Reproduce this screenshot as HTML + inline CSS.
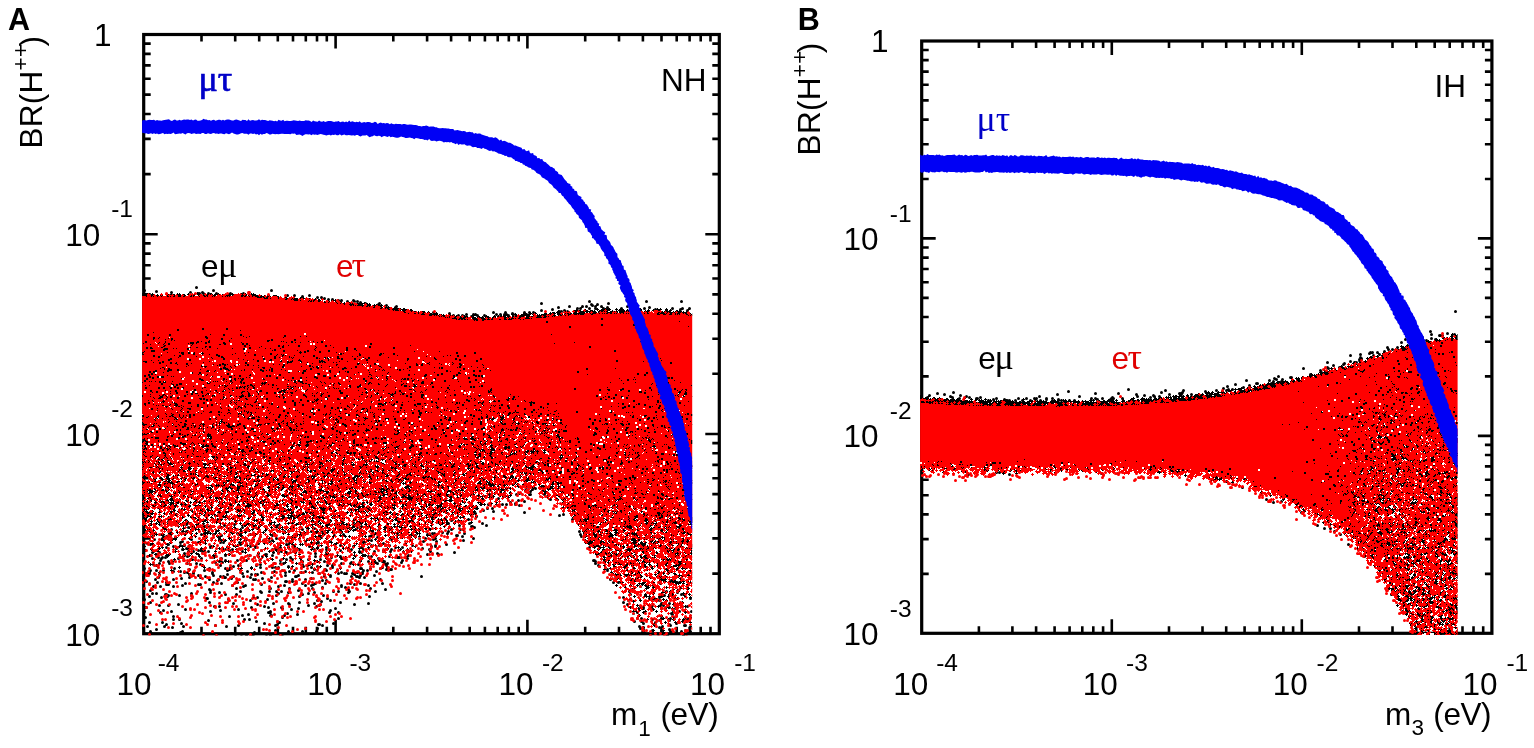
<!DOCTYPE html><html><head><meta charset="utf-8"><title>BR(H++) vs lightest neutrino mass</title><style>html,body{margin:0;padding:0;background:#fff}svg{display:block}text{font-family:"Liberation Sans",sans-serif;fill:#000}.g{font-family:"Liberation Serif","DejaVu Serif",serif}.d{fill:none;stroke-width:2.50;stroke-linecap:round;stroke-linejoin:round;shape-rendering:crispEdges}.D{fill:none;stroke-width:3;stroke-linecap:round}.s1{fill:none;stroke-width:1;stroke-linecap:square;shape-rendering:crispEdges}.s2{fill:none;stroke-width:2;stroke-linecap:square;shape-rendering:crispEdges}</style></head><body><svg width="1534" height="748" viewBox="0 0 1534 748"><rect width="1534" height="748" fill="#fff"/><rect x="143.7" y="34.5" width="575.6" height="599.2" fill="none" stroke="#000" stroke-width="3.2"/><path d="M201.5 34.5v7.0M201.5 633.7v-7.0M235.2 34.5v7.0M235.2 633.7v-7.0M259.2 34.5v7.0M259.2 633.7v-7.0M277.8 34.5v7.0M277.8 633.7v-7.0M293.0 34.5v7.0M293.0 633.7v-7.0M305.8 34.5v7.0M305.8 633.7v-7.0M317.0 34.5v7.0M317.0 633.7v-7.0M326.8 34.5v7.0M326.8 633.7v-7.0M335.6 34.5v14.0M335.6 633.7v-14.0M393.3 34.5v7.0M393.3 633.7v-7.0M427.1 34.5v7.0M427.1 633.7v-7.0M451.1 34.5v7.0M451.1 633.7v-7.0M469.7 34.5v7.0M469.7 633.7v-7.0M484.9 34.5v7.0M484.9 633.7v-7.0M497.7 34.5v7.0M497.7 633.7v-7.0M508.8 34.5v7.0M508.8 633.7v-7.0M518.7 34.5v7.0M518.7 633.7v-7.0M527.4 34.5v14.0M527.4 633.7v-14.0M585.2 34.5v7.0M585.2 633.7v-7.0M619.0 34.5v7.0M619.0 633.7v-7.0M642.9 34.5v7.0M642.9 633.7v-7.0M661.5 34.5v7.0M661.5 633.7v-7.0M676.7 34.5v7.0M676.7 633.7v-7.0M689.6 34.5v7.0M689.6 633.7v-7.0M700.7 34.5v7.0M700.7 633.7v-7.0M710.5 34.5v7.0M710.5 633.7v-7.0M143.7 573.6h7.0M719.3 573.6h-7.0M143.7 538.4h7.0M719.3 538.4h-7.0M143.7 513.4h7.0M719.3 513.4h-7.0M143.7 494.1h7.0M719.3 494.1h-7.0M143.7 478.3h7.0M719.3 478.3h-7.0M143.7 464.9h7.0M719.3 464.9h-7.0M143.7 453.3h7.0M719.3 453.3h-7.0M143.7 443.1h7.0M719.3 443.1h-7.0M143.7 434.0h14.0M719.3 434.0h-14.0M143.7 373.8h7.0M719.3 373.8h-7.0M143.7 338.7h7.0M719.3 338.7h-7.0M143.7 313.7h7.0M719.3 313.7h-7.0M143.7 294.4h7.0M719.3 294.4h-7.0M143.7 278.5h7.0M719.3 278.5h-7.0M143.7 265.2h7.0M719.3 265.2h-7.0M143.7 253.6h7.0M719.3 253.6h-7.0M143.7 243.4h7.0M719.3 243.4h-7.0M143.7 234.2h14.0M719.3 234.2h-14.0M143.7 174.1h7.0M719.3 174.1h-7.0M143.7 138.9h7.0M719.3 138.9h-7.0M143.7 114.0h7.0M719.3 114.0h-7.0M143.7 94.6h7.0M719.3 94.6h-7.0M143.7 78.8h7.0M719.3 78.8h-7.0M143.7 65.4h7.0M719.3 65.4h-7.0M143.7 53.9h7.0M719.3 53.9h-7.0M143.7 43.6h7.0M719.3 43.6h-7.0" stroke="#000" stroke-width="2.6" fill="none"/><rect x="921.7" y="41.0" width="570.2" height="592.3" fill="none" stroke="#000" stroke-width="3.2"/><path d="M978.9 41.0v7.0M978.9 633.3v-7.0M1012.4 41.0v7.0M1012.4 633.3v-7.0M1036.1 41.0v7.0M1036.1 633.3v-7.0M1054.6 41.0v7.0M1054.6 633.3v-7.0M1069.6 41.0v7.0M1069.6 633.3v-7.0M1082.3 41.0v7.0M1082.3 633.3v-7.0M1093.3 41.0v7.0M1093.3 633.3v-7.0M1103.1 41.0v7.0M1103.1 633.3v-7.0M1111.8 41.0v14.0M1111.8 633.3v-14.0M1169.0 41.0v7.0M1169.0 633.3v-7.0M1202.5 41.0v7.0M1202.5 633.3v-7.0M1226.2 41.0v7.0M1226.2 633.3v-7.0M1244.6 41.0v7.0M1244.6 633.3v-7.0M1259.7 41.0v7.0M1259.7 633.3v-7.0M1272.4 41.0v7.0M1272.4 633.3v-7.0M1283.4 41.0v7.0M1283.4 633.3v-7.0M1293.1 41.0v7.0M1293.1 633.3v-7.0M1301.8 41.0v14.0M1301.8 633.3v-14.0M1359.0 41.0v7.0M1359.0 633.3v-7.0M1392.5 41.0v7.0M1392.5 633.3v-7.0M1416.3 41.0v7.0M1416.3 633.3v-7.0M1434.7 41.0v7.0M1434.7 633.3v-7.0M1449.7 41.0v7.0M1449.7 633.3v-7.0M1462.5 41.0v7.0M1462.5 633.3v-7.0M1473.5 41.0v7.0M1473.5 633.3v-7.0M1483.2 41.0v7.0M1483.2 633.3v-7.0M921.7 573.9h7.0M1491.9 573.9h-7.0M921.7 539.1h7.0M1491.9 539.1h-7.0M921.7 514.4h7.0M1491.9 514.4h-7.0M921.7 495.3h7.0M1491.9 495.3h-7.0M921.7 479.7h7.0M1491.9 479.7h-7.0M921.7 466.4h7.0M1491.9 466.4h-7.0M921.7 455.0h7.0M1491.9 455.0h-7.0M921.7 444.9h7.0M1491.9 444.9h-7.0M921.7 435.9h14.0M1491.9 435.9h-14.0M921.7 376.4h7.0M1491.9 376.4h-7.0M921.7 341.7h7.0M1491.9 341.7h-7.0M921.7 317.0h7.0M1491.9 317.0h-7.0M921.7 297.9h7.0M1491.9 297.9h-7.0M921.7 282.2h7.0M1491.9 282.2h-7.0M921.7 269.0h7.0M1491.9 269.0h-7.0M921.7 257.6h7.0M1491.9 257.6h-7.0M921.7 247.5h7.0M1491.9 247.5h-7.0M921.7 238.4h14.0M1491.9 238.4h-14.0M921.7 179.0h7.0M1491.9 179.0h-7.0M921.7 144.2h7.0M1491.9 144.2h-7.0M921.7 119.6h7.0M1491.9 119.6h-7.0M921.7 100.4h7.0M1491.9 100.4h-7.0M921.7 84.8h7.0M1491.9 84.8h-7.0M921.7 71.6h7.0M1491.9 71.6h-7.0M921.7 60.1h7.0M1491.9 60.1h-7.0M921.7 50.0h7.0M1491.9 50.0h-7.0" stroke="#000" stroke-width="2.6" fill="none"/><clipPath id="ca"><rect x="142.1" y="36.0" width="550.1" height="599.4"/></clipPath><g clip-path="url(#ca)"><path d="M142 296.5h115M142 297.5h122M142 298.5h142M142 299.5h152M142 300.5h164M142 301.5h181M142 302.5h194M142 303.5h202M142 304.5h208M142 305.5h219M142 306.5h230M142 307.5h237M142 308.5h245M142 309.5h251M142 310.5h257M142 311.5h263M142 312.5h270M142 313.5h278M584 313.5h78M142 314.5h286M569 314.5h115M142 315.5h296M558 315.5h135M142 316.5h303M547 316.5h146M142 317.5h308M534 317.5h159M142 318.5h314M512 318.5h7M524 318.5h169M142 319.5h331M485 319.5h208M142 320.5h551M142 321.5h551M142 322.5h551M142 323.5h551M142 324.5h551M142 325.5h551M142 326.5h551M142 327.5h551M142 328.5h551M142 329.5h551M142 330.5h551M142 331.5h551M142 332.5h551M142 333.5h551M142 334.5h551M142 335.5h551M142 336.5h551M142 337.5h551M142 338.5h17M165 338.5h528M142 339.5h15M165 339.5h528M142 340.5h14M165 340.5h528M142 341.5h14M165 341.5h528M142 342.5h13M165 342.5h528M142 343.5h14M165 343.5h528M142 344.5h14M164 344.5h33M201 344.5h492M142 345.5h15M164 345.5h28M205 345.5h488M142 346.5h16M163 346.5h28M206 346.5h487M142 347.5h48M206 347.5h107M316 347.5h377M142 348.5h47M206 348.5h106M317 348.5h376M142 349.5h47M206 349.5h107M317 349.5h376M142 350.5h48M206 350.5h487M142 351.5h49M205 351.5h488M142 352.5h50M205 352.5h88M301 352.5h392M142 353.5h56M203 353.5h86M302 353.5h33M340 353.5h353M142 354.5h143M303 354.5h29M340 354.5h353M142 355.5h135M303 355.5h27M340 355.5h353M142 356.5h135M303 356.5h26M340 356.5h353M142 357.5h135M303 357.5h25M339 357.5h86M430 357.5h263M142 358.5h63M209 358.5h68M302 358.5h25M339 358.5h21M365 358.5h58M435 358.5h258M144 359.5h61M211 359.5h66M302 359.5h24M339 359.5h20M366 359.5h57M436 359.5h257M144 360.5h61M212 360.5h65M300 360.5h25M339 360.5h19M366 360.5h57M436 360.5h257M144 361.5h60M213 361.5h65M293 361.5h31M339 361.5h19M367 361.5h56M435 361.5h258M143 362.5h35M179 362.5h25M213 362.5h17M232 362.5h46M288 362.5h35M339 362.5h19M367 362.5h57M433 362.5h260M142 363.5h34M181 363.5h23M214 363.5h14M234 363.5h45M285 363.5h38M339 363.5h19M368 363.5h57M431 363.5h18M454 363.5h239M142 364.5h34M182 364.5h22M214 364.5h13M234 364.5h88M339 364.5h20M368 364.5h80M454 364.5h239M142 365.5h34M181 365.5h24M215 365.5h11M235 365.5h87M340 365.5h20M368 365.5h80M455 365.5h238M142 366.5h63M215 366.5h11M235 366.5h87M340 366.5h21M379 366.5h68M455 366.5h238M142 367.5h63M215 367.5h11M235 367.5h87M340 367.5h28M381 367.5h66M454 367.5h239M142 368.5h64M215 368.5h12M234 368.5h88M330 368.5h4M340 368.5h29M382 368.5h65M454 368.5h33M489 368.5h204M142 369.5h64M215 369.5h13M232 369.5h90M329 369.5h6M340 369.5h29M383 369.5h65M453 369.5h33M490 369.5h203M142 370.5h65M215 370.5h35M252 370.5h70M327 370.5h10M340 370.5h29M384 370.5h65M453 370.5h33M490 370.5h203M142 371.5h66M214 371.5h35M253 371.5h71M325 371.5h45M385 371.5h101M491 371.5h202M142 372.5h67M214 372.5h34M254 372.5h116M386 372.5h100M491 372.5h202M142 373.5h67M215 373.5h34M255 373.5h115M387 373.5h99M491 373.5h202M142 374.5h66M216 374.5h33M256 374.5h114M388 374.5h98M491 374.5h202M142 375.5h65M217 375.5h33M257 375.5h113M389 375.5h98M491 375.5h202M142 376.5h64M218 376.5h33M259 376.5h111M391 376.5h97M490 376.5h203M142 377.5h64M219 377.5h33M261 377.5h109M399 377.5h294M142 378.5h63M220 378.5h33M263 378.5h107M401 378.5h292M142 379.5h62M221 379.5h32M265 379.5h105M403 379.5h13M420 379.5h273M142 380.5h62M222 380.5h31M266 380.5h42M314 380.5h56M404 380.5h10M422 380.5h271M142 381.5h62M223 381.5h30M267 381.5h20M294 381.5h11M318 381.5h52M405 381.5h7M423 381.5h270M142 382.5h62M224 382.5h29M267 382.5h17M295 382.5h8M321 382.5h7M334 382.5h36M405 382.5h5M423 382.5h270M142 383.5h62M226 383.5h4M238 383.5h14M268 383.5h13M296 383.5h5M325 383.5h2M339 383.5h30M404 383.5h6M424 383.5h269M142 384.5h62M239 384.5h12M268 384.5h10M297 384.5h2M340 384.5h29M402 384.5h8M425 384.5h268M142 385.5h62M240 385.5h10M267 385.5h9M341 385.5h27M400 385.5h11M425 385.5h268M142 386.5h63M241 386.5h6M266 386.5h9M327 386.5h4M340 386.5h27M399 386.5h13M425 386.5h268M142 387.5h63M243 387.5h2M264 387.5h11M326 387.5h7M340 387.5h26M398 387.5h14M426 387.5h267M142 388.5h64M262 388.5h13M326 388.5h10M337 388.5h28M397 388.5h16M426 388.5h267M142 389.5h64M260 389.5h15M325 389.5h39M396 389.5h18M426 389.5h267M142 390.5h65M260 390.5h16M296 390.5h5M325 390.5h38M395 390.5h20M426 390.5h256M685 390.5h8M142 391.5h65M259 391.5h17M295 391.5h7M324 391.5h39M394 391.5h23M425 391.5h60M489 391.5h191M686 391.5h7M142 392.5h66M259 392.5h17M293 392.5h11M323 392.5h39M394 392.5h89M491 392.5h188M686 392.5h7M142 393.5h66M259 393.5h18M292 393.5h13M323 393.5h39M393 393.5h87M492 393.5h186M686 393.5h7M142 394.5h18M163 394.5h46M259 394.5h19M290 394.5h15M322 394.5h39M393 394.5h84M493 394.5h185M686 394.5h7M142 395.5h7M165 395.5h45M260 395.5h18M289 395.5h17M321 395.5h39M392 395.5h83M493 395.5h185M684 395.5h9M142 396.5h6M167 396.5h43M260 396.5h19M287 396.5h19M320 396.5h40M392 396.5h83M494 396.5h185M683 396.5h10M142 397.5h6M168 397.5h43M261 397.5h20M286 397.5h21M320 397.5h39M393 397.5h82M494 397.5h199M142 398.5h6M170 398.5h42M262 398.5h45M319 398.5h39M393 398.5h82M494 398.5h199M142 399.5h9M171 399.5h42M262 399.5h46M318 399.5h38M393 399.5h82M495 399.5h198M142 400.5h11M173 400.5h41M262 400.5h47M317 400.5h37M376 400.5h4M393 400.5h82M495 400.5h198M142 401.5h12M174 401.5h41M256 401.5h1M261 401.5h50M315 401.5h36M374 401.5h8M394 401.5h81M495 401.5h198M142 402.5h13M175 402.5h41M253 402.5h97M373 402.5h10M394 402.5h81M495 402.5h198M142 403.5h13M176 403.5h41M252 403.5h97M371 403.5h13M394 403.5h39M434 403.5h41M495 403.5h198M142 404.5h14M177 404.5h42M252 404.5h97M371 404.5h14M394 404.5h37M436 404.5h39M495 404.5h169M667 404.5h26M142 405.5h14M178 405.5h42M252 405.5h97M370 405.5h17M393 405.5h37M436 405.5h39M495 405.5h167M668 405.5h25M142 406.5h14M178 406.5h43M253 406.5h96M370 406.5h60M437 406.5h39M495 406.5h167M668 406.5h25M142 407.5h14M179 407.5h42M253 407.5h96M369 407.5h61M436 407.5h40M494 407.5h167M668 407.5h25M142 408.5h14M182 408.5h40M254 408.5h96M369 408.5h61M436 408.5h40M494 408.5h59M555 408.5h106M668 408.5h25M142 409.5h14M183 409.5h39M254 409.5h97M369 409.5h61M436 409.5h40M494 409.5h58M556 409.5h106M667 409.5h26M142 410.5h14M183 410.5h39M254 410.5h98M370 410.5h60M435 410.5h6M445 410.5h31M494 410.5h57M557 410.5h105M667 410.5h26M142 411.5h13M184 411.5h38M255 411.5h98M370 411.5h61M434 411.5h6M446 411.5h31M494 411.5h57M557 411.5h107M665 411.5h28M142 412.5h11M183 412.5h38M255 412.5h38M298 412.5h30M333 412.5h21M370 412.5h69M446 412.5h32M495 412.5h20M517 412.5h34M558 412.5h135M142 413.5h10M183 413.5h37M255 413.5h36M299 413.5h28M334 413.5h21M371 413.5h68M446 413.5h37M501 413.5h11M523 413.5h28M558 413.5h135M142 414.5h9M183 414.5h36M255 414.5h35M300 414.5h26M334 414.5h22M374 414.5h65M447 414.5h40M504 414.5h7M525 414.5h26M558 414.5h135M142 415.5h8M182 415.5h36M254 415.5h34M301 415.5h25M335 415.5h21M378 415.5h61M447 415.5h43M505 415.5h5M527 415.5h24M558 415.5h135M142 416.5h7M182 416.5h35M252 416.5h8M265 416.5h22M302 416.5h23M336 416.5h21M379 416.5h61M447 416.5h44M506 416.5h4M528 416.5h24M558 416.5h135M142 417.5h5M182 417.5h34M251 417.5h9M267 417.5h19M302 417.5h23M336 417.5h22M379 417.5h62M446 417.5h46M507 417.5h2M529 417.5h23M558 417.5h135M142 418.5h3M182 418.5h34M229 418.5h8M250 418.5h10M269 418.5h16M303 418.5h21M336 418.5h23M379 418.5h63M445 418.5h47M508 418.5h1M530 418.5h22M558 418.5h135M182 419.5h34M228 419.5h12M248 419.5h11M270 419.5h14M303 419.5h21M337 419.5h22M378 419.5h114M507 419.5h3M530 419.5h22M557 419.5h136M182 420.5h34M228 420.5h16M245 420.5h14M271 420.5h12M303 420.5h20M336 420.5h24M377 420.5h115M507 420.5h4M531 420.5h21M557 420.5h136M182 421.5h33M227 421.5h32M272 421.5h11M302 421.5h21M336 421.5h24M376 421.5h115M506 421.5h6M532 421.5h20M556 421.5h117M677 421.5h16M181 422.5h34M227 422.5h32M272 422.5h11M302 422.5h21M336 422.5h24M375 422.5h116M505 422.5h8M534 422.5h17M556 422.5h113M679 422.5h14M180 423.5h34M226 423.5h33M273 423.5h11M302 423.5h21M335 423.5h24M374 423.5h116M505 423.5h9M535 423.5h15M556 423.5h112M680 423.5h13M179 424.5h22M208 424.5h5M226 424.5h33M273 424.5h11M301 424.5h23M334 424.5h25M374 424.5h115M504 424.5h12M538 424.5h10M555 424.5h112M681 424.5h12M178 425.5h20M226 425.5h33M273 425.5h13M301 425.5h23M334 425.5h25M373 425.5h115M503 425.5h14M555 425.5h112M681 425.5h12M157 426.5h5M176 426.5h19M226 426.5h33M273 426.5h19M300 426.5h25M333 426.5h26M373 426.5h114M503 426.5h15M555 426.5h111M681 426.5h12M155 427.5h8M175 427.5h19M226 427.5h33M273 427.5h6M283 427.5h12M299 427.5h27M331 427.5h29M372 427.5h115M503 427.5h16M555 427.5h111M682 427.5h11M154 428.5h10M174 428.5h18M226 428.5h33M273 428.5h4M284 428.5h76M372 428.5h30M407 428.5h79M502 428.5h17M554 428.5h112M682 428.5h11M153 429.5h11M174 429.5h17M227 429.5h32M273 429.5h2M284 429.5h77M372 429.5h26M411 429.5h75M502 429.5h18M554 429.5h112M683 429.5h10M152 430.5h13M173 430.5h18M230 430.5h29M284 430.5h77M372 430.5h25M412 430.5h74M502 430.5h18M554 430.5h113M683 430.5h10M151 431.5h14M173 431.5h17M223 431.5h1M231 431.5h28M273 431.5h1M284 431.5h11M299 431.5h63M371 431.5h25M412 431.5h74M503 431.5h17M554 431.5h115M684 431.5h9M150 432.5h15M173 432.5h16M222 432.5h2M233 432.5h25M272 432.5h3M284 432.5h10M300 432.5h39M340 432.5h24M371 432.5h24M412 432.5h74M503 432.5h16M555 432.5h77M634 432.5h36M684 432.5h9M149 433.5h17M173 433.5h16M221 433.5h3M234 433.5h24M271 433.5h5M283 433.5h9M301 433.5h35M341 433.5h26M369 433.5h26M412 433.5h75M504 433.5h15M556 433.5h74M636 433.5h35M684 433.5h9M148 434.5h18M173 434.5h15M221 434.5h2M235 434.5h23M271 434.5h7M281 434.5h10M302 434.5h31M341 434.5h54M412 434.5h75M505 434.5h13M557 434.5h72M637 434.5h34M685 434.5h8M148 435.5h18M172 435.5h16M221 435.5h2M235 435.5h23M270 435.5h21M303 435.5h28M342 435.5h53M412 435.5h75M506 435.5h10M558 435.5h71M639 435.5h33M685 435.5h8M148 436.5h19M172 436.5h15M221 436.5h1M236 436.5h22M270 436.5h20M304 436.5h26M342 436.5h53M412 436.5h75M560 436.5h69M640 436.5h32M685 436.5h8M147 437.5h21M171 437.5h16M205 437.5h2M236 437.5h22M269 437.5h21M305 437.5h24M342 437.5h53M412 437.5h44M471 437.5h16M561 437.5h67M642 437.5h30M685 437.5h8M147 438.5h40M204 438.5h5M236 438.5h23M268 438.5h22M306 438.5h23M343 438.5h52M412 438.5h42M473 438.5h14M563 438.5h65M643 438.5h6M652 438.5h20M684 438.5h9M147 439.5h40M204 439.5h7M237 439.5h22M268 439.5h22M307 439.5h21M343 439.5h52M411 439.5h41M474 439.5h13M564 439.5h64M653 439.5h20M684 439.5h9M146 440.5h40M204 440.5h10M237 440.5h23M267 440.5h22M307 440.5h21M344 440.5h50M411 440.5h39M474 440.5h12M565 440.5h63M654 440.5h19M683 440.5h10M145 441.5h41M203 441.5h16M237 441.5h24M266 441.5h23M308 441.5h20M346 441.5h48M411 441.5h29M444 441.5h4M475 441.5h11M529 441.5h7M566 441.5h62M655 441.5h18M682 441.5h11M145 442.5h41M203 442.5h16M236 442.5h27M264 442.5h25M308 442.5h20M348 442.5h45M410 442.5h30M476 442.5h9M528 442.5h9M569 442.5h59M655 442.5h19M681 442.5h12M145 443.5h41M203 443.5h16M236 443.5h53M308 443.5h20M350 443.5h40M410 443.5h30M476 443.5h9M527 443.5h10M572 443.5h56M655 443.5h19M679 443.5h14M145 444.5h41M203 444.5h16M236 444.5h53M309 444.5h20M351 444.5h36M409 444.5h32M477 444.5h7M526 444.5h12M575 444.5h53M656 444.5h19M677 444.5h16M146 445.5h24M174 445.5h12M204 445.5h14M236 445.5h52M309 445.5h20M352 445.5h34M409 445.5h33M477 445.5h6M525 445.5h13M576 445.5h51M656 445.5h37M147 446.5h21M176 446.5h9M204 446.5h14M236 446.5h51M308 446.5h21M353 446.5h32M408 446.5h35M478 446.5h4M525 446.5h13M576 446.5h51M656 446.5h37M148 447.5h18M179 447.5h5M205 447.5h12M236 447.5h49M308 447.5h20M354 447.5h31M407 447.5h38M479 447.5h2M524 447.5h13M576 447.5h50M656 447.5h37M149 448.5h16M206 448.5h11M236 448.5h47M307 448.5h21M354 448.5h30M397 448.5h2M406 448.5h39M524 448.5h13M576 448.5h50M656 448.5h37M150 449.5h15M208 449.5h8M230 449.5h6M241 449.5h40M299 449.5h28M355 449.5h29M396 449.5h6M405 449.5h39M523 449.5h13M576 449.5h49M656 449.5h37M151 450.5h14M211 450.5h3M227 450.5h9M243 450.5h36M297 450.5h29M357 450.5h27M395 450.5h48M523 450.5h10M576 450.5h49M656 450.5h37M152 451.5h13M226 451.5h10M244 451.5h34M296 451.5h29M359 451.5h13M376 451.5h7M395 451.5h48M523 451.5h7M576 451.5h48M656 451.5h37M153 452.5h12M225 452.5h11M245 452.5h32M295 452.5h29M361 452.5h8M379 452.5h4M395 452.5h47M524 452.5h4M576 452.5h48M644 452.5h5M655 452.5h38M154 453.5h11M224 453.5h12M246 453.5h30M295 453.5h28M363 453.5h3M395 453.5h18M418 453.5h24M576 453.5h48M643 453.5h50M156 454.5h9M223 454.5h14M246 454.5h30M294 454.5h27M395 454.5h17M420 454.5h21M542 454.5h6M577 454.5h48M642 454.5h51M157 455.5h8M223 455.5h13M247 455.5h29M294 455.5h26M395 455.5h17M421 455.5h20M541 455.5h8M578 455.5h47M640 455.5h53M158 456.5h7M222 456.5h14M248 456.5h28M294 456.5h24M395 456.5h16M422 456.5h19M541 456.5h8M579 456.5h47M638 456.5h55M159 457.5h6M222 457.5h14M250 457.5h25M294 457.5h23M395 457.5h16M422 457.5h20M541 457.5h9M580 457.5h47M635 457.5h58M161 458.5h2M221 458.5h14M262 458.5h13M295 458.5h20M395 458.5h16M423 458.5h19M541 458.5h9M580 458.5h49M631 458.5h62M221 459.5h14M263 459.5h11M296 459.5h17M395 459.5h15M423 459.5h20M486 459.5h4M541 459.5h9M580 459.5h113M220 460.5h14M265 460.5h7M297 460.5h14M396 460.5h14M424 460.5h19M462 460.5h6M485 460.5h6M542 460.5h9M563 460.5h8M580 460.5h113M220 461.5h13M267 461.5h3M298 461.5h11M397 461.5h13M424 461.5h20M461 461.5h9M485 461.5h7M542 461.5h9M561 461.5h11M580 461.5h113M220 462.5h12M300 462.5h8M398 462.5h11M426 462.5h18M460 462.5h11M485 462.5h7M542 462.5h10M560 462.5h13M580 462.5h72M656 462.5h37M220 463.5h10M301 463.5h6M401 463.5h8M431 463.5h13M460 463.5h11M486 463.5h6M543 463.5h9M558 463.5h16M580 463.5h72M657 463.5h36M221 464.5h6M303 464.5h3M403 464.5h5M432 464.5h12M459 464.5h12M487 464.5h4M543 464.5h11M556 464.5h19M580 464.5h72M657 464.5h36M432 465.5h12M459 465.5h11M488 465.5h3M543 465.5h32M580 465.5h72M657 465.5h36M433 466.5h11M459 466.5h11M489 466.5h2M543 466.5h32M580 466.5h72M657 466.5h26M692 466.5h1M433 467.5h10M460 467.5h9M490 467.5h1M504 467.5h4M543 467.5h33M581 467.5h72M656 467.5h24M434 468.5h9M460 468.5h8M490 468.5h1M502 468.5h8M543 468.5h33M583 468.5h96M435 469.5h7M460 469.5h7M501 469.5h9M524 469.5h2M543 469.5h33M587 469.5h92M436 470.5h6M460 470.5h7M500 470.5h10M544 470.5h33M589 470.5h90M691 470.5h2M437 471.5h4M460 471.5h6M500 471.5h10M544 471.5h33M589 471.5h90M690 471.5h3M460 472.5h5M499 472.5h11M544 472.5h34M589 472.5h90M689 472.5h4M460 473.5h4M499 473.5h10M545 473.5h33M589 473.5h90M688 473.5h5M461 474.5h2M498 474.5h11M550 474.5h29M589 474.5h91M687 474.5h6M499 475.5h9M554 475.5h26M588 475.5h92M686 475.5h7M499 476.5h8M555 476.5h125M686 476.5h7M199 477.5h5M501 477.5h3M556 477.5h51M610 477.5h71M685 477.5h8M199 478.5h5M557 478.5h48M611 478.5h71M684 478.5h9M199 479.5h5M557 479.5h47M612 479.5h37M659 479.5h34M201 480.5h2M557 480.5h46M612 480.5h34M662 480.5h31M558 481.5h44M613 481.5h31M664 481.5h29M558 482.5h44M613 482.5h29M666 482.5h27M559 483.5h42M613 483.5h27M669 483.5h24M560 484.5h40M613 484.5h23M672 484.5h21M560 485.5h39M614 485.5h21M674 485.5h19M561 486.5h37M614 486.5h21M675 486.5h18M561 487.5h27M614 487.5h21M676 487.5h17M561 488.5h24M614 488.5h21M676 488.5h17M562 489.5h22M615 489.5h20M676 489.5h17M562 490.5h21M615 490.5h21M655 490.5h6M675 490.5h18M562 491.5h21M616 491.5h20M649 491.5h14M675 491.5h18M563 492.5h20M617 492.5h19M644 492.5h20M674 492.5h19M563 493.5h20M618 493.5h19M643 493.5h22M674 493.5h19M564 494.5h18M621 494.5h16M643 494.5h22M673 494.5h20M565 495.5h17M623 495.5h14M643 495.5h22M673 495.5h20M565 496.5h17M624 496.5h12M643 496.5h22M673 496.5h20M566 497.5h16M625 497.5h11M644 497.5h21M674 497.5h19M568 498.5h14M589 498.5h2M626 498.5h9M644 498.5h21M675 498.5h18M569 499.5h13M586 499.5h8M627 499.5h7M644 499.5h20M676 499.5h17M570 500.5h12M584 500.5h11M628 500.5h5M644 500.5h19M678 500.5h15M571 501.5h24M644 501.5h19M679 501.5h14M571 502.5h25M644 502.5h18M680 502.5h13M572 503.5h24M644 503.5h17M681 503.5h12M572 504.5h24M644 504.5h16M682 504.5h11M573 505.5h22M643 505.5h17M683 505.5h10M573 506.5h22M643 506.5h16M684 506.5h9M574 507.5h17M643 507.5h16M685 507.5h8M574 508.5h14M643 508.5h16M686 508.5h7M575 509.5h12M643 509.5h16M686 509.5h7M576 510.5h9M643 510.5h16M687 510.5h6M577 511.5h6M643 511.5h16M687 511.5h6M579 512.5h2M643 512.5h16M688 512.5h5M643 513.5h17M676 513.5h6M690 513.5h3M643 514.5h18M672 514.5h12M615 515.5h3M646 515.5h18M666 515.5h19M613 516.5h7M654 516.5h31M612 517.5h9M656 517.5h28M611 518.5h12M658 518.5h25M610 519.5h14M660 519.5h22M610 520.5h15M662 520.5h17M609 521.5h16M663 521.5h14M609 522.5h16M665 522.5h10M609 523.5h16M667 523.5h6M609 524.5h16M594 525.5h2M609 525.5h15M593 526.5h4M609 526.5h14M593 527.5h4M609 527.5h13M593 528.5h4M610 528.5h10M593 529.5h4M611 529.5h8M594 530.5h1M613 530.5h3" stroke="#f00" stroke-width="1.2" fill="none"/><path class="s1" stroke="#000" d="M170.5 296.5zm57 0zm122 8zm59 9zm253 0zm-2 1zm20 0zm-131 2zm-101 1zm89 0zm1 0zm-46 2zm188 2zm9 5zm-448 4zm-87 2zm57 2zm341 0zm-308 2zm6 0zm51 0zm6 0zm-60 1zm37 0zm-115 1zm63 0zm-78 1zm18 1zm3 0zm35 0zm20 0zm40 0zm-68 1zm28 0zm52 0zm2 0zm25 0zm5 0zm327 0zm-399 1zm45 0zm9 0zm5 0zm17 0zm257 0zm-431 1zm45 0zm366 0zm-404 1zm69 0zm1 0zm-55 1zm84 0zm34 0zm5 0zm42 0zm80 0zm-246 1zm97 0zm-101 1zm99 0zm74 0zm-181 1zm13 0zm8 0zm3 0zm41 0zm15 0zm33 0zm5 0zm10 0zm-73 1zm65 1zm25 0zm59 0zm-212 1zm185 0zm85 0zm25 0zm209 0zm-505 1zm24 0zm12 0zm4 0zm65 0zm-56 1zm43 0zm9 0zm99 0zm16 0zm24 0zm-240 1zm40 0zm26 0zm23 0zm-71 1zm13 0zm71 0zm152 0zm50 0zm3 0zm-254 1zm66 0zm90 0zm5 0zm69 0zm17 0zm-265 1zm33 0zm12 0zm140 0zm25 0zm-179 1zm3 0zm26 0zm81 0zm6 0zm29 0zm306 0zm-417 1zm10 0zm-102 1zm7 0zm89 0zm72 0zm58 0zm30 0zm254 0zm-314 1zm296 0zm-490 1zm17 0zm33 0zm104 0zm60 0zm-176 1zm36 0zm85 0zm93 0zm11 0zm6 0zm17 0zm-201 1zm35 0zm33 0zm135 0zm20 0zm21 0zm-316 1zm22 0zm29 0zm7 0zm21 0zm8 0zm5 0zm225 0zm-297 1zm115 0zm11 0zm44 0zm115 0zm-309 1zm1 0zm95 0zm4 0zm8 0zm43 0zm77 0zm44 0zm5 0zm18 0zm20 0zm6 0zm-323 1zm4 0zm182 0zm5 0zm56 0zm32 0zm176 0zm-451 1zm36 0zm44 0zm25 0zm12 0zm25 0zm91 0zm6 0zm-234 1zm37 0zm35 0zm3 0zm22 0zm3 0zm2 0zm14 0zm124 0zm51 0zm-170 1zm8 0zm41 0zm6 0zm-182 1zm167 0zm9 0zm19 0zm30 0zm46 0zm24 0zm1 0zm-142 1zm143 0zm-305 1zm43 0zm3 0zm153 0zm60 0zm60 0zm113 0zm-420 1zm67 0zm-63 1zm2 0zm48 0zm8 0zm118 0zm21 0zm-122 1zm3 0zm34 0zm23 0zm44 0zm104 0zm28 0zm152 0zm-453 1zm57 0zm2 0zm111 0zm60 0zm15 0zm26 0zm167 0zm-393 1zm5 0zm54 0zm172 0zm176 0zm2 0zm-443 1zm31 0zm12 0zm386 0zm53 0zm-525 1zm2 0zm4 0zm17 0zm54 0zm123 0zm17 0zm92 0zm203 0zm-519 1zm181 0zm155 0zm6 0zm126 0zm25 0zm45 0zm-509 1zm70 0zm10 0zm74 0zm40 0zm41 0zm217 0zm29 0zm-292 1zm70 0zm221 0zm-506 1zm4 0zm53 0zm1 0zm246 0zm207 0zm2 0zm33 0zm-522 1zm24 0zm51 0zm165 0zm51 0zm19 0zm-207 1zm78 0zm91 0zm166 0zm-405 1zm127 0zm17 0zm145 0zm-231 1zm149 0zm1 0zm1 0zm38 0zm158 0zm44 0zm-486 1zm29 0zm164 0zm88 0zm8 0zm10 0zm181 0zm6 0zm26 0zm-507 1zm246 0zm22 0zm7 0zm-293 1zm175 0zm74 0zm46 0zm216 0zm-493 1zm27 0zm5 0zm202 0zm203 0zm-420 1zm19 0zm194 0zm63 0zm47 0zm148 0zm-491 1zm5 0zm26 0zm7 0zm86 0zm159 0zm178 0zm47 0zm2 0zm7 0zm-500 1zm80 0zm12 0zm191 0zm3 0zm48 0zm87 0zm47 0zm40 0zm-247 1zm158 0zm58 0zm-462 1zm224 0zm15 0zm33 0zm140 0zm61 0zm-346 1zm13 0zm99 0zm68 0zm9 0zm90 0zm1 0zm42 0zm-500 1zm3 0zm32 0zm138 0zm57 0zm15 0zm21 0zm60 0zm50 0zm-260 1zm144 0zm117 0zm6 0zm157 0zm-389 1zm103 0zm44 0zm6 0zm7 0zm5 0zm65 0zm3 0zm128 0zm-391 1zm25 0zm23 0zm23 0zm84 0zm1 0zm34 0zm97 0zm62 0zm48 0zm-513 1zm302 0zm181 0zm20 0zm19 0zm-530 1zm36 0zm26 0zm49 0zm2 0zm167 0zm74 0zm185 0zm-501 1zm8 0zm16 0zm171 0zm2 0zm36 0zm6 0zm189 0zm7 0zm34 0zm-385 1zm57 0zm7 0zm10 0zm97 0zm19 0zm1 0zm85 0zm4 0zm-360 1zm1 0zm14 0zm54 0zm2 0zm31 0zm133 0zm25 0zm19 0zm77 0zm58 0zm-266 1zm11 0zm32 0zm2 0zm34 0zm30 0zm14 0zm80 0zm-270 1zm27 0zm2 0zm33 0zm70 0zm4 0zm7 0zm43 0zm61 0zm18 0zm15 0zm63 0zm-408 1zm190 0zm32 0zm80 0zm108 0zm-425 1zm10 0zm11 0zm10 0zm51 0zm102 0zm32 0zm15 0zm9 0zm4 0zm6 0zm65 0zm33 0zm90 0zm2 0zm4 0zm-431 1zm68 0zm71 0zm5 0zm1 0zm28 0zm10 0zm292 0zm11 0zm-497 1zm83 0zm50 0zm12 0zm12 0zm252 0zm86 0zm-499 1zm120 0zm114 0zm69 0zm19 0zm24 0zm98 0zm3 0zm13 0zm10 0zm24 0zm-424 1zm9 0zm73 0zm1 0zm54 0zm88 0zm-296 1zm156 0zm15 0zm300 0zm-372 1zm74 0zm47 0zm67 0zm63 0zm65 0zm5 0zm32 0zm-292 1zm9 0zm49 0zm1 0zm16 0zm26 0zm93 0zm79 0zm39 0zm25 0zm-437 1zm70 0zm23 0zm12 0zm37 0zm74 0zm83 0zm50 0zm-356 1zm64 0zm1 0zm80 0zm36 0zm37 0zm9 0zm7 0zm14 0zm136 0zm5 0zm45 0zm18 0zm-436 1zm19 0zm8 0zm37 0zm59 0zm-185 1zm1 0zm35 0zm75 0zm110 0zm99 0zm32 0zm5 0zm56 0zm11 0zm4 0zm24 0zm-458 1zm126 0zm8 0zm38 0zm89 0zm6 0zm52 0zm57 0zm30 0zm1 0zm9 0zm2 0zm7 0zm15 0zm66 0zm-501 1zm2 0zm62 0zm81 0zm151 0zm24 0zm55 0zm98 0zm24 0zm-454 1zm2 0zm8 0zm170 0zm3 0zm11 0zm11 0zm12 0zm114 0zm88 0zm-462 1zm131 0zm13 0zm74 0zm56 0zm100 0zm43 0zm20 0zm29 0zm-483 1zm65 0zm52 0zm10 0zm1 0zm95 0zm49 0zm60 0zm-326 1zm6 0zm139 0zm69 0zm80 0zm4 0zm3 0zm27 0zm5 0zm46 0zm2 0zm46 0zm7 0zm27 0zm13 0zm-474 1zm70 0zm5 0zm38 0zm4 0zm1 0zm21 0zm31 0zm2 0zm1 0zm42 0zm20 0zm62 0zm35 0zm-360 1zm101 0zm1 0zm56 0zm102 0zm33 0zm111 0zm43 0zm9 0zm27 0zm-294 1zm6 0zm2 0zm155 0zm144 0zm1 0zm-403 1zm65 0zm156 0zm9 0zm-294 1zm61 0zm39 0zm159 0zm72 0zm114 0zm-406 1zm33 0zm1 0zm89 0zm9 0zm14 0zm116 0zm164 0zm-32 1zm-468 1zm4 0zm1 0zm94 0zm75 0zm41 0zm6 0zm15 0zm57 0zm122 0zm15 0zm24 0zm14 0zm52 0zm-510 1zm50 0zm29 0zm140 0zm2 0zm13 0zm84 0zm3 0zm97 0zm29 0zm-394 1zm30 0zm7 0zm11 0zm96 0zm257 0zm78 0zm-531 1zm90 0zm34 0zm28 0zm3 0zm53 0zm118 0zm207 0zm-533 1zm53 0zm31 0zm36 0zm31 0zm45 0zm-75 1zm133 0zm23 0zm179 0zm43 0zm29 0zm-506 1zm68 0zm78 0zm50 0zm104 0zm54 0zm77 0zm-459 1zm12 0zm39 0zm3 0zm5 0zm62 0zm11 0zm82 0zm115 0zm143 0zm40 0zm2 0zm-518 1zm10 0zm8 0zm11 0zm6 0zm71 0zm4 0zm66 0zm30 0zm176 0zm88 0zm56 0zm6 0zm-527 1zm24 0zm69 0zm73 0zm43 0zm54 0zm24 0zm178 0zm5 0zm39 0zm6 0zm-488 1zm56 0zm81 0zm49 0zm67 0zm177 0zm58 0zm2 0zm-510 1zm88 0zm22 0zm53 0zm59 0zm1 0zm39 0zm4 0zm172 0zm18 0zm56 0zm11 0zm-452 1zm22 0zm4 0zm12 0zm53 0zm106 0zm172 0zm5 0zm-342 1zm49 0zm47 0zm8 0zm1 0zm42 0zm113 0zm-364 1zm138 0zm121 0zm107 0zm93 0zm-349 1zm126 0zm6 0zm39 0zm-211 1zm77 0zm5 0zm-75 1zm10 0zm2 0zm160 0zm21 0zm5 0zm235 0zm-54 1zm73 0zm-422 1zm330 0zm13 0zm7 0zm-394 1zm2 0zm80 0zm304 0zm17 0zm-318 1zm279 0zm48 0zm5 0zm-237 1zm40 0zm172 0zm45 0zm-389 1zm351 0zm5 0zm-325 1zm125 0zm4 0zm191 0zm10 0zm27 0zm-428 1zm172 0zm24 0zm119 0zm113 0zm12 0zm-231 1zm168 0zm29 0zm25 0zm26 0zm-382 1zm102 0zm59 0zm117 0zm85 0zm3 0zm6 0zm-242 1zm1 0zm3 0zm199 0zm27 0zm-206 1zm89 0zm2 0zm95 0zm13 0zm12 0zm-60 1zm-173 1zm173 0zm14 0zm19 0zm-203 1zm169 0zm54 0zm6 0zm2 0zm6 0zm-171 1zm46 0zm46 0zm37 0zm31 0zm-97 1zm3 0zm73 0zm-43 1zm17 0zm59 0zm-102 1zm115 0zm-193 1zm4 0zm48 0zm5 0zm17 0zm73 1zm9 0zm11 0zm-466 2zm357 0zm7 0zm12 0zm88 0zm17 0zm5 0zm-482 1zm380 0zm41 0zm34 0zm19 0zm-47 1zm4 0zm14 0zm-71 1zm54 0zm38 0zm23 0zm-93 2zm32 0zm-62 1zm5 0zm11 0zm44 0zm3 0zm39 0zm7 0zm2 0zm-87 1zm-31 1zm52 0zm69 0zm-3 1zm-55 1zm-7 1zm-41 1zm114 0zm-63 1zm48 1zm-42 2zm13 0zm-79 1zm77 0zm47 0zm-119 1zm109 0zm1 0zm1 0zm-119 1zm1 0zm91 0zm25 0zm-22 1zm0 1zm-69 1zm101 0zm-106 1zm105 0zm-35 1zm-83 1zm11 0zm103 0zm-109 1zm77 1zm28 0zm4 0zm-35 1zm1 1zm34 1zm-37 1zm4 1zm1 0zm34 3zm-42 2zm14 1zm18 0zm-24 1zm18 0zm-60 1zm59 0zm-53 1zm61 0zm-70 1zm11 0zm46 0zm5 0zm-53 1zm43 0zm5 0zm3 0zm-49 1zm0 1zm-8 1zm56 0zm-56 3zm3 0zm4 0zm-8 1zm1 0zm0 1zm0 2z"/><path class="s2" stroke="#000" d="M179 296zm1 0zm145 6zm34 3zm1 0zm7 1zm38 6zm223 1zm-36 1zm66 0zm-120 3zm-13 1zm-38 1zm22 0zm93 0zm-55 3zm55 3zm32 0zm-64 2zm-367 2zm24 0zm-49 1zm-30 5zm22 0zm54 0zm17 0zm44 1zm-79 1zm-52 1zm53 0zm-35 1zm50 0zm-57 1zm107 0zm23 0zm-130 1zm103 0zm-122 1zm52 0zm11 0zm83 0zm30 0zm-131 1zm2 0zm4 0zm9 0zm18 0zm-55 1zm56 0zm18 0zm4 0zm124 0zm-126 2zm34 0zm20 0zm27 0zm-116 1zm73 0zm87 0zm220 0zm-443 1zm4 0zm99 0zm97 0zm47 0zm-229 1zm2 0zm21 0zm56 0zm111 0zm-191 1zm111 0zm72 0zm-195 1zm2 0zm130 0zm24 0zm21 0zm286 0zm-310 1zm15 0zm-178 1zm40 0zm7 0zm268 0zm18 0zm-333 1zm41 0zm11 0zm77 0zm70 0zm40 0zm13 0zm-177 1zm38 0zm105 0zm20 0zm-226 1zm26 0zm39 0zm95 0zm144 0zm7 0zm-306 1zm63 0zm53 0zm0 1zm42 0zm8 0zm44 0zm-198 1zm53 0zm40 0zm78 0zm13 0zm53 0zm48 0zm25 0zm-312 1zm21 0zm81 0zm96 0zm93 0zm-202 1zm12 0zm52 0zm155 0zm140 0zm-471 1zm17 0zm138 0zm19 0zm-160 1zm11 0zm75 0zm425 0zm-484 1zm36 0zm135 0zm17 0zm85 0zm-240 1zm5 0zm23 0zm36 0zm133 0zm5 0zm39 0zm-259 1zm108 0zm-85 1zm58 0zm34 0zm39 0zm54 0zm50 0zm-236 1zm40 0zm54 0zm27 0zm97 0zm-273 1zm52 0zm5 0zm46 0zm39 0zm32 0zm121 0zm123 0zm-416 1zm7 0zm74 0zm9 0zm139 0zm-244 1zm12 0zm39 0zm56 0zm9 0zm32 0zm1 0zm25 0zm117 0zm27 0zm6 0zm-330 1zm4 0zm135 0zm59 0zm230 0zm-386 1zm8 0zm103 0zm156 0zm188 0zm-495 1zm76 0zm91 0zm42 0zm81 0zm24 0zm172 0zm-489 1zm131 0zm129 0zm17 0zm12 0zm19 0zm17 0zm171 0zm-500 1zm95 0zm27 0zm3 0zm54 0zm1 0zm10 0zm90 0zm29 0zm22 0zm3 0zm3 0zm-332 1zm8 0zm4 0zm1 0zm67 0zm1 0zm84 0zm-162 1zm124 0zm16 0zm8 0zm16 0zm13 0zm124 0zm15 0zm199 0zm1 0zm3 0zm-525 1zm53 0zm24 0zm11 0zm8 0zm121 0zm41 0zm3 0zm27 0zm-233 1zm40 0zm234 0zm152 0zm-483 1zm86 0zm64 0zm4 0zm67 0zm79 0zm-285 1zm4 0zm1 0zm76 0zm54 0zm6 0zm1 0zm168 0zm188 0zm-414 1zm188 0zm236 0zm-506 1zm18 0zm1 0zm-8 1zm4 0zm96 0zm55 1zm22 0zm10 0zm45 0zm1 0zm76 0zm187 0zm-494 1zm183 0zm75 0zm38 0zm3 0zm193 0zm-521 1zm13 0zm5 0zm7 0zm7 0zm5 0zm265 0zm202 0zm-75 1zm48 0zm52 0zm-480 1zm101 0zm195 0zm109 0zm9 0zm12 0zm65 0zm-535 1zm25 0zm85 0zm34 0zm45 0zm60 0zm229 0zm-484 1zm12 0zm30 0zm6 0zm9 0zm193 0zm245 0zm1 0zm18 0zm-482 1zm15 0zm4 0zm71 0zm8 0zm66 0zm1 0zm53 0zm250 0zm-453 1zm211 0zm8 0zm259 0zm16 0zm-382 1zm118 0zm1 0zm32 0zm161 0zm-474 1zm43 0zm18 0zm118 0zm8 0zm18 0zm60 0zm190 0zm87 0zm-513 1zm222 0zm18 0zm11 0zm92 0zm95 0zm13 0zm26 0zm-470 1zm148 0zm19 0zm164 0zm105 0zm13 0zm-426 1zm3 0zm63 0zm60 0zm11 0zm175 0zm88 0zm-394 1zm4 0zm90 0zm78 0zm88 0zm41 0zm-325 1zm110 0zm15 0zm161 0zm30 0zm135 0zm24 0zm-373 1zm28 0zm84 0zm35 0zm226 0zm8 0zm5 0zm-522 1zm40 0zm1 0zm14 0zm55 0zm36 0zm141 0zm21 0zm74 0zm3 0zm138 0zm8 0zm-535 1zm127 0zm107 0zm2 0zm37 0zm2 0zm128 0zm75 0zm16 0zm-441 1zm14 0zm83 0zm8 0zm80 0zm19 0zm13 0zm48 0zm39 0zm29 0zm114 0zm23 0zm-470 1zm127 0zm23 0zm160 0zm10 0zm111 0zm31 0zm14 0zm-495 1zm84 0zm15 0zm263 0zm84 0zm9 0zm16 0zm-448 1zm130 0zm6 0zm32 0zm31 0zm36 0zm63 0zm9 0zm114 0zm36 0zm-507 1zm38 0zm123 0zm32 0zm180 0zm-206 1zm65 0zm150 0zm-250 1zm27 0zm29 0zm79 0zm27 0zm5 0zm-263 1zm23 0zm8 0zm93 0zm86 0zm28 0zm30 0zm76 0zm45 0zm34 0zm45 0zm-368 1zm11 0zm114 0zm8 0zm89 0zm-207 1zm11 0zm106 0zm89 0zm32 0zm147 0zm-498 1zm4 0zm86 0zm69 0zm122 0zm77 0zm67 0zm77 0zm-549 1zm40 0zm103 0zm188 0zm34 0zm31 0zm106 0zm-455 1zm69 0zm20 0zm31 0zm109 0zm68 0zm21 0zm21 0zm104 0zm30 0zm19 0zm-430 1zm2 0zm87 0zm109 0zm32 0zm167 0zm5 0zm-444 1zm176 0zm2 0zm7 0zm84 0zm11 0zm58 0zm42 0zm58 0zm39 0zm-429 1zm18 0zm83 0zm20 0zm62 0zm8 0zm1 0zm37 0zm60 0zm14 0zm34 0zm11 0zm10 0zm24 0zm-454 1zm193 0zm88 0zm133 0zm52 0zm-471 1zm132 0zm5 0zm20 0zm58 0zm60 0zm25 0zm56 0zm-128 1zm29 0zm27 0zm73 0zm23 0zm32 0zm-408 1zm55 0zm39 0zm64 0zm12 0zm57 0zm30 0zm30 0zm9 0zm23 0zm11 0zm28 0zm3 0zm61 0zm15 0zm7 0zm-450 1zm50 0zm9 0zm80 0zm27 0zm32 0zm4 0zm18 0zm224 0zm30 0zm-468 1zm42 0zm6 0zm11 0zm14 0zm22 0zm53 0zm13 0zm88 0zm228 0zm-479 1zm46 0zm2 0zm141 0zm217 0zm76 0zm-491 1zm14 0zm57 0zm45 0zm42 0zm103 0zm13 0zm36 0zm33 0zm79 0zm31 0zm21 0zm-494 1zm6 0zm28 0zm44 0zm20 0zm1 0zm71 0zm9 0zm44 0zm55 0zm4 0zm46 0zm115 0zm17 0zm24 0zm-464 1zm3 0zm114 0zm3 0zm149 0zm13 0zm46 0zm1 0zm8 0zm5 0zm110 0zm-371 1zm82 0zm21 0zm65 0zm29 0zm11 0zm93 0zm8 0zm2 0zm42 0zm37 0zm-493 1zm5 0zm79 0zm70 0zm253 0zm72 0zm24 0zm-482 1zm74 0zm100 0zm97 0zm151 0zm12 0zm10 0zm10 0zm-447 1zm63 0zm112 0zm105 0zm12 0zm12 0zm112 0zm91 0zm-334 1zm76 0zm129 0zm36 0zm-409 1zm136 0zm125 0zm27 0zm193 0zm-483 1zm66 0zm56 0zm3 0zm15 0zm284 0zm-451 1zm2 0zm21 0zm91 0zm54 0zm52 0zm9 0zm261 0zm-273 1zm9 0zm50 0zm52 0zm94 0zm41 0zm-452 1zm199 0zm54 0zm2 0zm14 0zm-232 1zm43 0zm26 0zm5 0zm33 0zm10 0zm33 0zm58 0zm63 0zm55 0zm40 0zm47 0zm75 0zm-545 1zm95 0zm66 0zm9 0zm164 0zm98 0zm-434 1zm36 0zm94 0zm79 0zm14 0zm7 0zm9 0zm2 0zm213 0zm93 0zm-545 1zm17 0zm19 0zm2 0zm27 0zm27 0zm32 0zm265 0zm55 0zm-439 1zm114 0zm91 0zm1 0zm3 0zm51 0zm182 0zm10 0zm-398 1zm2 0zm5 0zm200 0zm8 0zm17 0zm-277 1zm54 0zm32 0zm164 0zm193 0zm-443 1zm91 0zm158 0zm170 0zm18 0zm71 0zm-248 1zm113 0zm43 0zm23 0zm80 0zm-517 1zm65 0zm15 0zm9 0zm339 0zm-341 1zm278 0zm-375 1zm107 0zm57 0zm210 0zm59 0zm88 0zm2 0zm-512 1zm92 0zm5 0zm46 0zm114 0zm6 0zm14 0zm135 0zm41 0zm39 0zm-421 1zm29 0zm172 0zm226 0zm1 0zm11 1zm3 0zm-413 2zm135 0zm198 0zm61 0zm-388 1zm36 0zm3 0zm240 0zm60 0zm26 0zm-404 1zm431 0zm-397 1zm339 0zm2 0zm76 0zm-413 1zm32 0zm133 0zm114 0zm18 0zm92 0zm17 0zm-369 1zm97 0zm169 0zm36 0zm3 0zm18 0zm38 0zm-45 1zm62 0zm-461 1zm245 0zm20 0zm60 0zm24 0zm17 0zm32 0zm47 0zm22 0zm-249 1zm104 0zm3 0zm61 0zm76 0zm-216 1zm223 0zm-105 1zm16 0zm34 0zm-75 1zm29 0zm9 0zm7 0zm-17 1zm13 0zm40 0zm4 0zm25 0zm-104 1zm96 0zm3 0zm-120 1zm7 0zm14 0zm-107 1zm92 0zm8 0zm106 0zm9 0zm-116 1zm14 0zm18 0zm50 0zm11 0zm8 0zm-89 1zm35 0zm-103 2zm108 0zm21 0zm-76 1zm13 0zm63 0zm-3 1zm5 0zm52 0zm-488 1zm413 0zm14 0zm-56 1zm22 0zm-9 1zm11 0zm25 0zm2 0zm45 0zm-78 1zm-27 1zm131 0zm-73 1zm69 0zm-114 1zm46 0zm-37 1zm-19 1zm62 0zm-46 1zm36 1zm-43 1zm50 0zm60 0zm2 0zm1 0zm-27 1zm-39 1zm27 0zm-75 1zm64 0zm26 1zm-94 1zm5 0zm81 0zm9 0zm-96 1zm122 1zm-116 1zm17 0zm44 0zm24 0zm19 0zm-15 1zm-4 4zm-73 1zm71 0zm33 0zm1 0zm-117 2zm2 0zm14 0zm4 0zm-4 1zm57 1zm42 0zm-42 1zm44 1zm-32 3zm19 0zm4 0zm-37 1zm15 1zm-3 1zm6 1zm4 0zm-6 1zm10 0zm9 0zm-12 4zm-52 8z"/><path class="d" stroke="#000" d="M197.5 293.5zm-55 1zm10 0zm14 0zm1 0zm4 0zm6 0zm2 0zm9 0zm4 0zm2 0zm16 0zm1 0zm4 0zm3 0zm10 0zm1 0zm3 0zm9 0zm4 0zm6 0zm2 0zm-107 1zm2 0zm1 0zm2 0zm2 0zm1 0zm3 0zm4 0zm6 0zm1 0zm1 0zm4 0zm1 0zm2 0zm3 0zm3 0zm1 0zm1 0zm6 0zm1 0zm2 0zm6 0zm1 0zm4 0zm1 0zm2 0zm2 0zm3 0zm2 0zm8 0zm1 0zm2 0zm2 0zm2 0zm6 0zm1 0zm2 0zm3 0zm1 0zm2 0zm1 0zm4 0zm1 0zm2 0zm3 0zm2 1zm1 0zm1 0zm1 0zm1 0zm3 0zm3 0zm2 0zm4 0zm1 0zm1 0zm1 0zm-12 1zm1 0zm1 0zm1 0zm2 0zm1 0zm2 0zm1 0zm5 0zm2 0zm5 0zm0 1zm1 0zm5 0zm2 0zm7 0zm1 0zm2 0zm-9 1zm1 0zm1 0zm1 0zm2 0zm1 0zm2 0zm6 0zm1 0zm3 0zm3 0zm-8 1zm1 0zm2 0zm1 0zm2 0zm5 0zm1 0zm13 0zm3 0zm-9 1zm1 0zm1 0zm9 0zm0 1zm2 0zm1 0zm4 1zm5 0zm2 0zm3 0zm7 0zm3 0zm-14 1zm1 0zm2 0zm2 0zm2 0zm1 0zm1 0zm7 0zm1 0zm2 0zm-7 1zm3 0zm2 0zm2 0zm5 0zm2 0zm5 0zm-9 1zm1 0zm1 0zm2 0zm1 0zm1 0zm1 0zm1 1zm1 0zm4 0zm3 0zm7 0zm-7 1zm1 0zm1 0zm1 0zm3 0zm1 0zm-2 1zm2 0zm1 0zm1 0zm1 0zm2 0zm3 0zm1 0zm193 0zm8 0zm2 0zm2 0zm7 0zm4 0zm1 0zm18 0zm1 0zm17 0zm3 0zm6 0zm-263 1zm1 0zm2 0zm2 0zm2 0zm1 0zm165 0zm9 0zm16 0zm1 0zm1 0zm16 0zm2 0zm2 0zm4 0zm2 0zm3 0zm7 0zm9 0zm5 0zm5 0zm12 0zm-265 1zm1 0zm3 0zm149 0zm7 0zm9 0zm5 0zm1 0zm3 0zm3 0zm1 0zm3 0zm1 0zm1 0zm2 0zm5 0zm1 0zm2 0zm10 0zm4 0zm6 0zm2 0zm4 0zm2 0zm5 0zm3 0zm3 0zm4 0zm13 0zm1 0zm6 0zm1 0zm1 0zm9 0zm1 0zm2 0zm1 0zm-268 1zm2 0zm1 0zm1 0zm2 0zm4 0zm1 0zm1 0zm4 0zm129 0zm7 0zm10 0zm9 0zm7 0zm2 0zm1 0zm1 0zm1 0zm4 0zm1 0zm2 0zm2 0zm2 0zm1 0zm3 0zm1 0zm3 0zm2 0zm4 0zm3 0zm3 0zm3 0zm2 0zm1 0zm1 0zm5 0zm1 0zm1 0zm1 0zm3 0zm3 0zm1 0zm1 0zm2 0zm9 0zm1 0zm1 0zm7 0zm4 0zm2 0zm2 0zm6 0zm3 0zm-266 1zm1 0zm1 0zm1 0zm1 0zm1 0zm11 0zm94 0zm5 0zm10 0zm5 0zm2 0zm1 0zm1 0zm4 0zm1 0zm6 0zm1 0zm3 0zm1 0zm4 0zm1 0zm1 0zm2 0zm2 0zm1 0zm1 0zm1 0zm80 0zm1 0zm1 0zm3 0zm1 0zm1 0zm1 0zm4 0zm2 0zm2 0zm5 0zm1 0zm1 0zm3 0zm-260 1zm1 0zm1 0zm3 0zm2 0zm76 0zm3 0zm8 0zm3 0zm3 0zm4 0zm11 0zm2 0zm3 0zm2 0zm1 0zm1 0zm5 0zm2 0zm1 0zm4 0zm3 0zm120 0zm2 0zm2 0zm-253 1zm2 0zm2 0zm3 0zm3 0zm58 0zm14 0zm3 0zm4 0zm6 0zm3 0zm2 0zm2 0zm1 0zm6 0zm1 0zm3 0zm2 0zm-109 1zm4 0zm2 0zm1 0zm4 0zm8 0zm2 0zm20 0zm8 0zm4 0zm3 0zm2 0zm1 0zm12 0zm2 0zm1 0zm2 0zm8 0zm4 0zm2 0zm1 0zm2 0zm1 0zm1 0zm1 0zm2 0zm1 0zm1 0zm-94 1zm1 0zm1 0zm1 0zm4 0zm2 0zm4 0zm9 0zm5 0zm1 0zm3 0zm6 0zm6 0zm4 0zm6 0zm3 0zm1 0zm1 0zm3 0zm1 0zm2 0zm3 0zm5 0zm3 0zm1 0zm1 0zm1 0zm2 0zm2 0zm-77 1zm2 0zm1 0zm2 0zm1 0zm2 0zm1 0zm1 0zm1 0zm1 0zm1 0zm4 0zm2 0zm2 0zm2 0zm3 0zm3 0zm1 0zm1 0zm1 0zm1 0zm1 0zm2 0zm2 0zm5 0zm1 0zm2 0zm2 0zm1 0zm1 0zm1 0zm1 0zm2 0zm1 0zm9 0zm2 0zm1 0zm-49 1zm2 0zm1 0zm3 0zm2 0zm1 0zm-324 19zm2 1zm-3 1zm3 0zm-3 2zm3 0zm3 0zm-6 1zm4 0zm-4 1zm1 0zm1 0zm1 1zm2 0zm29 0zm5 0zm2 0zm1 0zm2 0zm1 0zm-42 1zm1 0zm30 0zm1 0zm5 0zm1 0zm5 0zm1 0zm-14 1zm2 0zm3 0zm3 0zm2 0zm3 0zm110 0zm1 0zm-122 1zm1 0zm2 0zm1 0zm7 0zm110 0zm-123 1zm7 0zm4 0zm2 0zm111 0zm1 0zm-121 1zm1 0zm6 0zm-8 1zm-1 1zm1 0zm102 0zm4 0zm-98 1zm88 0zm1 0zm4 0zm2 0zm1 0zm2 0zm36 0zm-47 1zm1 0zm7 0zm2 0zm36 0zm1 0zm2 0zm-61 1zm1 0zm3 0zm2 0zm5 0zm3 0zm1 0zm1 0zm7 0zm30 0zm4 0zm1 0zm-53 1zm3 0zm5 0zm3 0zm3 0zm5 0zm1 0zm28 0zm5 0zm1 0zm1 0zm1 0zm-59 1zm4 0zm1 0zm1 0zm4 0zm3 0zm4 0zm1 0zm39 0zm90 0zm-220 1zm76 0zm3 0zm1 0zm9 0zm4 0zm28 0zm4 0zm5 0zm2 0zm87 0zm2 0zm1 0zm6 0zm-291 1zm66 0zm68 0zm15 0zm3 0zm3 0zm1 0zm1 0zm1 0zm25 0zm4 0zm35 0zm69 0zm1 0zm-225 1zm85 0zm1 0zm32 0zm3 0zm6 0zm22 0zm65 0zm10 0zm-292 1zm1 0zm62 0zm3 0zm1 0zm1 0zm71 0zm8 0zm1 0zm1 0zm35 0zm5 0zm6 0zm1 0zm87 0zm4 0zm1 0zm1 0zm1 0zm1 0zm-223 1zm69 0zm6 0zm2 0zm36 0zm1 0zm2 0zm3 0zm1 0zm2 0zm31 0zm64 0zm4 0zm1 0zm-256 1zm35 0zm17 0zm51 0zm1 0zm43 0zm2 0zm1 0zm1 0zm3 0zm2 0zm4 0zm2 0zm21 0zm1 0zm4 0zm2 0zm63 0zm23 0zm-275 1zm1 0zm1 0zm1 0zm30 0zm3 0zm15 0zm1 0zm1 0zm94 0zm1 0zm4 0zm1 0zm2 0zm1 0zm1 0zm2 0zm1 0zm116 0zm-277 1zm34 0zm19 0zm4 0zm89 0zm1 0zm1 0zm5 0zm3 0zm30 0zm92 0zm-249 1zm1 0zm4 0zm1 0zm18 0zm5 0zm89 0zm1 0zm1 0zm7 0zm2 0zm1 0zm1 0zm27 0zm7 0zm2 0zm6 0zm69 0zm1 0zm-242 1zm2 0zm3 0zm3 0zm12 0zm1 0zm2 0zm2 0zm91 0zm1 0zm1 0zm14 0zm40 0zm2 0zm69 0zm4 0zm-246 1zm1 0zm1 0zm1 0zm1 0zm117 0zm46 0zm1 0zm4 0zm72 0zm2 0zm-246 1zm5 0zm1 0zm15 0zm1 0zm95 0zm1 0zm2 0zm11 0zm40 0zm2 0zm1 0zm67 0zm3 0zm1 0zm34 0zm-278 1zm2 0zm1 0zm1 0zm2 0zm112 0zm43 0zm3 0zm10 0zm1 0zm67 0zm2 0zm35 0zm2 0zm-276 1zm36 0zm1 0zm122 0zm3 0zm5 0zm107 0zm1 0zm-277 1zm37 0zm1 0zm1 0zm120 0zm6 0zm5 0zm2 0zm104 0zm3 0zm-280 1zm4 0zm36 0zm122 0zm1 0zm1 0zm2 0zm3 0zm3 0zm1 0zm1 0zm2 0zm101 0zm2 0zm1 0zm-280 1zm2 0zm1 0zm37 0zm1 0zm119 0zm6 0zm4 0zm2 0zm4 0zm101 0zm2 0zm1 0zm-283 1zm2 0zm41 0zm3 0zm118 0zm8 0zm4 0zm2 0zm102 0zm1 0zm1 0zm-276 1zm45 0zm112 0zm1 0zm6 0zm4 0zm3 0zm1 0zm-178 1zm5 0zm1 0zm39 0zm3 0zm1 0zm1 0zm1 0zm113 0zm2 0zm1 0zm10 0zm1 0zm1 0zm1 0zm3 0zm-178 1zm159 0zm3 0zm11 0zm1 0zm2 0zm9 0zm1 0zm-193 1zm1 0zm1 0zm2 0zm2 0zm2 0zm50 0zm108 0zm1 0zm6 0zm2 0zm6 0zm10 0zm1 0zm1 0zm1 0zm1 0zm2 0zm-198 1zm8 0zm4 0zm38 0zm11 0zm46 0zm1 0zm58 0zm2 0zm6 0zm5 0zm3 0zm1 0zm1 0zm11 0zm2 0zm1 0zm12 0zm2 0zm3 0zm-210 1zm3 0zm3 0zm1 0zm1 0zm45 0zm2 0zm24 0zm2 0zm1 0zm15 0zm2 0zm65 0zm1 0zm1 0zm1 0zm2 0zm1 0zm1 0zm2 0zm2 0zm15 0zm13 0zm4 0zm1 0zm4 0zm1 0zm-210 1zm7 0zm1 0zm1 0zm42 0zm1 0zm23 0zm4 0zm1 0zm21 0zm1 0zm5 0zm1 0zm51 0zm9 0zm3 0zm2 0zm6 0zm6 0zm4 0zm21 0zm-217 1zm2 0zm3 0zm1 0zm1 0zm2 0zm2 0zm3 0zm13 0zm27 0zm4 0zm1 0zm2 0zm1 0zm26 0zm2 0zm8 0zm1 0zm2 0zm1 0zm16 0zm1 0zm4 0zm1 0zm9 0zm31 0zm3 0zm3 0zm3 0zm1 0zm8 0zm2 0zm2 0zm6 0zm5 0zm10 0zm4 0zm3 0zm3 0zm-218 1zm2 0zm3 0zm3 0zm2 0zm1 0zm11 0zm3 0zm4 0zm18 0zm5 0zm1 0zm1 0zm3 0zm6 0zm11 0zm5 0zm3 0zm8 0zm7 0zm4 0zm4 0zm10 0zm2 0zm1 0zm1 0zm4 0zm6 0zm1 0zm4 0zm1 0zm30 0zm1 0zm3 0zm3 0zm3 0zm2 0zm1 0zm4 0zm7 0zm8 0zm10 0zm3 0zm5 0zm5 0zm-216 1zm3 0zm11 0zm3 0zm3 0zm2 0zm2 0zm20 0zm2 0zm2 0zm24 0zm9 0zm3 0zm3 0zm5 0zm8 0zm6 0zm1 0zm3 0zm5 0zm3 0zm8 0zm38 0zm2 0zm6 0zm1 0zm3 0zm3 0zm4 0zm1 0zm1 0zm21 0zm5 0zm1 0zm1 0zm-208 1zm6 0zm5 0zm1 0zm4 0zm1 0zm3 0zm1 0zm3 0zm10 0zm1 0zm2 0zm2 0zm6 0zm5 0zm13 0zm3 0zm5 0zm1 0zm2 0zm2 0zm5 0zm1 0zm2 0zm1 0zm4 0zm1 0zm4 0zm2 0zm6 0zm5 0zm12 0zm2 0zm38 0zm2 0zm3 0zm7 0zm2 0zm5 0zm1 0zm1 0zm2 0zm19 0zm1 0zm4 0zm1 0zm-215 1zm3 0zm14 0zm8 0zm6 0zm4 0zm2 0zm3 0zm4 0zm4 0zm1 0zm4 0zm3 0zm1 0zm1 0zm15 0zm2 0zm1 0zm4 0zm6 0zm6 0zm6 0zm2 0zm3 0zm2 0zm4 0zm1 0zm3 0zm2 0zm5 0zm9 0zm2 0zm2 0zm28 0zm1 0zm2 0zm6 0zm5 0zm7 0zm3 0zm3 0zm22 0zm2 0zm1 0zm7 0zm-218 1zm6 0zm8 0zm3 0zm3 0zm7 0zm1 0zm3 0zm3 0zm2 0zm1 0zm3 0zm2 0zm6 0zm5 0zm19 0zm6 0zm3 0zm1 0zm5 0zm2 0zm8 0zm1 0zm1 0zm7 0zm4 0zm3 0zm3 0zm42 0zm1 0zm11 0zm1 0zm5 0zm6 0zm1 0zm1 0zm1 0zm23 0zm2 0zm4 0zm1 0zm-214 1zm7 0zm10 0zm2 0zm4 0zm1 0zm8 0zm2 0zm1 0zm6 0zm28 0zm8 0zm20 0zm5 0zm2 0zm7 0zm4 0zm1 0zm46 0zm4 0zm1 0zm17 0zm1 0zm21 0zm2 0zm2 0zm6 0zm1 0zm-218 1zm5 0zm3 0zm1 0zm6 0zm7 0zm3 0zm4 0zm2 0zm3 0zm1 0zm3 0zm4 0zm2 0zm4 0zm1 0zm3 0zm20 0zm2 0zm3 0zm1 0zm1 0zm6 0zm15 0zm8 0zm3 0zm5 0zm46 0zm7 0zm1 0zm3 0zm6 0zm3 0zm1 0zm4 0zm21 0zm3 0zm264 0zm-473 1zm8 0zm1 0zm5 0zm4 0zm3 0zm6 0zm2 0zm2 0zm2 0zm2 0zm3 0zm2 0zm5 0zm1 0zm1 0zm25 0zm2 0zm2 0zm2 0zm3 0zm16 0zm1 0zm5 0zm4 0zm5 0zm2 0zm49 0zm11 0zm9 0zm25 0zm2 0zm1 0zm2 0zm63 0zm3 0zm193 0zm1 0zm-474 1zm1 0zm3 0zm1 0zm10 0zm4 0zm3 0zm1 0zm11 0zm1 0zm4 0zm8 0zm24 0zm3 0zm3 0zm2 0zm3 0zm2 0zm14 0zm1 0zm3 0zm8 0zm45 0zm3 0zm2 0zm8 0zm1 0zm1 0zm2 0zm4 0zm1 0zm4 0zm2 0zm92 0zm3 0zm4 0zm189 0zm1 0zm2 0zm2 0zm1 0zm-477 1zm3 0zm12 0zm1 0zm18 0zm1 0zm2 0zm4 0zm2 0zm6 0zm30 0zm3 0zm15 0zm1 0zm1 0zm4 0zm2 0zm5 0zm1 0zm3 0zm44 0zm3 0zm2 0zm9 0zm1 0zm5 0zm1 0zm1 0zm2 0zm93 0zm4 0zm194 0zm1 0zm2 0zm1 0zm-525 1zm1 0zm1 0zm49 0zm1 0zm5 0zm2 0zm1 0zm2 0zm17 0zm17 0zm1 0zm22 0zm1 0zm2 0zm1 0zm4 0zm18 0zm11 0zm1 0zm3 0zm42 0zm8 0zm18 0zm4 0zm287 0zm3 0zm-532 1zm1 0zm9 0zm4 0zm49 0zm5 0zm5 0zm7 0zm4 0zm1 0zm2 0zm1 0zm4 0zm2 0zm3 0zm1 0zm3 0zm29 0zm3 0zm25 0zm3 0zm4 0zm3 0zm42 0zm5 0zm5 0zm2 0zm3 0zm2 0zm9 0zm1 0zm3 0zm86 0zm1 0zm1 0zm200 0zm-526 1zm3 0zm2 0zm4 0zm4 0zm45 0zm3 0zm14 0zm8 0zm1 0zm2 0zm4 0zm3 0zm4 0zm1 0zm6 0zm3 0zm20 0zm4 0zm23 0zm1 0zm9 0zm3 0zm41 0zm10 0zm2 0zm3 0zm2 0zm4 0zm1 0zm2 0zm1 0zm4 0zm86 0zm5 0zm2 0zm1 0zm6 0zm4 0zm187 0zm-531 1zm1 0zm3 0zm1 0zm2 0zm2 0zm2 0zm5 0zm1 0zm47 0zm3 0zm3 0zm4 0zm16 0zm1 0zm2 0zm4 0zm1 0zm2 0zm4 0zm1 0zm6 0zm23 0zm30 0zm1 0zm1 0zm1 0zm2 0zm45 0zm4 0zm3 0zm2 0zm4 0zm1 0zm2 0zm100 0zm8 0zm1 0zm4 0zm1 0zm-338 1zm7 0zm1 0zm49 0zm1 0zm8 0zm6 0zm2 0zm2 0zm14 0zm4 0zm3 0zm5 0zm1 0zm3 0zm47 0zm4 0zm1 0zm4 0zm45 0zm8 0zm3 0zm1 0zm13 0zm88 0zm15 0zm2 0zm-341 1zm5 0zm1 0zm1 0zm1 0zm1 0zm7 0zm48 0zm3 0zm1 0zm3 0zm4 0zm6 0zm2 0zm1 0zm6 0zm4 0zm4 0zm2 0zm3 0zm1 0zm6 0zm56 0zm39 0zm2 0zm4 0zm5 0zm1 0zm1 0zm2 0zm15 0zm2 0zm1 0zm1 0zm87 0zm12 0zm2 0zm-338 1zm1 0zm2 0zm3 0zm2 0zm4 0zm1 0zm2 0zm2 0zm54 0zm4 0zm9 0zm3 0zm1 0zm4 0zm2 0zm1 0zm5 0zm2 0zm59 0zm2 0zm38 0zm5 0zm4 0zm1 0zm6 0zm2 0zm9 0zm1 0zm1 0zm2 0zm90 0zm4 0zm1 0zm-325 1zm4 0zm2 0zm2 0zm4 0zm49 0zm2 0zm7 0zm2 0zm3 0zm1 0zm7 0zm2 0zm11 0zm3 0zm1 0zm4 0zm93 0zm2 0zm4 0zm12 0zm1 0zm18 0zm3 0zm1 0zm82 0zm5 0zm2 0zm1 0zm1 0zm1 0zm1 0zm8 0zm-324 1zm1 0zm45 0zm1 0zm1 0zm2 0zm2 0zm5 0zm1 0zm1 0zm1 0zm4 0zm2 0zm3 0zm2 0zm4 0zm2 0zm2 0zm3 0zm114 0zm2 0zm18 0zm4 0zm1 0zm1 0zm87 0zm2 0zm3 0zm4 0zm4 0zm-336 1zm1 0zm5 0zm2 0zm7 0zm3 0zm44 0zm6 0zm12 0zm9 0zm1 0zm1 0zm3 0zm1 0zm103 0zm2 0zm3 0zm1 0zm4 0zm2 0zm4 0zm15 0zm2 0zm1 0zm4 0zm1 0zm85 0zm4 0zm10 0zm1 0zm1 0zm-322 1zm3 0zm1 0zm45 0zm2 0zm11 0zm3 0zm5 0zm6 0zm103 0zm3 0zm8 0zm27 0zm3 0zm1 0zm41 0zm47 0zm2 0zm1 0zm6 0zm4 0zm171 0zm-508 1zm4 0zm1 0zm5 0zm3 0zm3 0zm49 0zm2 0zm11 0zm6 0zm5 0zm2 0zm3 0zm100 0zm11 0zm2 0zm3 0zm66 0zm42 0zm10 0zm3 0zm1 0zm1 0zm4 0zm172 0zm-507 1zm18 0zm47 0zm4 0zm11 0zm1 0zm4 0zm6 0zm107 0zm1 0zm1 0zm1 0zm5 0zm2 0zm2 0zm64 0zm1 0zm2 0zm42 0zm8 0zm1 0zm177 0zm-499 1zm1 0zm9 0zm46 0zm8 0zm8 0zm2 0zm2 0zm3 0zm4 0zm1 0zm3 0zm98 0zm12 0zm2 0zm69 0zm2 0zm44 0zm3 0zm7 0zm174 0zm-506 1zm10 0zm4 0zm7 0zm1 0zm2 0zm42 0zm3 0zm8 0zm3 0zm6 0zm6 0zm3 0zm1 0zm103 0zm3 0zm2 0zm4 0zm1 0zm67 0zm1 0zm48 0zm2 0zm70 0zm107 0zm4 0zm1 0zm-507 1zm7 0zm5 0zm9 0zm44 0zm1 0zm1 0zm3 0zm6 0zm1 0zm1 0zm2 0zm1 0zm1 0zm1 0zm6 0zm104 0zm3 0zm8 0zm1 0zm1 0zm111 0zm2 0zm1 0zm4 0zm9 0zm62 0zm108 0zm-505 1zm5 0zm7 0zm3 0zm1 0zm7 0zm42 0zm1 0zm5 0zm1 0zm4 0zm2 0zm6 0zm2 0zm3 0zm3 0zm104 0zm2 0zm3 0zm9 0zm2 0zm62 0zm1 0zm2 0zm10 0zm34 0zm3 0zm2 0zm2 0zm3 0zm2 0zm63 0zm1 0zm108 0zm1 0zm-504 1zm8 0zm3 0zm2 0zm8 0zm47 0zm3 0zm4 0zm5 0zm6 0zm3 0zm4 0zm103 0zm1 0zm2 0zm7 0zm66 0zm9 0zm5 0zm32 0zm3 0zm3 0zm1 0zm3 0zm6 0zm63 0zm-403 1zm2 0zm5 0zm10 0zm3 0zm4 0zm3 0zm2 0zm39 0zm3 0zm4 0zm4 0zm1 0zm1 0zm12 0zm3 0zm2 0zm3 0zm39 0zm35 0zm41 0zm70 0zm3 0zm38 0zm1 0zm5 0zm1 0zm2 0zm3 0zm23 0zm39 0zm2 0zm1 0zm-403 1zm8 0zm4 0zm1 0zm3 0zm1 0zm10 0zm39 0zm11 0zm3 0zm5 0zm2 0zm1 0zm6 0zm1 0zm1 0zm80 0zm2 0zm28 0zm1 0zm125 0zm9 0zm3 0zm15 0zm2 0zm2 0zm1 0zm33 0zm2 0zm1 0zm1 0zm1 0zm1 0zm-398 1zm3 0zm3 0zm6 0zm9 0zm1 0zm38 0zm2 0zm6 0zm2 0zm2 0zm1 0zm2 0zm1 0zm1 0zm1 0zm7 0zm1 0zm54 0zm27 0zm3 0zm3 0zm24 0zm3 0zm1 0zm2 0zm125 0zm7 0zm2 0zm2 0zm21 0zm5 0zm29 0zm-400 1zm1 0zm3 0zm11 0zm4 0zm1 0zm2 0zm50 0zm3 0zm4 0zm1 0zm2 0zm3 0zm6 0zm3 0zm2 0zm1 0zm1 0zm37 0zm8 0zm30 0zm2 0zm30 0zm4 0zm1 0zm10 0zm68 0zm50 0zm4 0zm7 0zm14 0zm1 0zm2 0zm34 0zm4 0zm-401 1zm2 0zm2 0zm5 0zm4 0zm6 0zm1 0zm2 0zm1 0zm39 0zm1 0zm1 0zm1 0zm3 0zm8 0zm1 0zm4 0zm2 0zm6 0zm3 0zm45 0zm1 0zm3 0zm29 0zm4 0zm3 0zm29 0zm4 0zm3 0zm4 0zm2 0zm67 0zm57 0zm3 0zm18 0zm2 0zm35 0zm-409 1zm2 0zm3 0zm6 0zm4 0zm1 0zm3 0zm7 0zm1 0zm6 0zm36 0zm1 0zm18 0zm6 0zm2 0zm16 0zm5 0zm1 0zm20 0zm1 0zm12 0zm29 0zm1 0zm29 0zm1 0zm4 0zm2 0zm3 0zm1 0zm2 0zm4 0zm2 0zm1 0zm65 0zm1 0zm1 0zm54 0zm3 0zm9 0zm4 0zm4 0zm4 0zm34 0zm-411 1zm10 0zm6 0zm3 0zm3 0zm4 0zm1 0zm7 0zm36 0zm6 0zm4 0zm2 0zm13 0zm6 0zm1 0zm15 0zm22 0zm1 0zm6 0zm5 0zm3 0zm1 0zm1 0zm24 0zm2 0zm32 0zm6 0zm3 0zm124 0zm9 0zm9 0zm2 0zm8 0zm32 0zm3 0zm-412 1zm12 0zm4 0zm1 0zm7 0zm1 0zm3 0zm4 0zm2 0zm39 0zm4 0zm1 0zm19 0zm21 0zm22 0zm4 0zm6 0zm2 0zm3 0zm1 0zm25 0zm3 0zm8 0zm23 0zm5 0zm2 0zm3 0zm123 0zm7 0zm1 0zm2 0zm1 0zm11 0zm6 0zm1 0zm1 0zm34 0zm-414 1zm1 0zm5 0zm1 0zm1 0zm1 0zm3 0zm1 0zm12 0zm6 0zm1 0zm4 0zm44 0zm3 0zm34 0zm4 0zm1 0zm1 0zm2 0zm2 0zm16 0zm4 0zm8 0zm2 0zm1 0zm23 0zm3 0zm2 0zm4 0zm1 0zm33 0zm3 0zm1 0zm3 0zm2 0zm124 0zm1 0zm4 0zm10 0zm7 0zm32 0zm-411 1zm5 0zm1 0zm2 0zm3 0zm2 0zm1 0zm1 0zm13 0zm1 0zm1 0zm3 0zm46 0zm5 0zm33 0zm3 0zm1 0zm1 0zm5 0zm14 0zm4 0zm5 0zm31 0zm1 0zm7 0zm30 0zm10 0zm4 0zm122 0zm27 0zm4 0zm1 0zm25 0zm119 0zm3 0zm-531 1zm2 0zm8 0zm6 0zm8 0zm4 0zm1 0zm3 0zm39 0zm7 0zm1 0zm1 0zm35 0zm1 0zm7 0zm18 0zm2 0zm1 0zm2 0zm8 0zm2 0zm22 0zm3 0zm2 0zm6 0zm29 0zm2 0zm5 0zm1 0zm1 0zm2 0zm128 0zm1 0zm10 0zm9 0zm2 0zm3 0zm26 0zm1 0zm117 0zm-523 1zm5 0zm3 0zm2 0zm4 0zm2 0zm7 0zm3 0zm1 0zm44 0zm3 0zm1 0zm37 0zm2 0zm2 0zm4 0zm16 0zm2 0zm2 0zm2 0zm5 0zm3 0zm1 0zm1 0zm24 0zm10 0zm27 0zm3 0zm6 0zm130 0zm4 0zm11 0zm3 0zm2 0zm11 0zm1 0zm140 0zm1 0zm3 0zm1 0zm1 0zm-532 1zm3 0zm4 0zm10 0zm11 0zm27 0zm2 0zm10 0zm3 0zm7 0zm1 0zm35 0zm2 0zm2 0zm6 0zm17 0zm5 0zm1 0zm2 0zm4 0zm2 0zm59 0zm1 0zm4 0zm3 0zm3 0zm1 0zm125 0zm2 0zm3 0zm18 0zm1 0zm7 0zm4 0zm136 0zm2 0zm3 0zm1 0zm5 0zm-536 1zm13 0zm4 0zm4 0zm3 0zm3 0zm7 0zm27 0zm1 0zm1 0zm1 0zm7 0zm1 0zm5 0zm42 0zm3 0zm1 0zm2 0zm5 0zm16 0zm4 0zm1 0zm2 0zm37 0zm29 0zm2 0zm1 0zm3 0zm1 0zm126 0zm2 0zm2 0zm2 0zm23 0zm5 0zm13 0zm5 0zm7 0zm-410 1zm1 0zm5 0zm1 0zm4 0zm11 0zm1 0zm6 0zm2 0zm21 0zm4 0zm2 0zm2 0zm3 0zm11 0zm1 0zm5 0zm37 0zm3 0zm3 0zm1 0zm4 0zm1 0zm24 0zm63 0zm4 0zm2 0zm2 0zm2 0zm1 0zm120 0zm3 0zm1 0zm1 0zm3 0zm3 0zm21 0zm3 0zm7 0zm8 0zm3 0zm127 0zm7 0zm-532 1zm1 0zm2 0zm4 0zm2 0zm12 0zm8 0zm20 0zm12 0zm2 0zm1 0zm3 0zm10 0zm2 0zm47 0zm1 0zm24 0zm34 0zm30 0zm4 0zm2 0zm1 0zm4 0zm123 0zm7 0zm18 0zm2 0zm11 0zm1 0zm1 0zm5 0zm1 0zm6 0zm5 0zm115 0zm1 0zm2 0zm2 0zm1 0zm2 0zm1 0zm-525 1zm1 0zm20 0zm1 0zm26 0zm4 0zm6 0zm4 0zm7 0zm46 0zm6 0zm1 0zm5 0zm3 0zm83 0zm2 0zm5 0zm32 0zm1 0zm2 0zm87 0zm6 0zm3 0zm28 0zm3 0zm1 0zm13 0zm3 0zm1 0zm1 0zm119 0zm1 0zm5 0zm1 0zm3 0zm-536 1zm2 0zm5 0zm14 0zm1 0zm5 0zm1 0zm1 0zm20 0zm7 0zm1 0zm1 0zm5 0zm8 0zm53 0zm2 0zm1 0zm8 0zm4 0zm84 0zm32 0zm4 0zm93 0zm2 0zm3 0zm20 0zm4 0zm1 0zm1 0zm3 0zm16 0zm2 0zm5 0zm116 0zm3 0zm2 0zm7 0zm-537 1zm48 0zm1 0zm9 0zm6 0zm1 0zm4 0zm1 0zm2 0zm2 0zm1 0zm7 0zm37 0zm4 0zm3 0zm4 0zm8 0zm82 0zm1 0zm2 0zm1 0zm30 0zm6 0zm2 0zm84 0zm5 0zm2 0zm1 0zm24 0zm2 0zm4 0zm1 0zm1 0zm1 0zm1 0zm7 0zm4 0zm3 0zm1 0zm4 0zm118 0zm1 0zm1 0zm1 0zm-529 1zm1 0zm5 0zm1 0zm17 0zm26 0zm3 0zm3 0zm4 0zm9 0zm3 0zm4 0zm10 0zm32 0zm2 0zm3 0zm3 0zm2 0zm10 0zm15 0zm1 0zm68 0zm2 0zm2 0zm33 0zm1 0zm6 0zm1 0zm81 0zm3 0zm1 0zm5 0zm25 0zm1 0zm3 0zm1 0zm4 0zm1 0zm7 0zm8 0zm2 0zm117 0zm1 0zm1 0zm1 0zm8 0zm3 0zm-540 1zm5 0zm1 0zm22 0zm1 0zm32 0zm4 0zm12 0zm4 0zm38 0zm6 0zm12 0zm3 0zm15 0zm41 0zm25 0zm1 0zm5 0zm25 0zm2 0zm1 0zm5 0zm3 0zm82 0zm1 0zm1 0zm7 0zm27 0zm5 0zm1 0zm12 0zm2 0zm2 0zm5 0zm81 0zm44 0zm5 0zm1 0zm-540 1zm2 0zm2 0zm22 0zm30 0zm3 0zm4 0zm1 0zm2 0zm4 0zm8 0zm11 0zm31 0zm30 0zm103 0zm4 0zm12 0zm79 0zm2 0zm32 0zm5 0zm4 0zm11 0zm1 0zm86 0zm42 0zm5 0zm2 0zm3 0zm-539 1zm28 0zm16 0zm2 0zm10 0zm6 0zm1 0zm3 0zm2 0zm3 0zm1 0zm4 0zm3 0zm2 0zm1 0zm3 0zm3 0zm1 0zm27 0zm4 0zm3 0zm11 0zm15 0zm2 0zm45 0zm55 0zm2 0zm6 0zm5 0zm3 0zm77 0zm1 0zm4 0zm1 0zm1 0zm1 0zm4 0zm20 0zm8 0zm13 0zm2 0zm133 0zm3 0zm4 0zm-514 1zm19 0zm1 0zm1 0zm1 0zm4 0zm2 0zm1 0zm1 0zm7 0zm2 0zm6 0zm6 0zm5 0zm4 0zm32 0zm4 0zm28 0zm2 0zm4 0zm2 0zm1 0zm30 0zm4 0zm2 0zm2 0zm61 0zm3 0zm1 0zm5 0zm90 0zm4 0zm25 0zm4 0zm11 0zm4 0zm7 0zm78 0zm1 0zm1 0zm37 0zm5 0zm2 0zm1 0zm-533 1zm20 0zm1 0zm3 0zm18 0zm10 0zm4 0zm2 0zm3 0zm2 0zm16 0zm5 0zm1 0zm29 0zm1 0zm2 0zm30 0zm7 0zm34 0zm2 0zm64 0zm1 0zm1 0zm4 0zm98 0zm1 0zm2 0zm1 0zm11 0zm2 0zm12 0zm1 0zm2 0zm3 0zm2 0zm5 0zm6 0zm5 0zm71 0zm1 0zm47 0zm3 0zm1 0zm2 0zm-541 1zm46 0zm6 0zm2 0zm1 0zm6 0zm1 0zm8 0zm1 0zm2 0zm8 0zm4 0zm5 0zm26 0zm4 0zm3 0zm3 0zm28 0zm7 0zm26 0zm7 0zm3 0zm1 0zm1 0zm56 0zm10 0zm49 0zm1 0zm1 0zm1 0zm9 0zm21 0zm7 0zm3 0zm8 0zm5 0zm7 0zm1 0zm3 0zm1 0zm19 0zm2 0zm2 0zm1 0zm1 0zm4 0zm1 0zm1 0zm74 0zm1 0zm10 0zm34 0zm2 0zm-531 1zm1 0zm45 0zm19 0zm3 0zm1 0zm1 0zm2 0zm4 0zm8 0zm1 0zm32 0zm1 0zm2 0zm31 0zm7 0zm28 0zm2 0zm2 0zm4 0zm3 0zm54 0zm1 0zm6 0zm4 0zm52 0zm5 0zm7 0zm1 0zm17 0zm1 0zm4 0zm28 0zm3 0zm6 0zm19 0zm1 0zm1 0zm2 0zm3 0zm2 0zm2 0zm72 0zm1 0zm1 0zm2 0zm2 0zm1 0zm2 0zm7 0zm25 0zm4 0zm1 0zm-535 1zm1 0zm47 0zm10 0zm11 0zm1 0zm15 0zm2 0zm5 0zm27 0zm1 0zm1 0zm1 0zm26 0zm2 0zm3 0zm4 0zm29 0zm4 0zm3 0zm1 0zm2 0zm58 0zm1 0zm10 0zm46 0zm4 0zm5 0zm2 0zm7 0zm21 0zm2 0zm4 0zm6 0zm7 0zm8 0zm10 0zm3 0zm14 0zm1 0zm5 0zm3 0zm1 0zm1 0zm1 0zm71 0zm2 0zm7 0zm1 0zm1 0zm9 0zm1 0zm23 0zm3 0zm5 0zm-495 1zm1 0zm6 0zm3 0zm2 0zm2 0zm12 0zm2 0zm3 0zm2 0zm6 0zm4 0zm1 0zm28 0zm4 0zm2 0zm23 0zm2 0zm9 0zm1 0zm31 0zm1 0zm2 0zm2 0zm2 0zm4 0zm51 0zm2 0zm1 0zm5 0zm6 0zm43 0zm8 0zm1 0zm8 0zm32 0zm4 0zm2 0zm17 0zm5 0zm1 0zm4 0zm1 0zm13 0zm1 0zm6 0zm8 0zm67 0zm3 0zm3 0zm13 0zm1 0zm2 0zm22 0zm-529 1zm44 0zm2 0zm7 0zm2 0zm31 0zm3 0zm1 0zm29 0zm1 0zm27 0zm10 0zm1 0zm4 0zm22 0zm3 0zm7 0zm1 0zm1 0zm3 0zm60 0zm38 0zm2 0zm7 0zm4 0zm8 0zm5 0zm1 0zm6 0zm13 0zm2 0zm1 0zm1 0zm2 0zm4 0zm4 0zm2 0zm5 0zm3 0zm6 0zm4 0zm4 0zm23 0zm2 0zm5 0zm4 0zm3 0zm2 0zm76 0zm9 0zm1 0zm1 0zm25 0zm3 0zm-537 1zm1 0zm1 0zm44 0zm5 0zm5 0zm2 0zm23 0zm2 0zm5 0zm1 0zm2 0zm61 0zm6 0zm30 0zm2 0zm1 0zm2 0zm4 0zm4 0zm4 0zm47 0zm1 0zm1 0zm2 0zm42 0zm1 0zm12 0zm1 0zm3 0zm4 0zm8 0zm4 0zm2 0zm16 0zm2 0zm6 0zm9 0zm3 0zm8 0zm19 0zm1 0zm14 0zm5 0zm1 0zm6 0zm2 0zm62 0zm1 0zm2 0zm2 0zm3 0zm7 0zm8 0zm-508 1zm47 0zm3 0zm1 0zm26 0zm6 0zm1 0zm1 0zm1 0zm60 0zm13 0zm1 0zm31 0zm1 0zm3 0zm4 0zm59 0zm1 0zm2 0zm35 0zm9 0zm1 0zm1 0zm10 0zm10 0zm14 0zm3 0zm3 0zm2 0zm11 0zm7 0zm3 0zm1 0zm30 0zm1 0zm3 0zm1 0zm11 0zm8 0zm1 0zm1 0zm64 0zm3 0zm2 0zm4 0zm5 0zm4 0zm21 0zm-487 1zm2 0zm5 0zm2 0zm6 0zm21 0zm5 0zm1 0zm4 0zm1 0zm59 0zm4 0zm7 0zm3 0zm23 0zm5 0zm5 0zm1 0zm46 0zm3 0zm1 0zm1 0zm2 0zm6 0zm44 0zm1 0zm10 0zm2 0zm7 0zm2 0zm4 0zm3 0zm2 0zm1 0zm11 0zm15 0zm2 0zm8 0zm5 0zm6 0zm40 0zm1 0zm1 0zm7 0zm1 0zm56 0zm5 0zm1 0zm3 0zm7 0zm4 0zm-506 1zm1 0zm29 0zm25 0zm32 0zm1 0zm2 0zm55 0zm1 0zm4 0zm3 0zm3 0zm2 0zm6 0zm23 0zm5 0zm5 0zm4 0zm2 0zm1 0zm42 0zm3 0zm6 0zm1 0zm3 0zm1 0zm1 0zm1 0zm37 0zm9 0zm7 0zm1 0zm4 0zm10 0zm2 0zm8 0zm8 0zm4 0zm1 0zm3 0zm2 0zm1 0zm2 0zm1 0zm1 0zm2 0zm11 0zm35 0zm8 0zm1 0zm10 0zm2 0zm52 0zm7 0zm2 0zm1 0zm2 0zm5 0zm1 0zm5 0zm2 0zm-484 1zm1 0zm5 0zm1 0zm13 0zm3 0zm11 0zm1 0zm17 0zm7 0zm1 0zm2 0zm57 0zm5 0zm5 0zm1 0zm4 0zm3 0zm25 0zm3 0zm10 0zm1 0zm2 0zm2 0zm4 0zm34 0zm3 0zm5 0zm1 0zm1 0zm9 0zm44 0zm7 0zm3 0zm1 0zm2 0zm1 0zm13 0zm1 0zm8 0zm6 0zm1 0zm9 0zm5 0zm6 0zm7 0zm1 0zm1 0zm27 0zm5 0zm6 0zm2 0zm2 0zm1 0zm3 0zm6 0zm59 0zm3 0zm6 0zm7 0zm3 0zm3 0zm-511 1zm1 0zm1 0zm24 0zm2 0zm1 0zm15 0zm11 0zm24 0zm6 0zm1 0zm2 0zm60 0zm13 0zm1 0zm23 0zm16 0zm1 0zm1 0zm2 0zm41 0zm3 0zm2 0zm1 0zm3 0zm1 0zm52 0zm7 0zm1 0zm2 0zm4 0zm9 0zm9 0zm15 0zm4 0zm5 0zm2 0zm1 0zm4 0zm1 0zm5 0zm2 0zm22 0zm8 0zm1 0zm3 0zm2 0zm3 0zm7 0zm2 0zm1 0zm60 0zm1 0zm2 0zm1 0zm6 0zm1 0zm3 0zm4 0zm-484 1zm28 0zm12 0zm86 0zm10 0zm3 0zm24 0zm11 0zm1 0zm1 0zm2 0zm5 0zm4 0zm34 0zm3 0zm2 0zm1 0zm10 0zm3 0zm40 0zm13 0zm3 0zm4 0zm4 0zm5 0zm2 0zm16 0zm7 0zm5 0zm1 0zm5 0zm5 0zm2 0zm1 0zm26 0zm1 0zm4 0zm2 0zm4 0zm2 0zm5 0zm1 0zm7 0zm1 0zm1 0zm54 0zm2 0zm1 0zm4 0zm3 0zm1 0zm3 0zm8 0zm6 0zm-510 1zm1 0zm1 0zm21 0zm3 0zm3 0zm6 0zm8 0zm14 0zm5 0zm1 0zm9 0zm13 0zm9 0zm1 0zm46 0zm5 0zm62 0zm33 0zm6 0zm4 0zm8 0zm41 0zm7 0zm2 0zm2 0zm9 0zm3 0zm6 0zm5 0zm2 0zm3 0zm1 0zm2 0zm1 0zm2 0zm2 0zm1 0zm6 0zm5 0zm5 0zm5 0zm3 0zm1 0zm22 0zm32 0zm2 0zm2 0zm53 0zm4 0zm5 0zm10 0zm-503 1zm4 0zm22 0zm3 0zm4 0zm4 0zm8 0zm2 0zm3 0zm9 0zm2 0zm4 0zm1 0zm5 0zm3 0zm3 0zm1 0zm1 0zm59 0zm6 0zm1 0zm6 0zm37 0zm5 0zm19 0zm28 0zm1 0zm62 0zm4 0zm11 0zm2 0zm2 0zm17 0zm3 0zm2 0zm1 0zm1 0zm4 0zm5 0zm12 0zm2 0zm3 0zm1 0zm3 0zm16 0zm4 0zm4 0zm4 0zm1 0zm1 0zm2 0zm3 0zm1 0zm7 0zm1 0zm1 0zm8 0zm54 0zm1 0zm1 0zm5 0zm2 0zm4 0zm5 0zm6 0zm-502 1zm25 0zm10 0zm1 0zm11 0zm6 0zm5 0zm8 0zm6 0zm18 0zm2 0zm2 0zm49 0zm2 0zm37 0zm1 0zm7 0zm9 0zm2 0zm2 0zm4 0zm17 0zm11 0zm1 0zm2 0zm2 0zm70 0zm2 0zm11 0zm4 0zm7 0zm5 0zm7 0zm14 0zm9 0zm1 0zm2 0zm10 0zm2 0zm4 0zm11 0zm3 0zm9 0zm11 0zm55 0zm2 0zm1 0zm3 0zm1 0zm13 0zm2 0zm3 0zm1 0zm2 0zm-511 1zm30 0zm2 0zm3 0zm4 0zm7 0zm4 0zm12 0zm6 0zm5 0zm6 0zm14 0zm2 0zm2 0zm3 0zm1 0zm33 0zm1 0zm5 0zm2 0zm5 0zm41 0zm5 0zm1 0zm9 0zm2 0zm1 0zm5 0zm6 0zm16 0zm2 0zm5 0zm1 0zm4 0zm4 0zm54 0zm4 0zm3 0zm3 0zm4 0zm2 0zm4 0zm1 0zm4 0zm1 0zm1 0zm3 0zm4 0zm6 0zm4 0zm1 0zm3 0zm2 0zm6 0zm2 0zm6 0zm7 0zm1 0zm14 0zm4 0zm4 0zm4 0zm7 0zm2 0zm2 0zm8 0zm1 0zm5 0zm56 0zm3 0zm6 0zm2 0zm2 0zm-494 1zm3 0zm18 0zm2 0zm18 0zm8 0zm6 0zm6 0zm1 0zm1 0zm5 0zm8 0zm2 0zm15 0zm4 0zm1 0zm41 0zm46 0zm2 0zm6 0zm2 0zm4 0zm3 0zm5 0zm2 0zm1 0zm3 0zm2 0zm8 0zm2 0zm7 0zm3 0zm1 0zm3 0zm3 0zm2 0zm5 0zm23 0zm33 0zm4 0zm5 0zm3 0zm8 0zm18 0zm1 0zm1 0zm2 0zm23 0zm2 0zm1 0zm7 0zm7 0zm2 0zm3 0zm2 0zm3 0zm13 0zm4 0zm6 0zm1 0zm1 0zm2 0zm2 0zm2 0zm63 0zm1 0zm-489 1zm3 0zm17 0zm6 0zm7 0zm1 0zm5 0zm17 0zm9 0zm4 0zm24 0zm3 0zm2 0zm36 0zm7 0zm1 0zm1 0zm31 0zm4 0zm6 0zm9 0zm4 0zm7 0zm2 0zm8 0zm6 0zm1 0zm8 0zm5 0zm1 0zm4 0zm1 0zm2 0zm24 0zm4 0zm2 0zm24 0zm11 0zm1 0zm2 0zm3 0zm2 0zm11 0zm4 0zm2 0zm6 0zm4 0zm1 0zm10 0zm1 0zm1 0zm2 0zm2 0zm6 0zm6 0zm6 0zm1 0zm8 0zm3 0zm3 0zm21 0zm2 0zm1 0zm62 0zm3 0zm2 0zm3 0zm2 0zm-493 1zm3 0zm2 0zm6 0zm12 0zm11 0zm3 0zm8 0zm4 0zm23 0zm2 0zm1 0zm5 0zm19 0zm1 0zm36 0zm4 0zm8 0zm1 0zm1 0zm33 0zm1 0zm1 0zm7 0zm3 0zm2 0zm1 0zm5 0zm9 0zm2 0zm4 0zm8 0zm6 0zm1 0zm10 0zm4 0zm25 0zm30 0zm2 0zm2 0zm1 0zm5 0zm1 0zm18 0zm2 0zm3 0zm1 0zm7 0zm6 0zm18 0zm8 0zm5 0zm12 0zm14 0zm6 0zm5 0zm6 0zm1 0zm6 0zm58 0zm1 0zm6 0zm-494 1zm6 0zm6 0zm13 0zm6 0zm11 0zm2 0zm1 0zm1 0zm7 0zm4 0zm11 0zm32 0zm40 0zm4 0zm2 0zm28 0zm7 0zm8 0zm1 0zm4 0zm2 0zm5 0zm2 0zm1 0zm7 0zm4 0zm1 0zm1 0zm8 0zm4 0zm12 0zm6 0zm24 0zm6 0zm22 0zm3 0zm1 0zm1 0zm9 0zm1 0zm5 0zm2 0zm1 0zm15 0zm2 0zm7 0zm2 0zm9 0zm3 0zm2 0zm2 0zm4 0zm5 0zm13 0zm5 0zm14 0zm2 0zm2 0zm3 0zm71 0zm4 0zm5 0zm1 0zm-494 1zm3 0zm2 0zm7 0zm12 0zm1 0zm1 0zm5 0zm4 0zm4 0zm5 0zm1 0zm14 0zm3 0zm8 0zm3 0zm1 0zm22 0zm1 0zm1 0zm8 0zm28 0zm2 0zm4 0zm9 0zm31 0zm3 0zm13 0zm2 0zm3 0zm2 0zm2 0zm4 0zm4 0zm1 0zm2 0zm3 0zm7 0zm7 0zm3 0zm33 0zm4 0zm3 0zm2 0zm21 0zm3 0zm4 0zm10 0zm3 0zm2 0zm4 0zm1 0zm1 0zm1 0zm2 0zm4 0zm6 0zm14 0zm7 0zm4 0zm4 0zm1 0zm6 0zm4 0zm1 0zm28 0zm3 0zm7 0zm9 0zm4 0zm1 0zm2 0zm49 0zm5 0zm-485 1zm12 0zm5 0zm1 0zm1 0zm4 0zm4 0zm1 0zm15 0zm25 0zm5 0zm15 0zm2 0zm4 0zm4 0zm32 0zm6 0zm6 0zm35 0zm4 0zm20 0zm10 0zm1 0zm5 0zm14 0zm11 0zm1 0zm25 0zm4 0zm24 0zm3 0zm4 0zm1 0zm1 0zm11 0zm1 0zm1 0zm1 0zm3 0zm1 0zm1 0zm13 0zm1 0zm6 0zm4 0zm3 0zm1 0zm2 0zm2 0zm17 0zm3 0zm16 0zm1 0zm18 0zm1 0zm1 0zm7 0zm3 0zm8 0zm-428 1zm4 0zm5 0zm2 0zm6 0zm8 0zm5 0zm4 0zm1 0zm1 0zm3 0zm10 0zm1 0zm2 0zm13 0zm1 0zm36 0zm1 0zm1 0zm21 0zm3 0zm1 0zm1 0zm12 0zm25 0zm8 0zm7 0zm14 0zm7 0zm16 0zm2 0zm11 0zm36 0zm1 0zm27 0zm4 0zm2 0zm1 0zm24 0zm13 0zm8 0zm13 0zm17 0zm2 0zm1 0zm29 0zm2 0zm16 0zm-436 1zm1 0zm6 0zm18 0zm20 0zm8 0zm1 0zm12 0zm4 0zm3 0zm4 0zm22 0zm2 0zm2 0zm29 0zm5 0zm4 0zm1 0zm27 0zm8 0zm2 0zm2 0zm3 0zm4 0zm6 0zm2 0zm5 0zm1 0zm2 0zm5 0zm11 0zm2 0zm1 0zm21 0zm1 0zm2 0zm3 0zm19 0zm1 0zm1 0zm2 0zm2 0zm27 0zm9 0zm17 0zm1 0zm40 0zm42 0zm6 0zm15 0zm-430 1zm4 0zm8 0zm1 0zm5 0zm1 0zm9 0zm3 0zm8 0zm11 0zm14 0zm1 0zm38 0zm7 0zm4 0zm14 0zm2 0zm2 0zm6 0zm3 0zm31 0zm1 0zm25 0zm1 0zm1 0zm1 0zm14 0zm10 0zm5 0zm2 0zm2 0zm8 0zm3 0zm5 0zm19 0zm3 0zm3 0zm2 0zm1 0zm25 0zm11 0zm15 0zm2 0zm2 0zm3 0zm12 0zm4 0zm4 0zm3 0zm8 0zm1 0zm1 0zm4 0zm1 0zm6 0zm5 0zm28 0zm-411 1zm1 0zm11 0zm13 0zm17 0zm11 0zm2 0zm8 0zm6 0zm22 0zm3 0zm1 0zm7 0zm1 0zm3 0zm21 0zm4 0zm11 0zm3 0zm2 0zm19 0zm8 0zm8 0zm15 0zm3 0zm1 0zm2 0zm2 0zm15 0zm23 0zm7 0zm1 0zm13 0zm3 0zm8 0zm50 0zm3 0zm1 0zm2 0zm1 0zm14 0zm1 0zm5 0zm1 0zm7 0zm9 0zm3 0zm1 0zm3 0zm6 0zm1 0zm2 0zm1 0zm4 0zm1 0zm21 0zm97 0zm-510 1zm1 0zm3 0zm4 0zm5 0zm4 0zm5 0zm1 0zm2 0zm2 0zm6 0zm9 0zm2 0zm9 0zm4 0zm7 0zm4 0zm26 0zm3 0zm1 0zm7 0zm4 0zm3 0zm12 0zm8 0zm11 0zm9 0zm2 0zm12 0zm6 0zm2 0zm2 0zm1 0zm9 0zm6 0zm9 0zm12 0zm4 0zm7 0zm1 0zm5 0zm6 0zm32 0zm2 0zm13 0zm17 0zm3 0zm1 0zm1 0zm6 0zm3 0zm16 0zm1 0zm6 0zm1 0zm11 0zm6 0zm4 0zm4 0zm5 0zm6 0zm5 0zm6 0zm3 0zm1 0zm4 0zm4 0zm12 0zm3 0zm20 0zm77 0zm1 0zm-512 1zm5 0zm4 0zm4 0zm5 0zm2 0zm1 0zm6 0zm7 0zm5 0zm3 0zm1 0zm1 0zm2 0zm2 0zm3 0zm10 0zm1 0zm2 0zm21 0zm2 0zm11 0zm4 0zm4 0zm5 0zm31 0zm1 0zm1 0zm20 0zm2 0zm12 0zm8 0zm2 0zm7 0zm2 0zm2 0zm9 0zm2 0zm9 0zm4 0zm13 0zm3 0zm1 0zm12 0zm4 0zm11 0zm1 0zm3 0zm3 0zm10 0zm18 0zm5 0zm3 0zm1 0zm17 0zm3 0zm7 0zm13 0zm3 0zm1 0zm12 0zm5 0zm24 0zm38 0zm1 0zm77 0zm-511 1zm25 0zm8 0zm4 0zm4 0zm6 0zm2 0zm1 0zm4 0zm36 0zm6 0zm5 0zm2 0zm6 0zm11 0zm8 0zm1 0zm5 0zm1 0zm2 0zm9 0zm35 0zm26 0zm1 0zm12 0zm3 0zm13 0zm2 0zm7 0zm4 0zm3 0zm7 0zm1 0zm1 0zm1 0zm5 0zm10 0zm31 0zm19 0zm2 0zm13 0zm8 0zm12 0zm10 0zm6 0zm4 0zm1 0zm4 0zm123 0zm1 0zm-507 1zm4 0zm4 0zm2 0zm1 0zm10 0zm4 0zm3 0zm1 0zm11 0zm2 0zm11 0zm12 0zm6 0zm2 0zm6 0zm4 0zm6 0zm6 0zm5 0zm12 0zm1 0zm13 0zm20 0zm6 0zm1 0zm3 0zm10 0zm4 0zm1 0zm4 0zm4 0zm6 0zm16 0zm2 0zm7 0zm4 0zm4 0zm8 0zm1 0zm2 0zm11 0zm4 0zm5 0zm7 0zm6 0zm2 0zm3 0zm6 0zm2 0zm9 0zm14 0zm4 0zm5 0zm19 0zm2 0zm1 0zm11 0zm3 0zm6 0zm7 0zm4 0zm11 0zm1 0zm11 0zm2 0zm46 0zm106 0zm1 0zm4 0zm-540 1zm10 0zm2 0zm2 0zm1 0zm3 0zm4 0zm1 0zm1 0zm1 0zm2 0zm4 0zm2 0zm6 0zm13 0zm2 0zm5 0zm3 0zm16 0zm3 0zm5 0zm2 0zm7 0zm7 0zm12 0zm17 0zm2 0zm3 0zm2 0zm9 0zm10 0zm3 0zm9 0zm9 0zm9 0zm23 0zm2 0zm9 0zm2 0zm4 0zm8 0zm1 0zm2 0zm10 0zm4 0zm13 0zm11 0zm6 0zm15 0zm5 0zm1 0zm1 0zm17 0zm8 0zm7 0zm11 0zm19 0zm3 0zm6 0zm3 0zm4 0zm2 0zm151 0zm-526 1zm18 0zm9 0zm3 0zm1 0zm4 0zm2 0zm5 0zm3 0zm2 0zm7 0zm4 0zm6 0zm7 0zm5 0zm12 0zm4 0zm6 0zm4 0zm19 0zm10 0zm20 0zm11 0zm13 0zm5 0zm3 0zm6 0zm5 0zm3 0zm6 0zm3 0zm6 0zm1 0zm2 0zm5 0zm2 0zm3 0zm6 0zm1 0zm1 0zm1 0zm2 0zm22 0zm2 0zm7 0zm18 0zm14 0zm10 0zm3 0zm9 0zm9 0zm12 0zm11 0zm6 0zm12 0zm46 0zm4 0zm2 0zm108 0zm1 0zm-543 1zm2 0zm3 0zm1 0zm8 0zm2 0zm2 0zm1 0zm6 0zm2 0zm3 0zm1 0zm4 0zm11 0zm9 0zm3 0zm9 0zm2 0zm10 0zm24 0zm3 0zm9 0zm25 0zm1 0zm2 0zm1 0zm10 0zm1 0zm22 0zm3 0zm4 0zm1 0zm2 0zm13 0zm2 0zm1 0zm1 0zm6 0zm9 0zm4 0zm10 0zm10 0zm14 0zm4 0zm2 0zm8 0zm2 0zm6 0zm1 0zm14 0zm8 0zm21 0zm7 0zm3 0zm8 0zm23 0zm4 0zm7 0zm3 0zm6 0zm5 0zm2 0zm141 0zm2 0zm2 0zm2 0zm-544 1zm1 0zm12 0zm4 0zm3 0zm1 0zm25 0zm7 0zm12 0zm9 0zm1 0zm3 0zm21 0zm1 0zm4 0zm6 0zm2 0zm9 0zm6 0zm2 0zm2 0zm11 0zm5 0zm9 0zm1 0zm4 0zm3 0zm1 0zm5 0zm3 0zm1 0zm1 0zm6 0zm8 0zm10 0zm13 0zm10 0zm4 0zm9 0zm6 0zm1 0zm5 0zm3 0zm1 0zm2 0zm14 0zm3 0zm1 0zm1 0zm3 0zm1 0zm5 0zm2 0zm17 0zm2 0zm3 0zm2 0zm1 0zm1 0zm2 0zm2 0zm4 0zm27 0zm10 0zm31 0zm1 0zm6 0zm3 0zm4 0zm2 0zm34 0zm3 0zm107 0zm1 0zm-544 1zm5 0zm11 0zm19 0zm2 0zm1 0zm2 0zm9 0zm8 0zm1 0zm1 0zm4 0zm8 0zm3 0zm13 0zm3 0zm6 0zm13 0zm5 0zm12 0zm17 0zm4 0zm1 0zm2 0zm3 0zm9 0zm4 0zm10 0zm19 0zm5 0zm12 0zm5 0zm3 0zm1 0zm4 0zm1 0zm5 0zm2 0zm26 0zm3 0zm1 0zm1 0zm1 0zm1 0zm3 0zm12 0zm11 0zm9 0zm11 0zm13 0zm1 0zm4 0zm2 0zm1 0zm1 0zm8 0zm4 0zm23 0zm5 0zm6 0zm4 0zm2 0zm13 0zm38 0zm3 0zm98 0zm1 0zm2 0zm1 0zm2 0zm-543 1zm8 0zm6 0zm20 0zm10 0zm1 0zm4 0zm1 0zm3 0zm9 0zm10 0zm2 0zm5 0zm3 0zm4 0zm4 0zm2 0zm4 0zm2 0zm5 0zm1 0zm6 0zm1 0zm5 0zm18 0zm16 0zm3 0zm5 0zm11 0zm9 0zm5 0zm4 0zm1 0zm6 0zm3 0zm7 0zm3 0zm9 0zm12 0zm4 0zm1 0zm4 0zm14 0zm3 0zm3 0zm2 0zm1 0zm7 0zm2 0zm13 0zm4 0zm3 0zm1 0zm3 0zm2 0zm15 0zm4 0zm9 0zm1 0zm13 0zm3 0zm7 0zm1 0zm2 0zm16 0zm8 0zm2 0zm6 0zm1 0zm6 0zm47 0zm5 0zm93 0zm-504 1zm29 0zm2 0zm1 0zm7 0zm15 0zm6 0zm1 0zm5 0zm6 0zm15 0zm20 0zm1 0zm4 0zm27 0zm4 0zm5 0zm4 0zm2 0zm8 0zm1 0zm14 0zm1 0zm6 0zm3 0zm3 0zm20 0zm14 0zm27 0zm5 0zm5 0zm1 0zm6 0zm12 0zm11 0zm7 0zm2 0zm6 0zm2 0zm29 0zm13 0zm5 0zm4 0zm4 0zm1 0zm3 0zm36 0zm2 0zm1 0zm102 0zm1 0zm-535 1zm17 0zm11 0zm8 0zm6 0zm2 0zm2 0zm4 0zm16 0zm1 0zm2 0zm12 0zm15 0zm2 0zm1 0zm1 0zm6 0zm11 0zm13 0zm4 0zm1 0zm7 0zm9 0zm4 0zm12 0zm8 0zm6 0zm7 0zm1 0zm6 0zm2 0zm17 0zm4 0zm2 0zm5 0zm8 0zm8 0zm9 0zm2 0zm8 0zm1 0zm4 0zm4 0zm10 0zm4 0zm9 0zm7 0zm2 0zm3 0zm10 0zm6 0zm12 0zm30 0zm7 0zm8 0zm8 0zm1 0zm13 0zm35 0zm1 0zm101 0zm1 0zm-544 1zm2 0zm3 0zm9 0zm9 0zm3 0zm8 0zm1 0zm3 0zm1 0zm1 0zm4 0zm6 0zm6 0zm4 0zm1 0zm1 0zm5 0zm2 0zm9 0zm8 0zm10 0zm9 0zm4 0zm3 0zm6 0zm8 0zm14 0zm13 0zm3 0zm4 0zm11 0zm12 0zm9 0zm4 0zm2 0zm6 0zm1 0zm2 0zm6 0zm1 0zm2 0zm7 0zm7 0zm4 0zm11 0zm3 0zm7 0zm5 0zm5 0zm3 0zm3 0zm4 0zm15 0zm3 0zm9 0zm2 0zm8 0zm10 0zm6 0zm5 0zm5 0zm8 0zm7 0zm16 0zm34 0zm36 0zm1 0zm3 0zm97 0zm-540 1zm7 0zm4 0zm14 0zm6 0zm8 0zm4 0zm9 0zm12 0zm1 0zm3 0zm14 0zm5 0zm4 0zm4 0zm3 0zm3 0zm2 0zm10 0zm2 0zm1 0zm3 0zm5 0zm18 0zm4 0zm10 0zm13 0zm3 0zm10 0zm4 0zm2 0zm7 0zm11 0zm9 0zm1 0zm6 0zm5 0zm1 0zm2 0zm2 0zm3 0zm4 0zm1 0zm4 0zm1 0zm8 0zm12 0zm7 0zm9 0zm2 0zm3 0zm8 0zm19 0zm2 0zm1 0zm11 0zm3 0zm2 0zm21 0zm17 0zm4 0zm4 0zm14 0zm1 0zm17 0zm1 0zm129 0zm-537 1zm15 0zm7 0zm6 0zm1 0zm1 0zm7 0zm2 0zm6 0zm2 0zm12 0zm5 0zm5 0zm1 0zm5 0zm14 0zm2 0zm4 0zm2 0zm1 0zm4 0zm24 0zm1 0zm1 0zm2 0zm16 0zm5 0zm7 0zm3 0zm3 0zm14 0zm11 0zm9 0zm11 0zm7 0zm11 0zm1 0zm8 0zm6 0zm9 0zm15 0zm10 0zm3 0zm4 0zm1 0zm3 0zm4 0zm8 0zm3 0zm14 0zm1 0zm2 0zm3 0zm27 0zm11 0zm3 0zm2 0zm15 0zm22 0zm2 0zm1 0zm2 0zm3 0zm129 0zm-541 1zm12 0zm5 0zm8 0zm4 0zm1 0zm4 0zm4 0zm4 0zm8 0zm20 0zm17 0zm10 0zm1 0zm3 0zm2 0zm3 0zm8 0zm7 0zm5 0zm13 0zm1 0zm5 0zm8 0zm10 0zm2 0zm5 0zm8 0zm16 0zm12 0zm4 0zm4 0zm14 0zm23 0zm3 0zm5 0zm3 0zm4 0zm14 0zm2 0zm2 0zm1 0zm1 0zm2 0zm4 0zm10 0zm3 0zm1 0zm2 0zm7 0zm9 0zm8 0zm2 0zm2 0zm2 0zm14 0zm1 0zm2 0zm9 0zm2 0zm4 0zm2 0zm13 0zm12 0zm3 0zm1 0zm1 0zm1 0zm2 0zm3 0zm132 0zm-530 1zm9 0zm4 0zm32 0zm21 0zm14 0zm2 0zm1 0zm7 0zm5 0zm8 0zm1 0zm1 0zm15 0zm4 0zm14 0zm8 0zm7 0zm11 0zm3 0zm3 0zm4 0zm5 0zm11 0zm1 0zm4 0zm3 0zm7 0zm2 0zm10 0zm7 0zm16 0zm3 0zm4 0zm7 0zm2 0zm1 0zm11 0zm6 0zm1 0zm2 0zm2 0zm19 0zm4 0zm1 0zm10 0zm2 0zm16 0zm5 0zm6 0zm17 0zm13 0zm4 0zm3 0zm10 0zm4 0zm5 0zm1 0zm52 0zm5 0zm2 0zm41 0zm5 0zm-513 1zm8 0zm2 0zm15 0zm15 0zm13 0zm11 0zm7 0zm1 0zm1 0zm4 0zm3 0zm4 0zm1 0zm4 0zm1 0zm3 0zm5 0zm11 0zm5 0zm1 0zm6 0zm13 0zm9 0zm1 0zm2 0zm5 0zm2 0zm5 0zm7 0zm3 0zm3 0zm3 0zm4 0zm8 0zm10 0zm2 0zm6 0zm6 0zm2 0zm7 0zm20 0zm1 0zm6 0zm1 0zm7 0zm4 0zm5 0zm7 0zm10 0zm6 0zm3 0zm1 0zm11 0zm14 0zm6 0zm11 0zm15 0zm8 0zm1 0zm6 0zm12 0zm6 0zm2 0zm1 0zm8 0zm3 0zm7 0zm1 0zm6 0zm3 0zm55 0zm37 0zm7 0zm-512 1zm2 0zm9 0zm12 0zm13 0zm4 0zm10 0zm34 0zm5 0zm2 0zm4 0zm3 0zm2 0zm11 0zm3 0zm7 0zm16 0zm1 0zm13 0zm1 0zm5 0zm5 0zm9 0zm1 0zm11 0zm6 0zm8 0zm9 0zm3 0zm7 0zm6 0zm6 0zm16 0zm5 0zm1 0zm5 0zm9 0zm1 0zm2 0zm21 0zm9 0zm1 0zm6 0zm6 0zm8 0zm4 0zm16 0zm3 0zm3 0zm10 0zm7 0zm2 0zm4 0zm1 0zm25 0zm16 0zm1 0zm3 0zm47 0zm2 0zm1 0zm2 0zm40 0zm2 0zm1 0zm1 0zm2 0zm2 0zm8 0zm-519 1zm4 0zm7 0zm4 0zm8 0zm1 0zm3 0zm2 0zm4 0zm46 0zm2 0zm14 0zm18 0zm5 0zm7 0zm10 0zm1 0zm1 0zm3 0zm6 0zm2 0zm2 0zm6 0zm1 0zm7 0zm1 0zm1 0zm25 0zm10 0zm1 0zm10 0zm11 0zm2 0zm1 0zm1 0zm29 0zm10 0zm28 0zm17 0zm1 0zm11 0zm5 0zm7 0zm7 0zm3 0zm11 0zm5 0zm5 0zm4 0zm17 0zm2 0zm18 0zm5 0zm46 0zm7 0zm3 0zm35 0zm7 0zm1 0zm3 0zm1 0zm3 0zm2 0zm-509 1zm9 0zm2 0zm3 0zm1 0zm2 0zm11 0zm9 0zm6 0zm2 0zm20 0zm19 0zm1 0zm6 0zm2 0zm2 0zm8 0zm11 0zm7 0zm1 0zm22 0zm1 0zm2 0zm4 0zm16 0zm6 0zm3 0zm1 0zm4 0zm4 0zm3 0zm1 0zm15 0zm15 0zm29 0zm2 0zm11 0zm14 0zm15 0zm1 0zm3 0zm2 0zm2 0zm5 0zm2 0zm4 0zm1 0zm8 0zm5 0zm1 0zm1 0zm10 0zm8 0zm3 0zm3 0zm2 0zm2 0zm6 0zm10 0zm10 0zm5 0zm1 0zm10 0zm3 0zm4 0zm1 0zm44 0zm5 0zm4 0zm29 0zm8 0zm3 0zm1 0zm1 0zm3 0zm3 0zm3 0zm6 0zm-525 1zm3 0zm3 0zm2 0zm1 0zm7 0zm4 0zm3 0zm3 0zm8 0zm4 0zm2 0zm8 0zm4 0zm3 0zm1 0zm24 0zm5 0zm3 0zm8 0zm4 0zm8 0zm5 0zm1 0zm8 0zm14 0zm12 0zm8 0zm20 0zm12 0zm6 0zm4 0zm1 0zm8 0zm4 0zm5 0zm16 0zm4 0zm12 0zm2 0zm3 0zm10 0zm5 0zm3 0zm3 0zm2 0zm1 0zm29 0zm5 0zm3 0zm3 0zm1 0zm9 0zm13 0zm2 0zm3 0zm1 0zm1 0zm2 0zm2 0zm3 0zm3 0zm7 0zm5 0zm1 0zm4 0zm6 0zm1 0zm15 0zm13 0zm57 0zm30 0zm3 0zm1 0zm8 0zm2 0zm2 0zm9 0zm1 0zm4 0zm-524 1zm12 0zm4 0zm3 0zm10 0zm11 0zm1 0zm2 0zm1 0zm8 0zm1 0zm2 0zm2 0zm9 0zm5 0zm2 0zm4 0zm4 0zm7 0zm5 0zm2 0zm6 0zm10 0zm19 0zm8 0zm8 0zm4 0zm2 0zm5 0zm1 0zm4 0zm6 0zm11 0zm12 0zm7 0zm1 0zm3 0zm32 0zm3 0zm10 0zm6 0zm1 0zm8 0zm15 0zm6 0zm2 0zm4 0zm4 0zm1 0zm3 0zm11 0zm3 0zm12 0zm16 0zm6 0zm3 0zm11 0zm20 0zm21 0zm58 0zm1 0zm5 0zm3 0zm25 0zm18 0zm1 0zm1 0zm9 0zm-505 1zm6 0zm6 0zm1 0zm5 0zm15 0zm2 0zm5 0zm11 0zm12 0zm6 0zm12 0zm13 0zm2 0zm13 0zm3 0zm13 0zm4 0zm2 0zm6 0zm12 0zm24 0zm11 0zm10 0zm6 0zm2 0zm12 0zm5 0zm4 0zm1 0zm5 0zm1 0zm1 0zm16 0zm8 0zm21 0zm5 0zm5 0zm1 0zm9 0zm6 0zm3 0zm2 0zm8 0zm1 0zm7 0zm6 0zm8 0zm20 0zm23 0zm1 0zm1 0zm9 0zm6 0zm46 0zm4 0zm4 0zm29 0zm11 0zm1 0zm2 0zm14 0zm-522 1zm8 0zm5 0zm6 0zm2 0zm5 0zm10 0zm23 0zm2 0zm20 0zm9 0zm2 0zm16 0zm13 0zm3 0zm1 0zm6 0zm4 0zm1 0zm11 0zm5 0zm11 0zm1 0zm8 0zm2 0zm7 0zm9 0zm15 0zm2 0zm3 0zm5 0zm3 0zm13 0zm2 0zm25 0zm1 0zm5 0zm4 0zm4 0zm1 0zm6 0zm1 0zm11 0zm4 0zm3 0zm9 0zm3 0zm5 0zm3 0zm5 0zm4 0zm4 0zm3 0zm1 0zm7 0zm1 0zm1 0zm17 0zm18 0zm7 0zm14 0zm2 0zm1 0zm48 0zm1 0zm2 0zm9 0zm1 0zm29 0zm1 0zm15 0zm4 0zm1 0zm1 0zm2 0zm5 0zm4 0zm1 0zm-532 1zm6 0zm6 0zm1 0zm46 0zm9 0zm15 0zm1 0zm1 0zm4 0zm6 0zm13 0zm1 0zm9 0zm11 0zm18 0zm2 0zm1 0zm7 0zm8 0zm6 0zm13 0zm7 0zm5 0zm1 0zm7 0zm1 0zm2 0zm22 0zm5 0zm5 0zm5 0zm22 0zm4 0zm14 0zm9 0zm12 0zm14 0zm2 0zm11 0zm8 0zm1 0zm5 0zm2 0zm16 0zm4 0zm33 0zm6 0zm1 0zm2 0zm6 0zm29 0zm5 0zm5 0zm1 0zm5 0zm2 0zm4 0zm1 0zm1 0zm24 0zm2 0zm7 0zm2 0zm1 0zm2 0zm4 0zm4 0zm3 0zm3 0zm1 0zm2 0zm1 0zm3 0zm2 0zm-527 1zm4 0zm19 0zm10 0zm1 0zm15 0zm1 0zm9 0zm1 0zm1 0zm17 0zm3 0zm9 0zm1 0zm1 0zm1 0zm12 0zm13 0zm9 0zm3 0zm5 0zm1 0zm10 0zm4 0zm6 0zm7 0zm1 0zm17 0zm6 0zm6 0zm12 0zm18 0zm1 0zm10 0zm4 0zm5 0zm4 0zm15 0zm1 0zm5 0zm31 0zm3 0zm22 0zm3 0zm5 0zm11 0zm6 0zm4 0zm3 0zm2 0zm45 0zm8 0zm1 0zm37 0zm8 0zm11 0zm25 0zm3 0zm1 0zm10 0zm6 0zm7 0zm2 0zm1 0zm-521 1zm4 0zm6 0zm5 0zm1 0zm2 0zm15 0zm7 0zm23 0zm1 0zm1 0zm10 0zm5 0zm25 0zm11 0zm6 0zm2 0zm21 0zm1 0zm18 0zm7 0zm1 0zm1 0zm1 0zm34 0zm11 0zm10 0zm8 0zm2 0zm6 0zm8 0zm1 0zm10 0zm4 0zm7 0zm2 0zm7 0zm1 0zm2 0zm2 0zm3 0zm9 0zm3 0zm7 0zm1 0zm3 0zm9 0zm1 0zm3 0zm4 0zm9 0zm1 0zm12 0zm42 0zm17 0zm26 0zm7 0zm1 0zm11 0zm1 0zm1 0zm29 0zm26 0zm4 0zm3 0zm-519 1zm2 0zm3 0zm11 0zm14 0zm8 0zm2 0zm3 0zm1 0zm11 0zm18 0zm10 0zm16 0zm1 0zm2 0zm12 0zm21 0zm1 0zm8 0zm2 0zm8 0zm1 0zm5 0zm1 0zm4 0zm7 0zm1 0zm3 0zm7 0zm6 0zm2 0zm9 0zm6 0zm10 0zm3 0zm4 0zm1 0zm7 0zm15 0zm5 0zm8 0zm1 0zm7 0zm11 0zm2 0zm17 0zm3 0zm6 0zm1 0zm8 0zm5 0zm2 0zm15 0zm4 0zm53 0zm1 0zm39 0zm5 0zm2 0zm3 0zm3 0zm2 0zm9 0zm3 0zm1 0zm58 0zm2 0zm-522 1zm24 0zm5 0zm2 0zm4 0zm1 0zm27 0zm16 0zm9 0zm16 0zm2 0zm12 0zm2 0zm5 0zm16 0zm12 0zm2 0zm6 0zm6 0zm11 0zm20 0zm7 0zm11 0zm4 0zm4 0zm4 0zm2 0zm3 0zm4 0zm12 0zm5 0zm3 0zm9 0zm5 0zm15 0zm5 0zm11 0zm21 0zm27 0zm4 0zm6 0zm52 0zm26 0zm12 0zm2 0zm2 0zm1 0zm7 0zm27 0zm1 0zm26 0zm-520 1zm22 0zm6 0zm19 0zm4 0zm7 0zm6 0zm2 0zm4 0zm5 0zm3 0zm7 0zm4 0zm2 0zm1 0zm1 0zm3 0zm3 0zm2 0zm11 0zm10 0zm2 0zm19 0zm1 0zm16 0zm3 0zm2 0zm4 0zm5 0zm6 0zm23 0zm8 0zm4 0zm15 0zm19 0zm10 0zm3 0zm17 0zm14 0zm5 0zm7 0zm5 0zm14 0zm9 0zm15 0zm16 0zm9 0zm25 0zm18 0zm22 0zm7 0zm3 0zm2 0zm3 0zm1 0zm2 0zm2 0zm1 0zm1 0zm10 0zm21 0zm1 0zm-496 1zm9 0zm12 0zm1 0zm36 0zm8 0zm10 0zm1 0zm4 0zm13 0zm2 0zm5 0zm5 0zm1 0zm3 0zm3 0zm2 0zm27 0zm8 0zm9 0zm23 0zm9 0zm3 0zm9 0zm2 0zm5 0zm3 0zm6 0zm2 0zm1 0zm3 0zm3 0zm4 0zm3 0zm3 0zm2 0zm1 0zm1 0zm3 0zm3 0zm1 0zm12 0zm1 0zm11 0zm2 0zm6 0zm7 0zm5 0zm2 0zm9 0zm6 0zm1 0zm4 0zm3 0zm5 0zm1 0zm1 0zm3 0zm3 0zm26 0zm56 0zm1 0zm2 0zm30 0zm1 0zm3 0zm1 0zm3 0zm2 0zm3 0zm4 0zm1 0zm5 0zm2 0zm27 0zm1 0zm1 0zm23 0zm6 0zm-525 1zm3 0zm1 0zm8 0zm2 0zm10 0zm6 0zm6 0zm7 0zm1 0zm1 0zm8 0zm2 0zm9 0zm8 0zm9 0zm9 0zm18 0zm13 0zm1 0zm14 0zm3 0zm1 0zm9 0zm8 0zm5 0zm1 0zm1 0zm6 0zm7 0zm6 0zm2 0zm16 0zm1 0zm4 0zm9 0zm1 0zm5 0zm3 0zm2 0zm22 0zm2 0zm7 0zm2 0zm3 0zm12 0zm2 0zm4 0zm14 0zm6 0zm1 0zm1 0zm4 0zm8 0zm10 0zm8 0zm22 0zm10 0zm48 0zm1 0zm2 0zm21 0zm1 0zm2 0zm4 0zm5 0zm11 0zm4 0zm1 0zm1 0zm5 0zm4 0zm1 0zm18 0zm1 0zm26 0zm1 0zm-523 1zm6 0zm1 0zm12 0zm1 0zm7 0zm3 0zm8 0zm2 0zm4 0zm2 0zm8 0zm5 0zm12 0zm7 0zm4 0zm15 0zm9 0zm4 0zm23 0zm7 0zm23 0zm5 0zm18 0zm2 0zm10 0zm6 0zm1 0zm8 0zm1 0zm4 0zm1 0zm2 0zm3 0zm7 0zm3 0zm11 0zm13 0zm8 0zm1 0zm1 0zm1 0zm4 0zm2 0zm1 0zm7 0zm7 0zm4 0zm1 0zm6 0zm7 0zm10 0zm17 0zm3 0zm11 0zm10 0zm2 0zm77 0zm3 0zm3 0zm3 0zm2 0zm1 0zm3 0zm2 0zm4 0zm8 0zm4 0zm1 0zm1 0zm2 0zm20 0zm1 0zm26 0zm4 0zm-520 1zm2 0zm9 0zm11 0zm19 0zm2 0zm4 0zm9 0zm4 0zm6 0zm2 0zm1 0zm8 0zm5 0zm5 0zm5 0zm1 0zm2 0zm8 0zm23 0zm11 0zm12 0zm9 0zm3 0zm11 0zm3 0zm1 0zm8 0zm2 0zm5 0zm3 0zm8 0zm1 0zm5 0zm2 0zm20 0zm3 0zm12 0zm7 0zm2 0zm1 0zm3 0zm2 0zm18 0zm3 0zm5 0zm5 0zm9 0zm1 0zm6 0zm15 0zm2 0zm15 0zm2 0zm17 0zm74 0zm2 0zm5 0zm1 0zm1 0zm4 0zm12 0zm7 0zm5 0zm1 0zm17 0zm6 0zm-495 1zm34 0zm1 0zm11 0zm2 0zm20 0zm5 0zm4 0zm7 0zm59 0zm13 0zm14 0zm4 0zm4 0zm3 0zm10 0zm6 0zm1 0zm12 0zm1 0zm15 0zm1 0zm2 0zm3 0zm3 0zm3 0zm5 0zm1 0zm12 0zm2 0zm7 0zm4 0zm2 0zm1 0zm15 0zm4 0zm1 0zm1 0zm16 0zm6 0zm15 0zm4 0zm74 0zm9 0zm18 0zm11 0zm6 0zm7 0zm3 0zm1 0zm2 0zm4 0zm1 0zm2 0zm1 0zm46 0zm3 0zm2 0zm-521 1zm3 0zm1 0zm1 0zm4 0zm6 0zm4 0zm1 0zm2 0zm6 0zm50 0zm12 0zm3 0zm3 0zm18 0zm26 0zm12 0zm11 0zm6 0zm19 0zm37 0zm4 0zm7 0zm8 0zm14 0zm2 0zm5 0zm7 0zm5 0zm3 0zm24 0zm11 0zm31 0zm60 0zm5 0zm1 0zm22 0zm12 0zm10 0zm3 0zm6 0zm2 0zm4 0zm2 0zm12 0zm31 0zm-524 1zm7 0zm17 0zm6 0zm6 0zm7 0zm1 0zm9 0zm20 0zm6 0zm11 0zm1 0zm2 0zm5 0zm3 0zm1 0zm2 0zm6 0zm9 0zm20 0zm8 0zm8 0zm9 0zm14 0zm1 0zm2 0zm8 0zm3 0zm2 0zm5 0zm3 0zm10 0zm24 0zm10 0zm21 0zm1 0zm2 0zm4 0zm4 0zm3 0zm9 0zm11 0zm2 0zm3 0zm1 0zm1 0zm6 0zm1 0zm14 0zm1 0zm8 0zm83 0zm33 0zm1 0zm8 0zm2 0zm11 0zm8 0zm10 0zm4 0zm24 0zm1 0zm3 0zm3 0zm-525 1zm3 0zm10 0zm2 0zm42 0zm12 0zm17 0zm1 0zm2 0zm3 0zm9 0zm13 0zm3 0zm4 0zm11 0zm13 0zm2 0zm1 0zm2 0zm4 0zm7 0zm1 0zm11 0zm5 0zm2 0zm10 0zm12 0zm5 0zm19 0zm3 0zm3 0zm6 0zm9 0zm1 0zm5 0zm5 0zm4 0zm16 0zm1 0zm9 0zm5 0zm5 0zm11 0zm6 0zm10 0zm132 0zm2 0zm1 0zm1 0zm15 0zm2 0zm1 0zm38 0zm8 0zm2 0zm1 0zm-520 1zm7 0zm2 0zm4 0zm3 0zm6 0zm1 0zm12 0zm4 0zm1 0zm4 0zm10 0zm3 0zm7 0zm2 0zm1 0zm2 0zm11 0zm12 0zm1 0zm10 0zm2 0zm6 0zm10 0zm13 0zm6 0zm8 0zm7 0zm2 0zm5 0zm6 0zm1 0zm6 0zm1 0zm6 0zm5 0zm6 0zm8 0zm7 0zm4 0zm3 0zm15 0zm10 0zm5 0zm2 0zm8 0zm3 0zm1 0zm11 0zm4 0zm16 0zm1 0zm9 0zm9 0zm5 0zm9 0zm2 0zm16 0zm67 0zm44 0zm5 0zm1 0zm2 0zm8 0zm1 0zm3 0zm1 0zm1 0zm5 0zm2 0zm1 0zm27 0zm4 0zm1 0zm6 0zm-533 1zm5 0zm19 0zm7 0zm11 0zm18 0zm41 0zm4 0zm5 0zm4 0zm6 0zm10 0zm11 0zm8 0zm4 0zm16 0zm1 0zm14 0zm2 0zm1 0zm15 0zm4 0zm4 0zm4 0zm22 0zm3 0zm10 0zm4 0zm2 0zm5 0zm5 0zm7 0zm5 0zm11 0zm7 0zm3 0zm1 0zm6 0zm3 0zm4 0zm27 0zm10 0zm113 0zm2 0zm3 0zm3 0zm2 0zm6 0zm9 0zm6 0zm5 0zm2 0zm25 0zm5 0zm7 0zm-528 1zm14 0zm5 0zm11 0zm4 0zm41 0zm4 0zm8 0zm12 0zm1 0zm1 0zm5 0zm12 0zm8 0zm7 0zm3 0zm5 0zm4 0zm1 0zm12 0zm20 0zm9 0zm1 0zm11 0zm1 0zm11 0zm8 0zm1 0zm8 0zm24 0zm2 0zm1 0zm1 0zm8 0zm10 0zm4 0zm2 0zm1 0zm18 0zm1 0zm9 0zm20 0zm1 0zm3 0zm12 0zm72 0zm47 0zm2 0zm11 0zm2 0zm3 0zm1 0zm7 0zm2 0zm28 0zm2 0zm-521 1zm2 0zm5 0zm2 0zm1 0zm3 0zm10 0zm1 0zm7 0zm6 0zm6 0zm3 0zm3 0zm10 0zm7 0zm4 0zm10 0zm6 0zm9 0zm1 0zm4 0zm6 0zm5 0zm2 0zm8 0zm3 0zm3 0zm7 0zm13 0zm16 0zm23 0zm1 0zm3 0zm9 0zm3 0zm33 0zm2 0zm3 0zm2 0zm35 0zm8 0zm3 0zm18 0zm11 0zm98 0zm3 0zm25 0zm8 0zm11 0zm5 0zm3 0zm3 0zm1 0zm7 0zm1 0zm3 0zm3 0zm23 0zm6 0zm5 0zm-528 1zm7 0zm8 0zm1 0zm1 0zm25 0zm1 0zm9 0zm1 0zm6 0zm15 0zm2 0zm8 0zm15 0zm4 0zm26 0zm12 0zm9 0zm4 0zm12 0zm11 0zm7 0zm9 0zm15 0zm3 0zm2 0zm3 0zm1 0zm18 0zm8 0zm13 0zm7 0zm12 0zm5 0zm13 0zm1 0zm5 0zm6 0zm3 0zm2 0zm4 0zm5 0zm1 0zm2 0zm3 0zm2 0zm3 0zm90 0zm3 0zm1 0zm25 0zm2 0zm20 0zm7 0zm2 0zm1 0zm2 0zm32 0zm9 0zm8 0zm1 0zm4 0zm-516 1zm1 0zm2 0zm3 0zm1 0zm23 0zm11 0zm3 0zm13 0zm22 0zm1 0zm1 0zm16 0zm1 0zm27 0zm4 0zm15 0zm2 0zm7 0zm1 0zm2 0zm35 0zm1 0zm16 0zm12 0zm1 0zm1 0zm1 0zm2 0zm11 0zm20 0zm6 0zm8 0zm8 0zm4 0zm6 0zm4 0zm15 0zm89 0zm4 0zm1 0zm2 0zm2 0zm19 0zm1 0zm2 0zm2 0zm1 0zm4 0zm1 0zm7 0zm3 0zm1 0zm4 0zm1 0zm16 0zm7 0zm21 0zm9 0zm4 0zm-531 1zm4 0zm11 0zm28 0zm9 0zm1 0zm1 0zm2 0zm20 0zm8 0zm2 0zm5 0zm32 0zm7 0zm5 0zm3 0zm1 0zm32 0zm9 0zm6 0zm36 0zm3 0zm15 0zm5 0zm5 0zm8 0zm1 0zm4 0zm5 0zm10 0zm20 0zm10 0zm7 0zm3 0zm1 0zm1 0zm5 0zm7 0zm1 0zm87 0zm27 0zm2 0zm2 0zm9 0zm16 0zm4 0zm4 0zm6 0zm6 0zm19 0zm2 0zm10 0zm3 0zm3 0zm-533 1zm2 0zm25 0zm2 0zm8 0zm1 0zm2 0zm23 0zm11 0zm7 0zm13 0zm1 0zm4 0zm13 0zm17 0zm15 0zm2 0zm10 0zm9 0zm13 0zm4 0zm1 0zm3 0zm4 0zm17 0zm1 0zm3 0zm3 0zm7 0zm2 0zm26 0zm12 0zm7 0zm7 0zm3 0zm2 0zm9 0zm7 0zm9 0zm10 0zm114 0zm1 0zm16 0zm1 0zm2 0zm4 0zm8 0zm14 0zm2 0zm1 0zm3 0zm2 0zm4 0zm31 0zm8 0zm8 0zm6 0zm-510 1zm17 0zm10 0zm1 0zm6 0zm3 0zm33 0zm9 0zm1 0zm2 0zm3 0zm7 0zm13 0zm6 0zm4 0zm23 0zm9 0zm2 0zm11 0zm1 0zm20 0zm12 0zm1 0zm2 0zm1 0zm45 0zm8 0zm9 0zm1 0zm12 0zm6 0zm8 0zm2 0zm111 0zm20 0zm4 0zm2 0zm2 0zm2 0zm5 0zm8 0zm6 0zm9 0zm50 0zm-535 1zm6 0zm8 0zm11 0zm7 0zm2 0zm12 0zm31 0zm2 0zm3 0zm9 0zm3 0zm10 0zm7 0zm9 0zm17 0zm3 0zm6 0zm5 0zm9 0zm7 0zm45 0zm2 0zm2 0zm5 0zm12 0zm6 0zm1 0zm14 0zm5 0zm3 0zm3 0zm4 0zm3 0zm12 0zm4 0zm4 0zm2 0zm1 0zm2 0zm13 0zm2 0zm10 0zm6 0zm98 0zm2 0zm14 0zm3 0zm6 0zm1 0zm4 0zm10 0zm4 0zm4 0zm4 0zm1 0zm8 0zm8 0zm20 0zm7 0zm8 0zm1 0zm-534 1zm3 0zm1 0zm12 0zm34 0zm12 0zm2 0zm5 0zm1 0zm5 0zm1 0zm4 0zm3 0zm18 0zm1 0zm1 0zm7 0zm27 0zm1 0zm11 0zm14 0zm6 0zm5 0zm6 0zm1 0zm1 0zm17 0zm5 0zm4 0zm6 0zm4 0zm3 0zm19 0zm2 0zm5 0zm19 0zm15 0zm4 0zm7 0zm5 0zm6 0zm6 0zm2 0zm4 0zm5 0zm110 0zm5 0zm3 0zm3 0zm2 0zm4 0zm14 0zm2 0zm1 0zm10 0zm3 0zm3 0zm36 0zm1 0zm1 0zm1 0zm1 0zm1 0zm4 0zm2 0zm11 0zm1 0zm3 0zm-538 1zm5 0zm12 0zm6 0zm4 0zm13 0zm12 0zm2 0zm21 0zm1 0zm25 0zm2 0zm2 0zm6 0zm20 0zm13 0zm11 0zm1 0zm7 0zm2 0zm4 0zm2 0zm22 0zm5 0zm1 0zm10 0zm23 0zm8 0zm7 0zm1 0zm23 0zm3 0zm14 0zm22 0zm4 0zm12 0zm100 0zm4 0zm5 0zm8 0zm10 0zm8 0zm4 0zm2 0zm3 0zm2 0zm3 0zm1 0zm6 0zm2 0zm4 0zm1 0zm34 0zm5 0zm12 0zm-544 1zm2 0zm5 0zm26 0zm19 0zm17 0zm2 0zm56 0zm14 0zm9 0zm4 0zm3 0zm2 0zm1 0zm8 0zm2 0zm18 0zm11 0zm16 0zm12 0zm10 0zm5 0zm7 0zm3 0zm2 0zm5 0zm5 0zm1 0zm9 0zm3 0zm8 0zm5 0zm6 0zm13 0zm9 0zm9 0zm104 0zm3 0zm21 0zm5 0zm4 0zm4 0zm1 0zm10 0zm2 0zm2 0zm6 0zm3 0zm1 0zm1 0zm3 0zm22 0zm5 0zm2 0zm2 0zm-523 1zm1 0zm24 0zm3 0zm12 0zm16 0zm4 0zm9 0zm3 0zm6 0zm11 0zm4 0zm13 0zm7 0zm2 0zm18 0zm7 0zm3 0zm2 0zm4 0zm1 0zm15 0zm2 0zm19 0zm5 0zm11 0zm16 0zm35 0zm3 0zm9 0zm7 0zm1 0zm5 0zm150 0zm2 0zm7 0zm3 0zm4 0zm1 0zm4 0zm5 0zm3 0zm1 0zm24 0zm2 0zm5 0zm2 0zm3 0zm1 0zm22 0zm-515 1zm9 0zm2 0zm23 0zm7 0zm6 0zm26 0zm3 0zm13 0zm11 0zm12 0zm21 0zm8 0zm2 0zm12 0zm4 0zm6 0zm4 0zm2 0zm1 0zm83 0zm7 0zm2 0zm5 0zm12 0zm26 0zm6 0zm115 0zm1 0zm6 0zm1 0zm1 0zm1 0zm3 0zm1 0zm16 0zm20 0zm1 0zm7 0zm1 0zm4 0zm5 0zm5 0zm1 0zm35 0zm1 0zm-542 1zm5 0zm17 0zm14 0zm9 0zm1 0zm6 0zm8 0zm5 0zm14 0zm7 0zm3 0zm18 0zm9 0zm1 0zm20 0zm5 0zm9 0zm20 0zm2 0zm13 0zm2 0zm25 0zm37 0zm6 0zm10 0zm14 0zm5 0zm1 0zm3 0zm11 0zm7 0zm7 0zm3 0zm110 0zm21 0zm5 0zm12 0zm13 0zm1 0zm3 0zm5 0zm1 0zm4 0zm3 0zm1 0zm3 0zm1 0zm43 0zm-545 1zm7 0zm21 0zm22 0zm1 0zm17 0zm16 0zm4 0zm16 0zm5 0zm23 0zm6 0zm8 0zm4 0zm18 0zm11 0zm17 0zm3 0zm17 0zm5 0zm6 0zm3 0zm3 0zm9 0zm3 0zm9 0zm9 0zm4 0zm3 0zm5 0zm15 0zm10 0zm10 0zm124 0zm2 0zm5 0zm1 0zm2 0zm1 0zm1 0zm3 0zm7 0zm3 0zm28 0zm3 0zm58 0zm-535 1zm1 0zm10 0zm2 0zm29 0zm18 0zm1 0zm3 0zm4 0zm37 0zm17 0zm24 0zm2 0zm14 0zm22 0zm13 0zm24 0zm4 0zm1 0zm2 0zm10 0zm8 0zm16 0zm2 0zm11 0zm6 0zm3 0zm3 0zm1 0zm6 0zm17 0zm110 0zm4 0zm3 0zm1 0zm5 0zm1 0zm2 0zm1 0zm7 0zm4 0zm1 0zm19 0zm1 0zm2 0zm1 0zm2 0zm8 0zm7 0zm2 0zm8 0zm25 0zm-537 1zm1 0zm39 0zm1 0zm11 0zm8 0zm8 0zm2 0zm39 0zm2 0zm6 0zm5 0zm3 0zm16 0zm7 0zm6 0zm13 0zm18 0zm6 0zm5 0zm12 0zm3 0zm19 0zm17 0zm5 0zm14 0zm1 0zm15 0zm1 0zm9 0zm5 0zm4 0zm12 0zm120 0zm1 0zm2 0zm1 0zm2 0zm1 0zm7 0zm2 0zm4 0zm2 0zm29 0zm7 0zm1 0zm6 0zm2 0zm1 0zm3 0zm1 0zm5 0zm5 0zm19 0zm1 0zm4 0zm5 0zm2 0zm-540 1zm7 0zm3 0zm2 0zm6 0zm8 0zm26 0zm14 0zm18 0zm70 0zm7 0zm6 0zm4 0zm1 0zm7 0zm12 0zm15 0zm5 0zm3 0zm14 0zm19 0zm4 0zm7 0zm19 0zm4 0zm7 0zm16 0zm6 0zm119 0zm1 0zm1 0zm4 0zm9 0zm30 0zm8 0zm1 0zm7 0zm1 0zm1 0zm38 0zm11 0zm-533 1zm11 0zm8 0zm5 0zm2 0zm3 0zm19 0zm9 0zm43 0zm11 0zm1 0zm3 0zm19 0zm30 0zm4 0zm16 0zm16 0zm10 0zm29 0zm2 0zm3 0zm10 0zm12 0zm5 0zm1 0zm9 0zm7 0zm24 0zm109 0zm1 0zm10 0zm2 0zm4 0zm5 0zm3 0zm2 0zm20 0zm8 0zm13 0zm1 0zm3 0zm8 0zm2 0zm13 0zm1 0zm1 0zm13 0zm-547 1zm13 0zm8 0zm23 0zm3 0zm1 0zm7 0zm5 0zm17 0zm9 0zm11 0zm4 0zm4 0zm37 0zm3 0zm4 0zm6 0zm2 0zm3 0zm17 0zm8 0zm9 0zm4 0zm7 0zm8 0zm1 0zm4 0zm26 0zm11 0zm3 0zm6 0zm11 0zm13 0zm11 0zm12 0zm123 0zm5 0zm4 0zm5 0zm1 0zm4 0zm11 0zm24 0zm7 0zm2 0zm3 0zm3 0zm3 0zm2 0zm2 0zm3 0zm4 0zm13 0zm12 0zm-535 1zm1 0zm8 0zm8 0zm13 0zm16 0zm50 0zm5 0zm18 0zm1 0zm9 0zm17 0zm16 0zm3 0zm13 0zm6 0zm9 0zm3 0zm19 0zm1 0zm13 0zm8 0zm7 0zm13 0zm10 0zm1 0zm9 0zm13 0zm6 0zm132 0zm2 0zm7 0zm3 0zm10 0zm2 0zm4 0zm19 0zm4 0zm6 0zm1 0zm11 0zm12 0zm6 0zm7 0zm7 0zm9 0zm3 0zm-547 1zm5 0zm34 0zm9 0zm1 0zm49 0zm2 0zm1 0zm8 0zm2 0zm5 0zm9 0zm5 0zm6 0zm38 0zm8 0zm13 0zm9 0zm1 0zm4 0zm1 0zm47 0zm30 0zm154 0zm8 0zm34 0zm2 0zm1 0zm9 0zm5 0zm6 0zm5 0zm4 0zm7 0zm14 0zm-535 1zm9 0zm1 0zm23 0zm27 0zm15 0zm33 0zm13 0zm26 0zm30 0zm20 0zm12 0zm12 0zm3 0zm9 0zm16 0zm3 0zm2 0zm11 0zm3 0zm31 0zm145 0zm2 0zm33 0zm4 0zm1 0zm1 0zm7 0zm5 0zm5 0zm2 0zm10 0zm5 0zm2 0zm1 0zm5 0zm4 0zm3 0zm2 0zm-518 1zm26 0zm5 0zm8 0zm1 0zm3 0zm13 0zm8 0zm7 0zm24 0zm8 0zm5 0zm5 0zm6 0zm10 0zm1 0zm13 0zm6 0zm15 0zm20 0zm1 0zm4 0zm9 0zm9 0zm1 0zm1 0zm12 0zm1 0zm6 0zm10 0zm3 0zm24 0zm161 0zm1 0zm2 0zm5 0zm1 0zm1 0zm27 0zm3 0zm1 0zm3 0zm13 0zm1 0zm7 0zm2 0zm1 0zm12 0zm3 0zm4 0zm3 0zm3 0zm-534 1zm17 0zm18 0zm48 0zm4 0zm31 0zm13 0zm7 0zm4 0zm6 0zm12 0zm13 0zm8 0zm6 0zm7 0zm1 0zm72 0zm4 0zm6 0zm1 0zm2 0zm7 0zm149 0zm3 0zm12 0zm28 0zm3 0zm21 0zm7 0zm5 0zm3 0zm5 0zm13 0zm5 0zm-541 1zm16 0zm2 0zm25 0zm1 0zm3 0zm3 0zm42 0zm12 0zm6 0zm24 0zm10 0zm30 0zm19 0zm9 0zm5 0zm5 0zm24 0zm5 0zm12 0zm10 0zm4 0zm4 0zm11 0zm155 0zm14 0zm9 0zm23 0zm6 0zm11 0zm2 0zm1 0zm16 0zm13 0zm1 0zm2 0zm3 0zm3 0zm-544 1zm8 0zm51 0zm1 0zm13 0zm10 0zm21 0zm16 0zm14 0zm9 0zm37 0zm3 0zm11 0zm14 0zm17 0zm2 0zm47 0zm164 0zm5 0zm3 0zm2 0zm12 0zm1 0zm10 0zm7 0zm1 0zm20 0zm4 0zm13 0zm1 0zm15 0zm2 0zm10 0zm-506 1zm4 0zm29 0zm10 0zm4 0zm1 0zm9 0zm37 0zm2 0zm32 0zm6 0zm24 0zm7 0zm13 0zm11 0zm13 0zm14 0zm184 0zm1 0zm1 0zm4 0zm5 0zm4 0zm10 0zm15 0zm9 0zm6 0zm6 0zm27 0zm1 0zm6 0zm8 0zm2 0zm2 0zm-520 1zm1 0zm6 0zm2 0zm8 0zm18 0zm40 0zm13 0zm5 0zm22 0zm15 0zm4 0zm11 0zm1 0zm11 0zm5 0zm8 0zm1 0zm24 0zm26 0zm1 0zm3 0zm13 0zm8 0zm171 0zm5 0zm1 0zm8 0zm8 0zm6 0zm23 0zm8 0zm5 0zm6 0zm5 0zm4 0zm8 0zm9 0zm1 0zm2 0zm1 0zm-518 1zm22 0zm5 0zm11 0zm3 0zm5 0zm4 0zm13 0zm9 0zm33 0zm9 0zm40 0zm40 0zm12 0zm19 0zm7 0zm16 0zm2 0zm165 0zm2 0zm11 0zm4 0zm6 0zm3 0zm7 0zm12 0zm1 0zm2 0zm2 0zm3 0zm7 0zm2 0zm2 0zm6 0zm7 0zm4 0zm16 0zm7 0zm-534 1zm2 0zm7 0zm6 0zm2 0zm13 0zm1 0zm18 0zm1 0zm46 0zm5 0zm15 0zm18 0zm9 0zm3 0zm23 0zm51 0zm28 0zm1 0zm8 0zm1 0zm17 0zm155 0zm5 0zm1 0zm2 0zm1 0zm1 0zm4 0zm9 0zm4 0zm4 0zm1 0zm16 0zm5 0zm7 0zm1 0zm20 0zm3 0zm4 0zm4 0zm14 0zm-520 1zm70 0zm1 0zm54 0zm5 0zm20 0zm20 0zm4 0zm15 0zm3 0zm9 0zm14 0zm12 0zm3 0zm2 0zm7 0zm4 0zm14 0zm3 0zm6 0zm156 0zm4 0zm4 0zm4 0zm4 0zm4 0zm15 0zm8 0zm11 0zm12 0zm10 0zm4 0zm-505 1zm24 0zm4 0zm10 0zm12 0zm75 0zm23 0zm3 0zm3 0zm12 0zm12 0zm4 0zm16 0zm6 0zm48 0zm166 0zm12 0zm12 0zm1 0zm1 0zm15 0zm26 0zm8 0zm6 0zm1 0zm9 0zm-511 1zm11 0zm30 0zm110 0zm4 0zm70 0zm3 0zm8 0zm1 0zm8 0zm5 0zm176 0zm3 0zm1 0zm3 0zm14 0zm14 0zm7 0zm1 0zm3 0zm3 0zm13 0zm3 0zm6 0zm2 0zm14 0zm-504 1zm15 0zm1 0zm22 0zm7 0zm10 0zm15 0zm25 0zm14 0zm8 0zm8 0zm21 0zm6 0zm65 0zm6 0zm191 0zm2 0zm1 0zm10 0zm21 0zm13 0zm2 0zm4 0zm3 0zm2 0zm4 0zm8 0zm1 0zm7 0zm2 0zm3 0zm1 0zm1 0zm13 0zm2 0zm-527 1zm11 0zm3 0zm65 0zm39 0zm30 0zm2 0zm2 0zm5 0zm24 0zm33 0zm7 0zm14 0zm14 0zm179 0zm1 0zm3 0zm1 0zm2 0zm13 0zm5 0zm7 0zm4 0zm2 0zm2 0zm2 0zm1 0zm6 0zm12 0zm9 0zm1 0zm5 0zm16 0zm1 0zm1 0zm-520 1zm42 0zm14 0zm2 0zm4 0zm6 0zm37 0zm4 0zm14 0zm31 0zm32 0zm19 0zm217 0zm6 0zm3 0zm2 0zm2 0zm18 0zm7 0zm11 0zm1 0zm3 0zm14 0zm12 0zm8 0zm15 0zm-487 1zm43 0zm22 0zm8 0zm91 0zm14 0zm207 0zm5 0zm11 0zm8 0zm25 0zm17 0zm4 0zm4 0zm12 0zm2 0zm4 0zm3 0zm1 0zm5 0zm1 0zm1 0zm-530 1zm12 0zm18 0zm4 0zm100 0zm19 0zm20 0zm254 0zm2 0zm4 0zm1 0zm8 0zm3 0zm9 0zm1 0zm20 0zm2 0zm6 0zm4 0zm11 0zm1 0zm13 0zm6 0zm2 0zm1 0zm2 0zm2 0zm-531 1zm47 0zm6 0zm59 0zm50 0zm2 0zm20 0zm20 0zm49 0zm184 0zm12 0zm4 0zm21 0zm5 0zm3 0zm8 0zm11 0zm1 0zm26 0zm1 0zm6 0zm1 0zm-538 1zm17 0zm62 0zm41 0zm22 0zm3 0zm5 0zm2 0zm32 0zm10 0zm44 0zm201 0zm14 0zm4 0zm4 0zm5 0zm2 0zm2 0zm1 0zm15 0zm2 0zm2 0zm3 0zm1 0zm7 0zm19 0zm10 0zm11 0zm-458 1zm4 0zm10 0zm33 0zm41 0zm33 0zm21 0zm218 0zm3 0zm9 0zm3 0zm2 0zm1 0zm16 0zm9 0zm1 0zm23 0zm9 0zm3 0zm6 0zm10 0zm1 0zm1 0zm-546 1zm35 0zm3 0zm31 0zm22 0zm58 0zm1 0zm16 0zm18 0zm43 0zm1 0zm43 0zm179 0zm4 0zm1 0zm9 0zm1 0zm5 0zm7 0zm2 0zm11 0zm6 0zm2 0zm1 0zm4 0zm18 0zm13 0zm3 0zm11 0zm-530 1zm60 0zm5 0zm1 0zm84 0zm5 0zm51 0zm30 0zm196 0zm6 0zm3 0zm14 0zm6 0zm7 0zm2 0zm23 0zm4 0zm1 0zm5 0zm27 0zm-533 1zm42 0zm18 0zm46 0zm32 0zm20 0zm26 0zm4 0zm1 0zm11 0zm28 0zm223 0zm30 0zm1 0zm2 0zm5 0zm1 0zm1 0zm2 0zm15 0zm3 0zm8 0zm4 0zm4 0zm4 0zm-539 1zm32 0zm40 0zm13 0zm9 0zm66 0zm89 0zm7 0zm191 0zm5 0zm13 0zm3 0zm9 0zm1 0zm2 0zm5 0zm3 0zm2 0zm2 0zm4 0zm4 0zm13 0zm10 0zm4 0zm12 0zm-545 1zm55 0zm22 0zm54 0zm19 0zm34 0zm54 0zm220 0zm4 0zm2 0zm7 0zm3 0zm7 0zm3 0zm1 0zm8 0zm5 0zm7 0zm16 0zm4 0zm3 0zm16 0zm2 0zm-516 1zm40 0zm54 0zm16 0zm35 0zm83 0zm8 0zm183 0zm26 0zm14 0zm8 0zm3 0zm8 0zm9 0zm3 0zm3 0zm9 0zm-432 1zm28 0zm17 0zm64 0zm5 0zm44 0zm192 0zm6 0zm2 0zm2 0zm7 0zm3 0zm10 0zm18 0zm4 0zm9 0zm17 0zm2 0zm2 0zm3 0zm5 0zm2 0zm2 0zm-546 1zm48 0zm5 0zm401 0zm1 0zm8 0zm1 0zm2 0zm6 0zm6 0zm3 0zm7 0zm15 0zm11 0zm11 0zm2 0zm4 0zm1 0zm16 0zm-536 1zm14 0zm29 0zm27 0zm4 0zm70 0zm29 0zm268 0zm20 0zm2 0zm6 0zm3 0zm8 0zm13 0zm4 0zm26 0zm10 0zm-539 1zm17 0zm1 0zm22 0zm24 0zm124 0zm17 0zm8 0zm1 0zm2 0zm242 0zm1 0zm3 0zm5 0zm3 0zm4 0zm3 0zm2 0zm12 0zm6 0zm8 0zm5 0zm10 0zm6 0zm-528 1zm20 0zm32 0zm67 0zm89 0zm42 0zm204 0zm2 0zm6 0zm7 0zm2 0zm4 0zm5 0zm4 0zm2 0zm11 0zm1 0zm2 0zm11 0zm3 0zm25 0zm2 0zm-474 1zm126 0zm5 0zm259 0zm37 0zm6 0zm7 0zm10 0zm1 0zm6 0zm7 0zm6 0zm-401 1zm17 0zm26 0zm27 0zm16 0zm232 0zm15 0zm2 0zm2 0zm14 0zm10 0zm3 0zm5 0zm20 0zm-498 1zm98 0zm332 0zm21 0zm11 0zm26 0zm1 0zm4 0zm2 0zm5 0zm12 0zm-543 1zm158 0zm13 0zm60 0zm230 0zm4 0zm5 0zm6 0zm9 0zm7 0zm3 0zm11 0zm5 0zm17 0zm3 0zm-449 1zm3 0zm89 0zm43 0zm12 0zm232 0zm1 0zm11 0zm4 0zm9 0zm6 0zm8 0zm4 0zm2 0zm4 0zm5 0zm9 0zm1 0zm9 0zm4 0zm3 0zm-399 1zm323 0zm8 0zm12 0zm2 0zm13 0zm3 0zm11 0zm10 0zm7 0zm5 0zm8 0zm-391 1zm75 0zm238 0zm9 0zm5 0zm9 0zm7 0zm19 0zm7 0zm15 0zm1 0zm5 0zm6 0zm-542 1zm162 0zm41 0zm33 0zm227 0zm1 0zm6 0zm6 0zm1 0zm6 0zm11 0zm5 0zm10 0zm1 0zm9 0zm10 0zm6 0zm5 0zm-534 1zm46 0zm69 0zm333 0zm21 0zm7 0zm25 0zm1 0zm8 0zm9 0zm1 0zm2 0zm5 0zm-391 1zm28 0zm294 0zm10 0zm1 0zm14 0zm2 0zm4 0zm6 0zm16 0zm6 0zm-494 1zm25 0zm47 0zm37 0zm317 0zm9 0zm2 0zm8 0zm15 0zm29 0zm1 0zm2 0zm7 0zm12 0zm-449 1zm10 0zm89 0zm270 0zm23 0zm1 0zm18 0zm12 0zm8 0zm1 0zm4 0zm5 0zm3 0zm-81 1zm43 0zm19 0zm1 0zm9 0zm-505 1zm456 0zm4 0zm36 0zm4 0zm19 0zm-354 1zm287 0zm15 0zm20 0zm13 0zm19 0zm-531 1zm452 0zm6 0zm14 0zm1 0zm5 0zm2 0zm20 0zm23 0zm5 0zm2 0zm-31 1zm2 0zm3 0zm5 0zm6 0zm13 0zm5 0zm-79 1zm2 0zm3 0zm6 0zm4 0zm7 0zm11 0zm5 0zm4 0zm4 0zm16 0zm8 0zm-67 1zm4 0zm6 0zm3 0zm2 0zm9 0zm6 0zm3 0zm1 0zm10 0zm19 0zm3 0zm6 0zm-50 1zm2 0zm1 0zm16 0zm2 0zm2 0zm4 0zm13 0zm-41 1zm13 0zm9 0zm17 0zm15 0zm-74 1zm2 0zm34 0zm27 0zm-48 1zm3 0zm9 0zm17 0zm4 0zm7 0zm-42 1zm3 0zm6 0zm5 0zm19 0zm-43 1zm14 0zm5 0zm20 0zm6 0zm6 0zm3 0zm1 0zm8 0zm-61 1zm10 0zm12 0zm9 0zm20 0zm6 0zm1 0zm7 0zm1 0zm2 0zm2 0zm-53 1zm3 0zm10 0zm1 0zm8 0zm15 0zm2 0zm5 0zm-58 1zm8 0zm9 0zm31 0zm14 0zm-71 1zm14 0zm7 0zm8 0zm2 0zm0 1zm-22 1zm23 0zm5 0zm13 0zm-33 1zm13 0zm34 0zm7 0zm1 0zm-56 1zm41 0zm4 1zm1 0zm-26 1zm18 0zm8 0zm-16 1zm3 0zm-12 1zm8 0zm22 0zm3 0zm-41 1zm24 0zm3 0zm17 0zm-27 1zm1 0zm21 0zm-50 1zm10 0zm2 0zm3 0zm10 0zm9 0zm3 0zm19 1zm-15 1zm2 0zm-21 1zm7 0zm-23 1zm15 0zm5 0zm6 0zm-33 1zm49 1zm-20 1zm3 0zm15 0zm-7 1zm-36 1zm12 0zm9 1zm24 0zm3 0zm-55 1zm21 0zm17 0zm8 0zm-38 1zm34 0zm5 0zm-24 1zm-14 1zm-6 1zm3 0zm9 0zm11 0zm-13 1zm42 0zm-46 3zm51 0zm-14 1zm-13 2zm-16 1zm13 0zm1 0zm7 0zm5 0zm10 0zm-1 2zm-17 1zm10 0zm15 0zm-36 3zm-11 2zm10 3zm10 0zm0 2z"/><path class="D" stroke="#000" d="M196.5 287.5zm-52 3zm69 0zm58 0zm-115 1zm15 1zm19 0zm12 0zm-4 1zm1 0zm4 0zm5 0zm8 0zm14 0zm13 0zm44 2zm7 0zm15 0zm-7 1zm15 1zm4 0zm3 1zm4 1zm4 0zm6 1zm3 0zm12 0zm-6 1zm7 0zm3 0zm232 0zm57 0zm35 0zm-321 1zm5 1zm14 0zm162 0zm67 0zm-230 1zm213 0zm6 0zm35 0zm-246 1zm206 0zm39 0zm-235 1zm173 0zm13 0zm4 0zm9 0zm6 0zm26 0zm5 0zm-237 1zm163 0zm49 0zm29 0zm13 0zm-72 1zm3 0zm9 0zm6 0zm8 0zm4 0zm14 0zm23 0zm28 0zm10 0zm7 0zm-137 1zm56 0zm47 0zm25 0zm-139 1zm23 0zm123 0zm-128 1zm2 0zm6 0zm-134 1zm60 0zm12 0zm19 0zm5 0zm4 0zm-84 1zm63 0zm-63 1zm17 0zm7 0zm2 0zm21 0zm4 0zm4 0zm2 0zm7 0zm13 0zm-73 1zm5 0zm4 0zm15 0zm7 0zm24 0zm-37 1zm57 171zm7 1zm-3 1zm-7 1zm5 1zm-11 2zm-30 1zm2 0zm25 0zm13 0zm1 0zm14 0zm-59 2zm5 0zm57 0zm-49 2zm-16 1zm68 0zm-32 1zm6 1zm-14 1zm5 1zm-27 1zm14 0zm4 0zm9 0zm4 1zm-43 3zm11 0zm5 0zm-9 2zm10 1zm-21 1zm52 0zm-53 1zm4 0zm88 1zm-4 1zm-413 1zm330 0zm-255 1zm64 2zm183 0zm104 0zm-121 1zm-283 1zm148 1zm37 0zm85 0zm-138 1zm148 0zm21 0zm13 0zm-296 1zm48 0zm-31 1zm21 0zm53 0zm78 0zm104 0zm27 0zm-294 1zm17 0zm45 0zm107 0zm110 0zm1 0zm-284 1zm54 0zm11 0zm104 0zm117 0zm-264 1zm18 0zm19 0zm67 0zm-143 1zm21 0zm54 0zm56 0zm149 0zm9 0zm3 0zm-271 1zm54 0zm61 0zm71 0zm-228 1zm32 0zm4 0zm22 0zm33 0zm43 0zm27 0zm11 0zm24 0zm102 0zm131 0zm-393 1zm256 0zm-298 1zm93 0zm136 0zm24 0zm35 0zm2 0zm13 0zm17 0zm-303 1zm40 0zm12 0zm26 0zm13 0zm91 0zm84 0zm153 0zm-359 1zm51 0zm62 0zm81 0zm41 0zm1 0zm-305 1zm11 0zm3 0zm94 0zm34 0zm75 0zm32 0zm32 0zm29 0zm119 0zm-362 1zm23 0zm52 0zm27 0zm56 0zm-215 1zm114 0zm16 0zm99 0zm28 0zm6 0zm10 0zm38 0zm-319 1zm37 0zm28 0zm34 0zm6 0zm48 0zm84 0zm42 0zm-209 1zm21 0zm18 0zm9 0zm99 0zm92 0zm-281 1zm38 0zm49 0zm36 0zm24 0zm33 0zm61 0zm13 0zm-292 1zm36 0zm18 0zm22 0zm3 0zm16 0zm3 0zm48 0zm28 0zm45 0zm1 0zm-217 1zm94 0zm9 0zm8 0zm125 0zm-233 1zm18 0zm72 0zm46 0zm2 0zm158 0zm-266 1zm4 0zm5 0zm129 0zm22 0zm31 0zm8 0zm6 0zm4 0zm23 0zm23 0zm-262 1zm37 0zm1 0zm39 0zm5 0zm54 0zm44 0zm78 0zm4 0zm-269 1zm44 0zm45 0zm25 0zm8 0zm38 0zm35 0zm34 0zm7 0zm187 0zm-413 1zm10 0zm2 0zm87 0zm20 0zm40 0zm87 0zm-240 1zm20 0zm23 0zm7 0zm40 0zm6 0zm21 0zm15 0zm12 0zm25 0zm12 0zm28 0zm38 0zm-272 1zm41 0zm6 0zm25 0zm32 0zm59 0zm20 0zm8 0zm-195 1zm35 0zm5 0zm9 0zm6 0zm29 0zm5 0zm39 0zm12 0zm66 0zm15 0zm9 0zm7 0zm40 0zm-278 1zm7 0zm114 0zm5 0zm8 0zm9 0zm31 0zm35 0zm93 0zm-270 1zm74 0zm57 0zm122 0zm-281 1zm109 0zm1 0zm60 0zm101 0zm11 0zm-288 1zm33 0zm1 0zm31 0zm10 0zm24 0zm23 0zm92 0zm44 0zm-221 1zm71 0zm4 0zm53 0zm25 0zm28 0zm3 0zm18 0zm-231 1zm4 0zm3 0zm17 0zm30 0zm42 0zm36 0zm10 0zm31 0zm66 0zm2 0zm7 0zm-254 1zm9 0zm17 0zm23 0zm20 0zm120 0zm2 0zm35 0zm29 0zm-216 1zm1 0zm68 0zm26 0zm6 0zm16 0zm12 0zm-160 1zm60 0zm5 0zm12 0zm9 0zm34 0zm80 0zm19 0zm3 0zm20 0zm191 0zm1 0zm-426 1zm4 0zm47 0zm83 0zm22 0zm4 0zm40 0zm14 0zm2 0zm211 0zm-451 1zm71 0zm7 0zm129 0zm24 0zm26 0zm-242 1zm10 0zm18 0zm9 0zm78 0zm6 0zm3 0zm58 0zm9 0zm27 0zm7 0zm3 0zm208 0zm-442 1zm37 0zm10 0zm60 0zm42 0zm7 0zm49 0zm28 0zm-230 1zm64 0zm18 0zm18 0zm51 0zm20 0zm5 0zm54 0zm212 0zm-365 1zm55 0zm15 0zm14 0zm15 0zm267 0zm-369 1zm30 0zm12 0zm3 0zm3 0zm33 0zm21 0zm50 0zm5 0zm-243 1zm30 0zm35 0zm16 0zm135 0zm1 0zm9 0zm10 0zm-191 1zm40 0zm85 0zm11 0zm61 0zm4 0zm1 0zm216 0zm-457 1zm6 0zm7 0zm41 0zm23 0zm13 0zm42 0zm12 0zm32 0zm11 0zm26 0zm4 0zm240 0zm-435 1zm1 0zm7 0zm67 0zm27 0zm15 0zm16 0zm71 0zm-227 1zm35 0zm3 0zm6 0zm19 0zm49 0zm11 0zm13 0zm16 0zm11 0zm29 0zm16 0zm5 0zm-169 1zm19 0zm30 0zm77 0zm19 0zm6 0zm2 0zm6 0zm10 0zm-216 1zm13 0zm30 0zm38 0zm24 0zm4 0zm2 0zm67 0zm30 0zm-156 1zm15 0zm72 0zm13 0zm32 0zm30 0zm14 0zm-169 1zm15 0zm3 0zm10 0zm10 0zm52 0zm1 0zm28 0zm6 0zm21 0zm5 0zm1 0zm64 0zm194 0zm-473 1zm16 0zm31 0zm11 0zm24 0zm1 0zm25 0zm21 0zm88 0zm5 0zm-183 1zm50 0zm31 0zm49 0zm-156 1zm18 0zm36 0zm9 0zm35 0zm2 0zm37 0zm13 0zm75 0zm230 0zm71 0zm-538 1zm74 0zm52 0zm53 0zm4 0zm-180 1zm139 0zm1 0zm6 0zm378 0zm-513 1zm9 0zm47 0zm24 0zm376 0zm5 0zm59 0zm-492 1zm36 0zm81 0zm13 0zm10 0zm25 0zm10 0zm22 0zm278 0zm-494 1zm2 0zm30 0zm2 0zm61 0zm52 0zm41 0zm-172 1zm50 0zm13 0zm39 0zm21 0zm6 0zm30 0zm27 0zm285 0zm-500 1zm7 0zm13 0zm70 0zm35 0zm63 0zm299 0zm-318 1zm23 0zm-109 1zm34 0zm19 0zm23 0zm58 0zm-161 1zm139 0zm37 0zm246 0zm-481 1zm60 0zm88 0zm-58 1zm20 0zm9 0zm7 0zm5 0zm52 0zm5 0zm11 0zm26 0zm254 0zm37 0zm-456 1zm9 0zm42 0zm27 0zm26 0zm34 0zm303 0zm26 0zm-525 1zm4 0zm35 0zm87 0zm23 0zm7 0zm-143 1zm1 0zm59 0zm11 0zm66 0zm328 0zm51 0zm-513 1zm11 0zm12 0zm85 0zm47 0zm341 0zm-515 1zm18 0zm132 0zm70 0zm292 0zm24 0zm-524 1zm92 0zm4 0zm366 0zm36 0zm-516 1zm63 0zm1 0zm120 0zm322 0zm5 0zm36 0zm-546 1zm84 0zm39 0zm363 0zm22 0zm-402 1zm67 0zm13 0zm298 0zm31 0zm-338 1zm-171 1zm59 0zm90 0zm41 0zm283 0zm57 0zm-447 1zm40 0zm15 0zm26 0zm54 0zm293 0zm8 0zm-491 1zm79 0zm32 0zm31 0zm34 0zm273 0zm-468 1zm9 0zm140 0zm11 0zm333 0zm8 0zm3 0zm-449 1zm5 0zm45 0zm52 0zm324 0zm37 0zm5 0zm5 0zm-542 1zm1 0zm105 0zm17 0zm13 0zm362 0zm26 0zm-387 1zm16 0zm37 0zm307 0zm1 0zm8 0zm10 0zm4 0zm10 0zm-490 1zm53 0zm53 0zm-128 1zm57 0zm110 0zm354 0zm-540 1zm27 0zm39 0zm60 0zm403 0zm6 0zm12 0zm-531 1zm108 0zm2 0zm59 0zm9 0zm299 0zm-350 1zm346 0zm38 0zm-423 1zm49 0zm375 0zm-430 1zm28 0zm1 0zm13 0zm-111 1zm56 0zm432 0zm-516 1zm137 0zm392 0zm11 0zm5 0zm-352 1zm299 0zm4 0zm29 0zm18 0zm-515 1zm6 0zm65 0zm5 0zm403 0zm-444 1zm451 0zm10 0zm17 0zm-430 1zm21 0zm357 0zm7 0zm45 0zm-537 1zm13 0zm117 0zm376 0zm-474 1zm83 0zm69 0zm310 0zm33 0zm-510 1zm111 0zm41 0zm1 0zm335 0zm15 0zm-454 1zm23 0zm37 0zm47 0zm348 0zm14 0zm1 0zm-538 1zm17 0zm19 0zm43 0zm413 0zm23 0zm28 0zm-518 1zm471 0zm16 0zm-516 1zm174 0zm323 0zm-484 1zm487 0zm26 0zm-394 1zm377 0zm9 0zm24 0zm-535 1zm32 0zm106 0zm14 0zm14 0zm354 0zm11 0zm9 0zm-510 1zm74 0zm388 0zm2 0zm-493 1zm26 0zm54 0zm413 0zm12 0zm7 0zm11 0zm-439 1zm31 0zm-20 1zm24 0zm397 0zm16 0zm-442 1zm11 0zm1 0zm29 0z"/><path class="d" stroke="#f00" d="M148.5 294.5zm13 0zm5 0zm24 0zm2 0zm13 0zm20 0zm13 0zm2 0zm4 0zm-96 1zm1 0zm5 0zm15 0zm3 0zm4 0zm6 0zm7 0zm11 0zm1 0zm8 0zm2 0zm7 0zm2 0zm3 0zm1 0zm10 0zm1 0zm1 0zm2 0zm12 0zm9 0zm6 1zm4 1zm3 0zm1 0zm1 0zm1 0zm1 0zm4 0zm11 0zm2 0zm-9 1zm5 0zm17 0zm-7 1zm2 0zm1 0zm4 0zm2 0zm2 0zm2 0zm10 0zm-15 1zm9 0zm10 1zm1 0zm5 0zm5 0zm2 1zm12 0zm-5 1zm1 0zm1 0zm6 0zm2 1zm9 0zm0 1zm7 1zm4 0zm1 0zm7 0zm-5 1zm11 1zm1 0zm8 1zm8 1zm1 0zm176 0zm21 0zm-199 1zm3 0zm164 0zm5 0zm76 0zm1 0zm1 0zm1 0zm3 0zm-248 1zm1 0zm3 0zm4 0zm1 0zm143 0zm2 0zm3 0zm22 0zm9 0zm3 0zm2 0zm8 0zm2 0zm10 0zm2 0zm2 0zm1 0zm4 0zm5 0zm1 0zm1 0zm1 0zm3 0zm4 0zm2 0zm14 0zm11 0zm12 0zm-268 1zm5 0zm3 0zm133 0zm107 0zm5 0zm8 0zm7 0zm-154 1zm18 0zm14 0zm118 0zm5 0zm-249 1zm6 0zm2 0zm70 0zm17 0zm12 0zm2 0zm2 0zm-105 1zm5 0zm2 0zm9 0zm73 0zm7 0zm-91 1zm6 0zm1 0zm12 0zm29 0zm3 0zm8 0zm4 0zm3 0zm7 0zm6 0zm3 0zm-67 1zm2 0zm1 0zm9 0zm8 0zm4 0zm4 0zm3 0zm4 0zm1 0zm5 0zm14 0zm1 0zm-43 1zm1 0zm-320 19zm3 0zm1 0zm-7 1zm2 0zm1 0zm1 0zm-2 1zm3 0zm2 0zm-8 1zm1 0zm1 0zm2 0zm1 0zm1 1zm1 0zm-3 1zm2 0zm-5 1zm4 0zm36 0zm1 0zm2 0zm-43 1zm2 0zm1 0zm1 0zm1 0zm32 0zm1 0zm3 0zm2 0zm2 0zm1 0zm1 0zm-44 1zm32 0zm3 0zm3 0zm2 0zm2 0zm-9 1zm1 0zm6 0zm1 0zm2 0zm111 0zm-123 1zm1 0zm3 0zm117 0zm1 0zm-122 1zm1 0zm1 0zm3 0zm1 0zm1 0zm1 0zm2 0zm3 0zm1 0zm111 0zm-126 1zm1 0zm2 0zm1 0zm1 0zm3 0zm1 0zm1 0zm2 0zm1 0zm2 0zm-12 1zm3 0zm4 0zm-4 1zm2 0zm6 0zm89 0zm2 0zm1 0zm-7 1zm1 0zm1 0zm2 0zm2 0zm3 0zm39 0zm-49 1zm5 0zm4 0zm1 0zm1 0zm2 0zm31 0zm1 0zm2 0zm1 0zm-58 1zm2 0zm7 0zm3 0zm2 0zm4 0zm1 0zm1 0zm1 0zm1 0zm2 0zm28 0zm3 0zm1 0zm2 0zm3 0zm-59 1zm4 0zm3 0zm5 0zm3 0zm2 0zm3 0zm1 0zm28 0zm2 0zm-54 1zm6 0zm1 0zm1 0zm2 0zm9 0zm2 0zm2 0zm2 0zm32 0zm1 0zm92 0zm1 0zm-223 1zm1 0zm72 0zm2 0zm3 0zm2 0zm2 0zm1 0zm2 0zm4 0zm1 0zm1 0zm2 0zm35 0zm27 0zm63 0zm1 0zm1 0zm1 0zm3 0zm-287 1zm1 0zm63 0zm3 0zm1 0zm67 0zm1 0zm1 0zm4 0zm3 0zm4 0zm1 0zm2 0zm3 0zm5 0zm25 0zm4 0zm1 0zm3 0zm2 0zm28 0zm60 0zm2 0zm3 0zm2 0zm1 0zm1 0zm-227 1zm1 0zm3 0zm1 0zm72 0zm2 0zm4 0zm6 0zm1 0zm29 0zm5 0zm3 0zm3 0zm2 0zm20 0zm2 0zm2 0zm1 0zm62 0zm4 0zm4 0zm1 0zm-230 1zm3 0zm77 0zm1 0zm42 0zm2 0zm1 0zm2 0zm3 0zm2 0zm22 0zm2 0zm1 0zm3 0zm60 0zm2 0zm1 0zm2 0zm-288 1zm64 0zm1 0zm3 0zm68 0zm1 0zm3 0zm3 0zm42 0zm2 0zm2 0zm7 0zm23 0zm1 0zm1 0zm2 0zm61 0zm6 0zm-254 1zm1 0zm1 0zm25 0zm7 0zm16 0zm1 0zm1 0zm3 0zm47 0zm43 0zm3 0zm1 0zm1 0zm1 0zm3 0zm2 0zm1 0zm3 0zm26 0zm2 0zm64 0zm21 0zm-272 1zm1 0zm25 0zm1 0zm2 0zm1 0zm1 0zm1 0zm20 0zm91 0zm1 0zm1 0zm4 0zm4 0zm1 0zm27 0zm90 0zm-274 1zm3 0zm28 0zm7 0zm14 0zm3 0zm1 0zm93 0zm3 0zm2 0zm3 0zm1 0zm5 0zm22 0zm5 0zm85 0zm2 0zm1 0zm-245 1zm2 0zm2 0zm13 0zm6 0zm1 0zm90 0zm2 0zm2 0zm4 0zm2 0zm4 0zm25 0zm1 0zm4 0zm5 0zm2 0zm1 0zm72 0zm1 0zm2 0zm3 0zm1 0zm-247 1zm2 0zm4 0zm1 0zm14 0zm1 0zm4 0zm90 0zm1 0zm3 0zm7 0zm1 0zm34 0zm5 0zm2 0zm1 0zm1 0zm-171 1zm3 0zm1 0zm3 0zm15 0zm3 0zm91 0zm4 0zm1 0zm1 0zm8 0zm2 0zm30 0zm3 0zm1 0zm1 0zm4 0zm2 0zm68 0zm1 0zm1 0zm1 0zm1 0zm1 0zm-247 1zm3 0zm1 0zm3 0zm1 0zm108 0zm3 0zm10 0zm1 0zm2 0zm1 0zm31 0zm1 0zm1 0zm5 0zm4 0zm67 0zm1 0zm1 0zm2 0zm37 0zm-278 1zm2 0zm38 0zm75 0zm11 0zm33 0zm4 0zm4 0zm2 0zm71 0zm1 0zm34 0zm1 0zm-276 1zm38 0zm1 0zm74 0zm46 0zm1 0zm1 0zm5 0zm6 0zm105 0zm1 0zm-279 1zm1 0zm2 0zm35 0zm2 0zm1 0zm121 0zm1 0zm3 0zm2 0zm1 0zm1 0zm1 0zm4 0zm101 0zm3 0zm1 0zm-281 1zm2 0zm1 0zm1 0zm36 0zm122 0zm3 0zm3 0zm5 0zm105 0zm3 0zm-281 1zm3 0zm2 0zm1 0zm37 0zm120 0zm2 0zm2 0zm2 0zm1 0zm1 0zm4 0zm2 0zm100 0zm1 0zm1 0zm1 0zm1 0zm-282 1zm1 0zm1 0zm3 0zm1 0zm2 0zm36 0zm1 0zm2 0zm119 0zm3 0zm3 0zm5 0zm102 0zm-280 1zm2 0zm42 0zm1 0zm1 0zm3 0zm2 0zm112 0zm2 0zm2 0zm5 0zm2 0zm2 0zm105 0zm-281 1zm1 0zm6 0zm1 0zm38 0zm2 0zm1 0zm3 0zm1 0zm114 0zm8 0zm2 0zm4 0zm1 0zm3 0zm4 0zm2 0zm-193 1zm4 0zm2 0zm1 0zm1 0zm3 0zm3 0zm35 0zm5 0zm1 0zm119 0zm1 0zm4 0zm7 0zm2 0zm1 0zm1 0zm4 0zm-194 1zm1 0zm6 0zm1 0zm1 0zm4 0zm1 0zm37 0zm1 0zm1 0zm115 0zm1 0zm1 0zm1 0zm9 0zm4 0zm6 0zm2 0zm22 0zm-211 1zm4 0zm2 0zm2 0zm2 0zm1 0zm34 0zm1 0zm3 0zm4 0zm1 0zm3 0zm46 0zm1 0zm1 0zm57 0zm1 0zm2 0zm3 0zm4 0zm1 0zm2 0zm5 0zm3 0zm7 0zm2 0zm2 0zm14 0zm4 0zm1 0zm-217 1zm5 0zm2 0zm9 0zm35 0zm3 0zm1 0zm1 0zm3 0zm26 0zm1 0zm15 0zm3 0zm1 0zm1 0zm4 0zm3 0zm56 0zm3 0zm2 0zm3 0zm4 0zm2 0zm2 0zm4 0zm11 0zm10 0zm1 0zm2 0zm2 0zm1 0zm-215 1zm7 0zm2 0zm4 0zm1 0zm2 0zm36 0zm2 0zm1 0zm24 0zm1 0zm1 0zm1 0zm3 0zm1 0zm1 0zm12 0zm3 0zm1 0zm5 0zm6 0zm10 0zm2 0zm2 0zm39 0zm1 0zm1 0zm2 0zm4 0zm3 0zm2 0zm2 0zm2 0zm2 0zm2 0zm3 0zm1 0zm1 0zm1 0zm3 0zm9 0zm5 0zm1 0zm2 0zm-215 1zm9 0zm2 0zm1 0zm5 0zm2 0zm2 0zm8 0zm1 0zm1 0zm17 0zm3 0zm3 0zm9 0zm14 0zm1 0zm10 0zm1 0zm17 0zm5 0zm1 0zm2 0zm5 0zm5 0zm8 0zm37 0zm1 0zm2 0zm4 0zm2 0zm3 0zm1 0zm3 0zm1 0zm10 0zm11 0zm1 0zm3 0zm3 0zm1 0zm-213 1zm4 0zm1 0zm1 0zm3 0zm1 0zm2 0zm3 0zm5 0zm2 0zm4 0zm3 0zm2 0zm1 0zm15 0zm3 0zm3 0zm1 0zm18 0zm6 0zm5 0zm2 0zm1 0zm2 0zm1 0zm5 0zm1 0zm3 0zm8 0zm1 0zm1 0zm1 0zm2 0zm2 0zm1 0zm1 0zm3 0zm3 0zm1 0zm3 0zm4 0zm1 0zm34 0zm2 0zm2 0zm8 0zm3 0zm7 0zm2 0zm1 0zm3 0zm12 0zm8 0zm1 0zm1 0zm4 0zm-220 1zm2 0zm1 0zm1 0zm1 0zm1 0zm2 0zm4 0zm14 0zm3 0zm24 0zm6 0zm2 0zm1 0zm14 0zm1 0zm2 0zm2 0zm1 0zm3 0zm2 0zm1 0zm4 0zm2 0zm3 0zm2 0zm1 0zm1 0zm1 0zm1 0zm7 0zm3 0zm18 0zm3 0zm33 0zm3 0zm1 0zm2 0zm3 0zm1 0zm2 0zm5 0zm3 0zm3 0zm1 0zm4 0zm13 0zm6 0zm3 0zm1 0zm-216 1zm1 0zm2 0zm1 0zm2 0zm3 0zm2 0zm4 0zm2 0zm5 0zm3 0zm1 0zm1 0zm2 0zm3 0zm11 0zm6 0zm2 0zm1 0zm4 0zm2 0zm13 0zm2 0zm3 0zm15 0zm3 0zm4 0zm7 0zm7 0zm1 0zm1 0zm1 0zm2 0zm1 0zm1 0zm1 0zm6 0zm2 0zm3 0zm31 0zm1 0zm1 0zm2 0zm2 0zm5 0zm2 0zm1 0zm5 0zm2 0zm1 0zm3 0zm4 0zm-189 1zm1 0zm1 0zm4 0zm6 0zm7 0zm2 0zm1 0zm16 0zm5 0zm5 0zm2 0zm1 0zm3 0zm1 0zm12 0zm4 0zm1 0zm4 0zm2 0zm3 0zm5 0zm9 0zm1 0zm2 0zm2 0zm2 0zm2 0zm3 0zm6 0zm3 0zm11 0zm4 0zm27 0zm2 0zm5 0zm2 0zm1 0zm1 0zm1 0zm2 0zm1 0zm3 0zm3 0zm3 0zm7 0zm20 0zm2 0zm2 0zm2 0zm2 0zm-219 1zm5 0zm1 0zm1 0zm2 0zm1 0zm1 0zm5 0zm1 0zm2 0zm9 0zm8 0zm7 0zm2 0zm9 0zm1 0zm14 0zm6 0zm2 0zm2 0zm10 0zm1 0zm7 0zm1 0zm4 0zm3 0zm1 0zm1 0zm2 0zm3 0zm3 0zm3 0zm44 0zm1 0zm2 0zm3 0zm3 0zm4 0zm3 0zm3 0zm1 0zm4 0zm1 0zm1 0zm21 0zm1 0zm4 0zm4 0zm-217 1zm6 0zm4 0zm2 0zm2 0zm1 0zm4 0zm5 0zm3 0zm4 0zm2 0zm3 0zm2 0zm10 0zm4 0zm16 0zm5 0zm18 0zm2 0zm5 0zm5 0zm1 0zm5 0zm4 0zm1 0zm47 0zm7 0zm2 0zm2 0zm3 0zm5 0zm2 0zm1 0zm2 0zm1 0zm2 0zm20 0zm2 0zm1 0zm4 0zm2 0zm-216 1zm1 0zm2 0zm1 0zm1 0zm5 0zm9 0zm1 0zm2 0zm6 0zm1 0zm3 0zm1 0zm4 0zm1 0zm2 0zm1 0zm2 0zm3 0zm3 0zm21 0zm10 0zm2 0zm1 0zm2 0zm1 0zm15 0zm1 0zm2 0zm1 0zm3 0zm1 0zm5 0zm1 0zm1 0zm40 0zm4 0zm13 0zm4 0zm4 0zm2 0zm3 0zm22 0zm4 0zm3 0zm260 0zm1 0zm-477 1zm11 0zm2 0zm7 0zm3 0zm5 0zm4 0zm1 0zm10 0zm2 0zm2 0zm22 0zm10 0zm2 0zm5 0zm14 0zm2 0zm7 0zm3 0zm3 0zm1 0zm41 0zm8 0zm1 0zm2 0zm1 0zm3 0zm5 0zm2 0zm3 0zm3 0zm1 0zm24 0zm2 0zm4 0zm62 0zm1 0zm196 0zm-473 1zm2 0zm2 0zm2 0zm6 0zm3 0zm1 0zm7 0zm5 0zm9 0zm4 0zm2 0zm2 0zm1 0zm27 0zm24 0zm1 0zm1 0zm1 0zm1 0zm1 0zm3 0zm8 0zm47 0zm1 0zm2 0zm7 0zm3 0zm5 0zm3 0zm1 0zm2 0zm90 0zm200 0zm-472 1zm1 0zm1 0zm3 0zm5 0zm1 0zm6 0zm3 0zm2 0zm1 0zm3 0zm6 0zm1 0zm2 0zm6 0zm4 0zm30 0zm3 0zm16 0zm4 0zm9 0zm1 0zm44 0zm1 0zm4 0zm2 0zm3 0zm7 0zm5 0zm95 0zm3 0zm4 0zm3 0zm191 0zm-521 1zm1 0zm50 0zm7 0zm2 0zm1 0zm5 0zm1 0zm2 0zm3 0zm1 0zm3 0zm3 0zm1 0zm4 0zm2 0zm5 0zm4 0zm24 0zm1 0zm5 0zm2 0zm2 0zm17 0zm2 0zm1 0zm1 0zm3 0zm2 0zm4 0zm46 0zm4 0zm1 0zm2 0zm8 0zm4 0zm2 0zm91 0zm4 0zm3 0zm1 0zm2 0zm2 0zm3 0zm189 0zm1 0zm-533 1zm2 0zm3 0zm2 0zm63 0zm2 0zm3 0zm9 0zm2 0zm2 0zm1 0zm8 0zm11 0zm2 0zm21 0zm4 0zm2 0zm21 0zm9 0zm1 0zm43 0zm3 0zm1 0zm2 0zm2 0zm5 0zm1 0zm2 0zm6 0zm1 0zm5 0zm1 0zm87 0zm7 0zm2 0zm194 0zm1 0zm-532 1zm4 0zm2 0zm1 0zm3 0zm6 0zm46 0zm6 0zm1 0zm2 0zm1 0zm1 0zm6 0zm1 0zm6 0zm20 0zm4 0zm23 0zm5 0zm23 0zm1 0zm1 0zm7 0zm1 0zm44 0zm1 0zm5 0zm5 0zm4 0zm1 0zm4 0zm1 0zm1 0zm3 0zm87 0zm2 0zm4 0zm2 0zm2 0zm4 0zm191 0zm-532 1zm7 0zm1 0zm9 0zm48 0zm4 0zm3 0zm1 0zm6 0zm1 0zm9 0zm1 0zm6 0zm3 0zm3 0zm1 0zm3 0zm1 0zm3 0zm1 0zm22 0zm28 0zm1 0zm2 0zm1 0zm2 0zm3 0zm1 0zm41 0zm1 0zm3 0zm4 0zm4 0zm3 0zm3 0zm10 0zm4 0zm86 0zm2 0zm1 0zm3 0zm3 0zm2 0zm2 0zm1 0zm-344 1zm1 0zm1 0zm1 0zm12 0zm5 0zm44 0zm2 0zm1 0zm2 0zm1 0zm1 0zm2 0zm7 0zm3 0zm1 0zm3 0zm1 0zm1 0zm5 0zm7 0zm2 0zm1 0zm3 0zm4 0zm48 0zm1 0zm1 0zm1 0zm5 0zm43 0zm1 0zm4 0zm4 0zm2 0zm3 0zm1 0zm3 0zm2 0zm4 0zm5 0zm1 0zm2 0zm86 0zm2 0zm1 0zm5 0zm1 0zm2 0zm1 0zm1 0zm1 0zm3 0zm-342 1zm2 0zm2 0zm1 0zm1 0zm4 0zm7 0zm1 0zm45 0zm4 0zm7 0zm2 0zm1 0zm1 0zm1 0zm5 0zm5 0zm1 0zm3 0zm5 0zm1 0zm1 0zm2 0zm5 0zm2 0zm1 0zm50 0zm45 0zm4 0zm1 0zm1 0zm1 0zm6 0zm1 0zm2 0zm3 0zm11 0zm1 0zm1 0zm89 0zm1 0zm8 0zm2 0zm3 0zm2 0zm-339 1zm1 0zm4 0zm1 0zm1 0zm4 0zm2 0zm3 0zm45 0zm1 0zm2 0zm3 0zm2 0zm3 0zm17 0zm2 0zm6 0zm1 0zm2 0zm56 0zm1 0zm2 0zm47 0zm3 0zm2 0zm1 0zm1 0zm1 0zm4 0zm3 0zm6 0zm4 0zm1 0zm2 0zm88 0zm1 0zm2 0zm1 0zm2 0zm2 0zm3 0zm-332 1zm1 0zm1 0zm9 0zm1 0zm2 0zm1 0zm1 0zm45 0zm1 0zm2 0zm2 0zm1 0zm3 0zm2 0zm5 0zm3 0zm2 0zm7 0zm3 0zm1 0zm1 0zm3 0zm6 0zm1 0zm93 0zm1 0zm1 0zm1 0zm5 0zm5 0zm1 0zm1 0zm2 0zm14 0zm4 0zm3 0zm3 0zm82 0zm1 0zm5 0zm6 0zm-331 1zm9 0zm1 0zm53 0zm2 0zm1 0zm2 0zm3 0zm1 0zm1 0zm9 0zm1 0zm1 0zm3 0zm3 0zm1 0zm4 0zm1 0zm100 0zm2 0zm1 0zm2 0zm1 0zm1 0zm4 0zm1 0zm3 0zm1 0zm23 0zm2 0zm83 0zm9 0zm1 0zm6 0zm-336 1zm1 0zm2 0zm3 0zm2 0zm1 0zm1 0zm1 0zm2 0zm2 0zm47 0zm6 0zm1 0zm7 0zm1 0zm4 0zm5 0zm1 0zm6 0zm2 0zm98 0zm3 0zm5 0zm1 0zm6 0zm2 0zm4 0zm17 0zm1 0zm2 0zm2 0zm41 0zm42 0zm9 0zm2 0zm2 0zm3 0zm3 0zm-337 1zm3 0zm1 0zm3 0zm1 0zm1 0zm1 0zm1 0zm4 0zm1 0zm46 0zm3 0zm3 0zm2 0zm4 0zm1 0zm2 0zm5 0zm1 0zm2 0zm1 0zm106 0zm7 0zm2 0zm2 0zm2 0zm1 0zm1 0zm2 0zm1 0zm3 0zm19 0zm44 0zm2 0zm42 0zm2 0zm1 0zm4 0zm2 0zm3 0zm1 0zm2 0zm2 0zm-334 1zm11 0zm1 0zm53 0zm12 0zm3 0zm1 0zm5 0zm103 0zm2 0zm9 0zm3 0zm3 0zm3 0zm19 0zm2 0zm40 0zm1 0zm2 0zm44 0zm1 0zm1 0zm7 0zm2 0zm1 0zm174 0zm3 0zm1 0zm-510 1zm2 0zm2 0zm10 0zm1 0zm49 0zm2 0zm11 0zm1 0zm13 0zm1 0zm1 0zm100 0zm1 0zm2 0zm5 0zm5 0zm1 0zm1 0zm3 0zm62 0zm5 0zm41 0zm3 0zm2 0zm3 0zm4 0zm1 0zm3 0zm171 0zm2 0zm2 0zm-511 1zm3 0zm2 0zm2 0zm5 0zm5 0zm2 0zm2 0zm45 0zm5 0zm2 0zm7 0zm7 0zm4 0zm2 0zm1 0zm102 0zm4 0zm5 0zm4 0zm3 0zm65 0zm49 0zm2 0zm1 0zm1 0zm2 0zm5 0zm170 0zm2 0zm-505 1zm4 0zm1 0zm3 0zm5 0zm3 0zm1 0zm1 0zm1 0zm1 0zm44 0zm1 0zm2 0zm2 0zm1 0zm3 0zm6 0zm5 0zm2 0zm1 0zm4 0zm1 0zm1 0zm97 0zm6 0zm2 0zm1 0zm1 0zm8 0zm62 0zm2 0zm3 0zm42 0zm1 0zm4 0zm2 0zm4 0zm3 0zm2 0zm61 0zm107 0zm-505 1zm2 0zm4 0zm5 0zm2 0zm1 0zm4 0zm1 0zm1 0zm46 0zm1 0zm2 0zm1 0zm4 0zm1 0zm7 0zm4 0zm1 0zm2 0zm3 0zm1 0zm4 0zm101 0zm1 0zm3 0zm7 0zm65 0zm3 0zm48 0zm3 0zm3 0zm6 0zm61 0zm1 0zm110 0zm-504 1zm6 0zm2 0zm1 0zm1 0zm2 0zm1 0zm1 0zm2 0zm1 0zm4 0zm40 0zm1 0zm1 0zm1 0zm1 0zm5 0zm2 0zm1 0zm2 0zm4 0zm2 0zm5 0zm2 0zm1 0zm2 0zm100 0zm2 0zm1 0zm4 0zm6 0zm4 0zm61 0zm1 0zm1 0zm2 0zm7 0zm42 0zm1 0zm1 0zm1 0zm1 0zm4 0zm1 0zm59 0zm1 0zm1 0zm110 0zm-505 1zm1 0zm4 0zm1 0zm2 0zm2 0zm2 0zm8 0zm44 0zm1 0zm3 0zm1 0zm3 0zm9 0zm13 0zm1 0zm1 0zm99 0zm1 0zm4 0zm1 0zm4 0zm69 0zm11 0zm2 0zm32 0zm9 0zm1 0zm-334 1zm2 0zm2 0zm2 0zm4 0zm1 0zm2 0zm1 0zm2 0zm3 0zm2 0zm1 0zm5 0zm45 0zm1 0zm6 0zm3 0zm1 0zm7 0zm2 0zm8 0zm40 0zm1 0zm2 0zm1 0zm31 0zm4 0zm25 0zm6 0zm5 0zm71 0zm4 0zm35 0zm1 0zm1 0zm2 0zm4 0zm3 0zm2 0zm1 0zm59 0zm1 0zm1 0zm3 0zm1 0zm-405 1zm3 0zm1 0zm2 0zm2 0zm1 0zm1 0zm5 0zm1 0zm6 0zm2 0zm2 0zm4 0zm38 0zm3 0zm9 0zm1 0zm2 0zm1 0zm6 0zm2 0zm1 0zm4 0zm4 0zm1 0zm37 0zm1 0zm2 0zm2 0zm2 0zm30 0zm4 0zm23 0zm4 0zm10 0zm74 0zm40 0zm1 0zm3 0zm6 0zm1 0zm1 0zm20 0zm5 0zm1 0zm34 0zm-403 1zm5 0zm2 0zm9 0zm1 0zm1 0zm11 0zm1 0zm41 0zm2 0zm3 0zm1 0zm2 0zm2 0zm3 0zm12 0zm47 0zm1 0zm2 0zm1 0zm33 0zm27 0zm2 0zm1 0zm1 0zm2 0zm4 0zm1 0zm70 0zm2 0zm2 0zm1 0zm1 0zm43 0zm1 0zm2 0zm3 0zm3 0zm15 0zm1 0zm1 0zm2 0zm1 0zm3 0zm30 0zm6 0zm-403 1zm1 0zm6 0zm2 0zm1 0zm1 0zm2 0zm7 0zm1 0zm2 0zm4 0zm40 0zm6 0zm3 0zm1 0zm1 0zm2 0zm2 0zm3 0zm1 0zm5 0zm1 0zm2 0zm40 0zm1 0zm4 0zm6 0zm28 0zm1 0zm2 0zm2 0zm28 0zm5 0zm4 0zm3 0zm4 0zm115 0zm2 0zm1 0zm1 0zm1 0zm1 0zm4 0zm10 0zm2 0zm10 0zm29 0zm3 0zm2 0zm-407 1zm2 0zm3 0zm5 0zm2 0zm2 0zm12 0zm5 0zm37 0zm5 0zm2 0zm2 0zm1 0zm1 0zm2 0zm5 0zm4 0zm6 0zm5 0zm9 0zm4 0zm33 0zm2 0zm1 0zm27 0zm1 0zm6 0zm1 0zm26 0zm1 0zm2 0zm2 0zm3 0zm7 0zm64 0zm56 0zm2 0zm13 0zm2 0zm7 0zm3 0zm30 0zm-404 1zm3 0zm1 0zm7 0zm1 0zm2 0zm2 0zm3 0zm3 0zm7 0zm40 0zm2 0zm1 0zm2 0zm10 0zm1 0zm1 0zm1 0zm3 0zm2 0zm1 0zm4 0zm17 0zm23 0zm4 0zm2 0zm1 0zm1 0zm3 0zm2 0zm1 0zm1 0zm24 0zm2 0zm8 0zm23 0zm2 0zm8 0zm3 0zm71 0zm1 0zm52 0zm10 0zm7 0zm4 0zm7 0zm2 0zm29 0zm3 0zm-412 1zm3 0zm1 0zm1 0zm1 0zm9 0zm5 0zm1 0zm3 0zm4 0zm6 0zm38 0zm6 0zm3 0zm1 0zm1 0zm13 0zm1 0zm3 0zm16 0zm1 0zm1 0zm1 0zm4 0zm20 0zm2 0zm1 0zm10 0zm23 0zm3 0zm5 0zm2 0zm25 0zm3 0zm9 0zm1 0zm1 0zm2 0zm2 0zm1 0zm121 0zm8 0zm2 0zm1 0zm6 0zm1 0zm1 0zm37 0zm-407 1zm2 0zm6 0zm4 0zm1 0zm2 0zm1 0zm1 0zm6 0zm48 0zm6 0zm16 0zm2 0zm1 0zm1 0zm1 0zm38 0zm2 0zm3 0zm6 0zm1 0zm2 0zm2 0zm1 0zm30 0zm29 0zm1 0zm2 0zm5 0zm1 0zm2 0zm6 0zm121 0zm8 0zm4 0zm7 0zm1 0zm2 0zm-377 1zm1 0zm1 0zm1 0zm4 0zm1 0zm1 0zm1 0zm4 0zm1 0zm2 0zm2 0zm2 0zm3 0zm3 0zm1 0zm4 0zm3 0zm2 0zm1 0zm37 0zm5 0zm2 0zm1 0zm1 0zm17 0zm16 0zm2 0zm3 0zm1 0zm1 0zm3 0zm16 0zm2 0zm4 0zm2 0zm4 0zm4 0zm22 0zm1 0zm3 0zm1 0zm1 0zm2 0zm2 0zm32 0zm2 0zm2 0zm2 0zm127 0zm4 0zm3 0zm5 0zm4 0zm3 0zm4 0zm1 0zm1 0zm2 0zm3 0zm25 0zm-411 1zm1 0zm1 0zm1 0zm3 0zm1 0zm1 0zm2 0zm3 0zm1 0zm10 0zm4 0zm2 0zm5 0zm37 0zm3 0zm7 0zm37 0zm2 0zm4 0zm1 0zm1 0zm1 0zm17 0zm9 0zm2 0zm2 0zm26 0zm2 0zm3 0zm29 0zm1 0zm5 0zm2 0zm4 0zm1 0zm117 0zm6 0zm7 0zm1 0zm7 0zm7 0zm35 0zm120 0zm1 0zm-531 1zm1 0zm2 0zm4 0zm2 0zm2 0zm4 0zm1 0zm1 0zm5 0zm7 0zm2 0zm2 0zm82 0zm1 0zm1 0zm2 0zm3 0zm18 0zm1 0zm9 0zm1 0zm6 0zm25 0zm6 0zm1 0zm29 0zm2 0zm1 0zm4 0zm1 0zm123 0zm4 0zm6 0zm17 0zm2 0zm6 0zm2 0zm21 0zm1 0zm2 0zm-407 1zm5 0zm7 0zm5 0zm3 0zm2 0zm1 0zm4 0zm5 0zm38 0zm5 0zm40 0zm1 0zm8 0zm18 0zm9 0zm26 0zm1 0zm3 0zm1 0zm4 0zm27 0zm8 0zm2 0zm1 0zm1 0zm118 0zm3 0zm2 0zm2 0zm17 0zm11 0zm26 0zm117 0zm1 0zm2 0zm4 0zm1 0zm-528 1zm1 0zm2 0zm4 0zm2 0zm2 0zm1 0zm2 0zm4 0zm3 0zm1 0zm6 0zm31 0zm7 0zm11 0zm45 0zm14 0zm1 0zm4 0zm2 0zm1 0zm5 0zm29 0zm4 0zm36 0zm1 0zm2 0zm2 0zm1 0zm121 0zm2 0zm2 0zm2 0zm1 0zm20 0zm1 0zm4 0zm1 0zm1 0zm4 0zm2 0zm2 0zm132 0zm1 0zm10 0zm-531 1zm1 0zm2 0zm11 0zm1 0zm1 0zm1 0zm2 0zm3 0zm5 0zm3 0zm24 0zm4 0zm9 0zm7 0zm1 0zm1 0zm39 0zm3 0zm2 0zm2 0zm2 0zm1 0zm17 0zm5 0zm5 0zm29 0zm4 0zm28 0zm2 0zm3 0zm1 0zm122 0zm2 0zm10 0zm17 0zm3 0zm3 0zm2 0zm1 0zm2 0zm1 0zm2 0zm1 0zm5 0zm4 0zm9 0zm119 0zm5 0zm3 0zm-535 1zm3 0zm2 0zm9 0zm8 0zm1 0zm4 0zm2 0zm27 0zm7 0zm1 0zm2 0zm9 0zm1 0zm2 0zm1 0zm4 0zm34 0zm2 0zm2 0zm1 0zm2 0zm1 0zm1 0zm1 0zm1 0zm2 0zm21 0zm67 0zm3 0zm3 0zm1 0zm2 0zm1 0zm117 0zm2 0zm7 0zm3 0zm2 0zm1 0zm16 0zm1 0zm5 0zm6 0zm5 0zm3 0zm5 0zm1 0zm1 0zm3 0zm1 0zm2 0zm1 0zm114 0zm1 0zm3 0zm1 0zm2 0zm1 0zm-529 1zm5 0zm4 0zm9 0zm3 0zm3 0zm4 0zm1 0zm22 0zm6 0zm8 0zm11 0zm1 0zm39 0zm1 0zm1 0zm3 0zm1 0zm1 0zm27 0zm3 0zm31 0zm1 0zm30 0zm1 0zm2 0zm1 0zm1 0zm2 0zm3 0zm122 0zm5 0zm23 0zm1 0zm5 0zm4 0zm1 0zm8 0zm3 0zm1 0zm1 0zm4 0zm3 0zm1 0zm2 0zm120 0zm1 0zm5 0zm-538 1zm3 0zm4 0zm3 0zm1 0zm14 0zm1 0zm3 0zm2 0zm20 0zm3 0zm9 0zm1 0zm8 0zm2 0zm2 0zm2 0zm2 0zm2 0zm1 0zm39 0zm1 0zm2 0zm1 0zm13 0zm2 0zm79 0zm1 0zm1 0zm5 0zm33 0zm3 0zm1 0zm82 0zm5 0zm2 0zm1 0zm1 0zm2 0zm1 0zm21 0zm1 0zm1 0zm1 0zm1 0zm1 0zm2 0zm6 0zm133 0zm3 0zm1 0zm1 0zm2 0zm1 0zm5 0zm-537 1zm7 0zm1 0zm16 0zm2 0zm1 0zm3 0zm20 0zm1 0zm1 0zm5 0zm6 0zm1 0zm1 0zm1 0zm1 0zm2 0zm13 0zm35 0zm1 0zm1 0zm6 0zm2 0zm5 0zm4 0zm82 0zm3 0zm6 0zm29 0zm1 0zm4 0zm2 0zm2 0zm2 0zm77 0zm2 0zm4 0zm3 0zm3 0zm23 0zm1 0zm8 0zm5 0zm5 0zm1 0zm4 0zm4 0zm3 0zm116 0zm2 0zm1 0zm4 0zm6 0zm-537 1zm4 0zm16 0zm3 0zm23 0zm2 0zm1 0zm3 0zm1 0zm1 0zm1 0zm2 0zm7 0zm4 0zm1 0zm2 0zm4 0zm45 0zm1 0zm1 0zm3 0zm1 0zm11 0zm79 0zm1 0zm1 0zm37 0zm1 0zm3 0zm1 0zm1 0zm88 0zm1 0zm4 0zm27 0zm1 0zm3 0zm2 0zm2 0zm6 0zm1 0zm10 0zm120 0zm-528 1zm4 0zm19 0zm1 0zm4 0zm1 0zm22 0zm1 0zm6 0zm4 0zm3 0zm1 0zm2 0zm4 0zm5 0zm1 0zm3 0zm3 0zm2 0zm33 0zm1 0zm2 0zm1 0zm11 0zm20 0zm65 0zm2 0zm6 0zm35 0zm86 0zm2 0zm4 0zm1 0zm1 0zm22 0zm2 0zm2 0zm1 0zm2 0zm1 0zm1 0zm3 0zm6 0zm7 0zm2 0zm122 0zm1 0zm1 0zm3 0zm5 0zm2 0zm1 0zm-540 1zm2 0zm1 0zm3 0zm17 0zm5 0zm23 0zm12 0zm3 0zm1 0zm2 0zm1 0zm3 0zm4 0zm7 0zm5 0zm29 0zm2 0zm2 0zm3 0zm1 0zm1 0zm6 0zm1 0zm2 0zm1 0zm1 0zm2 0zm11 0zm1 0zm1 0zm2 0zm67 0zm2 0zm1 0zm1 0zm1 0zm25 0zm1 0zm5 0zm1 0zm1 0zm5 0zm80 0zm3 0zm3 0zm4 0zm4 0zm20 0zm5 0zm1 0zm2 0zm13 0zm6 0zm1 0zm3 0zm117 0zm1 0zm1 0zm2 0zm3 0zm3 0zm-512 1zm3 0zm1 0zm17 0zm1 0zm2 0zm2 0zm3 0zm1 0zm3 0zm5 0zm6 0zm8 0zm6 0zm1 0zm1 0zm5 0zm25 0zm1 0zm18 0zm1 0zm2 0zm13 0zm1 0zm3 0zm1 0zm1 0zm38 0zm1 0zm62 0zm2 0zm1 0zm4 0zm3 0zm78 0zm4 0zm5 0zm5 0zm23 0zm7 0zm2 0zm2 0zm3 0zm16 0zm76 0zm2 0zm1 0zm39 0zm2 0zm1 0zm4 0zm1 0zm-513 1zm23 0zm8 0zm3 0zm2 0zm8 0zm1 0zm1 0zm1 0zm3 0zm1 0zm5 0zm1 0zm1 0zm1 0zm1 0zm2 0zm28 0zm5 0zm1 0zm14 0zm2 0zm13 0zm2 0zm6 0zm37 0zm61 0zm2 0zm6 0zm4 0zm79 0zm3 0zm2 0zm1 0zm28 0zm3 0zm1 0zm3 0zm12 0zm2 0zm2 0zm7 0zm77 0zm47 0zm1 0zm3 0zm2 0zm-537 1zm19 0zm3 0zm20 0zm8 0zm1 0zm5 0zm1 0zm1 0zm7 0zm1 0zm2 0zm1 0zm4 0zm3 0zm3 0zm1 0zm1 0zm1 0zm5 0zm24 0zm2 0zm2 0zm2 0zm1 0zm28 0zm1 0zm2 0zm37 0zm1 0zm1 0zm3 0zm3 0zm59 0zm3 0zm4 0zm4 0zm81 0zm1 0zm3 0zm4 0zm1 0zm19 0zm2 0zm10 0zm1 0zm4 0zm2 0zm2 0zm6 0zm1 0zm1 0zm85 0zm2 0zm2 0zm35 0zm4 0zm1 0zm2 0zm-537 1zm1 0zm1 0zm2 0zm41 0zm1 0zm1 0zm3 0zm3 0zm6 0zm1 0zm2 0zm9 0zm1 0zm2 0zm1 0zm1 0zm1 0zm2 0zm2 0zm4 0zm3 0zm2 0zm2 0zm26 0zm5 0zm1 0zm2 0zm25 0zm1 0zm4 0zm4 0zm35 0zm1 0zm1 0zm55 0zm1 0zm1 0zm1 0zm3 0zm1 0zm1 0zm5 0zm3 0zm76 0zm4 0zm14 0zm1 0zm4 0zm3 0zm7 0zm4 0zm3 0zm1 0zm1 0zm1 0zm1 0zm4 0zm1 0zm14 0zm1 0zm2 0zm2 0zm75 0zm4 0zm38 0zm1 0zm1 0zm1 0zm5 0zm3 0zm1 0zm-542 1zm1 0zm2 0zm24 0zm1 0zm17 0zm2 0zm4 0zm1 0zm6 0zm3 0zm1 0zm9 0zm3 0zm1 0zm2 0zm1 0zm3 0zm4 0zm1 0zm3 0zm4 0zm25 0zm7 0zm25 0zm1 0zm1 0zm8 0zm30 0zm1 0zm8 0zm54 0zm2 0zm1 0zm2 0zm1 0zm4 0zm5 0zm47 0zm1 0zm3 0zm7 0zm24 0zm3 0zm2 0zm7 0zm4 0zm1 0zm2 0zm2 0zm1 0zm1 0zm1 0zm2 0zm2 0zm7 0zm2 0zm4 0zm3 0zm2 0zm2 0zm2 0zm1 0zm1 0zm1 0zm84 0zm3 0zm1 0zm4 0zm3 0zm33 0zm1 0zm3 0zm1 0zm3 0zm-489 1zm4 0zm1 0zm4 0zm13 0zm3 0zm1 0zm2 0zm1 0zm4 0zm4 0zm1 0zm5 0zm26 0zm1 0zm1 0zm2 0zm1 0zm26 0zm4 0zm2 0zm1 0zm3 0zm27 0zm4 0zm1 0zm1 0zm3 0zm3 0zm54 0zm2 0zm1 0zm1 0zm2 0zm1 0zm5 0zm1 0zm3 0zm44 0zm2 0zm4 0zm7 0zm19 0zm6 0zm2 0zm6 0zm1 0zm2 0zm15 0zm1 0zm2 0zm5 0zm2 0zm7 0zm1 0zm3 0zm6 0zm4 0zm2 0zm2 0zm3 0zm73 0zm2 0zm1 0zm1 0zm6 0zm10 0zm24 0zm3 0zm3 0zm-534 1zm42 0zm1 0zm1 0zm1 0zm1 0zm6 0zm4 0zm10 0zm5 0zm1 0zm3 0zm6 0zm2 0zm4 0zm2 0zm24 0zm1 0zm3 0zm1 0zm1 0zm27 0zm2 0zm9 0zm1 0zm1 0zm25 0zm1 0zm1 0zm5 0zm2 0zm57 0zm7 0zm4 0zm47 0zm1 0zm5 0zm1 0zm8 0zm19 0zm1 0zm5 0zm6 0zm3 0zm6 0zm2 0zm16 0zm1 0zm3 0zm2 0zm3 0zm1 0zm6 0zm3 0zm7 0zm1 0zm1 0zm2 0zm4 0zm77 0zm1 0zm3 0zm2 0zm1 0zm29 0zm2 0zm3 0zm3 0zm-488 1zm1 0zm5 0zm1 0zm13 0zm1 0zm4 0zm5 0zm1 0zm3 0zm1 0zm3 0zm1 0zm33 0zm23 0zm2 0zm6 0zm4 0zm1 0zm3 0zm24 0zm2 0zm1 0zm1 0zm6 0zm55 0zm3 0zm1 0zm1 0zm2 0zm1 0zm5 0zm52 0zm4 0zm5 0zm22 0zm6 0zm7 0zm7 0zm2 0zm5 0zm1 0zm2 0zm3 0zm2 0zm1 0zm1 0zm3 0zm11 0zm3 0zm2 0zm1 0zm1 0zm1 0zm1 0zm11 0zm3 0zm64 0zm1 0zm2 0zm3 0zm1 0zm1 0zm2 0zm1 0zm4 0zm2 0zm1 0zm6 0zm25 0zm4 0zm-495 1zm2 0zm3 0zm2 0zm3 0zm1 0zm1 0zm1 0zm2 0zm19 0zm6 0zm3 0zm3 0zm4 0zm55 0zm2 0zm2 0zm1 0zm7 0zm28 0zm2 0zm9 0zm1 0zm56 0zm2 0zm1 0zm4 0zm2 0zm1 0zm31 0zm1 0zm2 0zm7 0zm2 0zm1 0zm2 0zm2 0zm3 0zm3 0zm1 0zm1 0zm1 0zm2 0zm1 0zm3 0zm1 0zm15 0zm5 0zm3 0zm8 0zm1 0zm1 0zm2 0zm2 0zm3 0zm3 0zm7 0zm13 0zm2 0zm4 0zm2 0zm1 0zm6 0zm4 0zm3 0zm73 0zm1 0zm3 0zm2 0zm2 0zm1 0zm2 0zm2 0zm8 0zm1 0zm20 0zm2 0zm4 0zm-535 1zm44 0zm2 0zm5 0zm4 0zm1 0zm2 0zm21 0zm3 0zm5 0zm2 0zm1 0zm62 0zm6 0zm2 0zm24 0zm1 0zm1 0zm5 0zm2 0zm2 0zm2 0zm1 0zm3 0zm1 0zm51 0zm1 0zm42 0zm2 0zm2 0zm3 0zm1 0zm1 0zm2 0zm2 0zm6 0zm3 0zm2 0zm3 0zm1 0zm1 0zm6 0zm18 0zm1 0zm2 0zm3 0zm3 0zm4 0zm1 0zm4 0zm2 0zm2 0zm2 0zm1 0zm3 0zm2 0zm14 0zm1 0zm6 0zm3 0zm6 0zm1 0zm8 0zm1 0zm3 0zm62 0zm1 0zm3 0zm2 0zm3 0zm3 0zm4 0zm1 0zm2 0zm1 0zm28 0zm4 0zm-537 1zm46 0zm6 0zm7 0zm17 0zm1 0zm5 0zm4 0zm1 0zm59 0zm7 0zm7 0zm1 0zm1 0zm23 0zm2 0zm7 0zm1 0zm1 0zm2 0zm3 0zm4 0zm42 0zm2 0zm2 0zm5 0zm1 0zm2 0zm5 0zm1 0zm33 0zm2 0zm1 0zm1 0zm6 0zm4 0zm1 0zm1 0zm1 0zm1 0zm6 0zm22 0zm2 0zm3 0zm4 0zm1 0zm3 0zm4 0zm4 0zm3 0zm2 0zm5 0zm2 0zm3 0zm16 0zm3 0zm2 0zm8 0zm3 0zm3 0zm1 0zm2 0zm5 0zm2 0zm3 0zm58 0zm1 0zm1 0zm1 0zm1 0zm3 0zm1 0zm2 0zm2 0zm6 0zm1 0zm1 0zm2 0zm23 0zm1 0zm-532 1zm44 0zm1 0zm4 0zm5 0zm23 0zm4 0zm5 0zm4 0zm1 0zm55 0zm1 0zm1 0zm10 0zm1 0zm33 0zm5 0zm2 0zm2 0zm1 0zm2 0zm40 0zm1 0zm5 0zm3 0zm1 0zm1 0zm5 0zm1 0zm1 0zm38 0zm2 0zm24 0zm1 0zm6 0zm11 0zm7 0zm8 0zm7 0zm1 0zm7 0zm1 0zm2 0zm2 0zm16 0zm3 0zm3 0zm1 0zm2 0zm1 0zm6 0zm8 0zm2 0zm1 0zm1 0zm1 0zm2 0zm1 0zm2 0zm1 0zm1 0zm55 0zm3 0zm1 0zm3 0zm8 0zm4 0zm2 0zm2 0zm3 0zm-469 1zm2 0zm4 0zm5 0zm24 0zm1 0zm6 0zm1 0zm1 0zm1 0zm3 0zm1 0zm53 0zm1 0zm5 0zm9 0zm32 0zm2 0zm6 0zm2 0zm1 0zm43 0zm1 0zm4 0zm1 0zm6 0zm3 0zm4 0zm34 0zm1 0zm1 0zm10 0zm3 0zm11 0zm3 0zm3 0zm1 0zm9 0zm10 0zm2 0zm2 0zm2 0zm2 0zm2 0zm3 0zm5 0zm1 0zm5 0zm3 0zm20 0zm3 0zm7 0zm2 0zm2 0zm7 0zm2 0zm9 0zm63 0zm5 0zm3 0zm5 0zm2 0zm-479 1zm13 0zm2 0zm9 0zm1 0zm23 0zm1 0zm2 0zm1 0zm4 0zm7 0zm62 0zm5 0zm1 0zm1 0zm29 0zm2 0zm3 0zm4 0zm6 0zm39 0zm2 0zm4 0zm7 0zm2 0zm3 0zm1 0zm40 0zm4 0zm3 0zm2 0zm7 0zm1 0zm3 0zm2 0zm1 0zm1 0zm6 0zm8 0zm9 0zm7 0zm11 0zm35 0zm5 0zm3 0zm4 0zm1 0zm2 0zm1 0zm1 0zm1 0zm5 0zm2 0zm3 0zm53 0zm1 0zm3 0zm5 0zm1 0zm7 0zm2 0zm1 0zm2 0zm-506 1zm4 0zm21 0zm4 0zm16 0zm3 0zm4 0zm2 0zm2 0zm20 0zm1 0zm1 0zm1 0zm2 0zm8 0zm2 0zm1 0zm50 0zm1 0zm1 0zm9 0zm2 0zm4 0zm2 0zm1 0zm24 0zm2 0zm3 0zm4 0zm2 0zm4 0zm2 0zm5 0zm1 0zm39 0zm8 0zm6 0zm1 0zm40 0zm6 0zm3 0zm1 0zm6 0zm3 0zm2 0zm1 0zm1 0zm1 0zm1 0zm6 0zm4 0zm2 0zm1 0zm1 0zm4 0zm5 0zm4 0zm2 0zm2 0zm9 0zm2 0zm1 0zm5 0zm4 0zm14 0zm4 0zm3 0zm9 0zm13 0zm1 0zm4 0zm1 0zm3 0zm52 0zm4 0zm1 0zm1 0zm4 0zm3 0zm1 0zm2 0zm3 0zm-475 1zm2 0zm2 0zm26 0zm4 0zm19 0zm2 0zm3 0zm3 0zm51 0zm15 0zm2 0zm2 0zm30 0zm1 0zm1 0zm7 0zm2 0zm2 0zm2 0zm1 0zm2 0zm37 0zm3 0zm10 0zm1 0zm2 0zm47 0zm2 0zm2 0zm1 0zm3 0zm3 0zm6 0zm3 0zm2 0zm1 0zm7 0zm6 0zm11 0zm1 0zm2 0zm15 0zm3 0zm5 0zm14 0zm2 0zm3 0zm3 0zm1 0zm4 0zm4 0zm2 0zm10 0zm1 0zm5 0zm1 0zm2 0zm60 0zm1 0zm3 0zm1 0zm6 0zm2 0zm1 0zm2 0zm2 0zm-505 1zm17 0zm10 0zm1 0zm1 0zm3 0zm1 0zm5 0zm3 0zm3 0zm4 0zm2 0zm18 0zm7 0zm1 0zm12 0zm46 0zm1 0zm2 0zm1 0zm1 0zm3 0zm5 0zm3 0zm29 0zm8 0zm5 0zm3 0zm4 0zm3 0zm1 0zm3 0zm32 0zm1 0zm3 0zm1 0zm1 0zm1 0zm1 0zm50 0zm1 0zm2 0zm4 0zm1 0zm1 0zm6 0zm1 0zm2 0zm7 0zm3 0zm1 0zm2 0zm10 0zm1 0zm11 0zm6 0zm4 0zm3 0zm3 0zm2 0zm5 0zm16 0zm2 0zm10 0zm2 0zm1 0zm2 0zm2 0zm7 0zm1 0zm5 0zm3 0zm2 0zm54 0zm2 0zm1 0zm4 0zm2 0zm1 0zm3 0zm1 0zm2 0zm11 0zm-512 1zm3 0zm3 0zm2 0zm15 0zm4 0zm3 0zm3 0zm4 0zm9 0zm1 0zm2 0zm4 0zm7 0zm1 0zm6 0zm5 0zm2 0zm3 0zm3 0zm2 0zm59 0zm10 0zm1 0zm1 0zm1 0zm31 0zm1 0zm1 0zm1 0zm2 0zm10 0zm1 0zm1 0zm7 0zm2 0zm1 0zm36 0zm3 0zm50 0zm8 0zm1 0zm10 0zm3 0zm6 0zm3 0zm4 0zm11 0zm9 0zm2 0zm2 0zm8 0zm7 0zm23 0zm7 0zm3 0zm4 0zm2 0zm10 0zm6 0zm1 0zm1 0zm1 0zm51 0zm2 0zm3 0zm5 0zm3 0zm2 0zm1 0zm5 0zm2 0zm1 0zm-504 1zm22 0zm1 0zm3 0zm5 0zm6 0zm3 0zm2 0zm3 0zm8 0zm1 0zm2 0zm2 0zm9 0zm2 0zm1 0zm3 0zm1 0zm1 0zm1 0zm1 0zm2 0zm13 0zm1 0zm40 0zm6 0zm1 0zm6 0zm3 0zm30 0zm4 0zm1 0zm7 0zm3 0zm1 0zm1 0zm1 0zm1 0zm1 0zm4 0zm3 0zm4 0zm18 0zm10 0zm1 0zm1 0zm3 0zm5 0zm49 0zm3 0zm1 0zm6 0zm2 0zm1 0zm2 0zm2 0zm2 0zm3 0zm2 0zm1 0zm3 0zm2 0zm4 0zm9 0zm1 0zm8 0zm1 0zm4 0zm9 0zm4 0zm8 0zm1 0zm19 0zm9 0zm2 0zm3 0zm1 0zm3 0zm3 0zm2 0zm4 0zm2 0zm1 0zm1 0zm54 0zm1 0zm3 0zm2 0zm2 0zm2 0zm3 0zm3 0zm3 0zm2 0zm1 0zm1 0zm4 0zm-504 1zm1 0zm16 0zm8 0zm9 0zm7 0zm1 0zm3 0zm1 0zm1 0zm8 0zm4 0zm1 0zm1 0zm6 0zm6 0zm1 0zm1 0zm16 0zm40 0zm9 0zm1 0zm2 0zm2 0zm30 0zm4 0zm10 0zm1 0zm1 0zm1 0zm3 0zm13 0zm3 0zm10 0zm3 0zm1 0zm2 0zm7 0zm2 0zm6 0zm54 0zm3 0zm7 0zm1 0zm2 0zm3 0zm1 0zm3 0zm2 0zm3 0zm8 0zm3 0zm2 0zm5 0zm10 0zm1 0zm5 0zm5 0zm9 0zm3 0zm14 0zm4 0zm10 0zm1 0zm10 0zm2 0zm5 0zm2 0zm2 0zm1 0zm60 0zm1 0zm7 0zm1 0zm8 0zm1 0zm1 0zm3 0zm-512 1zm2 0zm2 0zm1 0zm2 0zm3 0zm1 0zm14 0zm1 0zm3 0zm5 0zm2 0zm2 0zm3 0zm1 0zm3 0zm1 0zm1 0zm5 0zm3 0zm1 0zm3 0zm4 0zm2 0zm4 0zm1 0zm3 0zm6 0zm1 0zm1 0zm13 0zm1 0zm4 0zm2 0zm1 0zm32 0zm6 0zm2 0zm10 0zm30 0zm4 0zm1 0zm12 0zm4 0zm12 0zm5 0zm6 0zm4 0zm1 0zm1 0zm6 0zm2 0zm4 0zm4 0zm1 0zm22 0zm2 0zm2 0zm25 0zm5 0zm1 0zm2 0zm4 0zm3 0zm3 0zm3 0zm8 0zm1 0zm5 0zm16 0zm3 0zm2 0zm5 0zm1 0zm1 0zm1 0zm11 0zm1 0zm2 0zm1 0zm2 0zm5 0zm1 0zm11 0zm2 0zm9 0zm4 0zm1 0zm1 0zm1 0zm1 0zm8 0zm1 0zm1 0zm1 0zm4 0zm53 0zm1 0zm2 0zm1 0zm2 0zm6 0zm1 0zm-495 1zm1 0zm4 0zm1 0zm2 0zm1 0zm1 0zm12 0zm4 0zm4 0zm2 0zm2 0zm1 0zm5 0zm4 0zm1 0zm6 0zm1 0zm4 0zm6 0zm5 0zm1 0zm5 0zm26 0zm34 0zm2 0zm6 0zm3 0zm4 0zm28 0zm1 0zm5 0zm2 0zm1 0zm3 0zm1 0zm7 0zm2 0zm9 0zm4 0zm1 0zm16 0zm2 0zm1 0zm10 0zm2 0zm1 0zm4 0zm1 0zm49 0zm14 0zm1 0zm2 0zm1 0zm4 0zm1 0zm3 0zm2 0zm11 0zm3 0zm1 0zm2 0zm5 0zm1 0zm6 0zm8 0zm10 0zm14 0zm2 0zm2 0zm2 0zm2 0zm10 0zm2 0zm1 0zm1 0zm1 0zm1 0zm3 0zm4 0zm1 0zm2 0zm4 0zm2 0zm1 0zm54 0zm9 0zm5 0zm-493 1zm1 0zm7 0zm11 0zm5 0zm2 0zm1 0zm3 0zm1 0zm3 0zm2 0zm1 0zm7 0zm2 0zm1 0zm4 0zm2 0zm2 0zm1 0zm1 0zm10 0zm2 0zm2 0zm2 0zm19 0zm39 0zm1 0zm3 0zm2 0zm1 0zm2 0zm4 0zm32 0zm1 0zm3 0zm5 0zm4 0zm5 0zm4 0zm3 0zm3 0zm8 0zm3 0zm1 0zm7 0zm8 0zm1 0zm4 0zm3 0zm3 0zm22 0zm29 0zm2 0zm2 0zm4 0zm4 0zm2 0zm2 0zm2 0zm3 0zm7 0zm1 0zm3 0zm4 0zm5 0zm5 0zm5 0zm3 0zm3 0zm3 0zm2 0zm10 0zm2 0zm2 0zm1 0zm1 0zm2 0zm3 0zm7 0zm6 0zm1 0zm2 0zm9 0zm2 0zm4 0zm1 0zm1 0zm7 0zm1 0zm8 0zm2 0zm55 0zm1 0zm3 0zm1 0zm1 0zm-494 1zm1 0zm12 0zm12 0zm2 0zm3 0zm1 0zm3 0zm1 0zm1 0zm4 0zm3 0zm4 0zm5 0zm13 0zm1 0zm10 0zm1 0zm2 0zm16 0zm3 0zm1 0zm4 0zm42 0zm3 0zm1 0zm29 0zm7 0zm2 0zm9 0zm1 0zm3 0zm3 0zm2 0zm8 0zm4 0zm7 0zm3 0zm2 0zm2 0zm5 0zm1 0zm12 0zm22 0zm2 0zm2 0zm3 0zm25 0zm6 0zm14 0zm5 0zm2 0zm1 0zm9 0zm12 0zm3 0zm1 0zm1 0zm2 0zm3 0zm7 0zm1 0zm1 0zm9 0zm1 0zm1 0zm3 0zm3 0zm1 0zm2 0zm4 0zm3 0zm9 0zm3 0zm3 0zm2 0zm10 0zm3 0zm2 0zm1 0zm53 0zm3 0zm1 0zm1 0zm2 0zm-489 1zm3 0zm5 0zm1 0zm15 0zm5 0zm1 0zm4 0zm1 0zm6 0zm4 0zm5 0zm1 0zm6 0zm1 0zm4 0zm1 0zm13 0zm16 0zm3 0zm4 0zm5 0zm1 0zm29 0zm5 0zm2 0zm7 0zm1 0zm28 0zm3 0zm10 0zm12 0zm2 0zm1 0zm3 0zm5 0zm7 0zm1 0zm1 0zm5 0zm8 0zm1 0zm2 0zm2 0zm3 0zm1 0zm1 0zm5 0zm22 0zm5 0zm21 0zm1 0zm4 0zm2 0zm1 0zm1 0zm5 0zm2 0zm3 0zm5 0zm2 0zm3 0zm3 0zm7 0zm5 0zm2 0zm1 0zm8 0zm7 0zm5 0zm3 0zm3 0zm1 0zm3 0zm1 0zm2 0zm1 0zm7 0zm3 0zm2 0zm2 0zm1 0zm14 0zm1 0zm1 0zm11 0zm4 0zm2 0zm2 0zm1 0zm5 0zm51 0zm1 0zm3 0zm-491 1zm2 0zm2 0zm2 0zm11 0zm5 0zm4 0zm7 0zm3 0zm6 0zm3 0zm5 0zm1 0zm3 0zm1 0zm1 0zm2 0zm1 0zm4 0zm9 0zm4 0zm17 0zm1 0zm2 0zm14 0zm4 0zm2 0zm1 0zm16 0zm1 0zm4 0zm1 0zm3 0zm2 0zm6 0zm24 0zm1 0zm1 0zm1 0zm6 0zm2 0zm2 0zm3 0zm1 0zm5 0zm1 0zm1 0zm10 0zm2 0zm7 0zm5 0zm5 0zm4 0zm6 0zm4 0zm29 0zm3 0zm1 0zm3 0zm24 0zm6 0zm3 0zm1 0zm8 0zm1 0zm1 0zm2 0zm5 0zm11 0zm3 0zm3 0zm6 0zm4 0zm2 0zm2 0zm2 0zm3 0zm2 0zm1 0zm4 0zm3 0zm2 0zm1 0zm6 0zm2 0zm1 0zm8 0zm1 0zm14 0zm4 0zm2 0zm5 0zm6 0zm3 0zm5 0zm1 0zm51 0zm-480 1zm1 0zm4 0zm11 0zm1 0zm3 0zm1 0zm4 0zm2 0zm3 0zm3 0zm2 0zm3 0zm1 0zm1 0zm1 0zm1 0zm1 0zm2 0zm2 0zm5 0zm2 0zm3 0zm12 0zm2 0zm17 0zm1 0zm6 0zm6 0zm7 0zm1 0zm2 0zm16 0zm10 0zm1 0zm4 0zm1 0zm24 0zm1 0zm8 0zm6 0zm6 0zm2 0zm8 0zm1 0zm17 0zm3 0zm19 0zm6 0zm20 0zm2 0zm1 0zm27 0zm3 0zm2 0zm2 0zm3 0zm2 0zm11 0zm3 0zm4 0zm3 0zm2 0zm2 0zm10 0zm5 0zm1 0zm2 0zm4 0zm2 0zm5 0zm3 0zm3 0zm6 0zm7 0zm2 0zm2 0zm1 0zm1 0zm1 0zm15 0zm13 0zm5 0zm2 0zm1 0zm5 0zm3 0zm-436 1zm8 0zm3 0zm3 0zm3 0zm25 0zm3 0zm1 0zm1 0zm5 0zm9 0zm2 0zm4 0zm2 0zm26 0zm2 0zm3 0zm3 0zm5 0zm8 0zm1 0zm14 0zm2 0zm2 0zm5 0zm2 0zm2 0zm1 0zm27 0zm2 0zm1 0zm2 0zm3 0zm10 0zm1 0zm2 0zm1 0zm3 0zm5 0zm6 0zm2 0zm26 0zm8 0zm3 0zm4 0zm1 0zm17 0zm1 0zm1 0zm2 0zm6 0zm33 0zm3 0zm1 0zm16 0zm1 0zm16 0zm1 0zm3 0zm2 0zm7 0zm2 0zm3 0zm3 0zm2 0zm2 0zm5 0zm9 0zm9 0zm11 0zm1 0zm3 0zm4 0zm2 0zm-415 1zm1 0zm5 0zm1 0zm1 0zm11 0zm6 0zm1 0zm3 0zm4 0zm1 0zm1 0zm1 0zm6 0zm2 0zm1 0zm5 0zm1 0zm1 0zm2 0zm7 0zm1 0zm1 0zm1 0zm3 0zm1 0zm2 0zm1 0zm2 0zm15 0zm6 0zm1 0zm13 0zm3 0zm3 0zm5 0zm7 0zm3 0zm6 0zm2 0zm5 0zm5 0zm19 0zm4 0zm1 0zm5 0zm2 0zm12 0zm5 0zm4 0zm4 0zm10 0zm2 0zm1 0zm1 0zm4 0zm20 0zm1 0zm2 0zm23 0zm4 0zm2 0zm3 0zm22 0zm2 0zm1 0zm1 0zm4 0zm2 0zm1 0zm3 0zm14 0zm4 0zm1 0zm16 0zm1 0zm3 0zm6 0zm5 0zm6 0zm3 0zm2 0zm3 0zm2 0zm3 0zm3 0zm1 0zm3 0zm18 0zm4 0zm2 0zm15 0zm5 0zm-425 1zm9 0zm1 0zm2 0zm7 0zm2 0zm1 0zm12 0zm4 0zm10 0zm10 0zm6 0zm1 0zm22 0zm8 0zm5 0zm1 0zm2 0zm4 0zm11 0zm3 0zm4 0zm2 0zm1 0zm5 0zm4 0zm1 0zm18 0zm2 0zm12 0zm4 0zm4 0zm7 0zm1 0zm5 0zm2 0zm1 0zm8 0zm2 0zm1 0zm1 0zm5 0zm7 0zm2 0zm2 0zm4 0zm7 0zm2 0zm3 0zm1 0zm5 0zm13 0zm1 0zm7 0zm2 0zm3 0zm32 0zm1 0zm2 0zm1 0zm14 0zm5 0zm1 0zm15 0zm2 0zm5 0zm1 0zm1 0zm2 0zm2 0zm2 0zm5 0zm1 0zm6 0zm8 0zm2 0zm1 0zm1 0zm7 0zm13 0zm3 0zm19 0zm1 0zm76 0zm1 0zm-509 1zm3 0zm2 0zm1 0zm6 0zm1 0zm5 0zm4 0zm11 0zm5 0zm10 0zm1 0zm2 0zm4 0zm2 0zm6 0zm24 0zm10 0zm1 0zm10 0zm5 0zm4 0zm5 0zm1 0zm3 0zm1 0zm5 0zm2 0zm1 0zm1 0zm10 0zm4 0zm1 0zm4 0zm11 0zm4 0zm1 0zm3 0zm6 0zm3 0zm2 0zm1 0zm1 0zm4 0zm2 0zm3 0zm10 0zm9 0zm3 0zm7 0zm2 0zm3 0zm1 0zm2 0zm2 0zm10 0zm1 0zm2 0zm8 0zm14 0zm2 0zm1 0zm1 0zm1 0zm5 0zm3 0zm3 0zm17 0zm1 0zm4 0zm6 0zm13 0zm2 0zm12 0zm13 0zm9 0zm1 0zm1 0zm2 0zm2 0zm7 0zm6 0zm2 0zm6 0zm3 0zm38 0zm4 0zm75 0zm1 0zm1 0zm-511 1zm3 0zm4 0zm13 0zm1 0zm1 0zm11 0zm1 0zm2 0zm2 0zm3 0zm6 0zm4 0zm4 0zm1 0zm12 0zm1 0zm1 0zm4 0zm16 0zm2 0zm1 0zm1 0zm8 0zm2 0zm5 0zm10 0zm2 0zm5 0zm10 0zm8 0zm2 0zm5 0zm2 0zm1 0zm27 0zm1 0zm10 0zm3 0zm19 0zm11 0zm4 0zm5 0zm2 0zm5 0zm3 0zm3 0zm1 0zm9 0zm8 0zm1 0zm12 0zm8 0zm14 0zm3 0zm1 0zm9 0zm16 0zm6 0zm6 0zm5 0zm2 0zm7 0zm3 0zm2 0zm13 0zm3 0zm1 0zm1 0zm4 0zm2 0zm2 0zm9 0zm1 0zm1 0zm34 0zm79 0zm-513 1zm2 0zm1 0zm5 0zm1 0zm1 0zm7 0zm6 0zm9 0zm2 0zm1 0zm2 0zm5 0zm4 0zm2 0zm2 0zm2 0zm2 0zm3 0zm1 0zm1 0zm8 0zm11 0zm6 0zm2 0zm3 0zm7 0zm15 0zm1 0zm1 0zm3 0zm3 0zm11 0zm1 0zm6 0zm1 0zm3 0zm3 0zm2 0zm4 0zm4 0zm1 0zm3 0zm4 0zm8 0zm1 0zm4 0zm1 0zm3 0zm9 0zm5 0zm1 0zm1 0zm7 0zm4 0zm7 0zm2 0zm4 0zm12 0zm7 0zm1 0zm2 0zm3 0zm3 0zm3 0zm2 0zm3 0zm10 0zm9 0zm12 0zm3 0zm19 0zm5 0zm1 0zm23 0zm1 0zm4 0zm3 0zm16 0zm5 0zm6 0zm1 0zm12 0zm1 0zm2 0zm9 0zm2 0zm112 0zm-506 1zm1 0zm7 0zm4 0zm4 0zm2 0zm4 0zm1 0zm6 0zm1 0zm7 0zm2 0zm8 0zm2 0zm5 0zm1 0zm14 0zm2 0zm15 0zm3 0zm2 0zm1 0zm2 0zm2 0zm9 0zm8 0zm13 0zm1 0zm3 0zm1 0zm6 0zm1 0zm3 0zm2 0zm7 0zm3 0zm1 0zm8 0zm1 0zm6 0zm8 0zm1 0zm3 0zm5 0zm7 0zm6 0zm3 0zm1 0zm1 0zm6 0zm7 0zm3 0zm1 0zm2 0zm2 0zm1 0zm8 0zm5 0zm1 0zm7 0zm13 0zm3 0zm1 0zm7 0zm7 0zm1 0zm2 0zm4 0zm17 0zm22 0zm2 0zm1 0zm5 0zm1 0zm2 0zm4 0zm6 0zm2 0zm3 0zm9 0zm3 0zm4 0zm1 0zm4 0zm2 0zm1 0zm17 0zm1 0zm2 0zm1 0zm33 0zm80 0zm29 0zm1 0zm1 0zm1 0zm1 0zm3 0zm-547 1zm2 0zm15 0zm2 0zm3 0zm2 0zm1 0zm6 0zm10 0zm1 0zm9 0zm17 0zm1 0zm6 0zm9 0zm9 0zm2 0zm1 0zm1 0zm4 0zm8 0zm4 0zm4 0zm3 0zm2 0zm1 0zm4 0zm1 0zm6 0zm9 0zm10 0zm5 0zm4 0zm5 0zm2 0zm1 0zm3 0zm6 0zm1 0zm6 0zm3 0zm5 0zm1 0zm1 0zm6 0zm10 0zm2 0zm6 0zm6 0zm4 0zm6 0zm4 0zm1 0zm2 0zm1 0zm1 0zm8 0zm3 0zm3 0zm4 0zm4 0zm2 0zm5 0zm2 0zm10 0zm13 0zm1 0zm1 0zm3 0zm9 0zm13 0zm4 0zm6 0zm3 0zm16 0zm2 0zm13 0zm3 0zm2 0zm60 0zm74 0zm2 0zm27 0zm2 0zm4 0zm2 0zm1 0zm-548 1zm2 0zm7 0zm5 0zm7 0zm1 0zm3 0zm1 0zm2 0zm1 0zm1 0zm5 0zm5 0zm1 0zm1 0zm1 0zm9 0zm1 0zm6 0zm5 0zm2 0zm9 0zm3 0zm2 0zm10 0zm5 0zm1 0zm5 0zm1 0zm6 0zm1 0zm7 0zm6 0zm2 0zm4 0zm3 0zm3 0zm2 0zm1 0zm1 0zm6 0zm5 0zm5 0zm4 0zm9 0zm3 0zm3 0zm5 0zm7 0zm1 0zm7 0zm3 0zm2 0zm3 0zm4 0zm2 0zm2 0zm2 0zm2 0zm1 0zm1 0zm4 0zm1 0zm2 0zm3 0zm4 0zm2 0zm6 0zm4 0zm4 0zm10 0zm1 0zm6 0zm5 0zm3 0zm2 0zm3 0zm8 0zm21 0zm1 0zm2 0zm3 0zm1 0zm1 0zm28 0zm4 0zm2 0zm7 0zm1 0zm2 0zm17 0zm2 0zm2 0zm4 0zm1 0zm9 0zm4 0zm3 0zm1 0zm37 0zm1 0zm1 0zm98 0zm7 0zm2 0zm-540 1zm2 0zm4 0zm1 0zm10 0zm3 0zm3 0zm3 0zm2 0zm18 0zm7 0zm3 0zm2 0zm2 0zm1 0zm2 0zm2 0zm8 0zm8 0zm3 0zm2 0zm2 0zm3 0zm1 0zm1 0zm6 0zm12 0zm3 0zm12 0zm14 0zm3 0zm3 0zm11 0zm7 0zm4 0zm1 0zm4 0zm1 0zm7 0zm7 0zm10 0zm3 0zm4 0zm1 0zm9 0zm1 0zm3 0zm1 0zm6 0zm4 0zm1 0zm2 0zm4 0zm1 0zm4 0zm3 0zm7 0zm8 0zm1 0zm8 0zm3 0zm10 0zm15 0zm1 0zm3 0zm1 0zm25 0zm1 0zm1 0zm3 0zm3 0zm1 0zm3 0zm1 0zm5 0zm1 0zm3 0zm23 0zm16 0zm6 0zm37 0zm5 0zm1 0zm94 0zm1 0zm2 0zm3 0zm1 0zm1 0zm3 0zm-546 1zm7 0zm1 0zm2 0zm2 0zm1 0zm1 0zm3 0zm2 0zm1 0zm1 0zm5 0zm2 0zm2 0zm3 0zm4 0zm12 0zm6 0zm4 0zm4 0zm5 0zm4 0zm13 0zm5 0zm8 0zm2 0zm4 0zm2 0zm1 0zm3 0zm6 0zm4 0zm2 0zm1 0zm2 0zm8 0zm5 0zm7 0zm3 0zm7 0zm4 0zm14 0zm5 0zm2 0zm1 0zm2 0zm12 0zm1 0zm5 0zm1 0zm4 0zm5 0zm1 0zm1 0zm4 0zm8 0zm16 0zm8 0zm8 0zm2 0zm3 0zm1 0zm1 0zm2 0zm2 0zm2 0zm1 0zm5 0zm2 0zm2 0zm4 0zm3 0zm3 0zm9 0zm5 0zm1 0zm3 0zm4 0zm1 0zm2 0zm12 0zm1 0zm5 0zm39 0zm7 0zm4 0zm1 0zm6 0zm2 0zm42 0zm8 0zm1 0zm95 0zm-540 1zm3 0zm2 0zm3 0zm8 0zm5 0zm10 0zm15 0zm4 0zm10 0zm6 0zm5 0zm3 0zm4 0zm4 0zm2 0zm8 0zm9 0zm1 0zm3 0zm6 0zm6 0zm5 0zm11 0zm1 0zm3 0zm4 0zm3 0zm2 0zm18 0zm13 0zm1 0zm4 0zm2 0zm3 0zm5 0zm1 0zm10 0zm1 0zm6 0zm1 0zm1 0zm3 0zm7 0zm10 0zm10 0zm1 0zm1 0zm10 0zm5 0zm2 0zm2 0zm3 0zm4 0zm3 0zm7 0zm1 0zm8 0zm4 0zm6 0zm5 0zm10 0zm3 0zm13 0zm4 0zm8 0zm4 0zm3 0zm3 0zm20 0zm1 0zm4 0zm2 0zm4 0zm5 0zm3 0zm3 0zm42 0zm3 0zm4 0zm2 0zm92 0zm1 0zm3 0zm1 0zm4 0zm-545 1zm2 0zm4 0zm6 0zm9 0zm1 0zm2 0zm3 0zm2 0zm2 0zm1 0zm2 0zm2 0zm1 0zm2 0zm7 0zm3 0zm2 0zm4 0zm6 0zm1 0zm5 0zm1 0zm3 0zm2 0zm3 0zm2 0zm1 0zm1 0zm3 0zm6 0zm6 0zm4 0zm14 0zm4 0zm1 0zm14 0zm7 0zm3 0zm1 0zm1 0zm8 0zm2 0zm5 0zm5 0zm5 0zm4 0zm2 0zm8 0zm7 0zm2 0zm4 0zm2 0zm1 0zm7 0zm3 0zm3 0zm7 0zm2 0zm1 0zm11 0zm4 0zm9 0zm1 0zm4 0zm6 0zm2 0zm2 0zm2 0zm2 0zm4 0zm5 0zm2 0zm9 0zm2 0zm1 0zm2 0zm3 0zm7 0zm2 0zm4 0zm1 0zm1 0zm6 0zm10 0zm1 0zm1 0zm2 0zm6 0zm1 0zm1 0zm1 0zm3 0zm1 0zm2 0zm5 0zm37 0zm3 0zm1 0zm2 0zm1 0zm1 0zm4 0zm39 0zm7 0zm2 0zm92 0zm2 0zm2 0zm4 0zm-539 1zm20 0zm14 0zm1 0zm1 0zm3 0zm12 0zm6 0zm1 0zm4 0zm4 0zm10 0zm2 0zm2 0zm4 0zm1 0zm7 0zm6 0zm1 0zm2 0zm6 0zm13 0zm1 0zm4 0zm4 0zm5 0zm1 0zm4 0zm6 0zm1 0zm3 0zm4 0zm2 0zm10 0zm5 0zm1 0zm20 0zm14 0zm2 0zm12 0zm2 0zm7 0zm1 0zm2 0zm6 0zm3 0zm6 0zm1 0zm1 0zm5 0zm4 0zm10 0zm2 0zm2 0zm2 0zm6 0zm2 0zm1 0zm4 0zm1 0zm12 0zm1 0zm1 0zm2 0zm4 0zm1 0zm12 0zm2 0zm4 0zm1 0zm8 0zm4 0zm3 0zm1 0zm3 0zm2 0zm12 0zm3 0zm5 0zm1 0zm18 0zm43 0zm3 0zm2 0zm3 0zm95 0zm3 0zm-543 1zm3 0zm2 0zm4 0zm1 0zm3 0zm1 0zm5 0zm1 0zm3 0zm5 0zm6 0zm5 0zm3 0zm15 0zm1 0zm3 0zm13 0zm2 0zm6 0zm2 0zm2 0zm4 0zm1 0zm11 0zm1 0zm4 0zm8 0zm7 0zm7 0zm7 0zm4 0zm10 0zm1 0zm3 0zm2 0zm2 0zm2 0zm11 0zm9 0zm3 0zm5 0zm2 0zm3 0zm1 0zm3 0zm3 0zm5 0zm7 0zm4 0zm2 0zm2 0zm2 0zm3 0zm7 0zm2 0zm5 0zm2 0zm18 0zm11 0zm2 0zm2 0zm3 0zm2 0zm5 0zm2 0zm1 0zm4 0zm7 0zm6 0zm3 0zm2 0zm4 0zm2 0zm1 0zm1 0zm11 0zm3 0zm9 0zm4 0zm2 0zm6 0zm16 0zm8 0zm1 0zm3 0zm5 0zm8 0zm2 0zm1 0zm1 0zm2 0zm2 0zm2 0zm4 0zm30 0zm1 0zm6 0zm1 0zm94 0zm4 0zm-543 1zm4 0zm1 0zm1 0zm4 0zm2 0zm4 0zm7 0zm15 0zm1 0zm1 0zm7 0zm3 0zm2 0zm8 0zm2 0zm5 0zm6 0zm1 0zm5 0zm10 0zm2 0zm5 0zm2 0zm2 0zm2 0zm1 0zm15 0zm3 0zm1 0zm5 0zm4 0zm2 0zm7 0zm5 0zm5 0zm2 0zm7 0zm2 0zm2 0zm1 0zm2 0zm2 0zm6 0zm5 0zm1 0zm6 0zm11 0zm3 0zm5 0zm1 0zm1 0zm1 0zm14 0zm7 0zm5 0zm3 0zm4 0zm7 0zm1 0zm4 0zm5 0zm2 0zm2 0zm9 0zm7 0zm1 0zm3 0zm3 0zm5 0zm2 0zm1 0zm2 0zm9 0zm1 0zm4 0zm15 0zm1 0zm1 0zm1 0zm2 0zm3 0zm5 0zm1 0zm3 0zm6 0zm29 0zm13 0zm8 0zm1 0zm2 0zm1 0zm4 0zm4 0zm29 0zm5 0zm2 0zm93 0zm1 0zm4 0zm-537 1zm5 0zm2 0zm1 0zm3 0zm5 0zm12 0zm5 0zm4 0zm1 0zm3 0zm3 0zm3 0zm5 0zm3 0zm7 0zm4 0zm6 0zm1 0zm8 0zm3 0zm9 0zm2 0zm7 0zm5 0zm13 0zm7 0zm5 0zm1 0zm12 0zm1 0zm7 0zm1 0zm1 0zm2 0zm16 0zm9 0zm1 0zm7 0zm7 0zm5 0zm14 0zm2 0zm6 0zm3 0zm4 0zm4 0zm10 0zm1 0zm5 0zm4 0zm1 0zm4 0zm1 0zm3 0zm9 0zm11 0zm4 0zm6 0zm9 0zm4 0zm2 0zm29 0zm1 0zm1 0zm2 0zm1 0zm5 0zm20 0zm3 0zm6 0zm4 0zm5 0zm1 0zm3 0zm10 0zm5 0zm1 0zm127 0zm2 0zm1 0zm-530 1zm1 0zm17 0zm2 0zm22 0zm14 0zm8 0zm9 0zm18 0zm2 0zm1 0zm18 0zm2 0zm4 0zm8 0zm12 0zm7 0zm4 0zm15 0zm4 0zm11 0zm1 0zm8 0zm1 0zm8 0zm13 0zm3 0zm5 0zm1 0zm7 0zm2 0zm6 0zm7 0zm3 0zm9 0zm5 0zm1 0zm2 0zm2 0zm3 0zm13 0zm2 0zm1 0zm9 0zm2 0zm1 0zm13 0zm1 0zm2 0zm2 0zm1 0zm4 0zm4 0zm1 0zm2 0zm5 0zm8 0zm17 0zm15 0zm1 0zm8 0zm1 0zm2 0zm7 0zm1 0zm2 0zm2 0zm4 0zm3 0zm128 0zm-533 1zm22 0zm5 0zm7 0zm7 0zm7 0zm8 0zm1 0zm5 0zm1 0zm9 0zm3 0zm2 0zm2 0zm1 0zm1 0zm2 0zm1 0zm9 0zm22 0zm4 0zm3 0zm8 0zm1 0zm2 0zm3 0zm1 0zm1 0zm3 0zm5 0zm3 0zm3 0zm5 0zm3 0zm1 0zm7 0zm10 0zm9 0zm1 0zm3 0zm10 0zm8 0zm3 0zm13 0zm5 0zm3 0zm2 0zm2 0zm6 0zm1 0zm1 0zm7 0zm9 0zm1 0zm2 0zm4 0zm2 0zm7 0zm3 0zm10 0zm4 0zm3 0zm1 0zm1 0zm2 0zm4 0zm6 0zm2 0zm1 0zm7 0zm7 0zm8 0zm3 0zm1 0zm7 0zm1 0zm3 0zm7 0zm12 0zm6 0zm5 0zm8 0zm2 0zm4 0zm8 0zm1 0zm1 0zm-412 1zm9 0zm14 0zm13 0zm10 0zm19 0zm1 0zm1 0zm2 0zm2 0zm5 0zm14 0zm4 0zm6 0zm10 0zm3 0zm1 0zm2 0zm4 0zm4 0zm5 0zm9 0zm1 0zm8 0zm9 0zm3 0zm1 0zm12 0zm3 0zm1 0zm2 0zm3 0zm1 0zm2 0zm4 0zm5 0zm3 0zm4 0zm1 0zm3 0zm1 0zm4 0zm7 0zm1 0zm6 0zm8 0zm1 0zm1 0zm4 0zm10 0zm13 0zm16 0zm3 0zm1 0zm3 0zm4 0zm8 0zm3 0zm9 0zm1 0zm2 0zm5 0zm3 0zm1 0zm4 0zm2 0zm1 0zm6 0zm4 0zm3 0zm7 0zm1 0zm9 0zm3 0zm12 0zm1 0zm9 0zm7 0zm4 0zm7 0zm3 0zm12 0zm48 0zm1 0zm3 0zm3 0zm39 0zm1 0zm5 0zm1 0zm-514 1zm8 0zm2 0zm7 0zm13 0zm10 0zm5 0zm4 0zm7 0zm7 0zm9 0zm6 0zm2 0zm1 0zm9 0zm5 0zm4 0zm5 0zm5 0zm11 0zm2 0zm5 0zm1 0zm9 0zm7 0zm2 0zm13 0zm1 0zm2 0zm6 0zm7 0zm8 0zm2 0zm5 0zm2 0zm1 0zm6 0zm10 0zm8 0zm1 0zm3 0zm6 0zm7 0zm16 0zm3 0zm1 0zm12 0zm5 0zm1 0zm1 0zm2 0zm8 0zm3 0zm2 0zm2 0zm7 0zm2 0zm2 0zm7 0zm1 0zm6 0zm3 0zm15 0zm14 0zm5 0zm3 0zm3 0zm3 0zm2 0zm1 0zm5 0zm3 0zm6 0zm2 0zm12 0zm1 0zm1 0zm6 0zm8 0zm3 0zm2 0zm50 0zm1 0zm4 0zm35 0zm3 0zm11 0zm-515 1zm3 0zm10 0zm15 0zm2 0zm15 0zm2 0zm5 0zm1 0zm2 0zm8 0zm1 0zm5 0zm8 0zm3 0zm5 0zm1 0zm3 0zm2 0zm5 0zm2 0zm5 0zm2 0zm12 0zm2 0zm1 0zm1 0zm8 0zm1 0zm4 0zm3 0zm3 0zm5 0zm7 0zm2 0zm2 0zm2 0zm8 0zm1 0zm1 0zm13 0zm15 0zm3 0zm1 0zm1 0zm1 0zm1 0zm9 0zm2 0zm13 0zm1 0zm1 0zm9 0zm1 0zm12 0zm4 0zm6 0zm1 0zm6 0zm11 0zm5 0zm5 0zm9 0zm5 0zm4 0zm5 0zm2 0zm6 0zm1 0zm2 0zm1 0zm2 0zm4 0zm7 0zm2 0zm10 0zm3 0zm3 0zm1 0zm9 0zm4 0zm2 0zm23 0zm1 0zm6 0zm2 0zm3 0zm52 0zm1 0zm2 0zm2 0zm1 0zm1 0zm40 0zm4 0zm1 0zm1 0zm3 0zm3 0zm-506 1zm7 0zm3 0zm8 0zm8 0zm9 0zm2 0zm7 0zm16 0zm1 0zm2 0zm16 0zm10 0zm4 0zm2 0zm1 0zm5 0zm4 0zm11 0zm3 0zm1 0zm1 0zm7 0zm4 0zm2 0zm8 0zm4 0zm2 0zm7 0zm3 0zm4 0zm9 0zm8 0zm5 0zm2 0zm2 0zm6 0zm3 0zm8 0zm6 0zm10 0zm5 0zm6 0zm2 0zm6 0zm3 0zm14 0zm13 0zm3 0zm3 0zm2 0zm2 0zm8 0zm3 0zm1 0zm3 0zm1 0zm4 0zm2 0zm8 0zm4 0zm2 0zm2 0zm11 0zm6 0zm4 0zm3 0zm1 0zm6 0zm1 0zm4 0zm15 0zm13 0zm5 0zm1 0zm1 0zm57 0zm1 0zm1 0zm1 0zm3 0zm2 0zm32 0zm1 0zm2 0zm1 0zm6 0zm2 0zm2 0zm-510 1zm7 0zm1 0zm24 0zm1 0zm2 0zm2 0zm7 0zm4 0zm5 0zm2 0zm1 0zm15 0zm4 0zm8 0zm14 0zm1 0zm4 0zm2 0zm2 0zm4 0zm5 0zm5 0zm16 0zm8 0zm4 0zm5 0zm3 0zm1 0zm4 0zm2 0zm2 0zm13 0zm13 0zm2 0zm4 0zm6 0zm1 0zm4 0zm4 0zm2 0zm6 0zm10 0zm3 0zm1 0zm2 0zm3 0zm1 0zm2 0zm2 0zm4 0zm18 0zm3 0zm3 0zm3 0zm6 0zm4 0zm5 0zm9 0zm5 0zm5 0zm1 0zm2 0zm11 0zm4 0zm10 0zm11 0zm7 0zm1 0zm3 0zm2 0zm1 0zm3 0zm2 0zm11 0zm1 0zm1 0zm2 0zm1 0zm1 0zm4 0zm6 0zm10 0zm5 0zm47 0zm6 0zm4 0zm29 0zm1 0zm3 0zm4 0zm5 0zm4 0zm1 0zm2 0zm3 0zm3 0zm-523 1zm1 0zm2 0zm1 0zm1 0zm1 0zm2 0zm4 0zm6 0zm4 0zm2 0zm1 0zm8 0zm1 0zm6 0zm2 0zm1 0zm3 0zm1 0zm11 0zm10 0zm1 0zm7 0zm2 0zm4 0zm2 0zm10 0zm1 0zm4 0zm6 0zm1 0zm9 0zm1 0zm2 0zm2 0zm1 0zm2 0zm1 0zm2 0zm2 0zm2 0zm6 0zm4 0zm2 0zm5 0zm3 0zm6 0zm6 0zm1 0zm6 0zm7 0zm1 0zm12 0zm3 0zm2 0zm13 0zm6 0zm3 0zm3 0zm1 0zm3 0zm4 0zm2 0zm1 0zm1 0zm14 0zm3 0zm1 0zm3 0zm3 0zm7 0zm3 0zm2 0zm4 0zm1 0zm4 0zm8 0zm3 0zm11 0zm7 0zm5 0zm2 0zm4 0zm3 0zm6 0zm3 0zm10 0zm15 0zm5 0zm7 0zm9 0zm37 0zm47 0zm3 0zm4 0zm3 0zm26 0zm1 0zm3 0zm6 0zm4 0zm1 0zm2 0zm7 0zm6 0zm1 0zm-526 1zm1 0zm2 0zm2 0zm1 0zm7 0zm6 0zm3 0zm2 0zm1 0zm1 0zm4 0zm2 0zm8 0zm1 0zm2 0zm2 0zm2 0zm8 0zm2 0zm3 0zm3 0zm2 0zm37 0zm2 0zm25 0zm15 0zm9 0zm7 0zm19 0zm5 0zm5 0zm1 0zm9 0zm2 0zm1 0zm1 0zm1 0zm3 0zm5 0zm12 0zm4 0zm5 0zm1 0zm1 0zm5 0zm5 0zm2 0zm4 0zm1 0zm3 0zm1 0zm11 0zm1 0zm2 0zm4 0zm1 0zm5 0zm2 0zm4 0zm1 0zm3 0zm10 0zm2 0zm1 0zm3 0zm4 0zm13 0zm3 0zm5 0zm1 0zm2 0zm1 0zm1 0zm6 0zm2 0zm14 0zm23 0zm3 0zm3 0zm4 0zm11 0zm4 0zm53 0zm3 0zm4 0zm4 0zm23 0zm5 0zm1 0zm2 0zm2 0zm1 0zm5 0zm11 0zm1 0zm3 0zm4 0zm1 0zm-529 1zm1 0zm7 0zm3 0zm15 0zm7 0zm9 0zm2 0zm2 0zm4 0zm1 0zm2 0zm8 0zm10 0zm6 0zm5 0zm2 0zm4 0zm27 0zm1 0zm2 0zm1 0zm9 0zm5 0zm5 0zm4 0zm10 0zm9 0zm2 0zm2 0zm6 0zm10 0zm4 0zm1 0zm2 0zm1 0zm2 0zm5 0zm1 0zm1 0zm3 0zm6 0zm3 0zm1 0zm1 0zm4 0zm2 0zm3 0zm1 0zm3 0zm2 0zm2 0zm3 0zm1 0zm4 0zm13 0zm1 0zm2 0zm2 0zm19 0zm4 0zm5 0zm2 0zm6 0zm2 0zm4 0zm11 0zm2 0zm4 0zm4 0zm4 0zm2 0zm1 0zm1 0zm1 0zm3 0zm6 0zm3 0zm33 0zm7 0zm8 0zm3 0zm13 0zm2 0zm8 0zm42 0zm5 0zm1 0zm2 0zm4 0zm1 0zm2 0zm25 0zm3 0zm1 0zm1 0zm4 0zm1 0zm6 0zm2 0zm2 0zm1 0zm3 0zm1 0zm10 0zm-528 1zm1 0zm1 0zm8 0zm6 0zm9 0zm4 0zm2 0zm3 0zm1 0zm8 0zm1 0zm6 0zm6 0zm1 0zm2 0zm13 0zm6 0zm10 0zm1 0zm1 0zm6 0zm3 0zm3 0zm4 0zm5 0zm2 0zm14 0zm2 0zm13 0zm7 0zm1 0zm14 0zm2 0zm1 0zm7 0zm1 0zm5 0zm6 0zm5 0zm4 0zm1 0zm3 0zm4 0zm7 0zm2 0zm1 0zm7 0zm7 0zm1 0zm4 0zm3 0zm4 0zm5 0zm1 0zm5 0zm2 0zm16 0zm1 0zm1 0zm2 0zm1 0zm2 0zm6 0zm2 0zm1 0zm2 0zm5 0zm10 0zm6 0zm5 0zm3 0zm13 0zm5 0zm8 0zm3 0zm5 0zm1 0zm4 0zm3 0zm1 0zm3 0zm2 0zm12 0zm2 0zm6 0zm11 0zm6 0zm1 0zm2 0zm7 0zm5 0zm28 0zm1 0zm1 0zm5 0zm1 0zm1 0zm3 0zm1 0zm2 0zm2 0zm1 0zm3 0zm2 0zm2 0zm23 0zm3 0zm1 0zm5 0zm2 0zm3 0zm2 0zm1 0zm2 0zm5 0zm2 0zm3 0zm4 0zm3 0zm2 0zm-531 1zm3 0zm2 0zm3 0zm1 0zm5 0zm1 0zm8 0zm11 0zm5 0zm4 0zm9 0zm5 0zm5 0zm10 0zm8 0zm12 0zm7 0zm12 0zm2 0zm2 0zm3 0zm9 0zm10 0zm10 0zm6 0zm3 0zm5 0zm2 0zm2 0zm6 0zm16 0zm3 0zm1 0zm1 0zm2 0zm5 0zm1 0zm2 0zm2 0zm10 0zm2 0zm5 0zm6 0zm7 0zm8 0zm6 0zm3 0zm8 0zm10 0zm4 0zm2 0zm1 0zm11 0zm4 0zm5 0zm1 0zm4 0zm11 0zm8 0zm5 0zm3 0zm15 0zm2 0zm3 0zm1 0zm2 0zm2 0zm16 0zm9 0zm18 0zm1 0zm15 0zm5 0zm27 0zm1 0zm1 0zm5 0zm5 0zm2 0zm8 0zm1 0zm28 0zm3 0zm1 0zm2 0zm1 0zm1 0zm4 0zm1 0zm1 0zm1 0zm3 0zm1 0zm5 0zm4 0zm4 0zm1 0zm2 0zm1 0zm-532 1zm3 0zm15 0zm7 0zm10 0zm2 0zm3 0zm2 0zm2 0zm3 0zm2 0zm2 0zm10 0zm2 0zm10 0zm20 0zm5 0zm5 0zm2 0zm7 0zm20 0zm13 0zm6 0zm4 0zm11 0zm1 0zm2 0zm1 0zm13 0zm1 0zm1 0zm3 0zm4 0zm1 0zm1 0zm15 0zm13 0zm4 0zm9 0zm21 0zm5 0zm4 0zm4 0zm1 0zm2 0zm1 0zm5 0zm2 0zm3 0zm5 0zm3 0zm12 0zm1 0zm1 0zm5 0zm1 0zm18 0zm2 0zm1 0zm5 0zm34 0zm9 0zm6 0zm16 0zm12 0zm30 0zm4 0zm1 0zm5 0zm5 0zm4 0zm1 0zm3 0zm4 0zm23 0zm1 0zm2 0zm3 0zm1 0zm8 0zm4 0zm4 0zm1 0zm1 0zm2 0zm1 0zm3 0zm4 0zm1 0zm2 0zm-528 1zm13 0zm12 0zm10 0zm2 0zm1 0zm2 0zm9 0zm4 0zm1 0zm1 0zm3 0zm2 0zm2 0zm4 0zm12 0zm1 0zm7 0zm8 0zm3 0zm8 0zm3 0zm17 0zm7 0zm1 0zm11 0zm6 0zm5 0zm6 0zm1 0zm2 0zm5 0zm15 0zm9 0zm2 0zm1 0zm2 0zm9 0zm9 0zm4 0zm1 0zm2 0zm2 0zm2 0zm3 0zm3 0zm9 0zm7 0zm2 0zm3 0zm4 0zm2 0zm1 0zm11 0zm1 0zm1 0zm4 0zm9 0zm3 0zm4 0zm6 0zm6 0zm2 0zm12 0zm1 0zm2 0zm1 0zm2 0zm8 0zm3 0zm14 0zm2 0zm6 0zm2 0zm7 0zm12 0zm26 0zm1 0zm3 0zm2 0zm3 0zm22 0zm5 0zm1 0zm1 0zm1 0zm5 0zm1 0zm4 0zm4 0zm1 0zm2 0zm1 0zm1 0zm1 0zm26 0zm2 0zm4 0zm1 0zm3 0zm4 0zm2 0zm9 0zm2 0zm3 0zm4 0zm1 0zm2 0zm-532 1zm3 0zm11 0zm4 0zm4 0zm10 0zm2 0zm1 0zm10 0zm10 0zm1 0zm1 0zm2 0zm1 0zm6 0zm1 0zm9 0zm26 0zm3 0zm5 0zm5 0zm1 0zm1 0zm3 0zm1 0zm11 0zm11 0zm6 0zm6 0zm17 0zm4 0zm15 0zm4 0zm5 0zm1 0zm10 0zm15 0zm4 0zm17 0zm1 0zm4 0zm7 0zm2 0zm8 0zm10 0zm2 0zm2 0zm14 0zm6 0zm12 0zm2 0zm7 0zm12 0zm11 0zm2 0zm5 0zm45 0zm16 0zm1 0zm25 0zm3 0zm1 0zm2 0zm2 0zm2 0zm1 0zm4 0zm2 0zm4 0zm4 0zm2 0zm4 0zm1 0zm21 0zm2 0zm2 0zm2 0zm2 0zm4 0zm18 0zm3 0zm5 0zm-528 1zm13 0zm1 0zm2 0zm19 0zm2 0zm4 0zm1 0zm1 0zm1 0zm4 0zm11 0zm2 0zm9 0zm4 0zm4 0zm4 0zm3 0zm1 0zm3 0zm1 0zm4 0zm1 0zm4 0zm1 0zm2 0zm6 0zm12 0zm2 0zm2 0zm2 0zm3 0zm1 0zm10 0zm7 0zm1 0zm1 0zm13 0zm4 0zm2 0zm5 0zm2 0zm1 0zm8 0zm1 0zm10 0zm12 0zm4 0zm6 0zm3 0zm1 0zm2 0zm3 0zm12 0zm4 0zm13 0zm1 0zm1 0zm2 0zm2 0zm4 0zm2 0zm3 0zm2 0zm7 0zm12 0zm2 0zm2 0zm4 0zm14 0zm3 0zm5 0zm4 0zm1 0zm3 0zm65 0zm1 0zm6 0zm6 0zm1 0zm29 0zm3 0zm4 0zm2 0zm1 0zm1 0zm1 0zm4 0zm4 0zm1 0zm2 0zm2 0zm2 0zm5 0zm1 0zm23 0zm1 0zm3 0zm21 0zm7 0zm-528 1zm3 0zm8 0zm5 0zm3 0zm7 0zm13 0zm1 0zm1 0zm1 0zm1 0zm3 0zm5 0zm1 0zm2 0zm3 0zm2 0zm2 0zm1 0zm7 0zm2 0zm3 0zm7 0zm5 0zm4 0zm4 0zm16 0zm4 0zm1 0zm3 0zm2 0zm6 0zm2 0zm8 0zm6 0zm11 0zm1 0zm2 0zm9 0zm2 0zm1 0zm4 0zm3 0zm11 0zm1 0zm7 0zm15 0zm12 0zm1 0zm7 0zm2 0zm3 0zm3 0zm12 0zm7 0zm2 0zm3 0zm5 0zm11 0zm2 0zm4 0zm2 0zm1 0zm2 0zm5 0zm6 0zm9 0zm4 0zm8 0zm2 0zm5 0zm9 0zm2 0zm6 0zm5 0zm3 0zm2 0zm2 0zm6 0zm6 0zm28 0zm3 0zm5 0zm8 0zm7 0zm22 0zm1 0zm7 0zm1 0zm1 0zm3 0zm2 0zm2 0zm2 0zm3 0zm1 0zm3 0zm1 0zm6 0zm21 0zm1 0zm27 0zm1 0zm2 0zm1 0zm-524 1zm1 0zm3 0zm14 0zm4 0zm2 0zm3 0zm3 0zm1 0zm4 0zm1 0zm11 0zm13 0zm3 0zm1 0zm9 0zm4 0zm8 0zm1 0zm1 0zm3 0zm2 0zm2 0zm1 0zm4 0zm7 0zm2 0zm9 0zm11 0zm1 0zm3 0zm1 0zm6 0zm3 0zm2 0zm13 0zm2 0zm4 0zm10 0zm5 0zm1 0zm3 0zm3 0zm1 0zm8 0zm1 0zm2 0zm3 0zm6 0zm7 0zm1 0zm4 0zm14 0zm3 0zm8 0zm4 0zm7 0zm14 0zm1 0zm16 0zm2 0zm2 0zm8 0zm1 0zm7 0zm5 0zm3 0zm4 0zm4 0zm1 0zm33 0zm48 0zm5 0zm1 0zm3 0zm1 0zm1 0zm24 0zm1 0zm1 0zm9 0zm7 0zm3 0zm1 0zm3 0zm8 0zm2 0zm20 0zm1 0zm25 0zm2 0zm1 0zm-523 1zm6 0zm11 0zm2 0zm2 0zm1 0zm9 0zm1 0zm11 0zm4 0zm7 0zm5 0zm11 0zm1 0zm3 0zm4 0zm5 0zm15 0zm3 0zm4 0zm2 0zm1 0zm18 0zm22 0zm4 0zm9 0zm3 0zm5 0zm2 0zm2 0zm7 0zm10 0zm2 0zm10 0zm1 0zm4 0zm1 0zm1 0zm1 0zm1 0zm4 0zm9 0zm2 0zm1 0zm2 0zm14 0zm5 0zm2 0zm6 0zm5 0zm5 0zm1 0zm8 0zm7 0zm9 0zm5 0zm3 0zm5 0zm3 0zm13 0zm3 0zm4 0zm11 0zm4 0zm4 0zm8 0zm8 0zm18 0zm24 0zm5 0zm6 0zm1 0zm22 0zm1 0zm1 0zm3 0zm1 0zm4 0zm4 0zm1 0zm3 0zm1 0zm2 0zm5 0zm3 0zm3 0zm2 0zm3 0zm2 0zm15 0zm4 0zm27 0zm1 0zm2 0zm-526 1zm3 0zm3 0zm2 0zm5 0zm6 0zm4 0zm7 0zm5 0zm9 0zm1 0zm9 0zm6 0zm3 0zm5 0zm5 0zm4 0zm1 0zm12 0zm11 0zm2 0zm1 0zm7 0zm6 0zm3 0zm6 0zm3 0zm1 0zm2 0zm20 0zm7 0zm4 0zm4 0zm16 0zm38 0zm5 0zm6 0zm14 0zm24 0zm3 0zm1 0zm4 0zm10 0zm12 0zm17 0zm3 0zm2 0zm7 0zm2 0zm72 0zm4 0zm2 0zm28 0zm4 0zm2 0zm1 0zm1 0zm1 0zm2 0zm6 0zm1 0zm5 0zm1 0zm5 0zm1 0zm3 0zm1 0zm22 0zm3 0zm1 0zm28 0zm1 0zm-509 1zm4 0zm1 0zm6 0zm9 0zm2 0zm9 0zm2 0zm4 0zm8 0zm15 0zm4 0zm1 0zm2 0zm3 0zm13 0zm15 0zm5 0zm7 0zm5 0zm10 0zm1 0zm11 0zm5 0zm3 0zm1 0zm5 0zm7 0zm2 0zm15 0zm3 0zm4 0zm7 0zm1 0zm7 0zm1 0zm1 0zm1 0zm6 0zm3 0zm2 0zm2 0zm9 0zm4 0zm10 0zm16 0zm3 0zm11 0zm7 0zm1 0zm2 0zm3 0zm12 0zm11 0zm8 0zm7 0zm6 0zm1 0zm56 0zm9 0zm4 0zm5 0zm1 0zm2 0zm2 0zm30 0zm3 0zm4 0zm5 0zm2 0zm7 0zm2 0zm4 0zm15 0zm36 0zm-521 1zm1 0zm7 0zm22 0zm1 0zm4 0zm6 0zm2 0zm2 0zm1 0zm4 0zm28 0zm12 0zm1 0zm1 0zm1 0zm11 0zm10 0zm1 0zm21 0zm4 0zm3 0zm3 0zm3 0zm4 0zm21 0zm2 0zm1 0zm11 0zm1 0zm3 0zm8 0zm19 0zm1 0zm5 0zm5 0zm2 0zm1 0zm2 0zm1 0zm2 0zm5 0zm2 0zm7 0zm10 0zm8 0zm10 0zm6 0zm8 0zm8 0zm2 0zm3 0zm1 0zm13 0zm2 0zm15 0zm2 0zm10 0zm5 0zm41 0zm14 0zm5 0zm16 0zm2 0zm7 0zm8 0zm3 0zm4 0zm4 0zm5 0zm8 0zm12 0zm2 0zm4 0zm24 0zm1 0zm7 0zm-529 1zm4 0zm6 0zm7 0zm3 0zm9 0zm2 0zm1 0zm10 0zm14 0zm8 0zm4 0zm6 0zm7 0zm1 0zm6 0zm1 0zm2 0zm13 0zm10 0zm2 0zm7 0zm15 0zm16 0zm13 0zm3 0zm3 0zm2 0zm7 0zm5 0zm4 0zm2 0zm8 0zm9 0zm21 0zm9 0zm13 0zm1 0zm3 0zm3 0zm1 0zm7 0zm2 0zm4 0zm5 0zm1 0zm1 0zm1 0zm6 0zm5 0zm4 0zm2 0zm12 0zm1 0zm7 0zm10 0zm2 0zm14 0zm65 0zm13 0zm15 0zm1 0zm11 0zm1 0zm1 0zm2 0zm3 0zm3 0zm1 0zm7 0zm11 0zm1 0zm1 0zm14 0zm2 0zm1 0zm31 0zm-518 1zm20 0zm1 0zm2 0zm21 0zm6 0zm2 0zm3 0zm11 0zm9 0zm9 0zm2 0zm1 0zm3 0zm2 0zm6 0zm3 0zm16 0zm3 0zm4 0zm5 0zm1 0zm2 0zm1 0zm5 0zm3 0zm1 0zm1 0zm3 0zm3 0zm6 0zm2 0zm9 0zm6 0zm19 0zm3 0zm4 0zm9 0zm3 0zm4 0zm4 0zm2 0zm7 0zm6 0zm4 0zm2 0zm1 0zm17 0zm1 0zm4 0zm1 0zm5 0zm3 0zm9 0zm1 0zm1 0zm1 0zm2 0zm13 0zm2 0zm1 0zm3 0zm12 0zm1 0zm5 0zm2 0zm1 0zm3 0zm73 0zm7 0zm3 0zm28 0zm1 0zm6 0zm1 0zm7 0zm4 0zm7 0zm3 0zm1 0zm1 0zm12 0zm1 0zm2 0zm1 0zm25 0zm3 0zm1 0zm1 0zm-529 1zm6 0zm10 0zm6 0zm10 0zm22 0zm10 0zm5 0zm1 0zm3 0zm17 0zm4 0zm5 0zm9 0zm3 0zm2 0zm9 0zm2 0zm2 0zm8 0zm9 0zm3 0zm1 0zm17 0zm1 0zm5 0zm8 0zm2 0zm5 0zm2 0zm3 0zm1 0zm6 0zm2 0zm2 0zm1 0zm10 0zm1 0zm14 0zm3 0zm7 0zm2 0zm5 0zm2 0zm21 0zm2 0zm19 0zm8 0zm1 0zm16 0zm1 0zm1 0zm2 0zm4 0zm31 0zm4 0zm71 0zm26 0zm3 0zm6 0zm2 0zm4 0zm8 0zm2 0zm2 0zm5 0zm2 0zm1 0zm1 0zm2 0zm3 0zm3 0zm2 0zm22 0zm1 0zm1 0zm1 0zm4 0zm1 0zm2 0zm1 0zm1 0zm-527 1zm18 0zm13 0zm2 0zm6 0zm19 0zm1 0zm12 0zm1 0zm6 0zm2 0zm17 0zm3 0zm7 0zm6 0zm8 0zm5 0zm10 0zm4 0zm4 0zm5 0zm14 0zm16 0zm3 0zm5 0zm2 0zm6 0zm1 0zm1 0zm2 0zm1 0zm4 0zm16 0zm5 0zm6 0zm5 0zm4 0zm13 0zm2 0zm4 0zm1 0zm3 0zm3 0zm5 0zm6 0zm2 0zm5 0zm4 0zm2 0zm7 0zm10 0zm12 0zm3 0zm11 0zm8 0zm75 0zm2 0zm2 0zm29 0zm5 0zm1 0zm3 0zm3 0zm1 0zm2 0zm4 0zm1 0zm3 0zm1 0zm2 0zm4 0zm1 0zm2 0zm1 0zm1 0zm2 0zm4 0zm1 0zm23 0zm1 0zm1 0zm1 0zm2 0zm1 0zm4 0zm2 0zm1 0zm-531 1zm1 0zm11 0zm5 0zm4 0zm9 0zm8 0zm11 0zm1 0zm6 0zm3 0zm2 0zm3 0zm1 0zm2 0zm13 0zm2 0zm5 0zm2 0zm17 0zm7 0zm11 0zm1 0zm14 0zm9 0zm4 0zm2 0zm7 0zm1 0zm7 0zm10 0zm8 0zm20 0zm3 0zm4 0zm1 0zm16 0zm2 0zm6 0zm3 0zm4 0zm2 0zm3 0zm1 0zm3 0zm4 0zm10 0zm17 0zm4 0zm2 0zm2 0zm5 0zm3 0zm3 0zm7 0zm1 0zm11 0zm2 0zm86 0zm6 0zm33 0zm3 0zm1 0zm1 0zm2 0zm1 0zm3 0zm1 0zm1 0zm3 0zm1 0zm2 0zm3 0zm7 0zm4 0zm7 0zm5 0zm1 0zm20 0zm2 0zm1 0zm2 0zm1 0zm9 0zm1 0zm2 0zm-536 1zm4 0zm3 0zm3 0zm2 0zm2 0zm5 0zm25 0zm5 0zm27 0zm7 0zm15 0zm11 0zm5 0zm8 0zm6 0zm1 0zm7 0zm3 0zm1 0zm1 0zm8 0zm2 0zm1 0zm1 0zm1 0zm1 0zm8 0zm6 0zm5 0zm5 0zm14 0zm5 0zm10 0zm6 0zm6 0zm12 0zm4 0zm4 0zm12 0zm11 0zm5 0zm9 0zm3 0zm19 0zm15 0zm13 0zm90 0zm2 0zm2 0zm6 0zm26 0zm1 0zm9 0zm1 0zm1 0zm3 0zm6 0zm2 0zm2 0zm4 0zm1 0zm1 0zm2 0zm2 0zm2 0zm2 0zm3 0zm1 0zm3 0zm20 0zm2 0zm2 0zm3 0zm1 0zm2 0zm-525 1zm14 0zm10 0zm11 0zm4 0zm15 0zm5 0zm5 0zm7 0zm4 0zm3 0zm17 0zm1 0zm11 0zm2 0zm1 0zm10 0zm12 0zm4 0zm19 0zm3 0zm4 0zm4 0zm5 0zm1 0zm2 0zm8 0zm17 0zm10 0zm18 0zm10 0zm3 0zm1 0zm20 0zm1 0zm3 0zm11 0zm21 0zm1 0zm3 0zm1 0zm1 0zm1 0zm3 0zm15 0zm1 0zm94 0zm3 0zm1 0zm1 0zm30 0zm2 0zm7 0zm10 0zm2 0zm6 0zm7 0zm2 0zm3 0zm22 0zm1 0zm4 0zm2 0zm7 0zm1 0zm1 0zm4 0zm-532 1zm10 0zm9 0zm3 0zm6 0zm5 0zm2 0zm14 0zm3 0zm6 0zm14 0zm2 0zm3 0zm3 0zm3 0zm6 0zm2 0zm12 0zm11 0zm2 0zm5 0zm3 0zm18 0zm9 0zm2 0zm13 0zm7 0zm2 0zm1 0zm7 0zm8 0zm4 0zm1 0zm22 0zm1 0zm10 0zm4 0zm3 0zm6 0zm6 0zm10 0zm1 0zm16 0zm6 0zm13 0zm3 0zm5 0zm7 0zm2 0zm8 0zm7 0zm91 0zm31 0zm2 0zm3 0zm3 0zm1 0zm9 0zm5 0zm3 0zm1 0zm12 0zm4 0zm27 0zm2 0zm1 0zm1 0zm1 0zm1 0zm7 0zm1 0zm2 0zm-540 1zm2 0zm7 0zm3 0zm2 0zm5 0zm3 0zm6 0zm1 0zm1 0zm13 0zm10 0zm3 0zm1 0zm8 0zm1 0zm7 0zm8 0zm6 0zm6 0zm3 0zm14 0zm6 0zm6 0zm3 0zm1 0zm2 0zm5 0zm1 0zm2 0zm2 0zm12 0zm8 0zm4 0zm4 0zm17 0zm2 0zm5 0zm5 0zm3 0zm14 0zm18 0zm2 0zm11 0zm18 0zm3 0zm2 0zm3 0zm3 0zm2 0zm14 0zm4 0zm16 0zm2 0zm10 0zm3 0zm7 0zm92 0zm8 0zm19 0zm2 0zm10 0zm2 0zm1 0zm2 0zm4 0zm1 0zm4 0zm3 0zm2 0zm2 0zm2 0zm7 0zm4 0zm21 0zm5 0zm2 0zm2 0zm8 0zm2 0zm4 0zm1 0zm-541 1zm5 0zm7 0zm6 0zm7 0zm21 0zm6 0zm3 0zm1 0zm3 0zm2 0zm6 0zm6 0zm1 0zm20 0zm3 0zm3 0zm4 0zm1 0zm2 0zm19 0zm4 0zm3 0zm7 0zm11 0zm11 0zm1 0zm2 0zm10 0zm10 0zm14 0zm3 0zm5 0zm3 0zm12 0zm1 0zm5 0zm3 0zm1 0zm2 0zm7 0zm6 0zm2 0zm9 0zm7 0zm8 0zm1 0zm2 0zm4 0zm6 0zm4 0zm7 0zm9 0zm5 0zm2 0zm9 0zm1 0zm2 0zm94 0zm3 0zm5 0zm2 0zm2 0zm21 0zm3 0zm5 0zm19 0zm6 0zm3 0zm10 0zm2 0zm29 0zm4 0zm4 0zm3 0zm2 0zm-520 1zm5 0zm2 0zm8 0zm8 0zm4 0zm26 0zm1 0zm6 0zm1 0zm4 0zm3 0zm13 0zm1 0zm6 0zm3 0zm1 0zm10 0zm14 0zm3 0zm2 0zm8 0zm18 0zm15 0zm1 0zm7 0zm5 0zm9 0zm12 0zm1 0zm1 0zm1 0zm3 0zm13 0zm9 0zm4 0zm11 0zm1 0zm24 0zm2 0zm1 0zm5 0zm9 0zm11 0zm14 0zm2 0zm115 0zm1 0zm3 0zm4 0zm3 0zm2 0zm7 0zm8 0zm4 0zm3 0zm3 0zm1 0zm4 0zm1 0zm5 0zm5 0zm19 0zm3 0zm2 0zm3 0zm1 0zm1 0zm1 0zm9 0zm3 0zm-541 1zm18 0zm4 0zm15 0zm3 0zm6 0zm9 0zm6 0zm1 0zm11 0zm5 0zm9 0zm1 0zm12 0zm7 0zm7 0zm26 0zm10 0zm6 0zm2 0zm6 0zm1 0zm7 0zm1 0zm5 0zm10 0zm3 0zm16 0zm4 0zm7 0zm7 0zm8 0zm7 0zm2 0zm3 0zm22 0zm6 0zm9 0zm14 0zm4 0zm1 0zm9 0zm4 0zm7 0zm100 0zm5 0zm18 0zm2 0zm4 0zm3 0zm1 0zm3 0zm3 0zm4 0zm5 0zm3 0zm2 0zm11 0zm1 0zm4 0zm8 0zm19 0zm1 0zm1 0zm1 0zm3 0zm2 0zm10 0zm3 0zm5 0zm1 0zm-536 1zm1 0zm10 0zm7 0zm11 0zm1 0zm14 0zm5 0zm12 0zm3 0zm9 0zm13 0zm11 0zm2 0zm8 0zm2 0zm4 0zm24 0zm21 0zm1 0zm3 0zm2 0zm3 0zm4 0zm4 0zm7 0zm9 0zm30 0zm1 0zm2 0zm4 0zm1 0zm3 0zm17 0zm6 0zm2 0zm4 0zm6 0zm2 0zm7 0zm2 0zm6 0zm17 0zm7 0zm4 0zm2 0zm1 0zm6 0zm92 0zm7 0zm16 0zm3 0zm2 0zm3 0zm1 0zm3 0zm1 0zm24 0zm2 0zm8 0zm2 0zm1 0zm24 0zm6 0zm5 0zm10 0zm2 0zm1 0zm-540 1zm23 0zm6 0zm7 0zm5 0zm1 0zm2 0zm6 0zm7 0zm6 0zm15 0zm1 0zm17 0zm5 0zm2 0zm2 0zm10 0zm1 0zm6 0zm5 0zm9 0zm9 0zm7 0zm2 0zm3 0zm14 0zm2 0zm16 0zm6 0zm4 0zm13 0zm1 0zm5 0zm17 0zm15 0zm14 0zm12 0zm4 0zm3 0zm3 0zm3 0zm4 0zm3 0zm5 0zm10 0zm8 0zm110 0zm2 0zm3 0zm3 0zm2 0zm3 0zm1 0zm1 0zm1 0zm6 0zm1 0zm1 0zm2 0zm4 0zm2 0zm6 0zm7 0zm1 0zm4 0zm1 0zm9 0zm28 0zm4 0zm5 0zm1 0zm1 0zm1 0zm2 0zm3 0zm7 0zm1 0zm1 0zm-532 1zm11 0zm8 0zm6 0zm2 0zm2 0zm3 0zm10 0zm5 0zm7 0zm1 0zm2 0zm1 0zm8 0zm3 0zm15 0zm7 0zm13 0zm3 0zm4 0zm3 0zm6 0zm2 0zm5 0zm1 0zm3 0zm14 0zm14 0zm3 0zm1 0zm2 0zm6 0zm6 0zm4 0zm1 0zm4 0zm4 0zm6 0zm4 0zm7 0zm2 0zm5 0zm9 0zm3 0zm4 0zm3 0zm6 0zm10 0zm7 0zm4 0zm11 0zm2 0zm2 0zm18 0zm7 0zm6 0zm4 0zm2 0zm3 0zm2 0zm98 0zm5 0zm5 0zm2 0zm1 0zm10 0zm2 0zm1 0zm2 0zm2 0zm7 0zm3 0zm1 0zm8 0zm3 0zm4 0zm1 0zm4 0zm4 0zm2 0zm2 0zm27 0zm2 0zm1 0zm15 0zm-539 1zm1 0zm3 0zm6 0zm4 0zm7 0zm4 0zm3 0zm4 0zm4 0zm1 0zm11 0zm13 0zm16 0zm9 0zm17 0zm2 0zm4 0zm5 0zm14 0zm1 0zm1 0zm9 0zm9 0zm4 0zm10 0zm4 0zm5 0zm14 0zm4 0zm6 0zm5 0zm6 0zm7 0zm19 0zm21 0zm11 0zm6 0zm2 0zm2 0zm21 0zm8 0zm10 0zm3 0zm111 0zm4 0zm4 0zm4 0zm2 0zm4 0zm3 0zm2 0zm9 0zm7 0zm3 0zm3 0zm2 0zm2 0zm1 0zm1 0zm7 0zm3 0zm1 0zm1 0zm4 0zm1 0zm23 0zm1 0zm21 0zm1 0zm2 0zm2 0zm-517 1zm7 0zm3 0zm9 0zm4 0zm3 0zm20 0zm1 0zm14 0zm9 0zm20 0zm17 0zm26 0zm2 0zm12 0zm1 0zm2 0zm19 0zm1 0zm1 0zm8 0zm7 0zm11 0zm3 0zm2 0zm2 0zm3 0zm2 0zm3 0zm8 0zm11 0zm2 0zm14 0zm8 0zm3 0zm4 0zm1 0zm1 0zm2 0zm2 0zm11 0zm10 0zm14 0zm95 0zm8 0zm1 0zm3 0zm1 0zm5 0zm2 0zm3 0zm1 0zm2 0zm7 0zm1 0zm3 0zm10 0zm3 0zm5 0zm1 0zm2 0zm3 0zm7 0zm2 0zm1 0zm23 0zm23 0zm4 0zm-547 1zm9 0zm9 0zm8 0zm6 0zm7 0zm8 0zm5 0zm8 0zm2 0zm8 0zm4 0zm8 0zm2 0zm5 0zm2 0zm6 0zm2 0zm5 0zm17 0zm2 0zm4 0zm7 0zm16 0zm7 0zm1 0zm1 0zm3 0zm1 0zm7 0zm12 0zm1 0zm9 0zm19 0zm6 0zm1 0zm2 0zm3 0zm7 0zm1 0zm7 0zm1 0zm6 0zm5 0zm7 0zm3 0zm4 0zm25 0zm12 0zm4 0zm2 0zm19 0zm105 0zm1 0zm2 0zm1 0zm5 0zm1 0zm4 0zm1 0zm12 0zm3 0zm4 0zm10 0zm4 0zm2 0zm4 0zm1 0zm8 0zm2 0zm4 0zm5 0zm2 0zm33 0zm2 0zm-533 1zm15 0zm11 0zm41 0zm7 0zm4 0zm3 0zm2 0zm16 0zm1 0zm16 0zm2 0zm27 0zm3 0zm5 0zm7 0zm11 0zm8 0zm2 0zm2 0zm3 0zm3 0zm3 0zm10 0zm4 0zm6 0zm27 0zm13 0zm4 0zm4 0zm10 0zm5 0zm17 0zm10 0zm118 0zm3 0zm3 0zm4 0zm2 0zm4 0zm5 0zm3 0zm1 0zm2 0zm6 0zm15 0zm2 0zm1 0zm1 0zm4 0zm2 0zm1 0zm6 0zm3 0zm2 0zm3 0zm3 0zm5 0zm30 0zm5 0zm-539 1zm7 0zm9 0zm5 0zm2 0zm6 0zm12 0zm7 0zm20 0zm10 0zm10 0zm2 0zm38 0zm6 0zm1 0zm12 0zm1 0zm3 0zm4 0zm4 0zm5 0zm2 0zm10 0zm21 0zm6 0zm25 0zm1 0zm4 0zm14 0zm3 0zm5 0zm7 0zm6 0zm2 0zm1 0zm12 0zm19 0zm1 0zm10 0zm110 0zm2 0zm3 0zm2 0zm9 0zm1 0zm3 0zm1 0zm1 0zm4 0zm7 0zm1 0zm17 0zm2 0zm5 0zm8 0zm1 0zm1 0zm6 0zm1 0zm5 0zm31 0zm1 0zm2 0zm1 0zm3 0zm-543 1zm11 0zm5 0zm8 0zm7 0zm13 0zm1 0zm9 0zm4 0zm4 0zm1 0zm3 0zm10 0zm4 0zm5 0zm18 0zm6 0zm2 0zm7 0zm2 0zm8 0zm7 0zm6 0zm10 0zm17 0zm3 0zm8 0zm13 0zm2 0zm16 0zm1 0zm4 0zm10 0zm12 0zm2 0zm10 0zm1 0zm7 0zm7 0zm5 0zm25 0zm7 0zm3 0zm122 0zm1 0zm1 0zm14 0zm1 0zm4 0zm2 0zm2 0zm2 0zm23 0zm5 0zm8 0zm3 0zm2 0zm8 0zm7 0zm28 0zm3 0zm1 0zm-547 1zm11 0zm5 0zm4 0zm11 0zm3 0zm3 0zm20 0zm1 0zm9 0zm2 0zm3 0zm4 0zm18 0zm3 0zm2 0zm25 0zm2 0zm16 0zm9 0zm5 0zm4 0zm5 0zm9 0zm4 0zm7 0zm7 0zm8 0zm6 0zm7 0zm5 0zm1 0zm4 0zm17 0zm2 0zm6 0zm16 0zm16 0zm4 0zm2 0zm8 0zm2 0zm5 0zm22 0zm111 0zm1 0zm4 0zm7 0zm11 0zm3 0zm24 0zm4 0zm10 0zm8 0zm7 0zm4 0zm1 0zm20 0zm-534 1zm1 0zm15 0zm7 0zm1 0zm2 0zm13 0zm8 0zm2 0zm18 0zm4 0zm28 0zm1 0zm1 0zm10 0zm2 0zm10 0zm8 0zm15 0zm9 0zm2 0zm4 0zm1 0zm7 0zm7 0zm6 0zm7 0zm16 0zm9 0zm2 0zm5 0zm2 0zm1 0zm8 0zm5 0zm6 0zm12 0zm1 0zm2 0zm19 0zm2 0zm3 0zm1 0zm30 0zm5 0zm111 0zm12 0zm3 0zm1 0zm2 0zm1 0zm2 0zm3 0zm2 0zm6 0zm19 0zm6 0zm3 0zm4 0zm1 0zm2 0zm8 0zm2 0zm24 0zm2 0zm6 0zm1 0zm1 0zm5 0zm-550 1zm2 0zm21 0zm4 0zm1 0zm3 0zm2 0zm10 0zm11 0zm1 0zm2 0zm13 0zm2 0zm37 0zm11 0zm28 0zm12 0zm2 0zm8 0zm2 0zm2 0zm8 0zm12 0zm4 0zm28 0zm10 0zm8 0zm20 0zm5 0zm6 0zm1 0zm12 0zm6 0zm4 0zm4 0zm10 0zm4 0zm122 0zm2 0zm2 0zm3 0zm1 0zm1 0zm3 0zm2 0zm13 0zm20 0zm3 0zm1 0zm2 0zm7 0zm2 0zm7 0zm11 0zm1 0zm17 0zm5 0zm-538 1zm24 0zm5 0zm2 0zm7 0zm8 0zm31 0zm1 0zm2 0zm6 0zm5 0zm9 0zm8 0zm4 0zm5 0zm1 0zm22 0zm14 0zm4 0zm3 0zm19 0zm11 0zm2 0zm10 0zm9 0zm1 0zm12 0zm5 0zm15 0zm7 0zm3 0zm1 0zm5 0zm2 0zm5 0zm27 0zm21 0zm116 0zm2 0zm1 0zm1 0zm2 0zm13 0zm8 0zm2 0zm21 0zm8 0zm1 0zm2 0zm11 0zm9 0zm4 0zm2 0zm14 0zm3 0zm3 0zm2 0zm1 0zm-544 1zm6 0zm4 0zm1 0zm10 0zm1 0zm3 0zm5 0zm8 0zm3 0zm23 0zm36 0zm19 0zm41 0zm6 0zm7 0zm16 0zm3 0zm17 0zm5 0zm2 0zm9 0zm5 0zm28 0zm13 0zm1 0zm6 0zm3 0zm3 0zm5 0zm32 0zm121 0zm2 0zm2 0zm3 0zm10 0zm24 0zm2 0zm3 0zm1 0zm3 0zm3 0zm1 0zm4 0zm1 0zm4 0zm1 0zm3 0zm5 0zm2 0zm4 0zm6 0zm4 0zm11 0zm1 0zm-517 1zm7 0zm6 0zm12 0zm9 0zm8 0zm17 0zm22 0zm2 0zm8 0zm10 0zm4 0zm7 0zm12 0zm2 0zm14 0zm2 0zm7 0zm13 0zm1 0zm7 0zm4 0zm13 0zm2 0zm15 0zm8 0zm6 0zm14 0zm4 0zm8 0zm1 0zm2 0zm2 0zm1 0zm27 0zm141 0zm1 0zm1 0zm13 0zm1 0zm1 0zm1 0zm1 0zm20 0zm7 0zm1 0zm4 0zm1 0zm9 0zm12 0zm5 0zm3 0zm1 0zm3 0zm4 0zm8 0zm1 0zm1 0zm-539 1zm9 0zm9 0zm3 0zm23 0zm7 0zm1 0zm14 0zm1 0zm1 0zm17 0zm33 0zm1 0zm1 0zm8 0zm12 0zm5 0zm9 0zm6 0zm12 0zm1 0zm1 0zm16 0zm8 0zm3 0zm1 0zm8 0zm9 0zm6 0zm8 0zm9 0zm18 0zm13 0zm4 0zm2 0zm24 0zm14 0zm117 0zm1 0zm4 0zm1 0zm2 0zm1 0zm1 0zm10 0zm3 0zm39 0zm2 0zm1 0zm3 0zm7 0zm2 0zm6 0zm4 0zm6 0zm1 0zm9 0zm1 0zm4 0zm3 0zm-545 1zm1 0zm2 0zm4 0zm13 0zm19 0zm11 0zm11 0zm15 0zm4 0zm1 0zm20 0zm5 0zm3 0zm1 0zm23 0zm5 0zm3 0zm4 0zm8 0zm14 0zm12 0zm15 0zm19 0zm4 0zm5 0zm22 0zm6 0zm17 0zm9 0zm5 0zm1 0zm21 0zm133 0zm3 0zm3 0zm1 0zm3 0zm8 0zm2 0zm31 0zm14 0zm9 0zm18 0zm1 0zm6 0zm4 0zm2 0zm2 0zm-541 1zm2 0zm6 0zm1 0zm36 0zm9 0zm1 0zm18 0zm9 0zm16 0zm10 0zm11 0zm18 0zm9 0zm2 0zm26 0zm3 0zm3 0zm5 0zm4 0zm1 0zm3 0zm1 0zm8 0zm16 0zm6 0zm1 0zm7 0zm7 0zm16 0zm10 0zm7 0zm16 0zm4 0zm8 0zm5 0zm127 0zm2 0zm1 0zm2 0zm5 0zm9 0zm23 0zm2 0zm2 0zm12 0zm2 0zm2 0zm5 0zm9 0zm1 0zm3 0zm3 0zm4 0zm2 0zm2 0zm1 0zm1 0zm12 0zm2 0zm3 0zm-528 1zm6 0zm12 0zm13 0zm9 0zm13 0zm9 0zm5 0zm2 0zm3 0zm12 0zm13 0zm33 0zm1 0zm6 0zm17 0zm4 0zm2 0zm8 0zm31 0zm5 0zm9 0zm13 0zm4 0zm4 0zm1 0zm6 0zm2 0zm3 0zm8 0zm46 0zm122 0zm13 0zm5 0zm6 0zm1 0zm1 0zm18 0zm6 0zm1 0zm4 0zm4 0zm2 0zm8 0zm1 0zm4 0zm20 0zm2 0zm5 0zm2 0zm3 0zm2 0zm-544 1zm22 0zm6 0zm15 0zm21 0zm15 0zm9 0zm8 0zm2 0zm2 0zm21 0zm2 0zm21 0zm1 0zm14 0zm5 0zm8 0zm13 0zm1 0zm13 0zm10 0zm34 0zm11 0zm2 0zm3 0zm11 0zm10 0zm155 0zm4 0zm3 0zm5 0zm1 0zm8 0zm7 0zm8 0zm1 0zm10 0zm1 0zm2 0zm12 0zm2 0zm1 0zm16 0zm5 0zm1 0zm3 0zm2 0zm1 0zm4 0zm8 0zm3 0zm1 0zm-546 1zm5 0zm13 0zm24 0zm15 0zm9 0zm17 0zm3 0zm26 0zm19 0zm2 0zm1 0zm2 0zm7 0zm7 0zm3 0zm14 0zm32 0zm14 0zm4 0zm1 0zm5 0zm9 0zm6 0zm3 0zm11 0zm2 0zm7 0zm6 0zm1 0zm9 0zm4 0zm12 0zm149 0zm4 0zm2 0zm1 0zm6 0zm18 0zm1 0zm1 0zm1 0zm11 0zm6 0zm4 0zm3 0zm1 0zm2 0zm3 0zm19 0zm9 0zm2 0zm4 0zm-531 1zm24 0zm11 0zm44 0zm5 0zm3 0zm18 0zm24 0zm19 0zm4 0zm1 0zm28 0zm41 0zm1 0zm2 0zm9 0zm6 0zm9 0zm1 0zm7 0zm1 0zm172 0zm3 0zm20 0zm11 0zm8 0zm3 0zm7 0zm4 0zm4 0zm1 0zm1 0zm6 0zm4 0zm3 0zm8 0zm3 0zm3 0zm2 0zm1 0zm12 0zm1 0zm2 0zm-545 1zm5 0zm10 0zm10 0zm14 0zm4 0zm34 0zm33 0zm16 0zm41 0zm4 0zm1 0zm1 0zm5 0zm8 0zm26 0zm1 0zm5 0zm8 0zm19 0zm11 0zm3 0zm179 0zm3 0zm3 0zm6 0zm4 0zm3 0zm21 0zm1 0zm13 0zm2 0zm2 0zm5 0zm13 0zm1 0zm5 0zm5 0zm8 0zm-535 1zm5 0zm3 0zm28 0zm56 0zm17 0zm6 0zm5 0zm29 0zm11 0zm7 0zm51 0zm16 0zm1 0zm8 0zm12 0zm6 0zm2 0zm5 0zm171 0zm7 0zm17 0zm9 0zm4 0zm9 0zm8 0zm6 0zm6 0zm7 0zm1 0zm6 0zm1 0zm3 0zm1 0zm5 0zm1 0zm5 0zm6 0zm-543 1zm35 0zm16 0zm9 0zm14 0zm31 0zm5 0zm21 0zm38 0zm11 0zm5 0zm33 0zm17 0zm10 0zm8 0zm4 0zm4 0zm31 0zm150 0zm3 0zm3 0zm1 0zm6 0zm5 0zm3 0zm12 0zm2 0zm9 0zm11 0zm1 0zm7 0zm6 0zm5 0zm10 0zm6 0zm6 0zm1 0zm1 0zm3 0zm-538 1zm5 0zm17 0zm58 0zm26 0zm13 0zm8 0zm13 0zm5 0zm3 0zm4 0zm12 0zm10 0zm7 0zm6 0zm7 0zm51 0zm10 0zm5 0zm2 0zm21 0zm16 0zm136 0zm1 0zm4 0zm12 0zm6 0zm14 0zm1 0zm2 0zm7 0zm2 0zm1 0zm2 0zm5 0zm6 0zm3 0zm4 0zm3 0zm1 0zm3 0zm5 0zm1 0zm1 0zm1 0zm4 0zm3 0zm5 0zm3 0zm8 0zm1 0zm-542 1zm15 0zm1 0zm24 0zm1 0zm12 0zm10 0zm18 0zm7 0zm4 0zm1 0zm2 0zm8 0zm28 0zm2 0zm6 0zm22 0zm6 0zm35 0zm2 0zm2 0zm16 0zm7 0zm3 0zm9 0zm9 0zm1 0zm3 0zm3 0zm185 0zm5 0zm6 0zm1 0zm3 0zm14 0zm2 0zm3 0zm1 0zm8 0zm6 0zm6 0zm1 0zm8 0zm2 0zm13 0zm1 0zm5 0zm1 0zm8 0zm4 0zm-537 1zm11 0zm20 0zm82 0zm21 0zm6 0zm16 0zm1 0zm3 0zm6 0zm8 0zm5 0zm20 0zm10 0zm16 0zm3 0zm2 0zm10 0zm3 0zm23 0zm170 0zm5 0zm2 0zm5 0zm1 0zm1 0zm3 0zm2 0zm2 0zm1 0zm2 0zm2 0zm7 0zm8 0zm7 0zm3 0zm1 0zm2 0zm2 0zm2 0zm2 0zm4 0zm13 0zm6 0zm3 0zm4 0zm7 0zm2 0zm1 0zm2 0zm-523 1zm14 0zm20 0zm21 0zm14 0zm10 0zm32 0zm16 0zm13 0zm3 0zm3 0zm17 0zm6 0zm1 0zm4 0zm5 0zm11 0zm1 0zm5 0zm2 0zm23 0zm6 0zm1 0zm16 0zm28 0zm151 0zm1 0zm4 0zm12 0zm8 0zm1 0zm3 0zm7 0zm2 0zm21 0zm1 0zm2 0zm15 0zm1 0zm8 0zm4 0zm4 0zm7 0zm-542 1zm20 0zm37 0zm4 0zm4 0zm34 0zm2 0zm7 0zm1 0zm7 0zm14 0zm9 0zm15 0zm36 0zm9 0zm32 0zm14 0zm1 0zm1 0zm28 0zm163 0zm9 0zm2 0zm6 0zm6 0zm2 0zm11 0zm2 0zm23 0zm10 0zm1 0zm5 0zm1 0zm2 0zm4 0zm7 0zm6 0zm6 0zm-539 1zm49 0zm1 0zm17 0zm12 0zm12 0zm2 0zm15 0zm28 0zm3 0zm33 0zm1 0zm3 0zm12 0zm16 0zm10 0zm11 0zm9 0zm6 0zm3 0zm12 0zm2 0zm2 0zm184 0zm15 0zm4 0zm1 0zm1 0zm7 0zm2 0zm3 0zm9 0zm7 0zm17 0zm1 0zm3 0zm1 0zm2 0zm10 0zm13 0zm-549 1zm22 0zm7 0zm17 0zm4 0zm42 0zm18 0zm13 0zm26 0zm33 0zm14 0zm9 0zm13 0zm28 0zm11 0zm187 0zm9 0zm3 0zm8 0zm10 0zm1 0zm7 0zm6 0zm26 0zm4 0zm2 0zm12 0zm1 0zm2 0zm3 0zm4 0zm1 0zm4 0zm-524 1zm31 0zm3 0zm15 0zm28 0zm8 0zm17 0zm4 0zm6 0zm6 0zm38 0zm6 0zm14 0zm3 0zm1 0zm9 0zm15 0zm9 0zm2 0zm32 0zm181 0zm4 0zm1 0zm4 0zm9 0zm6 0zm2 0zm2 0zm2 0zm3 0zm2 0zm21 0zm1 0zm11 0zm2 0zm5 0zm4 0zm8 0zm4 0zm2 0zm3 0zm2 0zm1 0zm-492 1zm32 0zm38 0zm25 0zm13 0zm2 0zm2 0zm1 0zm14 0zm22 0zm10 0zm2 0zm3 0zm3 0zm14 0zm4 0zm3 0zm16 0zm7 0zm9 0zm172 0zm2 0zm1 0zm9 0zm1 0zm3 0zm2 0zm2 0zm1 0zm8 0zm11 0zm4 0zm16 0zm2 0zm13 0zm23 0zm-537 1zm1 0zm38 0zm43 0zm3 0zm15 0zm21 0zm4 0zm28 0zm12 0zm13 0zm3 0zm39 0zm8 0zm14 0zm11 0zm184 0zm10 0zm6 0zm1 0zm2 0zm22 0zm9 0zm15 0zm3 0zm10 0zm2 0zm9 0zm9 0zm1 0zm3 0zm-534 1zm17 0zm14 0zm38 0zm47 0zm14 0zm40 0zm14 0zm7 0zm10 0zm4 0zm26 0zm5 0zm198 0zm18 0zm1 0zm2 0zm2 0zm13 0zm4 0zm6 0zm2 0zm5 0zm4 0zm4 0zm9 0zm1 0zm1 0zm5 0zm9 0zm12 0zm1 0zm-539 1zm53 0zm7 0zm10 0zm7 0zm48 0zm7 0zm27 0zm25 0zm10 0zm7 0zm258 0zm3 0zm3 0zm4 0zm6 0zm3 0zm2 0zm10 0zm3 0zm1 0zm5 0zm5 0zm2 0zm4 0zm1 0zm1 0zm6 0zm2 0zm4 0zm3 0zm2 0zm2 0zm5 0zm2 0zm-539 1zm54 0zm62 0zm21 0zm7 0zm50 0zm253 0zm18 0zm1 0zm1 0zm2 0zm1 0zm29 0zm1 0zm9 0zm1 0zm2 0zm13 0zm6 0zm-525 1zm16 0zm16 0zm2 0zm12 0zm24 0zm2 0zm11 0zm24 0zm21 0zm12 0zm31 0zm7 0zm4 0zm9 0zm17 0zm4 0zm16 0zm2 0zm219 0zm1 0zm4 0zm8 0zm25 0zm5 0zm1 0zm2 0zm10 0zm4 0zm2 0zm14 0zm4 0zm4 0zm-526 1zm4 0zm56 0zm24 0zm34 0zm2 0zm122 0zm4 0zm2 0zm178 0zm15 0zm4 0zm16 0zm7 0zm1 0zm3 0zm2 0zm1 0zm2 0zm3 0zm3 0zm2 0zm3 0zm1 0zm10 0zm1 0zm11 0zm9 0zm1 0zm3 0zm-510 1zm44 0zm11 0zm3 0zm78 0zm35 0zm1 0zm16 0zm229 0zm8 0zm3 0zm9 0zm6 0zm12 0zm2 0zm2 0zm23 0zm1 0zm1 0zm3 0zm5 0zm6 0zm3 0zm6 0zm1 0zm2 0zm-522 1zm72 0zm20 0zm36 0zm33 0zm15 0zm43 0zm208 0zm3 0zm1 0zm6 0zm4 0zm6 0zm2 0zm5 0zm7 0zm3 0zm15 0zm2 0zm6 0zm1 0zm11 0zm9 0zm5 0zm3 0zm5 0zm2 0zm-526 1zm6 0zm46 0zm24 0zm39 0zm6 0zm84 0zm234 0zm21 0zm1 0zm4 0zm8 0zm9 0zm1 0zm5 0zm9 0zm5 0zm2 0zm4 0zm2 0zm14 0zm-508 1zm25 0zm24 0zm59 0zm34 0zm52 0zm17 0zm210 0zm2 0zm1 0zm1 0zm5 0zm10 0zm7 0zm2 0zm2 0zm11 0zm7 0zm5 0zm5 0zm4 0zm7 0zm3 0zm1 0zm6 0zm4 0zm-500 1zm64 0zm16 0zm21 0zm11 0zm29 0zm4 0zm2 0zm26 0zm20 0zm14 0zm210 0zm7 0zm6 0zm1 0zm4 0zm5 0zm3 0zm5 0zm5 0zm21 0zm2 0zm1 0zm10 0zm1 0zm3 0zm8 0zm2 0zm5 0zm-509 1zm12 0zm107 0zm86 0zm216 0zm12 0zm2 0zm3 0zm6 0zm1 0zm7 0zm5 0zm10 0zm2 0zm8 0zm4 0zm2 0zm5 0zm2 0zm1 0zm1 0zm5 0zm5 0zm5 0zm4 0zm-499 1zm20 0zm46 0zm68 0zm20 0zm14 0zm32 0zm215 0zm3 0zm4 0zm7 0zm27 0zm2 0zm9 0zm5 0zm9 0zm3 0zm2 0zm1 0zm8 0zm2 0zm2 0zm-430 1zm9 0zm25 0zm14 0zm53 0zm20 0zm219 0zm6 0zm1 0zm1 0zm5 0zm1 0zm1 0zm12 0zm6 0zm2 0zm7 0zm8 0zm2 0zm9 0zm3 0zm8 0zm4 0zm7 0zm1 0zm5 0zm-536 1zm155 0zm51 0zm241 0zm18 0zm37 0zm16 0zm2 0zm8 0zm9 0zm-496 1zm11 0zm11 0zm51 0zm105 0zm233 0zm9 0zm3 0zm7 0zm3 0zm3 0zm9 0zm5 0zm1 0zm1 0zm4 0zm1 0zm2 0zm4 0zm15 0zm4 0zm5 0zm-493 1zm64 0zm63 0zm11 0zm286 0zm1 0zm3 0zm2 0zm1 0zm1 0zm1 0zm3 0zm4 0zm4 0zm1 0zm1 0zm11 0zm2 0zm2 0zm6 0zm6 0zm3 0zm1 0zm3 0zm2 0zm2 0zm3 0zm8 0zm3 0zm-539 1zm112 0zm42 0zm17 0zm291 0zm10 0zm3 0zm3 0zm2 0zm4 0zm22 0zm2 0zm2 0zm1 0zm3 0zm1 0zm6 0zm13 0zm4 0zm2 0zm1 0zm1 0zm-501 1zm32 0zm19 0zm25 0zm68 0zm39 0zm1 0zm231 0zm10 0zm3 0zm5 0zm15 0zm4 0zm2 0zm18 0zm3 0zm5 0zm6 0zm2 0zm10 0zm-332 1zm7 0zm11 0zm232 0zm4 0zm15 0zm5 0zm3 0zm2 0zm1 0zm3 0zm21 0zm4 0zm7 0zm12 0zm7 0zm1 0zm-489 1zm2 0zm405 0zm1 0zm14 0zm13 0zm2 0zm4 0zm17 0zm1 0zm2 0zm6 0zm13 0zm2 0zm1 0zm2 0zm1 0zm2 0zm2 0zm-71 1zm12 0zm10 0zm8 0zm4 0zm9 0zm4 0zm2 0zm11 0zm3 0zm6 0zm2 0zm-496 1zm106 0zm315 0zm2 0zm3 0zm6 0zm12 0zm2 0zm2 0zm4 0zm11 0zm10 0zm4 0zm7 0zm6 0zm2 0zm2 0zm3 0zm-454 1zm76 0zm299 0zm1 0zm12 0zm13 0zm1 0zm20 0zm4 0zm4 0zm4 0zm18 0zm-436 1zm63 0zm294 0zm8 0zm13 0zm14 0zm3 0zm22 0zm3 0zm-433 1zm375 0zm1 0zm5 0zm2 0zm6 0zm2 0zm1 0zm1 0zm3 0zm2 0zm5 0zm13 0zm21 0zm14 0zm-514 1zm10 0zm148 0zm17 0zm261 0zm3 0zm4 0zm3 0zm4 0zm5 0zm2 0zm29 0zm5 0zm1 0zm2 0zm2 0zm5 0zm1 0zm3 0zm1 0zm4 0zm4 0zm-383 1zm26 0zm282 0zm13 0zm6 0zm5 0zm14 0zm6 0zm18 0zm3 0zm9 0zm-72 1zm4 0zm26 0zm12 0zm6 0zm20 0zm2 0zm-361 1zm283 0zm1 0zm18 0zm8 0zm7 0zm6 0zm8 0zm24 0zm3 0zm-75 1zm3 0zm19 0zm3 0zm1 0zm10 0zm2 0zm9 0zm2 0zm23 0zm1 0zm7 0zm-76 1zm2 0zm1 0zm1 0zm5 0zm4 0zm9 0zm2 0zm12 0zm13 0zm10 0zm1 0zm1 0zm1 0zm8 0zm5 0zm1 0zm-72 1zm9 0zm8 0zm15 0zm6 0zm5 0zm1 0zm1 0zm3 0zm2 0zm3 0zm2 0zm7 0zm7 0zm3 0zm-81 1zm5 0zm1 0zm5 0zm6 0zm2 0zm1 0zm23 0zm1 0zm5 0zm16 0zm14 0zm2 0zm-71 1zm6 0zm7 0zm5 0zm2 0zm14 0zm15 0zm4 0zm15 0zm2 0zm2 0zm-66 1zm2 0zm8 0zm1 0zm6 0zm1 0zm1 0zm2 0zm34 0zm5 0zm-70 1zm5 0zm11 0zm7 0zm8 0zm1 0zm4 0zm8 0zm-32 1zm2 0zm2 0zm17 0zm2 0zm13 0zm4 0zm19 0zm-66 1zm12 0zm1 0zm13 0zm5 0zm9 0zm10 0zm18 0zm2 0zm-69 1zm3 0zm22 0zm6 0zm1 0zm15 0zm1 0zm1 0zm2 0zm-23 1zm7 0zm18 0zm7 0zm1 0zm5 0zm3 0zm-61 1zm3 0zm7 0zm15 0zm3 0zm21 0zm2 0zm5 0zm-66 1zm15 0zm22 0zm7 0zm5 0zm3 0zm1 0zm2 0zm-49 1zm33 0zm24 0zm3 0zm-58 1zm3 0zm2 0zm19 0zm3 0zm7 0zm30 0zm-67 1zm19 0zm8 0zm-30 1zm3 0zm5 0zm4 0zm1 0zm5 0zm11 0zm3 0zm33 0zm4 0zm-68 1zm11 0zm3 0zm1 0zm28 0zm4 0zm1 0zm2 0zm14 0zm-51 1zm13 0zm1 0zm2 0zm-23 1zm31 0zm10 0zm15 0zm-56 1zm46 0zm17 0zm-39 1zm20 0zm-35 1zm5 0zm10 0zm20 0zm13 0zm-60 1zm13 0zm30 0zm9 0zm4 0zm-55 1zm30 0zm13 0zm-42 1zm7 0zm13 0zm3 0zm-5 1zm6 0zm4 0zm10 0zm-2 1zm10 0zm6 0zm-34 1zm6 0zm25 0zm5 0zm9 0zm-58 1zm14 0zm2 0zm17 0zm9 0zm-31 1zm24 0zm10 0zm3 0zm-53 1zm4 0zm23 0zm11 0zm10 0zm6 0zm10 0zm-31 1zm4 0zm13 0zm2 0zm12 0zm-59 1zm3 0zm5 0zm35 0zm-28 1zm37 0zm-20 1zm1 0zm7 0zm-35 1zm23 0zm26 0zm-11 1zm2 0zm-45 1zm35 0zm9 0zm5 1zm-44 1zm23 0zm15 0zm-28 1zm9 0zm15 0zm-35 1zm49 0zm3 0zm-33 2zm18 0zm5 0zm-22 1zm28 0zm-25 1zm18 0zm-26 2zm9 0zm7 0zm-13 1zm35 0zm-39 2zm12 2zm9 2z"/><path class="D" stroke="#f00" d="M248.5 292.5zm1 0zm-83 1zm29 0zm32 0zm21 0zm20 1zm17 1zm52 5zm97 11zm111 0zm-10 173zm-15 2zm5 1zm5 0zm12 1zm-17 3zm-7 1zm2 0zm7 0zm1 0zm-24 1zm-2 1zm2 0zm18 0zm-31 1zm26 0zm-13 1zm36 0zm5 0zm-18 1zm1 1zm-32 1zm26 0zm9 0zm-51 1zm28 0zm4 0zm9 0zm14 0zm-53 1zm34 1zm-27 1zm21 0zm30 0zm20 0zm-61 1zm11 0zm1 0zm5 0zm-26 1zm7 0zm24 0zm33 0zm-60 1zm5 0zm57 0zm-69 1zm18 0zm24 1zm24 0zm-71 1zm20 1zm1 0zm40 0zm-63 1zm24 2zm-286 1zm332 0zm-43 1zm-35 1zm-16 1zm29 0zm-10 1zm18 0zm-43 1zm21 0zm30 0zm-220 1zm-112 1zm9 0zm41 0zm238 0zm6 0zm16 0zm93 0zm-411 1zm166 0zm135 0zm-291 1zm18 0zm43 0zm-62 1zm21 0zm38 0zm234 0zm-302 1zm10 0zm6 0zm23 0zm92 0zm-93 1zm1 0zm6 0zm13 0zm123 0zm-132 1zm8 0zm12 0zm71 0zm37 0zm83 0zm-229 1zm153 0zm34 0zm53 0zm27 0zm4 0zm1 0zm8 0zm-263 1zm28 0zm36 0zm3 0zm17 0zm129 0zm48 0zm-319 1zm10 0zm9 0zm61 0zm28 0zm32 0zm70 0zm84 0zm-277 1zm31 0zm71 0zm1 0zm8 0zm9 0zm36 0zm14 0zm8 0zm80 0zm15 0zm23 0zm-312 1zm101 0zm81 0zm6 0zm119 0zm-279 1zm3 0zm113 0zm6 0zm5 0zm7 0zm57 0zm58 0zm9 0zm13 0zm-306 1zm14 0zm61 0zm9 0zm20 0zm3 0zm22 0zm20 0zm9 0zm74 0zm26 0zm33 0zm-268 1zm45 0zm63 0zm27 0zm131 0zm7 0zm-296 1zm1 0zm24 0zm5 0zm31 0zm28 0zm26 0zm67 0zm32 0zm14 0zm42 0zm29 0zm27 0zm-303 1zm45 0zm68 0zm9 0zm13 0zm9 0zm111 0zm10 0zm14 0zm-282 1zm3 0zm3 0zm13 0zm15 0zm5 0zm7 0zm34 0zm1 0zm13 0zm12 0zm8 0zm39 0zm36 0zm15 0zm40 0zm19 0zm28 0zm-297 1zm75 0zm18 0zm12 0zm35 0zm18 0zm62 0zm51 0zm24 0zm129 0zm-349 1zm15 0zm19 0zm24 0zm69 0zm92 0zm7 0zm-207 1zm10 0zm23 0zm14 0zm25 0zm21 0zm59 0zm15 0zm165 0zm-440 1zm3 0zm10 0zm29 0zm6 0zm2 0zm8 0zm54 0zm24 0zm33 0zm12 0zm119 0zm26 0zm-314 1zm2 0zm70 0zm17 0zm33 0zm26 0zm55 0zm59 0zm17 0zm18 0zm-306 1zm14 0zm22 0zm12 0zm13 0zm47 0zm52 0zm77 0zm19 0zm17 0zm6 0zm3 0zm-269 1zm29 0zm27 0zm28 0zm7 0zm22 0zm75 0zm13 0zm18 0zm5 0zm1 0zm30 0zm-241 1zm13 0zm3 0zm101 0zm43 0zm36 0zm5 0zm63 0zm-262 1zm80 0zm19 0zm155 0zm27 0zm-290 1zm23 0zm1 0zm1 0zm23 0zm23 0zm2 0zm1 0zm6 0zm45 0zm83 0zm34 0zm8 0zm19 0zm150 0zm-391 1zm25 0zm16 0zm3 0zm13 0zm20 0zm6 0zm2 0zm9 0zm32 0zm7 0zm19 0zm18 0zm17 0zm3 0zm35 0zm9 0zm159 0zm-443 1zm7 0zm2 0zm106 0zm10 0zm7 0zm18 0zm5 0zm14 0zm4 0zm59 0zm16 0zm4 0zm9 0zm-234 1zm18 0zm102 0zm1 0zm7 0zm20 0zm41 0zm21 0zm26 0zm-244 1zm23 0zm17 0zm14 0zm12 0zm59 0zm9 0zm3 0zm6 0zm29 0zm66 0zm4 0zm183 0zm-432 1zm29 0zm15 0zm38 0zm38 0zm10 0zm22 0zm63 0zm1 0zm44 0zm14 0zm-271 1zm27 0zm142 0zm2 0zm19 0zm49 0zm5 0zm24 0zm3 0zm9 0zm-299 1zm9 0zm7 0zm47 0zm4 0zm23 0zm2 0zm16 0zm7 0zm139 0zm14 0zm28 0zm-291 1zm9 0zm60 0zm29 0zm58 0zm6 0zm11 0zm6 0zm5 0zm4 0zm14 0zm71 0zm177 0zm-418 1zm2 0zm14 0zm15 0zm31 0zm1 0zm12 0zm22 0zm25 0zm42 0zm26 0zm26 0zm6 0zm3 0zm1 0zm-222 1zm37 0zm23 0zm5 0zm79 0zm43 0zm9 0zm35 0zm16 0zm-240 1zm5 0zm26 0zm19 0zm12 0zm15 0zm14 0zm48 0zm15 0zm2 0zm-175 1zm12 0zm1 0zm3 0zm2 0zm9 0zm3 0zm43 0zm11 0zm4 0zm31 0zm40 0zm6 0zm9 0zm27 0zm9 0zm25 0zm8 0zm3 0zm-272 1zm30 0zm4 0zm35 0zm16 0zm12 0zm22 0zm37 0zm34 0zm58 0zm21 0zm-261 1zm10 0zm8 0zm41 0zm23 0zm57 0zm18 0zm17 0zm26 0zm6 0zm54 0zm1 0zm184 0zm2 0zm3 0zm-459 1zm28 0zm14 0zm87 0zm2 0zm24 0zm9 0zm2 0zm4 0zm15 0zm14 0zm26 0zm26 0zm-205 1zm26 0zm1 0zm39 0zm1 0zm24 0zm53 0zm49 0zm13 0zm25 0zm8 0zm-275 1zm3 0zm1 0zm4 0zm68 0zm10 0zm31 0zm1 0zm29 0zm5 0zm33 0zm21 0zm39 0zm9 0zm-212 1zm73 0zm80 0zm21 0zm3 0zm9 0zm10 0zm11 0zm196 0zm-441 1zm13 0zm24 0zm23 0zm100 0zm22 0zm48 0zm217 0zm-456 1zm14 0zm64 0zm4 0zm35 0zm10 0zm2 0zm13 0zm5 0zm5 0zm6 0zm23 0zm50 0zm15 0zm14 0zm-221 1zm19 0zm2 0zm3 0zm112 0zm13 0zm33 0zm-176 1zm15 0zm5 0zm68 0zm2 0zm33 0zm30 0zm6 0zm35 0zm-240 1zm12 0zm24 0zm9 0zm87 0zm43 0zm34 0zm1 0zm246 0zm-462 1zm21 0zm9 0zm68 0zm23 0zm9 0zm4 0zm17 0zm7 0zm3 0zm19 0zm33 0zm248 0zm-457 1zm8 0zm110 0zm54 0zm1 0zm41 0zm7 0zm12 0zm-224 1zm35 0zm90 0zm44 0zm285 0zm-463 1zm2 0zm11 0zm21 0zm13 0zm7 0zm55 0zm19 0zm92 0zm245 0zm-420 1zm9 0zm32 0zm15 0zm34 0zm111 0zm-235 1zm9 0zm29 0zm12 0zm2 0zm13 0zm8 0zm91 0zm4 0zm282 0zm-444 1zm2 0zm11 0zm26 0zm34 0zm41 0zm33 0zm3 0zm24 0zm15 0zm260 0zm42 0zm-436 1zm10 0zm9 0zm2 0zm29 0zm31 0zm39 0zm345 0zm-538 1zm21 0zm92 0zm92 0zm5 0zm26 0zm11 0zm222 0zm-452 1zm74 0zm35 0zm18 0zm6 0zm1 0zm9 0zm4 0zm10 0zm8 0zm11 0zm20 0zm-216 1zm25 0zm2 0zm7 0zm29 0zm30 0zm1 0zm28 0zm11 0zm14 0zm7 0zm7 0zm9 0zm4 0zm3 0zm10 0zm22 0zm6 0zm19 0zm282 0zm-509 1zm40 0zm27 0zm1 0zm17 0zm8 0zm18 0zm36 0zm12 0zm39 0zm285 0zm-483 1zm63 0zm40 0zm42 0zm62 0zm8 0zm1 0zm25 0zm-235 1zm40 0zm37 0zm48 0zm94 0zm249 0zm-446 1zm92 0zm67 0zm55 0zm-236 1zm46 0zm39 0zm108 0zm4 0zm304 0zm20 0zm-532 1zm7 0zm118 0zm30 0zm9 0zm14 0zm16 0zm18 0zm-204 1zm11 0zm50 0zm39 0zm26 0zm11 0zm24 0zm33 0zm11 0zm302 0zm20 0zm-378 1zm8 0zm24 0zm33 0zm3 0zm294 0zm9 0zm-503 1zm28 0zm92 0zm343 0zm2 0zm7 0zm36 0zm-453 1zm66 0zm325 0zm32 0zm-473 1zm22 0zm18 0zm87 0zm20 0zm79 0zm-253 1zm29 0zm29 0zm72 0zm36 0zm23 0zm30 0zm271 0zm3 0zm19 0zm3 0zm-496 1zm5 0zm20 0zm30 0zm32 0zm15 0zm1 0zm18 0zm13 0zm16 0zm11 0zm17 0zm296 0zm30 0zm-506 1zm28 0zm22 0zm21 0zm4 0zm33 0zm44 0zm11 0zm-141 1zm6 0zm12 0zm15 0zm13 0zm54 0zm7 0zm64 0zm3 0zm259 0zm53 0zm-507 1zm26 0zm37 0zm14 0zm10 0zm3 0zm17 0zm12 0zm34 0zm28 0zm10 0zm274 0zm21 0zm-485 1zm80 0zm61 0zm12 0zm305 0zm51 0zm-523 1zm35 0zm18 0zm24 0zm6 0zm50 0zm33 0zm16 0zm297 0zm14 0zm10 0zm5 0zm10 0zm3 0zm-510 1zm23 0zm74 0zm5 0zm11 0zm368 0zm-501 1zm18 0zm64 0zm2 0zm16 0zm22 0zm42 0zm-159 1zm71 0zm36 0zm374 0zm15 0zm19 0zm2 0zm-509 1zm13 0zm28 0zm46 0zm77 0zm333 0zm24 0zm3 0zm-470 1zm50 0zm58 0zm322 0zm10 0zm24 0zm2 0zm13 0zm-507 1zm33 0zm17 0zm4 0zm46 0zm7 0zm335 0zm17 0zm8 0zm-503 1zm59 0zm10 0zm10 0zm90 0zm317 0zm-442 1zm55 0zm405 0zm11 0zm3 0zm12 0zm-486 1zm4 0zm40 0zm18 0zm3 0zm19 0zm8 0zm37 0zm4 0zm302 0zm10 0zm37 0zm10 0zm-524 1zm97 0zm396 0zm26 0zm6 0zm-386 1zm6 0zm327 0zm-463 1zm32 0zm475 0zm14 0zm-527 1zm41 0zm83 0zm54 0zm306 0zm4 0zm-499 1zm107 0zm17 0zm61 0zm341 0zm-485 1zm20 0zm448 0zm31 0zm-513 1zm43 0zm18 0zm33 0zm11 0zm8 0zm25 0zm15 0zm11 0zm334 0zm1 0zm9 0zm-495 1zm65 0zm32 0zm27 0zm352 0zm-487 1zm171 0zm281 0zm1 0zm5 0zm14 0zm3 0zm36 0zm-528 1zm3 0zm169 0zm297 0zm13 0zm-422 1zm93 0zm318 0zm7 0zm3 0zm3 0zm14 0zm8 0zm21 0zm-451 1zm5 0zm34 0zm38 0zm11 0zm320 0zm5 0zm5 0zm31 0zm-482 1zm17 0zm456 0zm1 0zm5 0zm-511 1zm66 0zm-83 1zm30 0zm21 0zm62 0zm-126 1zm72 0zm71 0zm382 0zm-20 1zm8 0zm-488 1zm22 0zm88 0zm364 0zm-337 1zm370 0zm17 0zm-429 1zm3 0zm31 0zm345 0zm30 0zm-403 1zm374 0zm3 0zm39 0zm2 0zm-475 1zm80 0zm358 0zm23 0zm12 0zm-410 1zm380 1zm5 0zm6 0zm15 0zm1 0zm-533 1zm101 0zm-47 1zm13 0zm34 0zm30 0zm370 0zm14 0zm-6 1zm28 0z"/><path class="s1" stroke="#fff" d="M169.5 337.5zm155 3zm-14 1zm107 8zm-162 1zm-67 1zm157 0zm78 0zm-262 2zm40 1zm226 0zm3 2zm-167 1zm-75 1zm136 0zm73 2zm-149 1zm52 1zm123 0zm-47 1zm-137 1zm224 0zm-44 1zm-101 1zm-152 1zm37 0zm16 0zm65 0zm184 1zm-234 1zm65 2zm-143 1zm61 0zm8 1zm243 0zm-194 1zm81 0zm111 0zm-189 1zm59 0zm94 0zm1 0zm-247 2zm172 1zm2 0zm96 0zm-103 1zm-55 1zm-132 1zm201 1zm115 0zm-294 2zm162 1zm79 0zm-66 1zm-13 1zm-4 1zm-152 2zm427 0zm-206 1zm-8 1zm35 0zm27 0zm6 0zm-306 3zm96 0zm182 0zm239 0zm-510 1zm5 0zm169 0zm147 1zm14 0zm155 0zm5 1zm-238 1zm-121 2zm211 0zm-368 1zm62 0zm57 0zm49 0zm12 0zm176 1zm120 0zm-412 1zm210 0zm-113 1zm-37 1zm-128 2zm494 0zm1 0zm-379 1zm51 0zm79 0zm17 0zm62 0zm-25 1zm9 0zm221 0zm-481 1zm152 0zm263 0zm-417 1zm230 0zm256 0zm-276 1zm-264 1zm160 1zm12 0zm231 0zm95 0zm-375 1zm115 0zm88 0zm199 0zm-480 1zm23 0zm4 0zm110 0zm-96 2zm262 0zm40 0zm3 0zm-111 1zm59 0zm-28 1zm-177 1zm40 0zm140 0zm153 0zm-172 1zm50 0zm198 0zm-491 1zm255 0zm97 0zm10 0zm-206 1zm35 0zm24 0zm272 0zm-431 1zm8 0zm179 1zm-91 1zm276 0zm-386 1zm354 0zm-207 1zm210 0zm-149 1zm60 0zm-355 2zm173 0zm339 0zm-241 1zm8 0zm-274 1zm124 0zm137 0zm-234 1zm166 0zm34 0zm4 0zm91 0zm-202 1zm46 0zm119 0zm-92 1zm130 1zm-225 1zm29 0zm35 0zm71 1zm217 0zm-388 1zm96 0zm169 0zm125 0zm77 0zm-303 1zm40 0zm191 0zm-362 1zm65 0zm95 0zm31 0zm-281 1zm86 0zm6 0zm19 0zm45 0zm12 0zm55 0zm301 0zm-415 1zm325 0zm-388 1zm-56 1zm108 0zm124 0zm-129 1zm117 0zm-56 1zm120 0zm93 0zm-296 2zm363 1zm90 0zm-450 1zm35 0zm49 0zm83 0zm30 0zm-171 1zm340 0zm73 0zm-249 1zm252 0zm-414 1zm49 0zm3 0zm297 0zm-345 1zm174 0zm188 0zm4 0zm-403 1zm2 0zm34 0zm362 0zm20 0zm-413 1zm335 1zm-98 1zm-167 1zm160 0zm24 0zm-23 1zm135 0zm24 1zm-68 1zm48 0zm17 1zm2 0zm29 0zm-185 1zm135 0zm31 0zm-37 1zm1 0zm43 0zm-77 1zm-101 1zm47 0zm-7 1zm120 0zm27 0zm16 0zm28 0zm-68 2zm-118 1zm52 0zm112 0zm16 0zm3 0zm-47 1zm-81 1zm76 0zm34 0zm-70 2zm-25 4zm106 0zm-84 2zm29 1zm3 0zm62 0zm-7 2zm-104 1zm108 2zm-112 1zm70 0zm1 0zm10 0zm26 2zm-53 2zm42 0zm-101 1zm112 4zm-27 5zm30 1zm2 3zm-13 6zm-7 1zm-58 1zm57 0zm1 1zm8 0zm-1 1zm-8 3zm-53 2z"/><path class="s2" stroke="#fff" d="M305 334zm-74 10zm80 0zm3 0zm-125 2zm177 0zm-120 3zm-1 2zm-53 2zm11 4zm216 1zm-231 1zm12 0zm15 2zm16 0zm34 0zm-28 1zm33 0zm3 0zm150 0zm-115 2zm70 0zm68 0zm-243 1zm34 0zm152 0zm-21 3zm28 0zm23 2zm-194 1zm64 0zm2 0zm36 0zm-147 1zm-24 1zm35 0zm275 0zm-234 1zm106 0zm23 0zm-158 1zm113 0zm12 0zm156 1zm-324 1zm59 0zm33 1zm88 0zm7 0zm76 0zm33 0zm-273 1zm47 0zm53 1zm18 0zm43 0zm90 0zm-241 1zm290 0zm-75 1zm-211 2zm-25 2zm31 0zm123 2zm-144 1zm458 1zm-178 1zm-317 1zm22 0zm24 0zm5 0zm274 0zm-307 1zm302 0zm4 1zm131 1zm-426 1zm252 0zm-164 1zm35 0zm-105 1zm150 0zm281 0zm47 0zm-344 1zm102 0zm253 0zm-227 1zm-189 1zm347 0zm-404 2zm52 2zm116 1zm20 0zm-112 1zm142 0zm175 0zm-316 1zm157 0zm-240 1zm92 0zm47 1zm-77 1zm48 0zm3 0zm150 0zm145 0zm-146 2zm-81 1zm20 0zm51 0zm142 0zm-249 1zm54 1zm5 0zm213 0zm3 0zm-408 1zm251 0zm43 0zm116 0zm19 0zm-102 1zm7 0zm-310 1zm142 0zm40 0zm189 0zm-255 1zm33 0zm99 0zm53 0zm106 0zm-391 1zm102 0zm203 0zm-356 1zm109 0zm1 0zm138 0zm35 0zm64 0zm-293 1zm59 0zm72 0zm24 0zm224 0zm-402 1zm142 0zm21 0zm-57 1zm122 0zm25 0zm153 0zm-392 1zm200 0zm198 0zm-373 1zm122 0zm26 0zm65 0zm151 0zm-474 1zm236 0zm16 0zm-258 1zm309 0zm9 0zm81 0zm-310 1zm9 0zm170 0zm32 0zm27 0zm70 0zm-401 1zm306 0zm-284 1zm73 0zm65 0zm308 0zm-318 1zm42 0zm107 0zm-139 1zm10 0zm44 1zm106 0zm154 0zm-375 2zm26 0zm6 0zm74 0zm245 0zm5 0zm-404 1zm49 0zm351 0zm-427 1zm9 0zm202 0zm97 0zm-336 1zm452 0zm-343 1zm160 0zm112 0zm-322 1zm30 0zm17 0zm95 0zm38 1zm28 0zm3 0zm178 0zm21 0zm-469 1zm6 0zm5 0zm9 0zm97 0zm174 0zm160 0zm2 0zm-237 1zm1 0zm19 0zm147 0zm-368 1zm18 0zm189 0zm58 0zm102 0zm-380 1zm4 0zm84 0zm181 0zm9 0zm-165 1zm93 0zm69 0zm-268 1zm118 0zm83 0zm46 0zm173 0zm-218 1zm163 0zm98 0zm36 0zm-384 1zm27 0zm19 0zm-16 1zm114 0zm249 0zm8 0zm8 0zm-522 1zm517 0zm7 0zm-452 1zm178 0zm-184 1zm32 0zm52 0zm88 0zm222 2zm-398 2zm8 0zm401 0zm52 1zm-276 1zm181 0zm17 0zm-172 1zm55 0zm176 0zm-229 1zm178 0zm51 1zm-114 1zm40 0zm-30 1zm101 0zm-155 1zm66 0zm15 0zm-121 1zm131 0zm21 0zm-55 1zm-5 1zm39 0zm57 0zm-110 1zm19 0zm52 0zm-107 1zm45 0zm45 0zm-138 1zm1 0zm84 0zm18 0zm-61 1zm57 1zm-359 3zm491 2zm-121 1zm5 0zm23 0zm-21 1zm-7 1zm107 0zm-60 2zm72 0zm-110 1zm112 0zm-129 1zm116 0zm-50 2zm-56 3zm-5 3zm10 1zm48 0zm61 0zm-117 1zm2 3zm74 1zm35 0zm-85 2zm-2 1zm89 0zm-30 1zm31 0zm-31 1zm39 2zm-47 2zm2 1zm26 4zm5 1zm-3 1zm-8 1zm-44 3zm-8 5zm5 0zm-6 3z"/><path d="M130.0 119.2L131.5 119.8L133.0 120.2L134.5 119.9L136.0 119.9L137.5 119.7L139.0 120.2L140.5 119.1L142.0 120.7L143.5 120.1L145.0 120.2L146.5 120.4L148.0 120.1L149.5 119.8L151.0 120.1L152.5 120.1L154.0 119.8L155.5 120.8L157.0 119.9L158.5 120.4L160.0 120.5L161.5 120.8L163.0 120.2L164.5 120.0L166.0 119.8L167.5 119.4L169.0 119.2L170.5 120.5L172.0 120.9L173.5 120.0L175.0 119.4L176.5 120.6L178.0 120.4L179.5 119.7L181.0 120.4L182.5 119.9L184.0 119.6L185.5 119.8L187.0 119.6L188.5 119.4L190.0 120.1L191.5 119.6L193.0 120.5L194.5 119.8L196.0 119.4L197.5 120.7L199.0 120.7L200.5 120.4L202.0 119.9L203.5 118.8L205.0 119.5L206.5 119.4L208.0 120.3L209.5 119.9L211.0 120.7L212.5 120.0L214.0 119.8L215.5 120.7L217.0 120.2L218.5 119.8L220.0 119.7L221.5 120.4L223.0 119.8L224.5 120.5L226.0 119.8L227.5 119.5L229.0 119.5L230.5 120.1L232.0 120.6L233.5 120.5L235.0 119.8L236.5 119.6L238.0 120.1L239.5 120.5L241.0 121.0L242.5 119.8L244.0 120.1L245.5 120.0L247.0 121.0L248.5 119.2L250.0 120.7L251.5 120.2L253.0 120.0L254.5 120.5L256.0 120.4L257.5 120.3L259.0 119.3L260.5 120.5L262.0 119.7L263.6 120.0L265.1 120.0L266.6 120.4L268.1 120.9L269.6 120.2L271.1 120.5L272.6 120.8L274.1 121.3L275.6 120.8L277.1 121.5L278.6 119.7L280.1 120.5L281.6 120.7L283.1 119.8L284.6 121.2L286.1 120.8L287.6 120.8L289.1 120.9L290.6 121.0L292.1 120.8L293.6 120.2L295.1 120.6L296.6 120.7L298.1 120.9L299.6 120.6L301.1 120.9L302.6 121.1L304.1 121.0L305.6 120.3L307.1 120.6L308.6 120.4L310.1 121.1L311.6 121.9L313.1 120.5L314.6 121.3L316.1 121.5L317.6 121.7L319.1 120.5L320.6 121.6L322.1 121.8L323.6 120.9L325.1 122.0L326.6 121.4L328.1 121.0L329.6 121.1L331.1 120.9L332.6 121.4L334.1 121.9L335.6 121.4L337.1 121.6L338.7 121.0L340.1 122.2L341.6 121.8L343.1 121.4L344.6 122.2L346.1 121.5L347.6 122.3L349.2 120.6L350.6 122.0L352.2 121.2L353.7 121.8L355.2 122.3L356.7 121.8L358.2 122.3L359.7 121.3L361.2 122.7L362.7 122.5L364.2 122.0L365.7 122.6L367.2 122.0L368.7 122.1L370.2 122.3L371.7 122.9L373.2 122.7L374.8 121.8L376.3 122.3L377.7 124.0L379.3 122.9L380.8 122.4L382.3 123.2L383.8 122.9L385.3 123.4L386.8 123.1L388.3 123.3L389.8 124.3L391.3 123.2L392.8 124.0L394.3 124.2L395.8 123.7L397.3 124.0L398.8 123.9L400.3 123.9L401.8 124.4L403.4 123.9L404.9 124.0L406.4 124.5L407.9 124.7L409.5 124.4L411.0 124.6L412.5 124.7L414.0 124.9L415.5 125.1L417.0 125.3L418.5 126.1L420.0 126.1L421.5 126.5L423.1 125.9L424.6 126.1L426.2 125.5L427.7 125.9L429.1 126.8L430.6 126.6L432.1 126.5L433.7 126.6L435.1 127.3L436.6 127.2L438.0 128.1L439.5 128.3L441.0 128.2L442.6 127.9L444.1 128.2L445.6 128.3L447.1 128.5L448.6 128.5L450.1 129.1L451.7 129.0L453.2 128.9L454.5 130.6L456.1 130.2L457.7 130.0L459.1 130.5L460.6 130.8L462.1 131.2L463.7 131.0L465.2 131.3L466.5 132.3L468.2 131.9L469.7 131.7L471.2 132.2L472.7 132.3L474.0 133.7L475.7 133.0L477.1 133.8L478.7 133.5L480.2 133.6L481.6 134.4L483.1 135.1L484.6 135.5L486.1 135.9L487.6 136.3L489.0 137.2L490.6 137.2L492.2 137.3L493.6 138.0L495.5 137.2L496.8 138.1L498.1 139.1L499.3 140.4L501.2 139.6L502.3 141.2L504.1 140.8L505.6 141.2L507.0 141.9L508.4 142.8L510.1 142.7L511.4 143.6L512.8 144.3L514.1 145.4L515.7 145.5L517.1 146.2L518.6 146.8L520.0 147.3L521.5 147.8L522.5 149.4L524.4 149.1L525.5 150.4L526.8 151.2L529.1 150.3L529.8 152.4L530.9 153.6L533.1 153.0L533.7 155.0L535.2 155.6L536.7 156.2L537.3 158.2L539.2 158.1L540.4 159.2L542.3 159.1L543.0 160.8L544.2 161.8L545.9 162.2L546.9 163.5L548.2 164.4L549.2 165.6L550.4 166.7L552.0 167.1L553.3 168.1L554.7 168.8L555.2 170.6L556.7 171.3L558.0 172.2L558.5 174.0L560.1 174.6L561.7 175.1L562.7 176.4L563.5 177.7L564.3 179.1L565.4 180.2L566.5 181.3L567.2 182.7L568.6 183.5L570.4 184.0L570.6 185.9L572.2 186.6L572.5 188.4L574.1 189.0L574.5 190.7L576.6 191.0L577.3 192.4L577.5 194.3L578.5 195.5L580.0 196.3L581.5 197.0L581.3 199.1L583.1 199.7L583.6 201.3L584.9 202.2L585.3 203.9L587.0 204.6L587.7 206.0L588.6 207.3L589.0 208.9L591.2 209.4L590.7 211.5L592.2 212.4L592.9 213.8L593.7 215.1L594.8 216.1L594.4 218.1L595.5 219.2L596.4 220.4L597.5 221.4L597.7 223.0L599.3 223.7L598.8 225.8L600.6 226.4L600.9 228.0L601.5 229.4L602.7 230.4L603.8 231.4L605.3 232.2L604.4 234.7L606.5 235.1L606.9 236.7L607.0 238.5L607.8 239.8L609.0 240.8L610.0 242.0L610.6 243.5L611.0 245.1L612.4 246.0L613.4 247.3L613.9 248.7L614.7 250.1L615.3 251.5L616.2 252.7L617.4 253.8L617.4 255.6L617.5 257.2L618.7 258.3L619.3 259.7L621.0 260.6L621.1 262.2L621.8 263.6L622.1 265.2L623.6 266.1L623.7 267.8L623.9 269.4L625.6 270.3L625.9 271.8L626.5 273.2L626.9 274.7L627.7 276.0L627.6 277.7L629.1 278.7L629.6 280.2L629.4 281.9L630.7 283.0L631.0 284.6L631.7 285.9L632.0 287.4L632.3 288.9L633.9 289.9L632.9 291.9L634.5 292.9L634.6 294.5L635.1 295.9L636.1 297.2L636.2 298.8L636.8 300.1L636.8 301.7L637.8 303.0L638.6 304.3L639.8 305.4L639.0 307.3L640.0 308.5L640.5 310.0L640.5 311.6L641.4 312.9L642.1 314.2L642.8 315.5L643.6 316.9L644.1 318.3L645.0 319.6L644.9 321.2L645.1 322.7L645.7 324.1L645.8 325.7L646.5 327.0L647.5 328.2L648.0 329.6L648.4 331.1L649.1 332.4L648.8 334.1L650.8 335.0L650.6 336.7L650.8 338.2L652.3 339.2L652.1 340.9L652.9 342.2L653.4 343.6L653.6 345.1L653.7 346.6L654.9 347.8L655.5 349.1L656.1 350.5L656.9 351.8L657.7 353.1L658.3 354.5L657.6 356.3L658.7 357.5L658.7 359.1L659.2 360.5L660.4 361.7L660.9 363.1L661.1 364.6L661.9 365.9L662.8 367.2L663.7 368.5L664.3 369.9L665.6 371.0L666.6 372.2L665.9 374.1L666.8 375.4L667.1 376.9L667.6 378.3L667.9 379.9L668.0 381.4L667.9 383.1L669.5 384.1L670.8 385.3L670.5 386.9L671.4 388.2L672.2 389.5L671.9 391.2L672.2 392.7L673.6 393.8L674.3 395.2L674.3 396.7L675.2 398.0L674.7 399.8L676.2 400.9L676.7 402.3L676.5 404.0L677.4 405.3L677.4 406.9L678.4 408.2L679.1 409.5L679.0 411.1L679.9 412.4L680.5 413.8L680.8 415.4L681.7 416.7L682.1 418.1L682.6 419.6L683.2 421.0L683.1 422.6L684.4 423.8L683.9 425.6L684.7 426.9L684.8 428.5L684.7 430.1L686.1 431.3L686.2 432.9L686.9 434.3L686.8 435.9L687.4 437.3L688.4 438.7L687.5 440.4L688.6 441.8L688.7 443.3L689.4 444.7L688.5 446.5L690.1 447.7L689.7 449.4L689.9 450.9L690.4 452.3L691.4 453.7L691.2 455.3L691.8 456.7L692.5 458.1L691.9 459.8L692.7 461.2L692.7 462.7L692.7 464.2L693.4 465.6L693.6 467.1L694.4 468.5L694.2 470.1L693.8 471.7L694.2 473.2L694.5 474.7L694.4 476.2L695.9 477.5L694.9 479.2L695.9 480.6L695.0 482.3L695.4 483.7L696.4 485.1L697.7 486.4L697.0 488.0L697.7 489.4L697.4 490.9L696.8 492.5L697.2 493.9L698.6 495.2L698.4 496.7L698.9 498.1L698.9 499.5L698.9 501.0L699.5 502.4L700.3 503.7L701.3 505.0L701.2 506.5L700.6 508.2L700.6 509.7L702.1 510.9L702.3 512.4L702.3 514.0L702.7 515.4L703.5 516.8L703.8 518.3L703.4 520.0L704.2 521.4L704.1 523.0L705.2 524.3L704.9 526.0L705.1 527.5L705.3 529.0L706.2 530.4L706.2 531.9L706.3 533.4L706.6 534.9L706.7 536.4L707.9 537.8L707.3 539.4L707.7 540.9L708.3 542.3L708.5 543.8L708.1 545.4L708.5 546.9L709.5 548.3L696.0 550.3L694.9 549.0L695.2 547.4L694.2 546.1L695.7 544.4L694.6 543.0L693.4 541.7L694.2 540.1L694.4 538.6L693.0 537.3L693.7 535.7L692.7 534.4L692.8 532.8L692.5 531.4L692.2 529.9L691.5 528.6L691.0 527.2L691.4 525.6L691.4 524.1L690.3 522.9L691.2 521.2L689.8 520.0L690.1 518.4L689.6 517.0L688.3 515.8L688.4 514.2L688.0 512.7L687.8 511.2L687.6 509.7L687.7 508.2L687.9 506.5L686.5 505.3L686.5 503.7L686.4 502.1L685.6 500.7L684.8 499.3L685.1 497.7L684.0 496.3L684.3 494.7L683.9 493.2L684.3 491.6L684.2 490.1L683.3 488.7L682.7 487.3L683.5 485.6L682.5 484.2L682.7 482.7L682.0 481.3L681.9 479.8L682.2 478.2L681.8 476.8L682.1 475.3L681.5 473.9L680.1 472.6L680.3 471.1L680.2 469.6L679.9 468.1L680.1 466.6L679.2 465.2L679.7 463.6L678.7 462.2L678.3 460.8L678.2 459.3L678.2 457.8L677.8 456.4L677.9 454.8L677.4 453.4L676.6 452.1L676.6 450.6L676.3 449.1L676.2 447.7L675.5 446.3L675.1 444.9L675.3 443.4L674.9 442.0L674.3 440.7L674.9 439.0L673.7 437.8L673.3 436.4L673.2 434.9L672.4 433.6L672.9 431.9L671.4 430.9L671.5 429.3L670.1 428.2L671.5 426.2L669.7 425.2L669.2 423.8L669.3 422.3L667.5 421.3L668.1 419.5L667.4 418.2L666.1 417.1L666.2 415.5L666.5 413.8L666.2 412.3L665.1 411.1L664.8 409.6L664.4 408.2L664.4 406.6L663.8 405.3L662.4 404.1L662.1 402.7L661.5 401.3L661.6 399.7L659.8 398.7L660.0 397.0L660.5 395.3L659.3 394.1L658.7 392.7L657.8 391.5L657.8 389.9L657.6 388.3L656.3 387.2L656.6 385.6L655.9 384.2L655.6 382.8L654.6 381.6L654.8 379.9L654.3 378.5L653.4 377.3L653.6 375.6L652.3 374.5L652.5 372.8L651.5 371.6L650.7 370.3L650.6 368.8L650.1 367.3L649.5 366.0L649.3 364.5L649.2 362.9L647.6 361.9L647.9 360.2L646.8 359.0L646.2 357.6L645.6 356.2L645.3 354.7L644.3 353.5L644.3 351.9L643.9 350.4L642.9 349.2L642.2 347.8L642.1 346.2L641.4 344.9L641.2 343.3L640.2 342.1L640.5 340.4L640.0 339.0L638.8 337.8L638.7 336.2L638.2 334.8L637.5 333.5L636.7 332.2L636.1 330.8L635.8 329.3L634.6 328.1L635.1 326.4L634.7 324.9L633.7 323.7L633.9 322.0L633.2 320.7L632.2 319.5L632.3 317.8L631.6 316.5L630.9 315.2L629.9 314.0L629.9 312.4L628.9 311.1L628.5 309.7L628.8 308.0L628.1 306.6L627.1 305.4L627.4 303.7L626.6 302.4L625.4 301.2L625.1 299.7L625.6 297.9L624.0 297.0L624.3 295.3L623.2 294.1L622.5 292.8L621.3 291.6L620.8 290.2L620.2 288.9L619.7 287.5L620.6 285.5L619.0 284.6L618.2 283.4L619.0 281.4L616.9 280.7L617.0 279.1L615.4 278.2L615.8 276.3L614.8 275.2L614.2 273.8L613.3 272.6L613.1 271.1L612.2 269.8L612.3 268.2L611.0 267.2L610.7 265.6L609.9 264.4L608.3 263.6L608.6 261.8L608.1 260.4L607.3 259.1L606.0 258.2L605.9 256.5L604.3 255.7L604.4 254.1L603.9 252.6L603.0 251.5L602.1 250.4L601.3 249.2L600.6 248.0L600.2 246.5L599.3 245.4L598.5 244.1L596.5 243.7L596.1 242.2L595.6 240.7L594.4 239.7L593.6 238.5L591.9 237.9L592.1 235.9L591.1 234.7L590.4 233.3L589.2 232.3L587.8 231.4L587.5 229.7L587.1 228.1L585.0 227.7L584.9 225.9L584.2 224.6L583.6 223.2L582.4 222.1L582.1 220.5L581.0 219.5L579.7 218.6L578.8 217.4L578.7 215.8L577.6 214.8L576.4 213.9L575.8 212.6L574.5 211.8L574.4 210.2L573.3 209.1L572.3 208.1L571.5 206.8L570.9 205.5L569.9 204.4L568.7 203.5L567.9 202.3L566.9 201.3L566.2 199.9L565.1 198.9L564.1 197.9L563.5 196.4L562.1 195.7L561.3 194.5L560.6 193.1L558.8 192.9L558.1 191.5L557.0 190.6L556.2 189.4L554.9 188.6L553.7 187.8L553.0 186.4L552.1 185.3L551.0 184.3L549.7 183.6L548.7 182.6L548.0 181.1L546.9 180.2L545.6 179.4L544.4 178.6L543.1 177.9L541.8 177.2L541.1 175.9L540.2 174.7L538.9 174.1L537.6 173.5L536.3 172.8L535.5 171.5L534.4 170.6L533.2 169.8L531.7 169.4L530.9 168.1L529.4 167.7L528.0 167.2L526.9 166.3L525.4 165.9L524.4 164.8L522.9 164.5L522.1 163.1L520.5 163.1L519.5 162.0L518.0 161.8L516.9 160.9L515.3 160.9L514.4 159.5L513.0 159.1L512.0 157.8L510.7 157.2L509.1 157.2L507.6 157.1L506.6 155.7L504.9 156.0L503.7 155.1L502.3 154.8L501.0 154.1L499.6 153.8L498.2 153.5L497.0 152.4L495.7 151.9L494.3 151.3L492.7 151.6L491.5 150.5L489.8 151.1L488.5 150.5L487.2 149.8L485.9 148.9L484.5 148.7L483.2 147.8L481.5 148.9L480.2 148.2L478.7 148.1L477.3 148.0L476.0 147.0L474.5 147.1L472.9 147.3L471.6 146.5L470.2 145.6L468.7 145.6L467.2 145.7L465.8 145.3L464.5 144.3L462.9 144.6L461.4 144.4L460.0 144.1L458.4 145.0L457.1 143.3L455.5 144.3L454.1 143.3L452.7 143.0L451.3 142.0L449.7 142.6L448.3 141.9L446.8 142.2L445.3 142.1L443.8 142.4L442.4 141.4L440.9 141.1L439.5 140.8L438.0 141.0L436.4 141.6L435.0 140.8L433.5 140.7L431.9 140.9L430.5 140.6L429.2 139.0L427.5 140.5L426.1 139.7L424.6 139.9L423.1 139.3L421.7 138.9L420.2 138.9L418.7 138.6L417.3 138.3L415.8 137.9L414.2 139.2L412.8 138.3L411.3 138.0L409.9 137.5L408.4 137.7L406.9 138.0L405.4 138.1L404.0 137.2L402.5 137.0L401.1 136.4L399.5 137.3L398.0 137.7L396.5 137.7L395.1 137.4L393.6 136.9L392.1 136.7L390.6 137.3L389.2 135.9L387.6 136.9L386.1 136.6L384.7 136.1L383.2 136.2L381.6 137.3L380.2 136.0L378.7 135.8L377.2 136.3L375.7 136.0L374.2 135.2L372.7 136.2L371.2 136.4L369.7 137.3L368.2 136.2L366.8 135.0L365.3 135.4L363.8 135.5L362.3 135.6L360.7 136.5L359.3 136.0L357.8 135.1L356.3 134.9L354.8 135.8L353.3 135.3L351.8 135.6L350.3 135.3L348.8 135.1L347.3 135.2L345.8 135.3L344.4 134.5L342.8 135.0L341.3 135.4L339.9 134.2L338.3 135.2L336.8 135.2L335.4 134.6L333.8 135.1L332.4 134.7L330.8 135.4L329.4 134.8L327.9 134.9L326.3 135.6L324.9 134.9L323.4 134.8L321.9 134.2L320.4 134.1L318.9 134.5L317.4 135.1L315.9 134.5L314.4 134.7L312.9 134.3L311.4 135.3L309.9 134.2L308.4 134.6L306.9 134.3L305.4 134.3L303.9 134.9L302.4 135.9L300.9 134.9L299.4 134.4L297.9 134.8L296.4 135.1L294.9 133.4L293.4 133.8L291.9 133.6L290.4 134.2L288.9 134.1L287.4 134.1L285.9 134.0L284.4 134.0L282.9 133.8L281.4 133.8L279.9 134.1L278.4 134.3L276.9 134.0L275.4 134.2L273.9 133.9L272.4 133.7L270.9 134.6L269.4 134.5L267.9 133.6L266.5 133.1L264.9 133.9L263.4 134.1L261.9 134.8L260.5 133.7L259.0 135.2L257.5 134.0L256.0 134.4L254.5 133.4L253.0 134.1L251.5 133.5L250.0 133.6L248.5 134.8L247.0 133.7L245.5 133.7L244.0 133.7L242.5 133.0L241.0 133.2L239.5 134.0L238.0 134.6L236.5 134.5L235.0 133.9L233.5 133.4L232.0 132.6L230.5 133.6L229.0 134.2L227.5 133.8L226.0 133.2L224.5 134.3L223.0 134.0L221.5 133.6L220.0 133.5L218.5 134.1L217.0 133.4L215.5 133.7L214.0 133.0L212.5 133.3L211.0 134.0L209.5 133.7L208.0 133.3L206.5 133.9L205.0 134.0L203.5 133.0L202.0 133.1L200.5 133.9L199.0 133.8L197.5 133.8L196.0 133.9L194.5 133.2L193.0 133.4L191.5 134.0L190.0 133.3L188.5 133.0L187.0 133.3L185.5 134.4L184.0 133.7L182.5 133.1L181.0 133.8L179.5 133.4L178.0 133.8L176.5 134.0L175.0 134.2L173.5 132.5L172.0 133.4L170.5 133.9L169.0 133.8L167.5 133.9L166.0 133.8L164.5 134.2L163.0 133.1L161.5 133.5L160.0 134.0L158.5 134.3L157.0 133.5L155.5 134.0L154.0 133.3L152.5 133.9L151.0 133.3L149.5 133.7L148.0 133.9L146.5 133.2L145.0 133.6L143.5 133.1L142.0 132.8L140.5 133.2L139.0 133.3L137.5 133.4L136.0 133.9L134.5 133.6L133.0 133.9L131.5 133.5L130.0 133.2Z" fill="#0000f5"/></g><clipPath id="cb"><rect x="920.1" y="42.6" width="537.5" height="592.3"/></clipPath><g clip-path="url(#cb)"><path d="M1447 339.5h11M1441 340.5h17M1436 341.5h22M1432 342.5h26M1428 343.5h30M1425 344.5h33M1421 345.5h37M1417 346.5h41M1412 347.5h46M1407 348.5h51M1403 349.5h55M1399 350.5h59M1396 351.5h62M1392 352.5h66M1389 353.5h69M1386 354.5h72M1383 355.5h75M1381 356.5h77M1378 357.5h80M1375 358.5h83M1372 359.5h86M1370 360.5h88M1367 361.5h91M1364 362.5h94M1362 363.5h96M1360 364.5h98M1357 365.5h101M1353 366.5h5M1361 366.5h97M1349 367.5h9M1362 367.5h96M1346 368.5h12M1363 368.5h95M1342 369.5h17M1363 369.5h95M1339 370.5h21M1363 370.5h95M1335 371.5h26M1363 371.5h95M1331 372.5h127M1328 373.5h130M1324 374.5h134M1320 375.5h138M1317 376.5h141M1314 377.5h144M1311 378.5h147M1307 379.5h86M1397 379.5h61M1303 380.5h89M1398 380.5h60M1298 381.5h94M1398 381.5h60M1293 382.5h100M1399 382.5h59M1289 383.5h104M1399 383.5h59M1285 384.5h109M1398 384.5h60M1281 385.5h113M1398 385.5h60M1276 386.5h119M1398 386.5h60M1271 387.5h124M1398 387.5h60M1265 388.5h130M1399 388.5h59M1259 389.5h136M1399 389.5h59M1253 390.5h142M1399 390.5h59M1248 391.5h147M1399 391.5h59M1242 392.5h154M1399 392.5h59M1237 393.5h160M1399 393.5h59M1228 394.5h230M1222 395.5h236M1215 396.5h163M1379 396.5h79M1208 397.5h170M1379 397.5h61M1441 397.5h17M1199 398.5h259M1191 399.5h267M1179 400.5h279M1171 401.5h287M920 402.5h9M1152 402.5h306M920 403.5h25M1139 403.5h319M920 404.5h47M1118 404.5h340M920 405.5h128M1061 405.5h397M920 406.5h538M920 407.5h459M1383 407.5h75M920 408.5h454M1388 408.5h1M1396 408.5h62M920 409.5h449M1396 409.5h62M920 410.5h447M1397 410.5h61M920 411.5h446M1396 411.5h62M920 412.5h445M1396 412.5h62M920 413.5h444M1396 413.5h62M920 414.5h442M1395 414.5h31M1428 414.5h30M920 415.5h441M1395 415.5h28M1430 415.5h28M920 416.5h441M1395 416.5h26M1430 416.5h28M920 417.5h440M1394 417.5h26M1431 417.5h27M920 418.5h440M1394 418.5h26M1431 418.5h27M920 419.5h440M1394 419.5h26M1430 419.5h28M920 420.5h440M1393 420.5h27M1430 420.5h28M920 421.5h441M1392 421.5h29M1429 421.5h29M920 422.5h442M1391 422.5h31M1427 422.5h31M920 423.5h443M1390 423.5h68M920 424.5h444M1388 424.5h70M920 425.5h445M1386 425.5h72M920 426.5h445M1384 426.5h74M920 427.5h445M1383 427.5h75M920 428.5h419M1341 428.5h24M1383 428.5h75M920 429.5h418M1343 429.5h22M1384 429.5h32M1423 429.5h35M920 430.5h418M1344 430.5h21M1384 430.5h30M1425 430.5h33M920 431.5h418M1345 431.5h19M1385 431.5h27M1427 431.5h31M920 432.5h418M1345 432.5h19M1386 432.5h26M1428 432.5h16M1447 432.5h11M920 433.5h418M1345 433.5h19M1387 433.5h24M1429 433.5h14M1450 433.5h8M920 434.5h419M1345 434.5h20M1387 434.5h23M1429 434.5h13M1453 434.5h5M920 435.5h420M1344 435.5h22M1387 435.5h22M1430 435.5h12M920 436.5h447M1387 436.5h21M1430 436.5h12M920 437.5h449M1387 437.5h20M1431 437.5h11M920 438.5h450M1387 438.5h18M1431 438.5h12M920 439.5h451M1386 439.5h17M1432 439.5h11M920 440.5h453M1385 440.5h16M1432 440.5h11M920 441.5h454M1384 441.5h16M1433 441.5h11M920 442.5h456M1383 442.5h17M1433 442.5h11M920 443.5h479M1434 443.5h10M1453 443.5h5M920 444.5h479M1435 444.5h9M1451 444.5h7M920 445.5h479M1436 445.5h8M1450 445.5h8M920 446.5h478M1437 446.5h6M1449 446.5h9M920 447.5h440M1361 447.5h37M1439 447.5h2M1448 447.5h10M920 448.5h439M1363 448.5h34M1448 448.5h10M920 449.5h440M1364 449.5h33M1448 449.5h10M920 450.5h440M1365 450.5h31M1448 450.5h10M920 451.5h441M1365 451.5h30M1448 451.5h10M920 452.5h443M1365 452.5h28M1448 452.5h10M920 453.5h463M1448 453.5h10M920 454.5h461M1448 454.5h10M920 455.5h459M1449 455.5h9M920 456.5h457M1449 456.5h9M920 457.5h444M1367 457.5h8M1449 457.5h9M920 458.5h443M1449 458.5h9M920 459.5h442M1422 459.5h15M1449 459.5h9M920 460.5h441M1421 460.5h17M1449 460.5h9M920 461.5h440M1421 461.5h18M1449 461.5h9M920 462.5h18M944 462.5h416M1422 462.5h17M1449 462.5h9M920 463.5h15M950 463.5h409M1422 463.5h17M1448 463.5h10M920 464.5h13M954 464.5h405M1422 464.5h16M1448 464.5h10M920 465.5h10M957 465.5h99M1059 465.5h9M1075 465.5h284M1423 465.5h15M1447 465.5h11M920 466.5h6M987 466.5h65M1085 466.5h17M1108 466.5h251M1423 466.5h14M1447 466.5h11M990 467.5h6M1002 467.5h20M1028 467.5h20M1088 467.5h12M1111 467.5h45M1158 467.5h202M1424 467.5h12M1447 467.5h11M1004 468.5h15M1030 468.5h14M1090 468.5h8M1115 468.5h3M1129 468.5h22M1163 468.5h197M1424 468.5h10M1447 468.5h11M1006 469.5h9M1033 469.5h5M1092 469.5h5M1133 469.5h7M1167 469.5h193M1427 469.5h1M1447 469.5h11M1172 470.5h189M1447 470.5h11M1179 471.5h182M1416 471.5h9M1447 471.5h11M1188 472.5h14M1211 472.5h150M1410 472.5h16M1447 472.5h11M1212 473.5h149M1409 473.5h18M1448 473.5h10M1214 474.5h146M1409 474.5h19M1448 474.5h10M1215 475.5h145M1409 475.5h19M1441 475.5h1M1449 475.5h9M1217 476.5h141M1409 476.5h19M1438 476.5h9M1452 476.5h6M1219 477.5h6M1234 477.5h122M1409 477.5h20M1437 477.5h10M1237 478.5h117M1409 478.5h20M1436 478.5h12M1248 479.5h105M1409 479.5h20M1436 479.5h12M1251 480.5h90M1344 480.5h8M1410 480.5h19M1435 480.5h13M1253 481.5h87M1346 481.5h4M1410 481.5h19M1435 481.5h12M1255 482.5h84M1410 482.5h19M1435 482.5h12M1256 483.5h82M1410 483.5h19M1435 483.5h12M1258 484.5h79M1410 484.5h19M1434 484.5h13M1259 485.5h77M1411 485.5h17M1434 485.5h12M1457 485.5h1M1260 486.5h75M1412 486.5h15M1434 486.5h12M1454 486.5h4M1261 487.5h75M1422 487.5h3M1434 487.5h11M1453 487.5h5M1262 488.5h75M1434 488.5h11M1452 488.5h6M1263 489.5h76M1434 489.5h10M1451 489.5h7M1265 490.5h77M1434 490.5h9M1451 490.5h7M1268 491.5h76M1434 491.5h9M1451 491.5h7M1274 492.5h71M1434 492.5h9M1277 493.5h68M1434 493.5h8M1279 494.5h67M1434 494.5h8M1281 495.5h65M1434 495.5h8M1282 496.5h64M1434 496.5h9M1284 497.5h63M1434 497.5h9M1287 498.5h60M1434 498.5h10M1290 499.5h57M1434 499.5h11M1293 500.5h55M1364 500.5h4M1434 500.5h12M1295 501.5h53M1362 501.5h7M1434 501.5h13M1297 502.5h52M1361 502.5h9M1433 502.5h14M1299 503.5h50M1361 503.5h9M1433 503.5h15M1300 504.5h49M1360 504.5h11M1432 504.5h16M1302 505.5h47M1360 505.5h11M1432 505.5h17M1303 506.5h46M1361 506.5h10M1431 506.5h18M1304 507.5h46M1361 507.5h10M1431 507.5h18M1306 508.5h6M1318 508.5h32M1430 508.5h19M1322 509.5h28M1429 509.5h20M1330 510.5h20M1429 510.5h19M1331 511.5h19M1428 511.5h20M1332 512.5h19M1428 512.5h19M1333 513.5h18M1427 513.5h19M1333 514.5h18M1427 514.5h18M1333 515.5h19M1427 515.5h17M1334 516.5h18M1428 516.5h15M1334 517.5h18M1428 517.5h13M1334 518.5h18M1430 518.5h5M1335 519.5h17M1335 520.5h17M1336 521.5h16M1337 522.5h15M1338 523.5h14M1340 524.5h12M1343 525.5h8M1415 530.5h3M1415 531.5h3M1415 532.5h3M1415 533.5h3M1416 534.5h1M1456 538.5h2M1455 539.5h3M1454 540.5h4M1376 541.5h2M1454 541.5h4M1374 542.5h6M1454 542.5h4M1373 543.5h8M1455 543.5h3M1372 544.5h10M1455 544.5h3M1370 545.5h12M1456 545.5h2M1369 546.5h14M1457 546.5h1M1368 547.5h17M1368 548.5h18M1369 549.5h19M1397 549.5h6M1369 550.5h34M1370 551.5h33M1370 552.5h32M1372 553.5h29M1373 554.5h28M1377 555.5h22M1379 556.5h19M1380 557.5h17M1381 558.5h15M1381 559.5h14M1381 560.5h13M1382 561.5h11M1382 562.5h11M1382 563.5h10M1457 563.5h1M1382 564.5h10M1456 564.5h2M1382 565.5h9M1455 565.5h3M1382 566.5h9M1454 566.5h4M1382 567.5h9M1453 567.5h5M1382 568.5h8M1453 568.5h5M1383 569.5h7M1453 569.5h5M1383 570.5h7M1453 570.5h5M1384 571.5h5M1453 571.5h5M1386 572.5h2M1454 572.5h4M1456 573.5h2M1389 579.5h10M1388 580.5h12M1388 581.5h12M1388 582.5h12M1388 583.5h12M1388 584.5h12M1388 585.5h12M1425 585.5h4M1389 586.5h11M1425 586.5h4M1389 587.5h10M1426 587.5h2M1390 588.5h8M1391 589.5h5M1424 634.5h10M1420 635.5h15M1419 636.5h17" stroke="#f00" stroke-width="1.2" fill="none"/><path class="s1" stroke="#000" d="M1444.5 340.5zm-18 7zm9 2zm-28 3zm28 0zm14 0zm-34 1zm1 3zm7 0zm-37 1zm19 0zm7 0zm-38 2zm56 1zm-48 1zm47 0zm26 1zm-82 2zm37 0zm46 1zm-14 2zm-35 1zm0 1zm-49 1zm47 0zm43 0zm-54 1zm56 0zm-118 1zm8 0zm63 0zm7 0zm-34 1zm24 0zm-12 1zm12 0zm25 1zm-65 1zm14 0zm23 0zm35 0zm7 0zm6 0zm-76 1zm35 0zm2 0zm26 0zm14 0zm-58 1zm19 0zm-58 1zm39 0zm35 0zm13 0zm-61 2zm-35 2zm36 1zm-10 1zm50 0zm-98 1zm68 0zm6 1zm55 0zm-182 1zm173 1zm-17 1zm33 0zm-156 1zm71 1zm22 0zm12 0zm24 0zm26 0zm-116 1zm70 0zm4 0zm24 0zm3 0zm18 0zm-70 1zm6 1zm17 0zm10 0zm-211 2zm182 0zm6 0zm7 1zm11 0zm-54 1zm23 0zm13 0zm17 0zm22 0zm-108 1zm37 0zm-193 1zm188 0zm51 0zm2 0zm-109 1zm-157 1zm238 1zm26 0zm17 0zm-440 1zm11 0zm19 0zm361 0zm25 0zm9 0zm23 0zm3 0zm-104 2zm90 0zm11 0zm2 0zm17 0zm-14 1zm-79 1zm84 0zm-39 1zm8 0zm36 0zm-91 1zm1 0zm45 0zm-6 1zm-88 1zm28 0zm11 0zm81 1zm6 0zm-95 1zm58 0zm2 0zm29 0zm1 0zm23 0zm-124 1zm16 0zm54 0zm9 0zm3 0zm36 0zm-94 2zm51 0zm27 0zm-117 1zm90 0zm8 0zm27 0zm-99 1zm57 0zm36 0zm-42 1zm59 0zm-154 1zm96 0zm18 0zm-12 1zm34 0zm15 0zm1 0zm-168 1zm7 0zm110 1zm-46 1zm2 0zm7 0zm67 0zm-3 1zm30 0zm-26 1zm-126 1zm122 1zm7 0zm20 0zm-105 1zm13 0zm45 0zm-59 1zm8 0zm84 0zm-31 1zm-2 1zm-16 1zm18 0zm27 3zm-69 1zm-29 1zm52 0zm10 0zm-54 2zm43 0zm51 0zm-85 1zm-16 1zm47 0zm1 0zm11 3zm58 0zm-135 1zm43 0zm12 0zm78 0zm-96 1zm25 0zm67 0zm-97 1zm26 0zm12 1zm65 0zm-119 1zm20 0zm-26 1zm19 0zm12 0zm88 0zm8 0zm-92 2zm1 0zm86 0zm5 0zm-83 1zm-37 2zm10 0zm109 0zm-432 1zm324 0zm-223 1zm296 0zm-493 1zm89 0zm98 0zm21 0zm220 0zm-370 1zm82 0zm246 1zm36 0zm-388 1zm16 1zm349 0zm97 0zm-385 1zm133 0zm168 0zm-334 1zm117 0zm328 0zm-447 1zm26 0zm114 0zm27 0zm184 0zm-341 1zm165 0zm159 0zm-151 1zm105 1zm37 0zm125 1zm-5 1zm-94 1zm66 0zm-191 1zm114 0zm72 0zm11 0zm-2 1zm-14 1zm2 1zm32 0zm-117 1zm89 0zm-94 1zm113 0zm-112 1zm-3 1zm117 0zm4 0zm-4 1zm-21 1zm23 0zm-25 1zm1 0zm3 0zm-159 1zm178 0zm4 2zm-113 1zm105 0zm-156 1zm178 0zm-121 2zm102 1zm-152 1zm26 0zm32 0zm0 1zm95 1zm1 2zm-143 1zm141 0zm6 0zm-116 1zm2 0zm112 0zm1 1zm-102 1zm26 0zm-35 1zm9 0zm25 0zm-38 1zm114 0zm-79 1zm78 0zm-124 1zm-6 1zm12 0zm114 0zm4 2zm-11 1zm12 1zm5 0zm-10 1zm-3 1zm-3 1zm7 1zm5 0zm-10 2zm1 0zm22 22zm-84 6zm9 0zm-3 2zm6 0zm2 2zm15 1zm-13 2zm10 0zm3 0zm-16 1zm1 2zm8 0zm2 0zm-11 1zm8 0zm3 0zm60 9zm1 1zm-2 4zm1 1zm-60 8zm2 0zm-6 6zm8 0zm-9 1zm5 0zm32 48z"/><path class="s2" stroke="#000" d="M1452 340zm-10 3zm-1 3zm-10 2zm-27 2zm48 2zm-13 2zm4 0zm-13 2zm24 1zm-71 1zm24 1zm-9 2zm27 2zm-26 1zm40 0zm-81 1zm53 0zm-41 1zm24 2zm-31 2zm1 0zm35 1zm46 0zm-36 1zm2 0zm27 1zm-82 1zm30 1zm32 0zm-73 1zm85 0zm-41 1zm10 0zm32 3zm7 0zm-101 3zm92 0zm6 0zm10 0zm-13 1zm12 0zm-116 1zm100 0zm12 0zm-22 1zm11 1zm-48 1zm31 0zm-1 1zm6 0zm34 0zm-61 1zm-11 1zm54 0zm19 0zm4 0zm-68 1zm31 0zm-182 1zm165 0zm4 0zm12 0zm13 0zm-75 1zm20 1zm7 0zm56 0zm-35 2zm-55 1zm63 1zm12 0zm-24 1zm-58 1zm33 0zm-452 1zm481 0zm-38 1zm-37 1zm35 0zm30 0zm-412 1zm58 0zm1 0zm81 0zm265 1zm52 0zm-78 1zm-4 1zm5 0zm83 0zm-43 1zm-80 3zm132 0zm-97 2zm-4 1zm-15 1zm100 0zm1 0zm5 0zm12 0zm-114 1zm4 0zm51 0zm13 0zm-58 2zm42 1zm24 1zm11 0zm13 0zm-83 1zm32 1zm21 0zm4 0zm41 0zm-51 1zm-43 1zm48 0zm32 0zm-59 1zm55 0zm-132 1zm51 0zm29 0zm10 0zm21 0zm20 1zm-114 1zm106 0zm15 0zm9 0zm-119 1zm58 0zm36 0zm21 0zm-18 1zm11 1zm-44 2zm42 0zm-95 1zm45 0zm16 0zm-60 1zm48 0zm36 1zm-44 1zm-28 1zm-46 1zm75 0zm-36 2zm37 0zm-59 2zm51 0zm-27 1zm9 0zm9 0zm82 0zm-82 2zm20 0zm-11 1zm-7 1zm75 0zm-61 1zm64 0zm-98 1zm1 0zm39 0zm57 0zm1 0zm3 0zm-119 1zm35 0zm78 3zm4 0zm-121 1zm15 0zm20 0zm-11 1zm100 1zm-99 1zm76 0zm-270 1zm151 0zm112 0zm6 0zm2 0zm15 0zm-25 1zm8 0zm6 0zm-477 1zm346 0zm-314 1zm2 0zm5 0zm62 0zm29 1zm20 0zm343 0zm-494 1zm11 0zm16 0zm4 0zm60 0zm383 0zm-280 1zm303 0zm-438 1zm132 0zm19 0zm3 0zm254 0zm-394 1zm173 1zm24 0zm-52 1zm5 0zm30 0zm-4 1zm129 0zm80 0zm-196 1zm189 0zm1 0zm-107 1zm49 0zm103 0zm-229 1zm98 0zm2 0zm92 0zm6 0zm-88 2zm7 0zm77 0zm5 0zm17 0zm-114 1zm1 0zm-94 1zm38 0zm37 2zm108 1zm8 0zm15 0zm-1 1zm-108 3zm79 0zm-153 1zm180 1zm1 1zm-111 1zm111 2zm0 1zm-1 3zm-153 1zm36 0zm-29 4zm33 0zm114 0zm-100 1zm22 0zm1 0zm4 1zm78 1zm-131 1zm48 0zm-49 1zm120 1zm10 0zm-6 2zm-10 5zm6 0zm3 2zm-9 2zm-80 1zm-3 2zm-3 2zm9 2zm106 16zm-79 2zm-4 1zm8 3zm-7 2zm-3 2zm3 1zm-5 1zm18 3zm9 1zm-8 2zm4 0zm-8 1zm2 2zm70 2zm-71 5zm68 0zm-70 2zm3 1zm3 12zm3 1zm33 1zm2 1zm-38 2zm6 0zm-4 1zm1 0zm31 45zm1 0zm4 0zm-1 1zm5 0z"/><path class="d" stroke="#000" d="M1452.5 334.5zm3 1zm2 0zm-6 1zm3 0zm3 0zm-2 1zm1 0zm1 0zm-14 1zm1 0zm3 0zm5 0zm4 0zm1 0zm-21 1zm8 0zm1 0zm-10 1zm1 0zm3 0zm-11 1zm6 0zm-8 1zm1 0zm3 0zm1 0zm-7 1zm2 0zm-6 1zm2 0zm-15 1zm5 0zm3 0zm2 0zm3 0zm-19 1zm5 0zm2 0zm-5 1zm8 0zm-9 1zm1 0zm2 0zm1 0zm-11 1zm2 0zm3 0zm2 0zm-6 1zm-13 3zm2 0zm3 0zm-6 2zm-5 1zm-7 1zm1 0zm-4 1zm2 1zm-4 2zm-11 1zm6 0zm-7 1zm8 0zm-6 1zm4 0zm-8 1zm-10 1zm7 0zm2 0zm1 0zm1 0zm8 0zm-18 1zm3 0zm-14 1zm13 0zm1 0zm-5 1zm20 0zm-36 1zm10 0zm1 0zm25 0zm-34 1zm3 0zm1 0zm1 0zm31 0zm-42 1zm5 0zm3 0zm-5 1zm2 0zm1 0zm1 0zm-16 1zm7 0zm3 0zm-11 1zm2 0zm2 0zm2 0zm1 0zm-8 1zm1 0zm5 0zm1 0zm-14 1zm5 0zm1 0zm1 0zm3 0zm-16 1zm2 0zm4 0zm3 0zm2 0zm1 0zm-2 1zm87 0zm2 0zm-102 1zm4 0zm1 0zm1 0zm2 0zm93 0zm2 0zm-114 1zm3 0zm6 0zm2 0zm99 0zm2 0zm1 0zm1 0zm1 0zm-120 1zm1 0zm1 0zm4 0zm1 0zm3 0zm106 0zm2 0zm-127 1zm5 0zm7 0zm6 0zm2 0zm105 0zm1 0zm1 0zm-127 1zm2 0zm4 0zm1 0zm5 0zm2 0zm1 0zm-23 1zm2 0zm2 0zm1 0zm1 0zm1 0zm1 0zm2 0zm1 0zm2 0zm1 0zm1 0zm120 0zm-141 1zm16 0zm1 0zm1 0zm2 0zm121 0zm2 0zm-147 1zm5 0zm2 0zm1 0zm1 0zm1 0zm3 0zm1 0zm1 0zm1 0zm1 0zm1 0zm1 0zm-28 1zm6 0zm1 0zm7 0zm1 0zm1 0zm1 0zm1 0zm1 0zm1 0zm3 0zm133 0zm-162 1zm3 0zm1 0zm9 0zm2 0zm3 0zm2 0zm2 0zm1 0zm137 0zm1 0zm1 0zm-169 1zm3 0zm9 0zm1 0zm3 0zm1 0zm1 0zm1 0zm2 0zm2 0zm-21 1zm9 0zm2 0zm1 0zm2 0zm2 0zm1 0zm150 0zm1 0zm-190 1zm4 0zm6 0zm3 0zm2 0zm11 0zm1 0zm3 0zm1 0zm-33 1zm1 0zm2 0zm8 0zm5 0zm4 0zm5 0zm3 0zm163 0zm-199 1zm4 0zm8 0zm1 0zm3 0zm1 0zm2 0zm6 0zm1 0zm-37 1zm8 0zm1 0zm4 0zm2 0zm1 0zm3 0zm1 0zm2 0zm8 0zm1 0zm1 0zm1 0zm1 0zm-48 1zm2 0zm1 0zm3 0zm2 0zm2 0zm8 0zm3 0zm1 0zm2 0zm2 0zm1 0zm1 0zm4 0zm4 0zm2 0zm3 0zm-294 1zm246 0zm2 0zm2 0zm4 0zm1 0zm7 0zm6 0zm2 0zm1 0zm1 0zm1 0zm3 0zm2 0zm1 0zm1 0zm1 0zm1 0zm2 0zm1 0zm2 0zm233 0zm-520 1zm2 0zm3 0zm1 0zm1 0zm6 0zm1 0zm5 0zm25 0zm169 0zm9 0zm13 0zm4 0zm1 0zm1 0zm2 0zm11 0zm4 0zm8 0zm2 0zm1 0zm1 0zm2 0zm1 0zm1 0zm3 0zm-275 1zm1 0zm1 0zm4 0zm2 0zm3 0zm4 0zm2 0zm7 0zm1 0zm6 0zm4 0zm1 0zm13 0zm14 0zm38 0zm108 0zm1 0zm9 0zm2 0zm1 0zm2 0zm2 0zm8 0zm2 0zm1 0zm2 0zm1 0zm2 0zm4 0zm3 0zm3 0zm1 0zm1 0zm1 0zm1 0zm1 0zm1 0zm1 0zm1 0zm1 0zm1 0zm1 0zm1 0zm2 0zm1 0zm1 0zm-270 1zm2 0zm1 0zm1 0zm1 0zm1 0zm3 0zm1 0zm3 0zm2 0zm1 0zm1 0zm2 0zm1 0zm2 0zm1 0zm1 0zm4 0zm2 0zm1 0zm2 0zm1 0zm2 0zm8 0zm11 0zm4 0zm2 0zm7 0zm2 0zm14 0zm2 0zm48 0zm4 0zm3 0zm2 0zm2 0zm4 0zm21 0zm1 0zm2 0zm15 0zm1 0zm3 0zm4 0zm7 0zm7 0zm2 0zm1 0zm4 0zm1 0zm4 0zm3 0zm1 0zm1 0zm3 0zm1 0zm2 0zm1 0zm7 0zm3 0zm1 0zm1 0zm2 0zm2 0zm1 0zm1 0zm1 0zm2 0zm1 0zm1 0zm-256 1zm1 0zm2 0zm2 0zm1 0zm1 0zm1 0zm3 0zm2 0zm3 0zm1 0zm2 0zm1 0zm1 0zm1 0zm2 0zm2 0zm1 0zm1 0zm2 0zm1 0zm3 0zm1 0zm3 0zm1 0zm1 0zm5 0zm1 0zm2 0zm2 0zm3 0zm6 0zm3 0zm4 0zm1 0zm2 0zm4 0zm2 0zm2 0zm2 0zm1 0zm5 0zm6 0zm11 0zm6 0zm3 0zm5 0zm4 0zm2 0zm8 0zm1 0zm2 0zm1 0zm2 0zm8 0zm3 0zm2 0zm3 0zm2 0zm3 0zm4 0zm3 0zm14 0zm4 0zm1 0zm3 0zm3 0zm2 0zm10 0zm1 0zm5 0zm2 0zm1 0zm3 0zm1 0zm10 0zm5 0zm1 0zm4 0zm1 0zm1 0zm1 0zm1 0zm1 0zm1 0zm1 0zm2 0zm1 0zm1 0zm1 0zm1 0zm1 0zm-240 1zm1 0zm2 0zm2 0zm1 0zm3 0zm1 0zm1 0zm1 0zm1 0zm2 0zm8 0zm1 0zm2 0zm2 0zm1 0zm1 0zm3 0zm1 0zm1 0zm1 0zm3 0zm3 0zm1 0zm3 0zm5 0zm3 0zm2 0zm1 0zm1 0zm2 0zm4 0zm12 0zm2 0zm1 0zm2 0zm1 0zm1 0zm4 0zm3 0zm1 0zm2 0zm2 0zm3 0zm11 0zm1 0zm4 0zm1 0zm1 0zm1 0zm6 0zm4 0zm2 0zm3 0zm3 0zm1 0zm1 0zm9 0zm2 0zm1 0zm1 0zm8 0zm1 0zm3 0zm2 0zm8 0zm1 0zm4 0zm5 0zm3 0zm12 0zm2 0zm1 0zm1 0zm3 0zm1 0zm1 0zm1 0zm2 0zm1 0zm2 0zm1 0zm1 0zm1 0zm1 0zm1 0zm1 0zm1 0zm-203 1zm1 0zm1 0zm1 0zm1 0zm1 0zm1 0zm3 0zm1 0zm1 0zm1 0zm1 0zm1 0zm2 0zm1 0zm1 0zm2 0zm1 0zm3 0zm1 0zm1 0zm1 0zm1 0zm1 0zm1 0zm1 0zm1 0zm1 0zm2 0zm3 0zm1 0zm1 0zm1 0zm4 0zm2 0zm1 0zm2 0zm4 0zm1 0zm3 0zm2 0zm2 0zm1 0zm1 0zm1 0zm1 0zm1 0zm2 0zm3 0zm1 0zm4 0zm1 0zm1 0zm1 0zm3 0zm3 0zm4 0zm4 0zm1 0zm2 0zm6 0zm2 0zm2 0zm4 0zm3 0zm2 0zm1 0zm1 0zm1 0zm4 0zm2 0zm1 0zm2 0zm1 0zm6 0zm3 0zm2 0zm3 0zm1 0zm5 0zm1 0zm1 0zm2 0zm3 0zm3 0zm1 0zm4 0zm2 0zm3 0zm2 0zm1 0zm1 0zm1 0zm1 0zm4 0zm1 0zm1 0zm1 0zm2 0zm2 0zm1 0zm2 0zm2 0zm1 0zm1 0zm-171 1zm1 0zm1 0zm1 0zm2 0zm1 0zm1 0zm2 0zm2 0zm1 0zm1 0zm1 0zm2 0zm4 0zm2 0zm1 0zm2 0zm1 0zm2 0zm1 0zm1 0zm1 0zm1 0zm1 0zm1 0zm4 0zm3 0zm2 0zm1 0zm1 0zm1 0zm2 0zm1 0zm1 0zm1 0zm1 0zm1 0zm1 0zm1 0zm6 0zm1 0zm1 0zm2 0zm1 0zm1 0zm2 0zm1 0zm1 0zm1 0zm1 0zm1 0zm2 0zm1 0zm4 0zm1 0zm1 0zm1 0zm2 0zm2 0zm1 0zm1 0zm2 0zm1 0zm1 0zm1 0zm3 0zm1 0zm1 0zm5 0zm1 0zm2 0zm2 0zm1 0zm1 0zm1 0zm1 0zm1 0zm3 0zm3 0zm1 0zm2 0zm1 0zm1 0zm1 0zm2 0zm1 0zm1 0zm1 0zm2 0zm2 0zm1 0zm1 0zm2 0zm1 0zm1 0zm1 0zm1 0zm1 0zm1 0zm1 0zm1 0zm1 0zm-68 1zm1 0zm1 0zm1 0zm1 0zm1 0zm1 0zm1 0zm1 0zm3 0zm322 2zm-7 1zm9 0zm3 0zm5 0zm1 0zm-23 1zm6 0zm1 0zm4 0zm5 0zm3 0zm1 0zm4 0zm-26 1zm5 0zm3 0zm2 0zm4 0zm7 0zm1 0zm2 0zm1 0zm-25 1zm1 0zm1 0zm3 0zm5 0zm3 0zm15 0zm-26 1zm1 0zm3 0zm2 0zm3 0zm4 0zm3 0zm1 0zm5 0zm-27 1zm1 0zm3 0zm3 0zm5 0zm7 0zm1 0zm1 0zm1 0zm3 0zm4 0zm2 0zm-22 1zm2 0zm1 0zm12 0zm4 0zm1 0zm34 0zm-62 1zm2 0zm2 0zm4 0zm2 0zm6 0zm1 0zm1 0zm1 0zm41 0zm2 0zm-63 1zm2 0zm1 0zm1 0zm2 0zm1 0zm4 0zm1 0zm3 0zm7 0zm1 0zm1 0zm6 0zm32 0zm-65 1zm3 0zm8 0zm1 0zm3 0zm2 0zm3 0zm1 0zm2 0zm4 0zm5 0zm27 0zm2 0zm1 0zm1 0zm4 0zm-65 1zm1 0zm1 0zm3 0zm2 0zm1 0zm4 0zm2 0zm2 0zm7 0zm3 0zm1 0zm2 0zm1 0zm27 0zm1 0zm2 0zm1 0zm1 0zm1 0zm4 0zm-70 1zm1 0zm6 0zm1 0zm13 0zm39 0zm4 0zm2 0zm-62 1zm2 0zm11 0zm5 0zm5 0zm2 0zm1 0zm1 0zm32 0zm3 0zm1 0zm1 0zm-67 1zm1 0zm3 0zm5 0zm2 0zm8 0zm4 0zm1 0zm1 0zm3 0zm1 0zm32 0zm6 0zm-65 1zm1 0zm3 0zm6 0zm4 0zm2 0zm3 0zm1 0zm3 0zm1 0zm1 0zm2 0zm32 0zm-58 1zm2 0zm1 0zm3 0zm4 0zm1 0zm1 0zm3 0zm7 0zm2 0zm-21 1zm1 0zm1 0zm3 0zm2 0zm6 0zm-11 1zm1 0zm3 0zm3 0zm2 0zm5 0zm-13 1zm5 0zm-3 1zm3 0zm1 0zm1 0zm1 0zm2 0zm1 0zm1 0zm-43 1zm31 0zm2 0zm3 0zm1 0zm2 0zm1 0zm-12 1zm5 0zm6 0zm3 0zm37 0zm3 0zm-78 1zm24 0zm1 0zm8 0zm4 0zm1 0zm1 0zm1 0zm31 0zm2 0zm7 0zm-82 1zm3 0zm25 0zm3 0zm2 0zm2 0zm1 0zm2 0zm38 0zm-79 1zm26 0zm8 0zm3 0zm39 0zm11 0zm1 0zm1 0zm-88 1zm28 0zm4 0zm1 0zm8 0zm4 0zm2 0zm25 0zm5 0zm3 0zm5 0zm1 0zm3 0zm18 0zm2 0zm-109 1zm2 0zm2 0zm23 0zm1 0zm9 0zm1 0zm9 0zm25 0zm1 0zm3 0zm1 0zm7 0zm3 0zm16 0zm1 0zm4 0zm3 0zm1 0zm-111 1zm1 0zm1 0zm1 0zm25 0zm1 0zm6 0zm3 0zm1 0zm2 0zm30 0zm2 0zm2 0zm3 0zm1 0zm1 0zm2 0zm5 0zm15 0zm9 0zm3 0zm2 0zm-89 1zm3 0zm4 0zm1 0zm33 0zm1 0zm3 0zm1 0zm1 0zm2 0zm1 0zm7 0zm5 0zm15 0zm7 0zm1 0zm-80 1zm1 0zm5 0zm1 0zm1 0zm5 0zm24 0zm7 0zm2 0zm1 0zm9 0zm14 0zm7 0zm6 0zm-84 1zm14 0zm1 0zm22 0zm9 0zm3 0zm5 0zm22 0zm4 0zm-80 1zm3 0zm1 0zm8 0zm25 0zm3 0zm1 0zm3 0zm6 0zm8 0zm16 0zm3 0zm5 0zm2 0zm2 0zm-83 1zm4 0zm5 0zm1 0zm21 0zm1 0zm3 0zm3 0zm5 0zm6 0zm21 0zm1 0zm4 0zm1 0zm4 0zm1 0zm-81 1zm1 0zm1 0zm2 0zm2 0zm21 0zm1 0zm3 0zm1 0zm1 0zm14 0zm2 0zm9 0zm15 0zm2 0zm2 0zm3 0zm2 0zm1 0zm-78 1zm1 0zm1 0zm1 0zm22 0zm6 0zm2 0zm1 0zm5 0zm5 0zm8 0zm13 0zm1 0zm4 0zm5 0zm2 0zm-56 1zm7 0zm14 0zm2 0zm5 0zm19 0zm4 0zm-48 1zm3 0zm3 0zm1 0zm2 0zm6 0zm8 0zm5 0zm13 0zm-45 1zm3 0zm4 0zm3 0zm2 0zm5 0zm2 0zm3 0zm14 0zm13 0zm-47 1zm6 0zm1 0zm14 0zm3 0zm4 0zm3 0zm11 0zm4 0zm-43 1zm2 0zm3 0zm2 0zm3 0zm3 0zm1 0zm9 0zm2 0zm1 0zm12 0zm4 0zm-86 1zm38 0zm6 0zm7 0zm4 0zm3 0zm1 0zm2 0zm2 0zm12 0zm1 0zm3 0zm1 0zm2 0zm1 0zm4 0zm-84 1zm38 0zm2 0zm7 0zm1 0zm4 0zm7 0zm5 0zm3 0zm5 0zm1 0zm2 0zm1 0zm5 0zm-83 1zm1 0zm38 0zm7 0zm2 0zm2 0zm8 0zm2 0zm4 0zm14 0zm5 0zm-43 1zm4 0zm10 0zm2 0zm5 0zm1 0zm10 0zm1 0zm5 0zm3 0zm1 0zm-48 1zm2 0zm1 0zm2 0zm5 0zm11 0zm10 0zm2 0zm9 0zm2 0zm1 0zm-57 1zm3 0zm1 0zm2 0zm3 0zm7 0zm1 0zm4 0zm1 0zm1 0zm1 0zm3 0zm9 0zm8 0zm5 0zm2 0zm1 0zm3 0zm9 0zm-65 1zm4 0zm2 0zm3 0zm2 0zm8 0zm9 0zm5 0zm1 0zm3 0zm4 0zm2 0zm3 0zm4 0zm10 0zm3 0zm-64 1zm9 0zm1 0zm4 0zm2 0zm7 0zm5 0zm4 0zm1 0zm1 0zm11 0zm5 0zm9 0zm3 0zm-58 1zm2 0zm1 0zm5 0zm2 0zm2 0zm4 0zm1 0zm3 0zm2 0zm7 0zm4 0zm1 0zm6 0zm3 0zm3 0zm1 0zm1 0zm6 0zm2 0zm3 0zm2 0zm-81 1zm10 0zm2 0zm1 0zm5 0zm11 0zm7 0zm10 0zm2 0zm10 0zm25 0zm-83 1zm4 0zm8 0zm2 0zm1 0zm3 0zm3 0zm2 0zm1 0zm4 0zm1 0zm4 0zm1 0zm1 0zm3 0zm3 0zm2 0zm1 0zm1 0zm1 0zm6 0zm11 0zm4 0zm-68 1zm2 0zm5 0zm1 0zm7 0zm9 0zm1 0zm4 0zm2 0zm1 0zm1 0zm10 0zm3 0zm4 0zm28 0zm2 0zm4 0zm-83 1zm4 0zm2 0zm6 0zm5 0zm2 0zm7 0zm7 0zm12 0zm6 0zm1 0zm21 0zm3 0zm-76 1zm6 0zm2 0zm14 0zm8 0zm12 0zm1 0zm5 0zm6 0zm20 0zm5 0zm2 0zm1 0zm1 0zm-510 1zm3 0zm421 0zm4 0zm1 0zm2 0zm12 0zm3 0zm4 0zm13 0zm8 0zm3 0zm2 0zm1 0zm4 0zm29 0zm-88 1zm10 0zm10 0zm6 0zm3 0zm1 0zm3 0zm1 0zm4 0zm1 0zm6 0zm6 0zm1 0zm2 0zm26 0zm7 0zm-509 1zm9 0zm3 0zm411 0zm10 0zm2 0zm2 0zm3 0zm4 0zm6 0zm1 0zm2 0zm2 0zm9 0zm4 0zm3 0zm6 0zm3 0zm-488 1zm2 0zm6 0zm118 0zm18 0zm288 0zm6 0zm2 0zm1 0zm3 0zm3 0zm3 0zm8 0zm2 0zm1 0zm1 0zm2 0zm2 0zm2 0zm3 0zm4 0zm6 0zm1 0zm4 0zm25 0zm3 0zm2 0zm-505 1zm11 0zm4 0zm11 0zm87 0zm2 0zm1 0zm5 0zm2 0zm6 0zm11 0zm24 0zm254 0zm1 0zm8 0zm6 0zm2 0zm3 0zm2 0zm5 0zm3 0zm4 0zm3 0zm2 0zm4 0zm5 0zm2 0zm9 0zm21 0zm-518 1zm3 0zm4 0zm6 0zm8 0zm20 0zm13 0zm9 0zm38 0zm2 0zm26 0zm5 0zm8 0zm43 0zm263 0zm3 0zm10 0zm1 0zm7 0zm13 0zm7 0zm10 0zm-488 1zm12 0zm2 0zm7 0zm18 0zm1 0zm2 0zm13 0zm14 0zm2 0zm57 0zm25 0zm2 0zm25 0zm1 0zm39 0zm3 0zm1 0zm4 0zm201 0zm3 0zm7 0zm2 0zm5 0zm4 0zm2 0zm1 0zm3 0zm4 0zm2 0zm1 0zm5 0zm1 0zm2 0zm2 0zm1 0zm3 0zm3 0zm1 0zm7 0zm3 0zm20 0zm-514 1zm26 0zm16 0zm14 0zm12 0zm1 0zm28 0zm2 0zm14 0zm2 0zm1 0zm5 0zm17 0zm12 0zm6 0zm17 0zm23 0zm20 0zm5 0zm3 0zm209 0zm4 0zm3 0zm1 0zm6 0zm3 0zm2 0zm4 0zm1 0zm4 0zm8 0zm6 0zm4 0zm5 0zm7 0zm4 0zm1 0zm7 0zm4 0zm3 0zm4 0zm1 0zm-512 1zm20 0zm26 0zm5 0zm4 0zm15 0zm8 0zm6 0zm3 0zm42 0zm21 0zm6 0zm6 0zm29 0zm31 0zm16 0zm192 0zm4 0zm8 0zm2 0zm3 0zm2 0zm1 0zm2 0zm12 0zm13 0zm1 0zm3 0zm3 0zm2 0zm18 0zm7 0zm-481 1zm3 0zm38 0zm40 0zm53 0zm12 0zm20 0zm7 0zm22 0zm6 0zm9 0zm3 0zm3 0zm183 0zm6 0zm4 0zm1 0zm8 0zm1 0zm13 0zm3 0zm6 0zm5 0zm1 0zm3 0zm15 0zm3 0zm2 0zm2 0zm2 0zm1 0zm1 0zm4 0zm2 0zm2 0zm-503 1zm31 0zm81 0zm84 0zm12 0zm1 0zm7 0zm17 0zm9 0zm181 0zm7 0zm3 0zm11 0zm3 0zm6 0zm1 0zm12 0zm17 0zm3 0zm1 0zm3 0zm5 0zm7 0zm-442 1zm13 0zm156 0zm28 0zm167 0zm3 0zm1 0zm2 0zm2 0zm2 0zm7 0zm6 0zm7 0zm8 0zm23 0zm2 0zm1 0zm2 0zm1 0zm5 0zm1 0zm2 0zm3 0zm2 0zm-255 1zm5 0zm13 0zm150 0zm3 0zm3 0zm2 0zm7 0zm3 0zm1 0zm8 0zm7 0zm9 0zm1 0zm2 0zm31 0zm10 0zm-262 1zm24 0zm152 0zm5 0zm1 0zm8 0zm3 0zm4 0zm2 0zm1 0zm20 0zm23 0zm1 0zm6 0zm1 0zm12 0zm-243 1zm8 0zm146 0zm2 0zm10 0zm3 0zm1 0zm4 0zm1 0zm13 0zm2 0zm7 0zm2 0zm4 0zm24 0zm1 0zm1 0zm2 0zm15 0zm-243 1zm8 0zm9 0zm6 0zm129 0zm4 0zm3 0zm5 0zm11 0zm18 0zm1 0zm6 0zm23 0zm4 0zm12 0zm2 0zm2 0zm4 0zm1 0zm-240 1zm5 0zm10 0zm1 0zm124 0zm4 0zm6 0zm9 0zm7 0zm9 0zm7 0zm2 0zm30 0zm1 0zm20 0zm1 0zm-239 1zm3 0zm3 0zm25 0zm1 0zm109 0zm7 0zm3 0zm3 0zm4 0zm7 0zm1 0zm2 0zm2 0zm4 0zm3 0zm15 0zm3 0zm21 0zm2 0zm4 0zm17 0zm2 0zm-243 1zm130 0zm13 0zm5 0zm7 0zm5 0zm2 0zm2 0zm1 0zm3 0zm4 0zm2 0zm7 0zm11 0zm1 0zm25 0zm3 0zm1 0zm21 0zm-227 1zm114 0zm11 0zm3 0zm12 0zm3 0zm12 0zm10 0zm5 0zm1 0zm3 0zm54 0zm-223 1zm16 0zm5 0zm86 0zm16 0zm1 0zm1 0zm1 0zm14 0zm6 0zm1 0zm2 0zm1 0zm4 0zm3 0zm12 0zm4 0zm1 0zm1 0zm2 0zm22 0zm16 0zm1 0zm1 0zm3 0zm1 0zm2 0zm1 0zm-116 1zm5 0zm3 0zm6 0zm1 0zm3 0zm3 0zm1 0zm2 0zm2 0zm5 0zm3 0zm2 0zm1 0zm1 0zm1 0zm1 0zm10 0zm2 0zm6 0zm5 0zm27 0zm18 0zm-196 1zm91 0zm3 0zm1 0zm9 0zm6 0zm3 0zm1 0zm19 0zm5 0zm1 0zm7 0zm2 0zm5 0zm3 0zm1 0zm20 0zm18 0zm7 0zm1 0zm-197 1zm80 0zm1 0zm2 0zm3 0zm3 0zm7 0zm1 0zm4 0zm4 0zm1 0zm10 0zm2 0zm3 0zm2 0zm6 0zm2 0zm1 0zm4 0zm2 0zm5 0zm5 0zm1 0zm21 0zm24 0zm3 0zm-200 1zm80 0zm10 0zm6 0zm2 0zm2 0zm10 0zm5 0zm2 0zm2 0zm2 0zm1 0zm6 0zm8 0zm4 0zm8 0zm2 0zm1 0zm3 0zm1 0zm39 0zm3 0zm-112 1zm1 0zm11 0zm10 0zm2 0zm4 0zm19 0zm1 0zm4 0zm2 0zm1 0zm1 0zm10 0zm6 0zm7 0zm6 0zm6 0zm14 0zm2 0zm4 0zm1 0zm-114 1zm7 0zm1 0zm2 0zm11 0zm2 0zm2 0zm4 0zm1 0zm4 0zm9 0zm12 0zm16 0zm1 0zm9 0zm5 0zm1 0zm21 0zm-101 1zm3 0zm13 0zm8 0zm4 0zm3 0zm5 0zm1 0zm2 0zm1 0zm3 0zm2 0zm4 0zm9 0zm9 0zm6 0zm5 0zm1 0zm5 0zm4 0zm17 0zm-192 1zm84 0zm4 0zm5 0zm6 0zm14 0zm6 0zm11 0zm3 0zm1 0zm7 0zm4 0zm1 0zm3 0zm8 0zm15 0zm3 0zm14 0zm-103 1zm2 0zm2 0zm1 0zm2 0zm1 0zm5 0zm1 0zm5 0zm9 0zm4 0zm2 0zm2 0zm18 0zm6 0zm4 0zm6 0zm1 0zm10 0zm4 0zm21 0zm-189 1zm85 0zm1 0zm4 0zm1 0zm1 0zm2 0zm3 0zm5 0zm2 0zm12 0zm5 0zm2 0zm13 0zm5 0zm4 0zm14 0zm2 0zm6 0zm2 0zm17 0zm-178 1zm76 0zm1 0zm1 0zm1 0zm1 0zm3 0zm1 0zm2 0zm6 0zm5 0zm8 0zm13 0zm3 0zm6 0zm10 0zm3 0zm4 0zm2 0zm9 0zm1 0zm3 0zm3 0zm11 0zm3 0zm4 0zm5 0zm2 0zm-104 1zm3 0zm1 0zm14 0zm9 0zm2 0zm6 0zm6 0zm1 0zm1 0zm23 0zm9 0zm2 0zm13 0zm3 0zm1 0zm3 0zm1 0zm6 0zm-186 1zm83 0zm1 0zm1 0zm2 0zm7 0zm1 0zm2 0zm1 0zm8 0zm1 0zm2 0zm2 0zm2 0zm1 0zm14 0zm17 0zm6 0zm8 0zm13 0zm4 0zm4 0zm3 0zm1 0zm-173 1zm66 0zm2 0zm2 0zm4 0zm2 0zm1 0zm1 0zm2 0zm1 0zm3 0zm1 0zm12 0zm2 0zm12 0zm3 0zm10 0zm9 0zm16 0zm13 0zm8 0zm2 0zm1 0zm2 0zm1 0zm-177 1zm73 0zm1 0zm7 0zm3 0zm2 0zm3 0zm4 0zm3 0zm2 0zm2 0zm12 0zm21 0zm2 0zm7 0zm4 0zm4 0zm1 0zm14 0zm3 0zm3 0zm1 0zm2 0zm-171 1zm65 0zm6 0zm1 0zm7 0zm8 0zm5 0zm3 0zm2 0zm3 0zm3 0zm1 0zm2 0zm3 0zm2 0zm3 0zm2 0zm1 0zm1 0zm5 0zm5 0zm1 0zm7 0zm1 0zm6 0zm3 0zm28 0zm-174 1zm64 0zm1 0zm5 0zm12 0zm1 0zm1 0zm2 0zm2 0zm5 0zm4 0zm19 0zm3 0zm8 0zm1 0zm2 0zm3 0zm2 0zm8 0zm6 0zm14 0zm1 0zm8 0zm-164 1zm1 0zm56 0zm7 0zm5 0zm1 0zm1 0zm6 0zm2 0zm5 0zm2 0zm1 0zm5 0zm2 0zm1 0zm4 0zm12 0zm3 0zm1 0zm21 0zm6 0zm21 0zm3 0zm-163 1zm58 0zm1 0zm3 0zm19 0zm10 0zm8 0zm4 0zm3 0zm18 0zm10 0zm3 0zm26 0zm-107 1zm1 0zm4 0zm4 0zm1 0zm16 0zm4 0zm3 0zm3 0zm6 0zm3 0zm1 0zm5 0zm2 0zm4 0zm5 0zm3 0zm3 0zm10 0zm19 0zm4 0zm1 0zm3 0zm2 0zm-160 1zm1 0zm52 0zm1 0zm5 0zm2 0zm13 0zm5 0zm3 0zm7 0zm2 0zm12 0zm12 0zm1 0zm8 0zm3 0zm25 0zm4 0zm3 0zm1 0zm-161 1zm53 0zm3 0zm1 0zm3 0zm17 0zm7 0zm2 0zm2 0zm5 0zm1 0zm3 0zm6 0zm11 0zm2 0zm10 0zm6 0zm1 0zm23 0zm1 0zm1 0zm1 0zm-155 1zm50 0zm2 0zm21 0zm11 0zm16 0zm7 0zm1 0zm1 0zm3 0zm4 0zm1 0zm8 0zm31 0zm-157 1zm2 0zm48 0zm4 0zm1 0zm2 0zm1 0zm1 0zm16 0zm11 0zm1 0zm8 0zm14 0zm5 0zm1 0zm1 0zm7 0zm2 0zm4 0zm26 0zm1 0zm-105 1zm6 0zm1 0zm1 0zm16 0zm4 0zm1 0zm9 0zm7 0zm17 0zm7 0zm7 0zm2 0zm1 0zm23 0zm1 0zm-141 1zm39 0zm3 0zm1 0zm1 0zm2 0zm10 0zm9 0zm12 0zm11 0zm4 0zm1 0zm1 0zm2 0zm6 0zm3 0zm7 0zm1 0zm3 0zm21 0zm1 0zm4 0zm3 0zm-154 1zm18 0zm32 0zm4 0zm4 0zm1 0zm5 0zm3 0zm1 0zm2 0zm4 0zm8 0zm7 0zm3 0zm5 0zm1 0zm17 0zm4 0zm6 0zm22 0zm1 0zm4 0zm1 0zm-148 1zm7 0zm3 0zm5 0zm27 0zm4 0zm4 0zm3 0zm11 0zm3 0zm3 0zm2 0zm2 0zm2 0zm3 0zm12 0zm4 0zm7 0zm9 0zm3 0zm1 0zm2 0zm23 0zm6 0zm1 0zm-151 1zm22 0zm4 0zm21 0zm2 0zm3 0zm5 0zm4 0zm3 0zm4 0zm1 0zm1 0zm3 0zm2 0zm4 0zm7 0zm2 0zm1 0zm10 0zm4 0zm1 0zm9 0zm4 0zm4 0zm31 0zm-137 1zm32 0zm2 0zm4 0zm8 0zm4 0zm9 0zm6 0zm3 0zm2 0zm3 0zm10 0zm5 0zm6 0zm1 0zm4 0zm5 0zm27 0zm2 0zm-137 1zm13 0zm4 0zm19 0zm6 0zm1 0zm1 0zm1 0zm1 0zm2 0zm5 0zm2 0zm2 0zm7 0zm8 0zm2 0zm16 0zm3 0zm1 0zm1 0zm4 0zm41 0zm2 0zm-140 1zm5 0zm30 0zm5 0zm5 0zm5 0zm20 0zm1 0zm11 0zm2 0zm10 0zm4 0zm8 0zm22 0zm-125 1zm9 0zm1 0zm23 0zm2 0zm2 0zm5 0zm1 0zm4 0zm18 0zm10 0zm10 0zm4 0zm2 0zm8 0zm3 0zm32 0zm2 0zm-140 1zm7 0zm5 0zm24 0zm8 0zm1 0zm4 0zm1 0zm1 0zm2 0zm3 0zm2 0zm24 0zm5 0zm14 0zm6 0zm20 0zm6 0zm7 0zm-136 1zm1 0zm3 0zm30 0zm5 0zm1 0zm1 0zm5 0zm3 0zm1 0zm2 0zm1 0zm1 0zm5 0zm1 0zm10 0zm1 0zm5 0zm2 0zm4 0zm2 0zm10 0zm1 0zm2 0zm2 0zm24 0zm3 0zm6 0zm-126 1zm27 0zm7 0zm12 0zm8 0zm6 0zm24 0zm5 0zm1 0zm2 0zm2 0zm4 0zm3 0zm1 0zm9 0zm2 0zm1 0zm1 0zm1 0zm3 0zm9 0zm1 0zm-102 1zm6 0zm2 0zm12 0zm6 0zm11 0zm6 0zm4 0zm6 0zm2 0zm6 0zm1 0zm3 0zm2 0zm6 0zm12 0zm1 0zm1 0zm3 0zm2 0zm6 0zm3 0zm1 0zm-100 1zm11 0zm8 0zm1 0zm5 0zm4 0zm1 0zm1 0zm2 0zm11 0zm1 0zm13 0zm11 0zm3 0zm1 0zm2 0zm6 0zm5 0zm6 0zm3 0zm2 0zm1 0zm1 0zm2 0zm-129 1zm1 0zm25 0zm3 0zm4 0zm10 0zm1 0zm16 0zm2 0zm10 0zm1 0zm7 0zm4 0zm2 0zm2 0zm6 0zm8 0zm1 0zm4 0zm7 0zm4 0zm4 0zm3 0zm2 0zm3 0zm-134 1zm34 0zm3 0zm4 0zm8 0zm3 0zm4 0zm6 0zm9 0zm12 0zm1 0zm3 0zm1 0zm3 0zm4 0zm6 0zm4 0zm5 0zm7 0zm13 0zm1 0zm-102 1zm3 0zm3 0zm2 0zm2 0zm7 0zm2 0zm1 0zm2 0zm5 0zm3 0zm2 0zm3 0zm10 0zm5 0zm3 0zm8 0zm3 0zm4 0zm17 0zm3 0zm2 0zm1 0zm2 0zm4 0zm7 0zm-126 1zm29 0zm2 0zm2 0zm2 0zm5 0zm4 0zm1 0zm1 0zm2 0zm4 0zm4 0zm4 0zm2 0zm8 0zm9 0zm4 0zm2 0zm1 0zm6 0zm1 0zm2 0zm1 0zm5 0zm4 0zm5 0zm1 0zm1 0zm2 0zm6 0zm7 0zm-122 1zm17 0zm3 0zm2 0zm3 0zm5 0zm8 0zm4 0zm1 0zm1 0zm2 0zm6 0zm10 0zm6 0zm4 0zm1 0zm1 0zm20 0zm3 0zm19 0zm2 0zm1 0zm1 0zm1 0zm-115 1zm8 0zm7 0zm5 0zm2 0zm19 0zm1 0zm6 0zm1 0zm4 0zm4 0zm5 0zm10 0zm1 0zm6 0zm1 0zm6 0zm2 0zm1 0zm6 0zm3 0zm1 0zm5 0zm2 0zm2 0zm1 0zm3 0zm1 0zm1 0zm2 0zm-118 1zm11 0zm3 0zm1 0zm4 0zm7 0zm5 0zm1 0zm2 0zm1 0zm5 0zm2 0zm6 0zm1 0zm8 0zm3 0zm4 0zm7 0zm4 0zm6 0zm3 0zm8 0zm3 0zm3 0zm4 0zm5 0zm5 0zm1 0zm-107 1zm5 0zm5 0zm2 0zm2 0zm4 0zm3 0zm1 0zm1 0zm4 0zm1 0zm1 0zm6 0zm4 0zm4 0zm14 0zm6 0zm15 0zm11 0zm1 0zm7 0zm-98 1zm2 0zm2 0zm4 0zm1 0zm11 0zm2 0zm4 0zm1 0zm3 0zm3 0zm9 0zm1 0zm11 0zm3 0zm4 0zm7 0zm1 0zm2 0zm6 0zm14 0zm3 0zm4 0zm1 0zm1 0zm5 0zm-101 1zm6 0zm5 0zm1 0zm3 0zm2 0zm2 0zm1 0zm2 0zm5 0zm1 0zm5 0zm1 0zm3 0zm4 0zm2 0zm2 0zm14 0zm7 0zm5 0zm4 0zm6 0zm2 0zm2 0zm1 0zm15 0zm1 0zm1 0zm5 0zm-104 1zm2 0zm1 0zm2 0zm3 0zm10 0zm1 0zm1 0zm1 0zm13 0zm1 0zm5 0zm5 0zm6 0zm1 0zm22 0zm7 0zm2 0zm7 0zm1 0zm2 0zm4 0zm1 0zm-102 1zm2 0zm6 0zm1 0zm7 0zm1 0zm4 0zm2 0zm3 0zm1 0zm1 0zm3 0zm1 0zm2 0zm1 0zm6 0zm2 0zm10 0zm4 0zm4 0zm9 0zm12 0zm1 0zm4 0zm1 0zm2 0zm2 0zm1 0zm8 0zm5 0zm-110 1zm15 0zm5 0zm7 0zm4 0zm1 0zm5 0zm3 0zm1 0zm2 0zm9 0zm4 0zm1 0zm4 0zm19 0zm1 0zm13 0zm7 0zm2 0zm2 0zm3 0zm3 0zm-96 1zm10 0zm1 0zm7 0zm1 0zm3 0zm3 0zm8 0zm6 0zm8 0zm17 0zm1 0zm1 0zm4 0zm3 0zm12 0zm9 0zm1 0zm1 0zm1 0zm-106 1zm1 0zm2 0zm3 0zm7 0zm3 0zm2 0zm4 0zm1 0zm5 0zm1 0zm16 0zm3 0zm2 0zm1 0zm4 0zm5 0zm11 0zm17 0zm4 0zm1 0zm7 0zm-94 1zm4 0zm1 0zm1 0zm1 0zm7 0zm2 0zm1 0zm26 0zm8 0zm10 0zm6 0zm1 0zm2 0zm4 0zm5 0zm5 0zm1 0zm8 0zm4 0zm1 0zm2 0zm1 0zm-104 1zm2 0zm8 0zm4 0zm11 0zm3 0zm4 0zm16 0zm5 0zm7 0zm3 0zm3 0zm1 0zm6 0zm8 0zm2 0zm2 0zm2 0zm-80 1zm8 0zm3 0zm4 0zm1 0zm1 0zm3 0zm1 0zm5 0zm2 0zm3 0zm9 0zm1 0zm1 0zm11 0zm1 0zm8 0zm9 0zm6 0zm8 0zm7 0zm2 0zm-94 1zm5 0zm1 0zm2 0zm3 0zm3 0zm4 0zm3 0zm1 0zm5 0zm4 0zm2 0zm4 0zm1 0zm3 0zm8 0zm4 0zm17 0zm4 0zm2 0zm5 0zm2 0zm3 0zm4 0zm3 0zm-95 1zm4 0zm9 0zm1 0zm1 0zm3 0zm8 0zm4 0zm2 0zm1 0zm3 0zm3 0zm1 0zm2 0zm4 0zm16 0zm1 0zm3 0zm21 0zm7 0zm-100 1zm8 0zm3 0zm17 0zm1 0zm6 0zm2 0zm1 0zm3 0zm2 0zm5 0zm3 0zm4 0zm2 0zm4 0zm3 0zm2 0zm1 0zm1 0zm2 0zm1 0zm8 0zm3 0zm13 0zm3 0zm1 0zm-90 1zm1 0zm2 0zm1 0zm7 0zm1 0zm15 0zm1 0zm3 0zm9 0zm2 0zm6 0zm1 0zm3 0zm6 0zm4 0zm9 0zm4 0zm1 0zm2 0zm2 0zm1 0zm1 0zm1 0zm5 0zm2 0zm2 0zm-95 1zm3 0zm1 0zm9 0zm1 0zm9 0zm4 0zm1 0zm2 0zm6 0zm1 0zm11 0zm6 0zm2 0zm2 0zm8 0zm1 0zm4 0zm9 0zm1 0zm4 0zm2 0zm2 0zm2 0zm2 0zm1 0zm-84 1zm15 0zm1 0zm1 0zm1 0zm2 0zm1 0zm9 0zm5 0zm4 0zm7 0zm15 0zm12 0zm8 0zm2 0zm1 0zm-87 1zm2 0zm18 0zm6 0zm1 0zm4 0zm2 0zm5 0zm1 0zm8 0zm11 0zm2 0zm3 0zm7 0zm6 0zm1 0zm10 0zm1 0zm-87 1zm1 0zm1 0zm15 0zm6 0zm4 0zm2 0zm14 0zm1 0zm4 0zm1 0zm24 0zm6 0zm9 0zm-69 1zm4 0zm5 0zm1 0zm7 0zm4 0zm3 0zm1 0zm1 0zm1 0zm3 0zm1 0zm3 0zm8 0zm1 0zm3 0zm1 0zm1 0zm3 0zm4 0zm10 0zm2 0zm3 0zm-98 1zm5 0zm27 0zm5 0zm3 0zm3 0zm5 0zm2 0zm1 0zm9 0zm1 0zm6 0zm7 0zm2 0zm5 0zm1 0zm2 0zm16 0zm-69 1zm1 0zm3 0zm16 0zm4 0zm10 0zm1 0zm8 0zm16 0zm-80 1zm1 0zm40 0zm2 0zm2 0zm4 0zm15 0zm6 0zm11 0zm2 0zm2 0zm-88 1zm1 0zm1 0zm42 0zm1 0zm3 0zm5 0zm4 0zm4 0zm5 0zm1 0zm6 0zm14 0zm3 0zm-45 1zm11 0zm3 0zm3 0zm1 0zm2 0zm3 0zm4 0zm4 0zm2 0zm1 0zm1 0zm4 0zm3 0zm2 0zm1 0zm1 0zm-88 1zm38 0zm2 0zm12 0zm5 0zm1 0zm4 0zm3 0zm2 0zm2 0zm1 0zm4 0zm16 0zm-85 1zm36 0zm8 0zm3 0zm2 0zm12 0zm1 0zm3 0zm3 0zm1 0zm1 0zm1 0zm1 0zm1 0zm9 0zm-89 1zm6 0zm28 0zm10 0zm5 0zm27 0zm5 0zm-78 1zm4 0zm4 0zm32 0zm6 0zm1 0zm1 0zm4 0zm15 0zm2 0zm-67 1zm7 0zm1 0zm26 0zm2 0zm4 0zm4 0zm13 0zm9 0zm18 0zm1 0zm1 0zm-85 1zm2 0zm2 0zm22 0zm2 0zm5 0zm4 0zm7 0zm2 0zm2 0zm2 0zm5 0zm1 0zm8 0zm1 0zm6 0zm15 0zm-60 1zm3 0zm9 0zm1 0zm5 0zm16 0zm15 0zm3 0zm8 0zm-86 1zm9 0zm14 0zm8 0zm6 0zm8 0zm1 0zm1 0zm12 0zm2 0zm7 0zm2 0zm3 0zm5 0zm-56 1zm2 0zm1 0zm5 0zm8 0zm4 0zm3 0zm4 0zm4 0zm4 0zm12 0zm7 0zm1 0zm8 0zm-46 1zm5 0zm6 0zm1 0zm-44 1zm3 0zm16 0zm2 0zm5 0zm7 0zm2 0zm11 0zm3 0zm2 0zm2 0zm5 0zm15 0zm5 0zm-78 1zm1 0zm13 0zm1 0zm1 0zm2 0zm2 0zm1 0zm8 0zm4 0zm5 0zm3 0zm6 0zm3 0zm2 0zm4 0zm2 0zm1 0zm3 0zm8 0zm2 0zm-76 1zm3 0zm15 0zm7 0zm1 0zm1 0zm2 0zm4 0zm4 0zm11 0zm4 0zm10 0zm4 0zm3 0zm1 0zm2 0zm1 0zm-52 1zm2 0zm4 0zm3 0zm5 0zm4 0zm5 0zm3 0zm12 0zm4 0zm2 0zm1 0zm5 0zm8 0zm-74 1zm2 0zm16 0zm3 0zm39 0zm6 0zm2 0zm-51 1zm2 0zm3 0zm3 0zm1 0zm3 0zm13 0zm3 0zm5 0zm1 0zm4 0zm4 0zm2 0zm5 0zm3 0zm3 0zm-49 1zm3 0zm1 0zm2 0zm10 0zm2 0zm10 0zm6 0zm1 0zm1 0zm3 0zm6 0zm-68 1zm13 0zm6 0zm4 0zm1 0zm8 0zm15 0zm9 0zm1 0zm1 0zm7 0zm5 0zm3 0zm-60 1zm23 0zm1 0zm3 0zm3 0zm4 0zm5 0zm4 0zm2 0zm9 0zm-64 1zm3 0zm3 0zm2 0zm21 0zm4 0zm5 0zm14 0zm2 0zm4 0zm7 0zm5 0zm-68 1zm2 0zm2 0zm8 0zm11 0zm3 0zm9 0zm4 0zm2 0zm2 0zm7 0zm4 0zm2 0zm2 0zm8 0zm2 0zm1 0zm-74 1zm21 0zm3 0zm2 0zm2 0zm7 0zm18 0zm3 0zm10 0zm3 0zm3 0zm2 0zm2 0zm1 0zm-72 1zm9 0zm2 0zm2 0zm9 0zm1 0zm7 0zm7 0zm9 0zm1 0zm3 0zm6 0zm4 0zm4 0zm2 0zm3 0zm4 0zm-73 1zm4 0zm5 0zm3 0zm2 0zm6 0zm1 0zm3 0zm19 0zm2 0zm8 0zm3 0zm9 0zm5 0zm-65 1zm3 0zm1 0zm6 0zm1 0zm2 0zm10 0zm3 0zm2 0zm14 0zm6 0zm7 0zm5 0zm1 0zm7 0zm-73 1zm1 0zm6 0zm17 0zm22 0zm11 0zm8 0zm5 0zm-70 1zm16 0zm6 0zm1 0zm2 0zm2 0zm11 0zm6 0zm4 0zm3 0zm6 0zm4 0zm2 0zm-45 1zm16 0zm10 0zm15 0zm2 0zm1 0zm6 0zm4 0zm-71 1zm18 0zm4 0zm8 0zm7 0zm7 0zm6 0zm1 0zm16 0zm-28 1zm6 0zm4 0zm1 0zm10 0zm1 0zm-45 1zm1 0zm1 0zm1 0zm1 0zm9 0zm21 0zm1 0zm5 0zm13 0zm-35 1zm7 0zm17 0zm9 0zm4 0zm-54 1zm3 0zm3 0zm5 0zm8 0zm12 0zm1 0zm1 0zm1 0zm8 0zm1 0zm6 0zm-51 1zm2 0zm2 0zm2 0zm5 0zm7 0zm12 0zm6 0zm2 0zm3 0zm2 0zm6 0zm2 0zm-48 1zm1 0zm2 0zm10 0zm8 0zm6 0zm5 0zm7 0zm6 0zm5 0zm-65 1zm1 0zm12 0zm1 0zm3 0zm2 0zm2 0zm10 0zm3 0zm2 0zm4 0zm6 0zm12 0zm-44 1zm1 0zm5 0zm10 0zm2 0zm9 0zm9 0zm12 0zm-58 1zm5 0zm7 0zm11 0zm3 0zm5 0zm1 0zm14 0zm19 0zm-65 1zm2 0zm6 0zm3 0zm2 0zm4 0zm4 0zm2 0zm5 0zm9 0zm14 0zm9 0zm4 0zm-56 1zm12 0zm1 0zm15 0zm12 0zm4 0zm7 0zm-56 1zm2 0zm8 0zm3 0zm2 0zm2 0zm1 0zm9 0zm1 0zm7 0zm8 0zm2 0zm1 0zm1 0zm-39 1zm8 0zm6 0zm2 0zm1 0zm3 0zm2 0zm13 0zm5 0zm1 0zm-47 1zm9 0zm28 0zm13 0zm7 0zm-56 1zm7 0zm2 0zm3 0zm7 0zm12 0zm15 0zm1 0zm9 0zm-50 1zm2 0zm9 0zm11 0zm6 0zm2 0zm3 0zm1 0zm4 0zm10 0zm2 0zm1 0zm1 0zm-58 1zm5 0zm4 0zm1 0zm2 0zm1 0zm6 0zm5 0zm3 0zm2 0zm3 0zm18 0zm3 0zm-53 1zm1 0zm15 0zm4 0zm1 0zm5 0zm6 0zm7 0zm9 0zm7 0zm3 0zm-56 1zm4 0zm1 0zm1 0zm1 0zm4 0zm5 0zm4 0zm3 0zm5 0zm12 0zm1 0zm14 0zm1 0zm-51 1zm11 0zm14 0zm3 0zm-30 1zm10 0zm5 0zm2 0zm9 0zm2 0zm3 0zm8 0zm1 0zm13 0zm-57 1zm3 0zm1 0zm1 0zm6 0zm4 0zm6 0zm5 0zm2 0zm2 0zm3 0zm5 0zm10 0zm-41 1zm2 0zm1 0zm25 0zm7 0zm6 0zm3 0zm-53 1zm6 0zm4 0zm5 0zm4 0zm4 0zm6 0zm3 0zm11 0zm12 0zm3 0zm1 0zm-49 1zm16 0zm1 0zm5 0zm1 0zm3 0zm3 0zm13 0zm3 0zm-19 1zm5 0zm11 0zm5 0zm2 0zm-51 1zm1 0zm12 0zm14 0zm1 0zm7 0zm11 0zm-45 1zm14 0zm5 0zm18 0zm6 0zm8 0zm-51 1zm1 0zm1 0zm8 0zm7 0zm4 0zm1 0zm18 0zm3 0zm1 0zm1 0zm1 0zm1 0zm-46 1zm1 0zm9 0zm13 0zm13 0zm4 0zm1 0zm2 0zm-40 1zm16 0zm1 0zm3 0zm3 0zm4 0zm11 0zm2 0zm3 0zm1 0zm3 0zm-51 1zm6 0zm6 0zm3 0zm7 0zm6 0zm8 0zm10 0zm3 0zm1 0zm-50 1zm7 0zm2 0zm2 0zm7 0zm2 0zm26 0zm-35 1zm1 0zm1 0zm5 0zm1 0zm2 0zm6 0zm5 0zm3 0zm9 0zm1 0zm-42 1zm13 0zm7 0zm11 0zm10 0zm-36 1zm2 0zm5 0zm4 0zm6 0zm1 0zm16 0zm-20 1zm13 0zm4 0zm4 0zm3 0zm-39 1zm1 0zm8 0zm6 0zm1 0zm1 0zm16 0zm1 0zm2 0zm1 0zm2 0zm-29 1zm4 0zm4 0zm11 0zm2 0zm11 0zm-39 1zm5 0zm9 0zm7 0zm2 0zm4 0zm6 0zm7 0zm-31 1zm4 0zm1 0zm10 0zm-30 1zm4 0zm4 0zm6 0zm6 0zm3 0zm5 0zm8 0zm1 0zm5 0zm-38 1zm4 0zm4 0zm6 0zm2 0zm1 0zm3 0zm5 0zm3 0zm12 0zm-43 1zm3 0zm6 0zm5 0zm25 0zm-26 1zm2 0zm4 0zm4 0zm1 0zm-13 1zm4 0zm29 0zm-40 1zm22 0zm9 0zm-25 1zm1 0zm16 0zm2 0zm4 0zm1 0zm-24 1zm1 0zm6 0zm18 0zm11 0zm-17 1zm3 0zm2 0zm3 0zm4 0zm-10 1zm7 0zm-31 1zm1 0zm2 0zm3 0zm6 0zm6 0zm11 0zm7 0zm-33 1zm14 0zm5 0zm10 0zm2 0zm-34 1zm29 0zm-6 1zm6 0zm1 0zm5 0z"/><path class="D" stroke="#000" d="M1455.5 311.5zm-25 20zm17 2zm-16 1zm23 0zm-15 1zm1 0zm2 0zm-20 2zm-2 1zm2 0zm9 0zm-26 1zm30 0zm-20 1zm6 0zm5 0zm-9 1zm-16 1zm8 3zm-22 2zm10 0zm-9 2zm4 0zm-8 2zm-14 1zm2 0zm5 0zm-8 1zm-9 1zm19 0zm-29 1zm23 0zm-13 2zm1 1zm-2 1zm2 0zm-2 1zm-9 1zm-23 1zm27 0zm1 0zm1 0zm-12 1zm-1 1zm-10 1zm-6 2zm12 0zm-36 1zm25 0zm-8 2zm1 2zm-11 2zm-32 2zm12 1zm1 0zm-17 1zm2 1zm6 0zm-36 1zm23 0zm4 1zm8 0zm-25 2zm1 0zm14 0zm2 0zm-38 1zm14 1zm-22 1zm16 1zm-20 1zm-95 1zm100 0zm4 0zm-67 1zm18 0zm33 0zm10 0zm-158 1zm137 0zm-252 1zm208 0zm21 0zm-245 1zm158 0zm23 0zm61 0zm1 0zm27 0zm-263 1zm113 0zm79 0zm33 0zm11 0zm1 0zm10 0zm-262 1zm31 0zm184 0zm9 0zm-233 1zm30 0zm16 0zm73 0zm40 0zm58 0zm17 0zm5 0zm-232 1zm25 0zm17 0zm11 0zm132 0zm38 0zm-191 1zm17 0zm1 0zm19 0zm22 0zm8 0zm8 0zm2 0zm10 0zm6 0zm39 0zm4 0zm7 0zm9 0zm2 0zm9 0zm-129 1zm11 0zm31 0zm11 0zm12 0zm39 0zm13 0zm1 0zm-123 1zm18 0zm1 0zm2 0zm6 0zm7 0zm8 0zm10 0zm18 0zm3 0zm8 0zm5 0zm23 0zm-101 72zm3 0zm4 0zm47 0zm51 1zm16 0zm-150 1zm1 0zm41 0zm217 7zm16 6zm24 12zm15 2zm-8 1zm28 10zm14 4zm2 9zm7 3zm6 0zm4 3zm6 3zm8 10zm16 12zm15 19zm12 19zm11 17zm12 20z"/><path class="d" stroke="#f00" d="M1454.5 336.5zm-8 2zm3 0zm-5 1zm-10 2zm-10 1zm7 0zm-12 1zm7 0zm1 0zm-6 1zm-5 1zm-7 1zm1 0zm4 0zm1 0zm-9 1zm3 0zm-14 2zm5 0zm-3 1zm-7 1zm4 0zm-6 1zm-3 1zm1 0zm-3 1zm1 0zm1 0zm-11 2zm-1 2zm-4 1zm1 0zm-2 1zm-5 2zm-8 1zm6 0zm-13 1zm6 0zm4 0zm1 0zm-8 1zm3 0zm5 1zm-14 1zm14 0zm2 0zm-27 1zm5 0zm1 0zm20 0zm-20 1zm20 0zm1 0zm1 0zm-30 1zm2 0zm4 0zm-8 1zm4 0zm-5 1zm-6 2zm-6 1zm2 0zm-16 2zm5 0zm4 0zm-7 1zm1 0zm2 0zm1 0zm-17 1zm10 0zm4 0zm87 0zm2 0zm1 0zm-94 1zm90 0zm4 0zm-100 1zm98 0zm3 0zm-106 1zm102 0zm4 0zm1 0zm-113 1zm110 0zm2 0zm1 0zm-134 1zm12 0zm3 0zm5 0zm113 0zm-120 1zm2 0zm116 0zm1 0zm-135 1zm7 0zm1 0zm127 0zm1 0zm-139 1zm3 0zm9 0zm125 0zm2 0zm-148 1zm-3 1zm6 0zm143 0zm-149 1zm-8 1zm159 0zm1 0zm-167 1zm6 0zm161 0zm-171 1zm6 0zm164 0zm-198 1zm22 0zm2 0zm3 0zm-23 2zm1 0zm174 0zm-192 1zm6 0zm13 0zm173 0zm-215 1zm23 0zm10 0zm-274 1zm11 0zm6 0zm2 0zm1 0zm218 0zm7 0zm-247 1zm4 0zm1 0zm3 0zm3 0zm233 0zm3 0zm1 0zm9 0zm-230 1zm27 0zm28 0zm32 0zm63 0zm34 0zm5 0zm18 0zm3 0zm1 0zm1 0zm6 0zm4 0zm1 0zm-236 1zm2 0zm4 0zm3 0zm11 0zm5 0zm15 0zm30 0zm77 0zm18 0zm28 0zm4 0zm4 0zm4 0zm4 0zm7 0zm-205 1zm2 0zm4 0zm7 0zm19 0zm17 0zm9 0zm29 0zm17 0zm14 0zm4 0zm1 0zm3 0zm39 0zm10 0zm3 0zm1 0zm5 0zm1 0zm7 0zm-170 1zm1 0zm2 0zm1 0zm1 0zm2 0zm1 0zm4 0zm2 0zm12 0zm2 0zm6 0zm13 0zm7 0zm10 0zm11 0zm7 0zm6 0zm1 0zm18 0zm1 0zm4 0zm1 0zm14 0zm1 0zm2 0zm7 0zm8 0zm3 0zm-67 1zm1 0zm1 0zm1 0zm1 0zm1 0zm1 0zm1 0zm326 2zm-4 1zm4 0zm5 0zm1 0zm6 0zm2 0zm-24 1zm4 0zm3 0zm3 0zm3 0zm1 0zm1 0zm1 0zm1 0zm1 0zm1 0zm4 0zm-27 1zm1 0zm2 0zm1 0zm2 0zm1 0zm1 0zm1 0zm1 0zm2 0zm1 0zm1 0zm6 0zm1 0zm1 0zm2 0zm2 0zm-25 1zm6 0zm4 0zm3 0zm3 0zm4 0zm2 0zm1 0zm1 0zm1 0zm2 0zm-29 1zm3 0zm14 0zm4 0zm1 0zm1 0zm4 0zm-26 1zm4 0zm1 0zm8 0zm6 0zm1 0zm3 0zm1 0zm2 0zm-26 1zm1 0zm3 0zm3 0zm3 0zm2 0zm1 0zm7 0zm2 0zm3 0zm1 0zm-32 1zm3 0zm1 0zm1 0zm1 0zm2 0zm1 0zm1 0zm5 0zm6 0zm41 0zm3 0zm2 0zm-67 1zm1 0zm1 0zm4 0zm1 0zm3 0zm6 0zm9 0zm40 0zm1 0zm1 0zm1 0zm-68 1zm1 0zm1 0zm2 0zm3 0zm2 0zm5 0zm2 0zm4 0zm2 0zm7 0zm3 0zm28 0zm6 0zm-67 1zm1 0zm3 0zm3 0zm3 0zm2 0zm2 0zm1 0zm7 0zm5 0zm2 0zm1 0zm3 0zm28 0zm1 0zm3 0zm-62 1zm1 0zm1 0zm5 0zm1 0zm4 0zm2 0zm6 0zm1 0zm1 0zm4 0zm4 0zm30 0zm1 0zm1 0zm1 0zm3 0zm-68 1zm1 0zm1 0zm1 0zm2 0zm1 0zm3 0zm2 0zm2 0zm1 0zm7 0zm1 0zm3 0zm2 0zm33 0zm1 0zm2 0zm3 0zm-65 1zm5 0zm2 0zm2 0zm1 0zm2 0zm4 0zm3 0zm2 0zm3 0zm3 0zm34 0zm1 0zm-52 1zm4 0zm1 0zm4 0zm4 0zm41 0zm-63 1zm2 0zm3 0zm1 0zm1 0zm2 0zm3 0zm13 0zm-24 1zm1 0zm2 0zm3 0zm9 0zm1 0zm2 0zm4 0zm-21 1zm2 0zm2 0zm7 0zm2 0zm-13 1zm2 0zm7 0zm5 0zm3 0zm-12 1zm1 0zm3 0zm5 0zm-13 1zm7 0zm7 0zm2 0zm-16 1zm5 0zm3 0zm1 0zm2 0zm1 0zm38 0zm1 0zm5 0zm-83 1zm28 0zm5 0zm1 0zm1 0zm9 0zm33 0zm3 0zm2 0zm2 0zm-83 1zm3 0zm1 0zm20 0zm3 0zm3 0zm9 0zm2 0zm2 0zm29 0zm4 0zm9 0zm-87 1zm1 0zm3 0zm1 0zm21 0zm3 0zm1 0zm2 0zm1 0zm1 0zm3 0zm6 0zm3 0zm1 0zm29 0zm2 0zm3 0zm1 0zm1 0zm2 0zm1 0zm-80 1zm20 0zm2 0zm1 0zm1 0zm5 0zm1 0zm2 0zm36 0zm4 0zm1 0zm5 0zm1 0zm1 0zm4 0zm16 0zm5 0zm-109 1zm4 0zm24 0zm2 0zm6 0zm1 0zm3 0zm1 0zm2 0zm31 0zm1 0zm4 0zm1 0zm2 0zm2 0zm1 0zm17 0zm4 0zm4 0zm-109 1zm30 0zm1 0zm1 0zm1 0zm8 0zm1 0zm3 0zm23 0zm2 0zm3 0zm5 0zm8 0zm18 0zm8 0zm1 0zm-87 1zm3 0zm5 0zm37 0zm2 0zm2 0zm2 0zm5 0zm20 0zm1 0zm3 0zm4 0zm1 0zm3 0zm-81 1zm33 0zm3 0zm2 0zm1 0zm1 0zm3 0zm8 0zm2 0zm2 0zm1 0zm16 0zm1 0zm4 0zm4 0zm-82 1zm2 0zm30 0zm2 0zm1 0zm3 0zm2 0zm2 0zm1 0zm2 0zm6 0zm4 0zm1 0zm14 0zm1 0zm4 0zm3 0zm-79 1zm3 0zm1 0zm3 0zm3 0zm1 0zm2 0zm18 0zm3 0zm1 0zm4 0zm2 0zm1 0zm1 0zm1 0zm2 0zm3 0zm3 0zm1 0zm19 0zm8 0zm3 0zm2 0zm-80 1zm2 0zm1 0zm1 0zm3 0zm21 0zm2 0zm5 0zm1 0zm1 0zm9 0zm6 0zm21 0zm4 0zm1 0zm2 0zm-81 1zm4 0zm1 0zm21 0zm2 0zm1 0zm11 0zm3 0zm5 0zm1 0zm5 0zm15 0zm2 0zm4 0zm5 0zm1 0zm-57 1zm3 0zm3 0zm2 0zm1 0zm4 0zm2 0zm2 0zm2 0zm2 0zm2 0zm1 0zm3 0zm3 0zm2 0zm15 0zm1 0zm4 0zm3 0zm-53 1zm2 0zm1 0zm1 0zm3 0zm3 0zm5 0zm1 0zm12 0zm1 0zm1 0zm12 0zm7 0zm1 0zm-52 1zm1 0zm4 0zm2 0zm1 0zm2 0zm1 0zm9 0zm4 0zm3 0zm6 0zm12 0zm1 0zm1 0zm1 0zm-48 1zm9 0zm3 0zm1 0zm1 0zm5 0zm4 0zm1 0zm8 0zm1 0zm13 0zm2 0zm-50 1zm2 0zm2 0zm8 0zm4 0zm1 0zm5 0zm2 0zm7 0zm3 0zm2 0zm1 0zm10 0zm2 0zm-47 1zm2 0zm7 0zm2 0zm9 0zm1 0zm1 0zm2 0zm2 0zm2 0zm3 0zm2 0zm1 0zm11 0zm1 0zm-44 1zm3 0zm3 0zm2 0zm5 0zm1 0zm2 0zm1 0zm3 0zm9 0zm4 0zm1 0zm3 0zm2 0zm1 0zm2 0zm1 0zm1 0zm-86 1zm38 0zm7 0zm1 0zm1 0zm2 0zm1 0zm10 0zm5 0zm2 0zm4 0zm-70 1zm1 0zm41 0zm4 0zm1 0zm7 0zm1 0zm2 0zm4 0zm7 0zm7 0zm-41 1zm1 0zm1 0zm2 0zm6 0zm1 0zm1 0zm5 0zm1 0zm1 0zm1 0zm3 0zm8 0zm6 0zm2 0zm4 0zm3 0zm2 0zm3 0zm-83 1zm30 0zm4 0zm1 0zm6 0zm2 0zm2 0zm1 0zm2 0zm4 0zm3 0zm1 0zm10 0zm5 0zm4 0zm3 0zm3 0zm1 0zm-62 1zm6 0zm5 0zm5 0zm2 0zm2 0zm3 0zm2 0zm5 0zm9 0zm8 0zm1 0zm11 0zm5 0zm-66 1zm5 0zm2 0zm22 0zm1 0zm1 0zm2 0zm6 0zm3 0zm1 0zm2 0zm1 0zm1 0zm2 0zm3 0zm7 0zm2 0zm4 0zm1 0zm-68 1zm4 0zm5 0zm2 0zm8 0zm5 0zm2 0zm1 0zm4 0zm1 0zm1 0zm5 0zm1 0zm1 0zm4 0zm2 0zm2 0zm1 0zm3 0zm1 0zm2 0zm2 0zm2 0zm2 0zm4 0zm2 0zm2 0zm-70 1zm7 0zm3 0zm1 0zm7 0zm1 0zm7 0zm2 0zm3 0zm6 0zm4 0zm10 0zm6 0zm2 0zm6 0zm2 0zm1 0zm1 0zm-67 1zm2 0zm5 0zm1 0zm1 0zm10 0zm1 0zm7 0zm3 0zm2 0zm1 0zm1 0zm2 0zm3 0zm3 0zm2 0zm11 0zm1 0zm4 0zm-76 1zm4 0zm6 0zm2 0zm8 0zm6 0zm7 0zm11 0zm2 0zm1 0zm5 0zm7 0zm4 0zm1 0zm1 0zm7 0zm4 0zm2 0zm4 0zm-84 1zm7 0zm3 0zm4 0zm4 0zm3 0zm4 0zm13 0zm9 0zm3 0zm6 0zm19 0zm1 0zm3 0zm4 0zm2 0zm-86 1zm2 0zm5 0zm9 0zm1 0zm2 0zm4 0zm2 0zm3 0zm10 0zm1 0zm1 0zm14 0zm23 0zm2 0zm6 0zm1 0zm1 0zm-83 1zm1 0zm3 0zm7 0zm6 0zm7 0zm2 0zm4 0zm2 0zm3 0zm4 0zm3 0zm7 0zm1 0zm3 0zm22 0zm2 0zm2 0zm1 0zm1 0zm-507 1zm1 0zm2 0zm419 0zm8 0zm2 0zm1 0zm3 0zm2 0zm1 0zm1 0zm3 0zm3 0zm4 0zm5 0zm3 0zm7 0zm1 0zm2 0zm1 0zm1 0zm7 0zm1 0zm23 0zm5 0zm-509 1zm2 0zm1 0zm2 0zm2 0zm1 0zm1 0zm2 0zm412 0zm2 0zm2 0zm3 0zm1 0zm1 0zm7 0zm4 0zm6 0zm4 0zm2 0zm1 0zm5 0zm5 0zm8 0zm1 0zm2 0zm5 0zm3 0zm25 0zm1 0zm-513 1zm1 0zm5 0zm2 0zm2 0zm1 0zm1 0zm3 0zm410 0zm2 0zm4 0zm1 0zm2 0zm2 0zm1 0zm3 0zm2 0zm6 0zm4 0zm3 0zm5 0zm8 0zm1 0zm4 0zm1 0zm6 0zm3 0zm22 0zm8 0zm-517 1zm1 0zm4 0zm14 0zm107 0zm13 0zm2 0zm2 0zm286 0zm3 0zm2 0zm2 0zm2 0zm4 0zm5 0zm2 0zm1 0zm8 0zm3 0zm8 0zm2 0zm4 0zm5 0zm10 0zm2 0zm18 0zm1 0zm3 0zm2 0zm-518 1zm1 0zm2 0zm3 0zm2 0zm3 0zm1 0zm1 0zm2 0zm1 0zm2 0zm1 0zm9 0zm1 0zm1 0zm1 0zm1 0zm2 0zm2 0zm2 0zm2 0zm10 0zm2 0zm2 0zm74 0zm2 0zm4 0zm3 0zm2 0zm4 0zm1 0zm2 0zm2 0zm1 0zm1 0zm2 0zm1 0zm1 0zm1 0zm1 0zm20 0zm1 0zm2 0zm254 0zm2 0zm5 0zm5 0zm3 0zm7 0zm2 0zm3 0zm3 0zm2 0zm3 0zm1 0zm2 0zm2 0zm1 0zm1 0zm7 0zm1 0zm1 0zm3 0zm1 0zm1 0zm1 0zm1 0zm3 0zm16 0zm3 0zm5 0zm-523 1zm3 0zm6 0zm4 0zm2 0zm1 0zm8 0zm2 0zm1 0zm3 0zm12 0zm3 0zm7 0zm1 0zm4 0zm2 0zm14 0zm1 0zm2 0zm24 0zm27 0zm1 0zm7 0zm1 0zm3 0zm1 0zm3 0zm1 0zm5 0zm2 0zm1 0zm1 0zm3 0zm3 0zm1 0zm18 0zm1 0zm4 0zm3 0zm48 0zm203 0zm1 0zm4 0zm4 0zm8 0zm3 0zm3 0zm3 0zm7 0zm2 0zm8 0zm4 0zm13 0zm3 0zm15 0zm2 0zm2 0zm-522 1zm7 0zm24 0zm8 0zm5 0zm8 0zm1 0zm1 0zm12 0zm2 0zm5 0zm10 0zm16 0zm2 0zm5 0zm26 0zm13 0zm7 0zm3 0zm4 0zm1 0zm4 0zm5 0zm10 0zm4 0zm6 0zm2 0zm1 0zm6 0zm6 0zm2 0zm26 0zm7 0zm209 0zm1 0zm10 0zm2 0zm2 0zm5 0zm4 0zm1 0zm8 0zm1 0zm3 0zm1 0zm4 0zm5 0zm7 0zm13 0zm3 0zm1 0zm3 0zm3 0zm-517 1zm5 0zm9 0zm1 0zm5 0zm1 0zm7 0zm1 0zm4 0zm9 0zm6 0zm3 0zm3 0zm5 0zm5 0zm3 0zm2 0zm3 0zm2 0zm15 0zm1 0zm5 0zm1 0zm3 0zm1 0zm1 0zm3 0zm8 0zm1 0zm2 0zm1 0zm4 0zm9 0zm5 0zm7 0zm4 0zm1 0zm1 0zm7 0zm3 0zm1 0zm4 0zm13 0zm2 0zm12 0zm2 0zm5 0zm5 0zm12 0zm2 0zm2 0zm8 0zm1 0zm2 0zm6 0zm198 0zm4 0zm2 0zm8 0zm3 0zm4 0zm5 0zm4 0zm1 0zm2 0zm1 0zm11 0zm1 0zm6 0zm2 0zm4 0zm4 0zm3 0zm1 0zm14 0zm3 0zm3 0zm-510 1zm4 0zm6 0zm6 0zm3 0zm7 0zm1 0zm1 0zm2 0zm6 0zm6 0zm4 0zm13 0zm1 0zm7 0zm3 0zm3 0zm9 0zm4 0zm2 0zm2 0zm1 0zm3 0zm13 0zm9 0zm3 0zm4 0zm12 0zm12 0zm2 0zm1 0zm1 0zm7 0zm3 0zm1 0zm9 0zm2 0zm5 0zm9 0zm2 0zm6 0zm3 0zm1 0zm4 0zm2 0zm7 0zm5 0zm4 0zm6 0zm2 0zm199 0zm10 0zm1 0zm1 0zm10 0zm2 0zm4 0zm1 0zm2 0zm11 0zm6 0zm3 0zm8 0zm7 0zm2 0zm4 0zm4 0zm2 0zm3 0zm-522 1zm8 0zm14 0zm30 0zm6 0zm1 0zm3 0zm11 0zm5 0zm1 0zm12 0zm4 0zm1 0zm2 0zm1 0zm4 0zm1 0zm9 0zm3 0zm4 0zm2 0zm3 0zm10 0zm16 0zm2 0zm1 0zm8 0zm4 0zm6 0zm4 0zm10 0zm3 0zm9 0zm7 0zm1 0zm9 0zm3 0zm7 0zm3 0zm1 0zm3 0zm6 0zm3 0zm5 0zm194 0zm2 0zm6 0zm16 0zm5 0zm3 0zm6 0zm8 0zm2 0zm3 0zm15 0zm1 0zm3 0zm2 0zm2 0zm3 0zm2 0zm-509 1zm11 0zm14 0zm5 0zm4 0zm7 0zm3 0zm7 0zm21 0zm20 0zm12 0zm8 0zm4 0zm20 0zm20 0zm1 0zm10 0zm9 0zm4 0zm13 0zm1 0zm8 0zm1 0zm3 0zm1 0zm4 0zm4 0zm2 0zm2 0zm2 0zm11 0zm9 0zm1 0zm5 0zm1 0zm1 0zm3 0zm21 0zm159 0zm2 0zm4 0zm1 0zm2 0zm4 0zm3 0zm3 0zm5 0zm1 0zm4 0zm8 0zm3 0zm3 0zm21 0zm4 0zm-487 1zm1 0zm1 0zm5 0zm21 0zm7 0zm3 0zm59 0zm3 0zm5 0zm4 0zm22 0zm21 0zm19 0zm7 0zm4 0zm19 0zm1 0zm3 0zm18 0zm1 0zm2 0zm2 0zm4 0zm3 0zm1 0zm9 0zm3 0zm2 0zm2 0zm3 0zm6 0zm159 0zm15 0zm13 0zm5 0zm4 0zm2 0zm2 0zm1 0zm23 0zm2 0zm3 0zm-489 1zm36 0zm6 0zm5 0zm38 0zm20 0zm20 0zm31 0zm61 0zm1 0zm11 0zm4 0zm10 0zm2 0zm1 0zm5 0zm1 0zm1 0zm7 0zm3 0zm3 0zm151 0zm7 0zm2 0zm2 0zm2 0zm1 0zm2 0zm1 0zm6 0zm2 0zm3 0zm2 0zm5 0zm7 0zm1 0zm1 0zm25 0zm8 0zm5 0zm1 0zm-297 1zm27 0zm12 0zm1 0zm1 0zm1 0zm4 0zm9 0zm4 0zm2 0zm1 0zm2 0zm146 0zm2 0zm6 0zm1 0zm1 0zm2 0zm13 0zm2 0zm11 0zm3 0zm1 0zm1 0zm3 0zm1 0zm23 0zm1 0zm7 0zm5 0zm-279 1zm8 0zm19 0zm1 0zm3 0zm8 0zm1 0zm2 0zm2 0zm6 0zm146 0zm1 0zm2 0zm2 0zm1 0zm2 0zm1 0zm2 0zm1 0zm5 0zm2 0zm2 0zm1 0zm3 0zm2 0zm1 0zm14 0zm5 0zm21 0zm3 0zm5 0zm1 0zm14 0zm-261 1zm16 0zm20 0zm6 0zm125 0zm1 0zm3 0zm7 0zm7 0zm6 0zm4 0zm3 0zm5 0zm1 0zm8 0zm3 0zm1 0zm2 0zm22 0zm1 0zm1 0zm3 0zm-244 1zm12 0zm5 0zm4 0zm11 0zm1 0zm4 0zm1 0zm4 0zm123 0zm1 0zm7 0zm7 0zm6 0zm2 0zm2 0zm8 0zm8 0zm2 0zm4 0zm28 0zm3 0zm15 0zm-239 1zm2 0zm20 0zm8 0zm113 0zm1 0zm2 0zm6 0zm1 0zm4 0zm1 0zm1 0zm1 0zm5 0zm4 0zm6 0zm3 0zm1 0zm1 0zm5 0zm3 0zm3 0zm3 0zm26 0zm1 0zm23 0zm-238 1zm7 0zm10 0zm4 0zm1 0zm2 0zm5 0zm3 0zm2 0zm102 0zm1 0zm2 0zm1 0zm11 0zm1 0zm1 0zm2 0zm2 0zm6 0zm4 0zm1 0zm4 0zm1 0zm2 0zm8 0zm1 0zm3 0zm6 0zm21 0zm2 0zm16 0zm8 0zm-241 1zm12 0zm10 0zm7 0zm96 0zm1 0zm3 0zm1 0zm6 0zm2 0zm1 0zm5 0zm1 0zm1 0zm1 0zm3 0zm4 0zm1 0zm4 0zm2 0zm9 0zm3 0zm4 0zm11 0zm3 0zm23 0zm18 0zm2 0zm3 0zm1 0zm3 0zm-208 1zm3 0zm1 0zm88 0zm2 0zm1 0zm4 0zm3 0zm5 0zm4 0zm2 0zm1 0zm3 0zm8 0zm4 0zm3 0zm3 0zm2 0zm8 0zm1 0zm3 0zm4 0zm33 0zm13 0zm1 0zm4 0zm1 0zm1 0zm-207 1zm5 0zm2 0zm85 0zm1 0zm2 0zm3 0zm1 0zm1 0zm2 0zm5 0zm2 0zm3 0zm7 0zm4 0zm1 0zm2 0zm9 0zm11 0zm3 0zm10 0zm2 0zm21 0zm2 0zm3 0zm14 0zm2 0zm-196 1zm1 0zm2 0zm80 0zm1 0zm6 0zm8 0zm2 0zm1 0zm1 0zm1 0zm4 0zm5 0zm2 0zm2 0zm4 0zm3 0zm3 0zm5 0zm2 0zm1 0zm1 0zm4 0zm1 0zm11 0zm4 0zm40 0zm6 0zm-216 1zm12 0zm2 0zm4 0zm80 0zm2 0zm6 0zm3 0zm1 0zm2 0zm8 0zm3 0zm12 0zm1 0zm5 0zm13 0zm5 0zm1 0zm9 0zm21 0zm4 0zm13 0zm2 0zm3 0zm1 0zm-202 1zm9 0zm78 0zm1 0zm5 0zm1 0zm1 0zm6 0zm2 0zm17 0zm10 0zm1 0zm3 0zm2 0zm5 0zm4 0zm3 0zm6 0zm5 0zm39 0zm2 0zm1 0zm-194 1zm79 0zm2 0zm1 0zm2 0zm1 0zm7 0zm1 0zm2 0zm2 0zm1 0zm5 0zm4 0zm2 0zm3 0zm1 0zm4 0zm1 0zm6 0zm2 0zm1 0zm5 0zm3 0zm6 0zm7 0zm3 0zm4 0zm13 0zm5 0zm2 0zm14 0zm2 0zm3 0zm-199 1zm1 0zm1 0zm1 0zm4 0zm78 0zm3 0zm2 0zm3 0zm2 0zm1 0zm1 0zm11 0zm2 0zm2 0zm1 0zm1 0zm3 0zm6 0zm1 0zm1 0zm3 0zm4 0zm1 0zm2 0zm1 0zm5 0zm1 0zm1 0zm6 0zm2 0zm2 0zm1 0zm3 0zm1 0zm2 0zm4 0zm1 0zm1 0zm3 0zm5 0zm1 0zm1 0zm2 0zm1 0zm17 0zm1 0zm1 0zm1 0zm-194 1zm4 0zm78 0zm2 0zm1 0zm3 0zm1 0zm4 0zm3 0zm3 0zm1 0zm2 0zm1 0zm5 0zm2 0zm6 0zm2 0zm1 0zm1 0zm10 0zm3 0zm2 0zm2 0zm1 0zm3 0zm4 0zm1 0zm2 0zm2 0zm1 0zm7 0zm1 0zm4 0zm5 0zm1 0zm5 0zm1 0zm17 0zm-195 1zm4 0zm86 0zm1 0zm4 0zm3 0zm4 0zm8 0zm2 0zm3 0zm3 0zm1 0zm2 0zm10 0zm3 0zm1 0zm8 0zm6 0zm4 0zm4 0zm6 0zm10 0zm3 0zm1 0zm1 0zm11 0zm1 0zm2 0zm-102 1zm5 0zm7 0zm3 0zm3 0zm2 0zm2 0zm2 0zm8 0zm1 0zm5 0zm2 0zm11 0zm1 0zm4 0zm3 0zm1 0zm1 0zm1 0zm2 0zm1 0zm3 0zm2 0zm3 0zm2 0zm3 0zm2 0zm1 0zm3 0zm1 0zm2 0zm12 0zm1 0zm1 0zm4 0zm1 0zm-188 1zm6 0zm4 0zm74 0zm13 0zm5 0zm2 0zm1 0zm1 0zm3 0zm3 0zm4 0zm1 0zm10 0zm4 0zm4 0zm1 0zm1 0zm6 0zm5 0zm2 0zm2 0zm2 0zm12 0zm1 0zm16 0zm3 0zm2 0zm1 0zm4 0zm-191 1zm1 0zm3 0zm82 0zm4 0zm1 0zm3 0zm4 0zm6 0zm3 0zm1 0zm3 0zm3 0zm4 0zm3 0zm9 0zm3 0zm3 0zm15 0zm2 0zm1 0zm10 0zm1 0zm3 0zm1 0zm21 0zm2 0zm-191 1zm4 0zm4 0zm1 0zm1 0zm2 0zm71 0zm2 0zm18 0zm16 0zm4 0zm5 0zm1 0zm8 0zm1 0zm2 0zm2 0zm4 0zm3 0zm6 0zm2 0zm1 0zm6 0zm13 0zm2 0zm1 0zm9 0zm2 0zm1 0zm-177 1zm67 0zm5 0zm5 0zm2 0zm1 0zm5 0zm1 0zm4 0zm3 0zm3 0zm11 0zm6 0zm6 0zm1 0zm2 0zm5 0zm1 0zm1 0zm3 0zm10 0zm6 0zm15 0zm2 0zm6 0zm3 0zm3 0zm-110 1zm2 0zm3 0zm15 0zm1 0zm4 0zm8 0zm8 0zm1 0zm2 0zm1 0zm1 0zm3 0zm9 0zm10 0zm3 0zm2 0zm2 0zm1 0zm2 0zm18 0zm10 0zm1 0zm3 0zm-177 1zm2 0zm1 0zm64 0zm4 0zm10 0zm4 0zm1 0zm3 0zm7 0zm1 0zm4 0zm4 0zm1 0zm11 0zm3 0zm2 0zm4 0zm2 0zm7 0zm6 0zm23 0zm3 0zm1 0zm5 0zm-105 1zm2 0zm2 0zm3 0zm5 0zm2 0zm5 0zm3 0zm21 0zm4 0zm1 0zm6 0zm3 0zm3 0zm3 0zm6 0zm4 0zm2 0zm1 0zm2 0zm2 0zm17 0zm-172 1zm16 0zm58 0zm5 0zm8 0zm9 0zm3 0zm2 0zm1 0zm11 0zm7 0zm14 0zm4 0zm7 0zm1 0zm1 0zm5 0zm3 0zm2 0zm22 0zm1 0zm3 0zm-168 1zm3 0zm61 0zm1 0zm3 0zm13 0zm1 0zm8 0zm7 0zm6 0zm5 0zm6 0zm1 0zm17 0zm29 0zm3 0zm1 0zm1 0zm1 0zm-161 1zm55 0zm1 0zm1 0zm9 0zm12 0zm5 0zm1 0zm6 0zm4 0zm7 0zm1 0zm5 0zm6 0zm2 0zm22 0zm2 0zm14 0zm6 0zm-168 1zm5 0zm1 0zm3 0zm1 0zm1 0zm60 0zm2 0zm2 0zm11 0zm2 0zm3 0zm3 0zm14 0zm4 0zm2 0zm1 0zm1 0zm4 0zm13 0zm1 0zm1 0zm3 0zm2 0zm2 0zm1 0zm1 0zm2 0zm21 0zm4 0zm-167 1zm1 0zm59 0zm2 0zm4 0zm25 0zm7 0zm1 0zm1 0zm1 0zm1 0zm16 0zm10 0zm1 0zm5 0zm2 0zm4 0zm3 0zm20 0zm4 0zm-157 1zm50 0zm2 0zm30 0zm3 0zm4 0zm5 0zm4 0zm1 0zm1 0zm1 0zm4 0zm2 0zm3 0zm17 0zm5 0zm17 0zm6 0zm3 0zm-108 1zm2 0zm5 0zm2 0zm14 0zm1 0zm8 0zm1 0zm4 0zm12 0zm5 0zm1 0zm8 0zm2 0zm3 0zm9 0zm1 0zm2 0zm2 0zm-134 1zm56 0zm4 0zm2 0zm12 0zm1 0zm2 0zm1 0zm8 0zm3 0zm22 0zm8 0zm6 0zm1 0zm1 0zm5 0zm21 0zm5 0zm-160 1zm6 0zm53 0zm2 0zm3 0zm12 0zm23 0zm5 0zm1 0zm3 0zm1 0zm1 0zm9 0zm1 0zm1 0zm3 0zm1 0zm1 0zm3 0zm5 0zm20 0zm6 0zm-157 1zm14 0zm2 0zm37 0zm5 0zm12 0zm2 0zm4 0zm5 0zm3 0zm21 0zm7 0zm41 0zm3 0zm2 0zm-151 1zm11 0zm2 0zm1 0zm31 0zm7 0zm1 0zm3 0zm1 0zm1 0zm8 0zm7 0zm4 0zm6 0zm9 0zm10 0zm4 0zm3 0zm1 0zm2 0zm5 0zm2 0zm26 0zm5 0zm1 0zm-157 1zm9 0zm4 0zm1 0zm1 0zm10 0zm3 0zm25 0zm1 0zm7 0zm8 0zm3 0zm8 0zm10 0zm1 0zm6 0zm1 0zm4 0zm3 0zm2 0zm10 0zm1 0zm1 0zm4 0zm3 0zm29 0zm3 0zm-148 1zm4 0zm1 0zm3 0zm2 0zm5 0zm2 0zm2 0zm23 0zm1 0zm4 0zm2 0zm1 0zm1 0zm2 0zm1 0zm2 0zm3 0zm5 0zm6 0zm4 0zm1 0zm5 0zm2 0zm10 0zm3 0zm1 0zm2 0zm1 0zm2 0zm1 0zm7 0zm37 0zm-153 1zm10 0zm2 0zm2 0zm3 0zm2 0zm2 0zm2 0zm5 0zm1 0zm26 0zm2 0zm1 0zm7 0zm4 0zm10 0zm2 0zm2 0zm1 0zm2 0zm13 0zm6 0zm1 0zm5 0zm1 0zm12 0zm21 0zm2 0zm6 0zm2 0zm-149 1zm1 0zm13 0zm1 0zm1 0zm2 0zm1 0zm3 0zm1 0zm1 0zm19 0zm8 0zm1 0zm2 0zm9 0zm3 0zm1 0zm5 0zm1 0zm3 0zm5 0zm1 0zm5 0zm10 0zm5 0zm1 0zm5 0zm1 0zm1 0zm1 0zm27 0zm1 0zm2 0zm1 0zm-136 1zm6 0zm2 0zm1 0zm1 0zm30 0zm1 0zm7 0zm1 0zm1 0zm2 0zm9 0zm1 0zm1 0zm4 0zm5 0zm25 0zm2 0zm5 0zm3 0zm2 0zm2 0zm28 0zm-142 1zm5 0zm9 0zm3 0zm28 0zm1 0zm4 0zm1 0zm9 0zm1 0zm3 0zm1 0zm9 0zm11 0zm2 0zm3 0zm2 0zm4 0zm3 0zm1 0zm1 0zm2 0zm4 0zm4 0zm29 0zm-136 1zm1 0zm9 0zm4 0zm24 0zm2 0zm5 0zm2 0zm5 0zm3 0zm2 0zm3 0zm1 0zm21 0zm1 0zm4 0zm8 0zm6 0zm1 0zm2 0zm1 0zm4 0zm1 0zm1 0zm21 0zm3 0zm3 0zm1 0zm-140 1zm7 0zm1 0zm1 0zm6 0zm3 0zm1 0zm19 0zm2 0zm3 0zm1 0zm2 0zm1 0zm5 0zm5 0zm8 0zm7 0zm1 0zm3 0zm1 0zm14 0zm4 0zm4 0zm4 0zm1 0zm2 0zm2 0zm19 0zm4 0zm5 0zm4 0zm2 0zm-136 1zm2 0zm2 0zm3 0zm27 0zm5 0zm1 0zm6 0zm4 0zm2 0zm4 0zm4 0zm4 0zm3 0zm1 0zm7 0zm3 0zm1 0zm6 0zm5 0zm14 0zm12 0zm7 0zm5 0zm4 0zm5 0zm-143 1zm4 0zm11 0zm26 0zm5 0zm1 0zm1 0zm1 0zm4 0zm9 0zm1 0zm1 0zm1 0zm13 0zm1 0zm4 0zm11 0zm4 0zm1 0zm7 0zm1 0zm1 0zm1 0zm1 0zm7 0zm2 0zm3 0zm6 0zm3 0zm1 0zm2 0zm5 0zm1 0zm-141 1zm17 0zm22 0zm1 0zm1 0zm2 0zm2 0zm4 0zm5 0zm5 0zm7 0zm3 0zm2 0zm2 0zm1 0zm1 0zm8 0zm4 0zm6 0zm8 0zm3 0zm8 0zm1 0zm7 0zm2 0zm9 0zm1 0zm1 0zm3 0zm1 0zm1 0zm-127 1zm1 0zm4 0zm2 0zm21 0zm4 0zm7 0zm2 0zm9 0zm5 0zm4 0zm2 0zm5 0zm1 0zm4 0zm5 0zm2 0zm9 0zm1 0zm6 0zm3 0zm1 0zm1 0zm1 0zm2 0zm3 0zm1 0zm5 0zm9 0zm2 0zm10 0zm-131 1zm1 0zm28 0zm6 0zm1 0zm2 0zm4 0zm2 0zm15 0zm3 0zm4 0zm7 0zm1 0zm9 0zm1 0zm1 0zm2 0zm1 0zm6 0zm1 0zm2 0zm6 0zm5 0zm9 0zm2 0zm2 0zm11 0zm-122 1zm2 0zm15 0zm4 0zm1 0zm8 0zm5 0zm1 0zm1 0zm1 0zm3 0zm4 0zm15 0zm5 0zm1 0zm4 0zm7 0zm1 0zm7 0zm12 0zm4 0zm3 0zm3 0zm4 0zm3 0zm1 0zm3 0zm-120 1zm21 0zm1 0zm4 0zm3 0zm3 0zm5 0zm2 0zm3 0zm9 0zm2 0zm1 0zm4 0zm19 0zm7 0zm6 0zm1 0zm3 0zm1 0zm6 0zm4 0zm2 0zm5 0zm1 0zm4 0zm3 0zm-117 1zm2 0zm3 0zm1 0zm9 0zm2 0zm2 0zm3 0zm1 0zm1 0zm3 0zm6 0zm2 0zm10 0zm3 0zm4 0zm6 0zm4 0zm2 0zm5 0zm15 0zm5 0zm8 0zm8 0zm5 0zm1 0zm2 0zm4 0zm-111 1zm2 0zm1 0zm3 0zm2 0zm7 0zm1 0zm1 0zm2 0zm10 0zm4 0zm9 0zm3 0zm6 0zm4 0zm2 0zm6 0zm3 0zm4 0zm2 0zm3 0zm10 0zm2 0zm3 0zm1 0zm5 0zm15 0zm-119 1zm3 0zm4 0zm4 0zm5 0zm3 0zm2 0zm1 0zm1 0zm2 0zm6 0zm3 0zm4 0zm6 0zm2 0zm3 0zm2 0zm3 0zm1 0zm3 0zm1 0zm2 0zm4 0zm2 0zm6 0zm11 0zm2 0zm3 0zm3 0zm1 0zm2 0zm6 0zm1 0zm4 0zm2 0zm3 0zm2 0zm3 0zm5 0zm-117 1zm6 0zm7 0zm2 0zm3 0zm2 0zm1 0zm5 0zm1 0zm2 0zm1 0zm1 0zm4 0zm6 0zm2 0zm3 0zm26 0zm10 0zm1 0zm1 0zm3 0zm8 0zm8 0zm2 0zm3 0zm2 0zm4 0zm4 0zm-119 1zm7 0zm6 0zm3 0zm1 0zm1 0zm1 0zm7 0zm4 0zm4 0zm3 0zm16 0zm2 0zm2 0zm14 0zm5 0zm4 0zm1 0zm4 0zm15 0zm1 0zm3 0zm5 0zm2 0zm7 0zm-105 1zm4 0zm3 0zm3 0zm2 0zm2 0zm1 0zm1 0zm9 0zm1 0zm5 0zm2 0zm6 0zm4 0zm5 0zm2 0zm3 0zm3 0zm3 0zm2 0zm26 0zm2 0zm6 0zm1 0zm4 0zm4 0zm1 0zm2 0zm-112 1zm3 0zm1 0zm1 0zm4 0zm6 0zm3 0zm3 0zm4 0zm3 0zm2 0zm7 0zm3 0zm21 0zm16 0zm5 0zm1 0zm13 0zm3 0zm6 0zm3 0zm3 0zm-113 1zm1 0zm3 0zm2 0zm5 0zm1 0zm2 0zm7 0zm5 0zm5 0zm10 0zm13 0zm14 0zm1 0zm15 0zm2 0zm3 0zm2 0zm2 0zm3 0zm3 0zm3 0zm11 0zm-102 1zm1 0zm1 0zm17 0zm2 0zm1 0zm10 0zm6 0zm3 0zm4 0zm3 0zm8 0zm3 0zm1 0zm6 0zm4 0zm9 0zm8 0zm5 0zm4 0zm2 0zm4 0zm-100 1zm1 0zm4 0zm5 0zm2 0zm5 0zm4 0zm6 0zm2 0zm3 0zm3 0zm14 0zm4 0zm1 0zm8 0zm3 0zm9 0zm1 0zm4 0zm4 0zm3 0zm3 0zm5 0zm2 0zm3 0zm-109 1zm4 0zm1 0zm3 0zm4 0zm1 0zm1 0zm1 0zm2 0zm8 0zm1 0zm3 0zm2 0zm2 0zm6 0zm5 0zm4 0zm2 0zm4 0zm2 0zm7 0zm1 0zm8 0zm4 0zm2 0zm3 0zm4 0zm2 0zm2 0zm4 0zm1 0zm2 0zm2 0zm1 0zm6 0zm5 0zm-109 1zm4 0zm8 0zm5 0zm6 0zm10 0zm6 0zm19 0zm2 0zm7 0zm1 0zm5 0zm17 0zm13 0zm3 0zm-99 1zm2 0zm6 0zm2 0zm2 0zm5 0zm2 0zm4 0zm6 0zm1 0zm3 0zm2 0zm4 0zm5 0zm3 0zm1 0zm1 0zm1 0zm13 0zm5 0zm2 0zm1 0zm2 0zm1 0zm2 0zm3 0zm2 0zm2 0zm2 0zm1 0zm2 0zm8 0zm6 0zm-97 1zm2 0zm2 0zm2 0zm4 0zm2 0zm8 0zm1 0zm1 0zm3 0zm8 0zm6 0zm3 0zm3 0zm5 0zm9 0zm2 0zm6 0zm1 0zm3 0zm1 0zm2 0zm4 0zm5 0zm-91 1zm6 0zm1 0zm4 0zm6 0zm2 0zm1 0zm4 0zm3 0zm1 0zm11 0zm4 0zm1 0zm4 0zm3 0zm9 0zm5 0zm2 0zm7 0zm5 0zm1 0zm5 0zm2 0zm2 0zm2 0zm8 0zm-99 1zm5 0zm1 0zm2 0zm4 0zm1 0zm3 0zm19 0zm2 0zm5 0zm5 0zm3 0zm2 0zm8 0zm2 0zm7 0zm10 0zm7 0zm4 0zm-89 1zm22 0zm8 0zm1 0zm1 0zm1 0zm5 0zm11 0zm1 0zm7 0zm1 0zm4 0zm3 0zm8 0zm14 0zm7 0zm5 0zm1 0zm1 0zm-97 1zm6 0zm7 0zm1 0zm1 0zm1 0zm1 0zm7 0zm3 0zm2 0zm22 0zm2 0zm4 0zm4 0zm9 0zm4 0zm1 0zm1 0zm2 0zm2 0zm10 0zm2 0zm-87 1zm4 0zm3 0zm3 0zm1 0zm19 0zm2 0zm2 0zm3 0zm2 0zm16 0zm3 0zm6 0zm17 0zm3 0zm1 0zm4 0zm2 0zm-96 1zm1 0zm2 0zm2 0zm4 0zm3 0zm1 0zm14 0zm2 0zm13 0zm4 0zm3 0zm23 0zm1 0zm3 0zm2 0zm1 0zm1 0zm12 0zm2 0zm-93 1zm6 0zm39 0zm7 0zm10 0zm1 0zm3 0zm4 0zm3 0zm1 0zm3 0zm2 0zm4 0zm3 0zm2 0zm1 0zm4 0zm-90 1zm1 0zm4 0zm1 0zm18 0zm6 0zm1 0zm5 0zm1 0zm2 0zm3 0zm4 0zm2 0zm3 0zm3 0zm15 0zm23 0zm-86 1zm1 0zm18 0zm1 0zm1 0zm1 0zm6 0zm6 0zm2 0zm15 0zm6 0zm10 0zm12 0zm2 0zm6 0zm1 0zm2 0zm-97 1zm56 0zm15 0zm4 0zm3 0zm3 0zm1 0zm15 0zm-96 1zm1 0zm1 0zm2 0zm4 0zm21 0zm4 0zm2 0zm9 0zm2 0zm17 0zm4 0zm2 0zm2 0zm10 0zm7 0zm-87 1zm3 0zm1 0zm3 0zm41 0zm2 0zm5 0zm3 0zm1 0zm1 0zm4 0zm1 0zm1 0zm3 0zm9 0zm5 0zm-79 1zm2 0zm38 0zm4 0zm2 0zm2 0zm3 0zm3 0zm3 0zm3 0zm9 0zm4 0zm3 0zm2 0zm5 0zm2 0zm7 0zm-88 1zm39 0zm1 0zm1 0zm9 0zm1 0zm3 0zm5 0zm1 0zm3 0zm5 0zm7 0zm5 0zm5 0zm-90 1zm1 0zm2 0zm2 0zm2 0zm32 0zm10 0zm2 0zm4 0zm10 0zm3 0zm7 0zm10 0zm-85 1zm37 0zm1 0zm10 0zm1 0zm15 0zm6 0zm5 0zm18 0zm-90 1zm1 0zm48 0zm2 0zm10 0zm5 0zm6 0zm2 0zm15 0zm-89 1zm7 0zm3 0zm1 0zm32 0zm8 0zm2 0zm3 0zm4 0zm1 0zm1 0zm2 0zm2 0zm10 0zm4 0zm8 0zm2 0zm-88 1zm1 0zm6 0zm3 0zm20 0zm17 0zm2 0zm5 0zm7 0zm3 0zm9 0zm1 0zm7 0zm4 0zm1 0zm-88 1zm4 0zm5 0zm2 0zm22 0zm15 0zm3 0zm11 0zm3 0zm3 0zm1 0zm8 0zm2 0zm-72 1zm4 0zm1 0zm1 0zm15 0zm3 0zm5 0zm3 0zm3 0zm6 0zm7 0zm2 0zm1 0zm6 0zm1 0zm1 0zm2 0zm9 0zm3 0zm6 0zm2 0zm1 0zm-89 1zm9 0zm18 0zm8 0zm9 0zm14 0zm7 0zm6 0zm5 0zm9 0zm3 0zm-84 1zm1 0zm6 0zm1 0zm17 0zm7 0zm7 0zm4 0zm8 0zm2 0zm1 0zm5 0zm3 0zm1 0zm3 0zm1 0zm14 0zm-84 1zm2 0zm1 0zm3 0zm2 0zm1 0zm2 0zm1 0zm1 0zm18 0zm7 0zm14 0zm1 0zm14 0zm3 0zm17 0zm-87 1zm7 0zm1 0zm2 0zm3 0zm16 0zm3 0zm2 0zm1 0zm13 0zm8 0zm1 0zm1 0zm1 0zm2 0zm1 0zm15 0zm11 0zm-81 1zm3 0zm1 0zm1 0zm12 0zm6 0zm12 0zm7 0zm12 0zm1 0zm2 0zm6 0zm5 0zm10 0zm-78 1zm3 0zm14 0zm5 0zm4 0zm1 0zm3 0zm7 0zm6 0zm1 0zm2 0zm5 0zm1 0zm7 0zm7 0zm5 0zm5 0zm-70 1zm10 0zm4 0zm3 0zm5 0zm6 0zm9 0zm3 0zm6 0zm4 0zm3 0zm3 0zm2 0zm4 0zm2 0zm4 0zm4 0zm-78 1zm16 0zm1 0zm16 0zm12 0zm2 0zm5 0zm3 0zm1 0zm1 0zm4 0zm2 0zm8 0zm6 0zm-75 1zm1 0zm1 0zm1 0zm1 0zm12 0zm4 0zm6 0zm10 0zm2 0zm7 0zm3 0zm3 0zm3 0zm3 0zm2 0zm6 0zm1 0zm8 0zm-57 1zm4 0zm1 0zm2 0zm3 0zm14 0zm14 0zm2 0zm1 0zm3 0zm6 0zm1 0zm1 0zm2 0zm3 0zm-55 1zm2 0zm3 0zm1 0zm1 0zm3 0zm9 0zm3 0zm7 0zm1 0zm1 0zm9 0zm5 0zm6 0zm4 0zm-68 1zm6 0zm3 0zm1 0zm1 0zm1 0zm3 0zm12 0zm2 0zm8 0zm8 0zm2 0zm1 0zm5 0zm5 0zm5 0zm-69 1zm3 0zm1 0zm2 0zm2 0zm3 0zm3 0zm2 0zm10 0zm1 0zm6 0zm5 0zm9 0zm4 0zm12 0zm7 0zm1 0zm-64 1zm3 0zm1 0zm1 0zm2 0zm3 0zm1 0zm4 0zm5 0zm5 0zm9 0zm2 0zm1 0zm6 0zm2 0zm1 0zm3 0zm1 0zm4 0zm2 0zm1 0zm7 0zm-70 1zm1 0zm4 0zm3 0zm4 0zm3 0zm9 0zm1 0zm3 0zm2 0zm10 0zm5 0zm4 0zm3 0zm16 0zm2 0zm3 0zm6 0zm-73 1zm9 0zm1 0zm7 0zm2 0zm1 0zm14 0zm4 0zm3 0zm4 0zm3 0zm8 0zm5 0zm3 0zm4 0zm2 0zm-75 1zm3 0zm3 0zm9 0zm1 0zm4 0zm2 0zm4 0zm12 0zm14 0zm3 0zm11 0zm8 0zm1 0zm-69 1zm4 0zm9 0zm9 0zm1 0zm7 0zm6 0zm10 0zm8 0zm5 0zm2 0zm-63 1zm7 0zm2 0zm1 0zm2 0zm6 0zm3 0zm2 0zm8 0zm6 0zm4 0zm8 0zm2 0zm3 0zm2 0zm-57 1zm21 0zm10 0zm16 0zm2 0zm12 0zm4 0zm-61 1zm14 0zm1 0zm10 0zm3 0zm6 0zm4 0zm2 0zm1 0zm23 0zm3 0zm3 0zm-56 1zm5 0zm3 0zm4 0zm3 0zm3 0zm2 0zm2 0zm1 0zm4 0zm6 0zm7 0zm6 0zm3 0zm1 0zm-66 1zm2 0zm1 0zm14 0zm1 0zm3 0zm1 0zm2 0zm4 0zm3 0zm2 0zm2 0zm11 0zm1 0zm15 0zm-38 1zm1 0zm22 0zm1 0zm7 0zm1 0zm6 0zm2 0zm3 0zm1 0zm2 0zm1 0zm1 0zm1 0zm-53 1zm6 0zm2 0zm6 0zm4 0zm6 0zm2 0zm1 0zm1 0zm8 0zm3 0zm4 0zm4 0zm-64 1zm14 0zm1 0zm16 0zm3 0zm13 0zm1 0zm2 0zm5 0zm1 0zm5 0zm4 0zm4 0zm-69 1zm25 0zm2 0zm6 0zm14 0zm1 0zm14 0zm-62 1zm14 0zm3 0zm6 0zm14 0zm6 0zm4 0zm3 0zm1 0zm1 0zm3 0zm6 0zm6 0zm3 0zm-56 1zm3 0zm5 0zm1 0zm2 0zm9 0zm5 0zm8 0zm6 0zm2 0zm1 0zm13 0zm-57 1zm9 0zm3 0zm17 0zm3 0zm5 0zm1 0zm1 0zm1 0zm1 0zm15 0zm1 0zm-54 1zm15 0zm4 0zm10 0zm2 0zm4 0zm1 0zm10 0zm5 0zm-61 1zm1 0zm4 0zm2 0zm3 0zm23 0zm8 0zm1 0zm2 0zm1 0zm2 0zm5 0zm3 0zm1 0zm1 0zm1 0zm1 0zm3 0zm3 0zm-65 1zm1 0zm1 0zm3 0zm8 0zm7 0zm7 0zm1 0zm10 0zm2 0zm6 0zm13 0zm2 0zm3 0zm-65 1zm5 0zm5 0zm6 0zm11 0zm2 0zm12 0zm3 0zm1 0zm2 0zm4 0zm1 0zm1 0zm5 0zm5 0zm1 0zm-63 1zm1 0zm1 0zm8 0zm3 0zm27 0zm1 0zm9 0zm7 0zm4 0zm-59 1zm2 0zm13 0zm6 0zm1 0zm3 0zm6 0zm2 0zm1 0zm1 0zm10 0zm3 0zm15 0zm-45 1zm10 0zm7 0zm18 0zm2 0zm1 0zm1 0zm1 0zm2 0zm2 0zm-61 1zm1 0zm8 0zm10 0zm2 0zm20 0zm1 0zm5 0zm5 0zm1 0zm2 0zm-54 1zm5 0zm3 0zm2 0zm10 0zm9 0zm1 0zm11 0zm9 0zm3 0zm-46 1zm1 0zm12 0zm2 0zm3 0zm31 0zm-48 1zm22 0zm2 0zm6 0zm12 0zm4 0zm5 0zm-53 1zm13 0zm5 0zm4 0zm10 0zm1 0zm3 0zm4 0zm10 0zm3 0zm2 0zm-46 1zm27 0zm9 0zm6 0zm2 0zm-56 1zm1 0zm5 0zm7 0zm2 0zm4 0zm2 0zm3 0zm5 0zm7 0zm6 0zm2 0zm2 0zm3 0zm5 0zm-51 1zm12 0zm9 0zm2 0zm8 0zm1 0zm1 0zm8 0zm14 0zm-51 1zm3 0zm5 0zm5 0zm2 0zm2 0zm6 0zm3 0zm3 0zm4 0zm2 0zm2 0zm4 0zm2 0zm-48 1zm4 0zm1 0zm1 0zm6 0zm17 0zm2 0zm1 0zm8 0zm4 0zm5 0zm3 0zm-53 1zm2 0zm5 0zm27 0zm10 0zm9 0zm-52 1zm2 0zm6 0zm3 0zm9 0zm7 0zm1 0zm1 0zm2 0zm12 0zm3 0zm7 0zm-54 1zm8 0zm7 0zm9 0zm2 0zm13 0zm4 0zm-26 1zm3 0zm4 0zm1 0zm7 0zm1 0zm1 0zm5 0zm2 0zm10 0zm-48 1zm13 0zm2 0zm4 0zm4 0zm3 0zm8 0zm11 0zm4 0zm2 0zm2 0zm-52 1zm1 0zm4 0zm3 0zm1 0zm6 0zm2 0zm12 0zm3 0zm1 0zm2 0zm2 0zm6 0zm8 0zm2 0zm-28 1zm5 0zm2 0zm6 0zm3 0zm3 0zm-33 1zm6 0zm5 0zm8 0zm6 0zm5 0zm7 0zm5 0zm-48 1zm2 0zm5 0zm12 0zm1 0zm4 0zm5 0zm7 0zm4 0zm4 0zm4 0zm-44 1zm4 0zm7 0zm25 0zm1 0zm5 0zm1 0zm-43 1zm7 0zm6 0zm2 0zm1 0zm25 0zm2 0zm-48 1zm3 0zm5 0zm1 0zm8 0zm2 0zm2 0zm27 0zm-43 1zm1 0zm11 0zm9 0zm2 0zm2 0zm1 0zm4 0zm3 0zm1 0zm-23 1zm3 0zm2 0zm5 0zm1 0zm18 0zm-41 1zm8 0zm6 0zm1 0zm8 0zm4 0zm11 0zm6 0zm1 0zm-47 1zm8 0zm9 0zm19 0zm6 0zm3 0zm-40 1zm9 0zm4 0zm1 0zm4 0zm22 0zm-43 1zm1 0zm1 0zm8 0zm8 0zm2 0zm5 0zm13 0zm-38 1zm7 0zm2 0zm3 0zm3 0zm2 0zm3 0zm4 0zm9 0zm3 0zm7 0zm-38 1zm6 0zm22 0zm4 0zm1 0zm-31 1zm1 0zm2 0zm7 0zm4 0zm2 0zm1 0zm2 0zm3 0zm9 0zm2 0zm-29 1zm13 0zm1 0zm3 0zm6 0zm11 0zm-37 1zm2 0zm4 0zm3 0zm14 0zm8 0zm-26 1zm8 0zm12 0zm12 0zm-42 1zm20 0zm3 0zm3 0zm1 0zm1 0zm9 0zm4 0zm-36 1zm9 0zm17 0zm6 0zm1 0zm4 0zm-30 1zm1 0zm2 0zm7 0zm17 0zm-36 1zm1 0zm1 0zm2 0zm16 0zm8 0zm3 0zm8 0zm-22 1zm4 0zm2 1zm1 0zm1 0zm7 0zm2 0z"/><path class="D" stroke="#f00" d="M1442.5 333.5zm0 3zm-28 8zm-53 16zm-36 7zm-2 2zm3 1zm-77 17zm-27 3zm-102 6zm-156 1zm-1 2zm103 72zm5 0zm-125 1zm73 0zm37 0zm17 0zm32 0zm14 0zm3 0zm14 0zm-192 1zm23 0zm3 0zm6 0zm17 0zm83 0zm26 0zm13 0zm21 0zm17 0zm-229 1zm14 0zm15 0zm24 0zm14 0zm3 0zm54 0zm7 0zm15 0zm48 0zm-196 1zm8 0zm35 0zm1 0zm5 0zm5 0zm16 0zm20 0zm4 0zm87 0zm-177 1zm3 0zm14 0zm16 0zm8 0zm8 0zm10 0zm3 0zm2 0zm27 0zm30 0zm39 0zm55 0zm47 0zm-226 1zm1 0zm56 0zm59 0zm24 0zm21 0zm15 0zm2 0zm3 0zm5 0zm2 0zm5 0zm2 0zm22 0zm-113 1zm24 0zm53 0zm-133 1zm54 0zm45 0zm26 0zm52 0zm-232 1zm10 0zm169 0zm55 0zm21 1zm4 0zm10 0zm-13 2zm17 0zm1 0zm-43 1zm13 0zm19 0zm14 0zm1 0zm3 0zm-17 1zm16 0zm-18 1zm22 0zm3 0zm-12 1zm1 0zm18 1zm0 2zm6 0zm0 3zm5 1zm2 1zm4 0zm-7 1zm0 1zm3 0zm14 0zm-5 2zm-2 1zm-1 1zm2 0zm7 0zm3 1zm9 2zm-6 1zm1 0zm0 2zm12 4zm7 1zm-1 1zm2 2zm5 2zm10 1zm-23 1zm18 0zm4 2zm-5 2zm2 1zm10 0zm3 0zm1 2zm7 4zm-6 1zm4 1zm5 1zm-3 2zm5 4zm7 0zm3 6zm-1 1zm5 2zm3 2zm-1 3zm2 0zm1 0zm1 2zm2 1zm7 8zm-3 3zm9 10zm1 0zm2 3zm-2 1zm8 7zm1 2zm1 0zm-1 3zm7 7zm1 0zm2 2zm5 10zm-2 1zm4 0zm1 7zm3 0zm4 7zm1 2zm-2 2zm3 0zm-1 1z"/><path class="s1" stroke="#fff" d="M1433.5 345.5zm-11 30zm14 6zm-3 4zm-106 1zm92 1zm-169 4zm178 0zm-69 11zm-43 5zm99 3zm-93 1zm77 2zm58 8zm-65 1zm24 0zm37 1zm-92 2zm-43 4zm119 4zm-31 1zm-62 7zm28 0zm66 2zm13 1zm-112 3zm35 4zm-23 9zm-189 1zm-228 1zm56 0zm130 0zm235 0zm-431 1zm129 1zm20 0zm380 0zm-350 1zm323 0zm-313 1zm-71 1zm72 0zm14 0zm-13 1zm75 1zm-13 1zm3 0zm5 0zm269 0zm-104 1zm99 0zm-249 1zm13 0zm204 3zm-185 1zm2 0zm192 1zm-6 1zm25 0zm-31 2zm-75 1zm76 3zm1 0zm6 1zm0 1zm-160 2zm76 5zm98 3zm8 3zm-8 2zm-72 3zm-57 3zm129 1zm-7 3zm16 2zm-108 6zm12 1zm-6 1zm72 11zm1 1zm40 11zm-81 5zm23 6zm-16 3zm5 1zm11 27zm27 0zm-34 1zm6 0zm36 47zm-10 1zm2 0z"/><path class="s2" stroke="#fff" d="M1416 351zm-9 20zm-62 6zm42 1zm55 12zm-2 1zm-105 9zm40 1zm-22 1zm27 2zm32 2zm7 1zm-57 3zm-33 1zm21 3zm62 1zm-53 1zm-25 2zm62 0zm53 3zm6 0zm-52 4zm-5 2zm-49 2zm43 2zm8 1zm-12 3zm-47 5zm37 7zm-35 1zm39 2zm-461 13zm423 0zm-275 1zm365 0zm-372 1zm43 0zm5 0zm39 0zm-133 1zm84 0zm-109 1zm19 0zm11 0zm10 0zm86 0zm314 0zm-398 1zm1 0zm8 0zm50 0zm51 0zm-134 1zm27 0zm416 0zm-193 1zm-42 2zm200 1zm7 1zm-187 3zm8 0zm200 2zm-122 2zm115 0zm-22 1zm7 2zm12 6zm-165 1zm169 5zm-73 4zm1 6zm65 0zm6 8zm6 0zm-9 3zm5 0zm-102 4zm77 9zm42 10zm-56 12zm-12 4zm7 0zm-12 2zm-1 1zm-1 2zm75 4zm-68 1zm-1 17zm6 1zm31 2zm-34 1zm34 47zm6 0zm2 0zm-10 1zm3 1z"/><path d="M905.0 155.4L906.5 155.4L908.0 155.3L909.5 154.4L911.0 154.6L912.5 155.3L914.0 154.9L915.5 155.4L917.0 155.1L918.5 155.3L920.0 154.6L921.5 155.4L923.0 155.5L924.5 154.8L926.0 155.2L927.5 154.1L929.0 155.0L930.5 154.9L932.0 154.9L933.5 155.1L935.0 155.4L936.5 154.6L938.0 155.1L939.5 154.6L941.0 155.4L942.5 155.3L944.0 156.1L945.5 155.5L947.0 154.9L948.5 155.1L950.0 154.9L951.6 155.0L953.1 154.8L954.6 154.5L956.1 155.7L957.6 155.6L959.1 154.6L960.6 155.2L962.1 155.1L963.6 155.9L965.1 154.7L966.6 155.0L968.1 156.1L969.6 155.7L971.1 155.0L972.6 155.8L974.1 155.1L975.6 155.1L977.1 154.7L978.6 155.4L980.1 155.6L981.6 155.6L983.1 155.3L984.6 155.3L986.1 154.6L987.6 156.3L989.1 155.9L990.6 155.4L992.1 154.9L993.6 155.1L995.1 156.1L996.6 155.2L998.1 155.8L999.6 155.6L1001.1 156.1L1002.6 155.1L1004.1 155.6L1005.6 156.0L1007.1 155.3L1008.6 156.9L1010.1 155.2L1011.6 155.3L1013.1 156.2L1014.6 154.9L1016.1 155.5L1017.6 156.6L1019.1 156.4L1020.6 155.3L1022.1 155.3L1023.6 155.5L1025.1 156.0L1026.6 155.4L1028.1 155.8L1029.6 155.8L1031.2 155.3L1032.6 156.2L1034.2 155.6L1035.6 156.3L1037.1 156.5L1038.7 155.7L1040.2 155.9L1041.7 155.9L1043.2 156.5L1044.7 156.0L1046.2 155.1L1047.7 156.9L1049.2 156.7L1050.7 156.3L1052.2 156.0L1053.7 155.5L1055.2 156.5L1056.7 156.3L1058.2 156.7L1059.7 156.6L1061.2 157.5L1062.7 156.7L1064.2 157.0L1065.7 156.9L1067.2 157.0L1068.7 156.8L1070.2 156.4L1071.7 157.0L1073.2 156.6L1074.7 157.5L1076.2 157.0L1077.7 157.2L1079.2 157.5L1080.7 156.8L1082.2 157.6L1083.7 157.9L1085.2 157.2L1086.8 157.1L1088.3 157.1L1089.7 157.7L1091.3 157.4L1092.8 157.4L1094.3 157.6L1095.7 158.0L1097.3 157.0L1098.8 157.3L1100.3 157.9L1101.8 157.6L1103.3 158.1L1104.8 157.4L1106.3 158.3L1107.8 157.8L1109.3 157.7L1110.8 157.9L1112.3 158.1L1113.8 157.7L1115.3 157.9L1116.8 157.9L1118.3 159.4L1119.8 158.5L1121.4 157.6L1122.8 158.7L1124.3 159.1L1125.9 158.7L1127.4 159.0L1128.9 159.1L1130.4 158.7L1132.0 157.9L1133.4 159.2L1135.0 158.6L1136.5 159.6L1138.0 158.3L1139.5 159.2L1141.0 159.5L1142.5 159.5L1144.0 160.0L1145.5 160.0L1147.1 159.9L1148.6 160.2L1150.1 160.1L1151.6 160.7L1153.1 160.0L1154.6 160.3L1156.2 160.3L1157.7 160.5L1159.2 160.8L1160.6 161.8L1162.1 161.3L1163.7 160.6L1165.2 161.7L1166.7 161.2L1168.1 162.2L1169.7 161.8L1171.2 162.1L1172.7 162.1L1174.2 162.2L1175.7 162.4L1177.3 162.1L1178.8 162.3L1180.3 162.5L1181.8 162.7L1183.2 163.7L1184.7 163.5L1186.2 163.4L1187.7 163.5L1189.2 163.6L1190.7 164.1L1192.3 163.1L1193.7 164.3L1195.2 164.1L1196.7 165.3L1198.3 164.8L1199.8 165.0L1201.3 165.2L1202.9 164.8L1204.3 166.1L1205.9 165.6L1207.4 166.5L1209.1 165.5L1210.4 166.7L1211.9 167.4L1213.6 166.7L1214.9 168.1L1216.4 168.1L1218.0 168.1L1219.5 168.4L1220.9 169.2L1222.5 169.0L1224.0 169.3L1225.4 169.9L1227.0 169.8L1228.3 171.0L1230.1 170.2L1231.5 170.7L1233.0 171.0L1234.4 171.8L1236.0 171.3L1237.4 172.1L1238.8 172.7L1240.3 173.1L1242.0 172.6L1243.2 173.8L1244.7 174.0L1246.3 174.0L1247.7 174.7L1249.3 174.3L1250.6 175.1L1252.1 175.3L1253.5 176.1L1255.2 175.5L1256.3 177.5L1258.3 175.7L1259.4 177.7L1261.1 177.3L1262.4 178.2L1264.1 177.8L1265.5 178.6L1267.0 178.8L1268.3 180.3L1269.8 180.5L1271.4 180.6L1272.9 181.1L1274.7 180.3L1276.3 180.5L1277.6 181.5L1279.1 181.8L1280.6 182.3L1282.0 183.1L1283.5 183.4L1284.9 184.3L1286.7 183.8L1287.9 185.0L1289.2 186.0L1290.9 185.7L1292.2 186.9L1293.6 187.4L1295.2 187.5L1296.8 187.8L1298.1 188.6L1299.7 188.9L1300.9 189.9L1302.3 190.6L1303.8 191.3L1305.0 192.4L1306.6 192.6L1308.2 192.9L1309.2 194.5L1311.1 194.4L1312.7 194.7L1313.8 196.1L1315.5 196.4L1316.8 197.3L1317.9 198.7L1319.5 199.1L1320.6 200.5L1322.0 201.3L1323.7 201.6L1325.0 202.6L1325.9 204.2L1327.8 204.2L1328.7 205.8L1329.8 207.0L1331.3 207.6L1332.8 208.3L1334.4 208.9L1335.1 210.6L1336.3 211.7L1338.0 212.1L1339.2 213.1L1340.6 213.8L1341.8 214.9L1343.7 215.1L1344.4 216.6L1344.8 218.5L1346.0 219.5L1347.3 220.3L1348.1 221.7L1350.0 221.9L1350.4 223.7L1351.1 225.1L1352.6 225.8L1354.1 226.5L1355.0 227.7L1355.8 229.1L1357.6 229.6L1358.3 231.0L1359.6 232.0L1360.2 233.5L1361.7 234.2L1362.9 235.3L1363.6 236.7L1364.4 238.1L1365.0 239.6L1366.6 240.4L1367.8 241.4L1368.7 242.7L1369.3 244.2L1370.2 245.5L1371.2 246.6L1371.8 248.2L1373.5 248.9L1374.0 250.5L1374.2 252.2L1375.8 253.1L1376.6 254.4L1376.6 256.3L1378.2 257.1L1379.3 258.3L1379.8 259.8L1381.4 260.6L1382.7 261.6L1382.9 263.3L1383.9 264.6L1384.8 265.9L1386.2 266.8L1386.0 268.8L1387.1 269.9L1388.5 270.9L1388.5 272.7L1389.4 274.0L1390.1 275.4L1391.3 276.4L1392.3 277.6L1392.7 279.1L1393.7 280.3L1394.1 281.8L1395.5 282.8L1396.2 284.1L1397.0 285.3L1397.7 286.7L1398.2 288.2L1398.8 289.5L1399.5 290.9L1399.7 292.6L1401.4 293.4L1401.2 295.2L1403.4 295.7L1403.8 297.2L1403.5 299.2L1405.3 299.9L1405.9 301.4L1406.8 302.6L1407.4 304.0L1408.3 305.3L1408.8 306.8L1410.0 307.9L1410.2 309.5L1410.8 310.9L1411.6 312.3L1412.8 313.4L1413.2 314.9L1413.9 316.3L1414.9 317.5L1415.2 319.1L1416.2 320.3L1416.7 321.8L1417.0 323.3L1417.4 324.8L1418.8 325.9L1418.7 327.6L1419.5 328.9L1420.3 330.3L1420.8 331.7L1421.8 332.9L1422.5 334.3L1423.2 335.7L1424.0 337.0L1423.9 338.7L1425.3 339.8L1425.3 341.5L1426.1 342.8L1426.3 344.4L1426.9 345.8L1427.5 347.2L1428.0 348.6L1429.4 349.7L1429.1 351.5L1429.1 353.1L1429.9 354.4L1431.2 355.6L1431.3 357.2L1431.3 358.8L1432.5 360.0L1433.0 361.4L1433.9 362.7L1434.0 364.2L1434.5 365.6L1434.1 367.4L1435.3 368.5L1435.2 370.2L1436.9 371.2L1437.4 372.6L1437.6 374.1L1437.2 375.8L1438.4 376.9L1439.4 378.2L1439.6 379.7L1440.7 380.8L1440.7 382.4L1440.8 384.0L1441.2 385.5L1442.1 386.8L1443.2 388.0L1443.6 389.4L1444.4 390.7L1443.3 392.8L1444.5 393.9L1445.4 395.2L1445.3 396.8L1446.0 398.2L1446.9 399.4L1447.2 400.9L1447.6 402.4L1448.3 403.7L1448.8 405.1L1448.8 406.7L1449.0 408.2L1450.1 409.4L1451.0 410.7L1451.0 412.3L1451.6 413.6L1452.4 414.9L1452.9 416.3L1453.8 417.6L1454.2 419.0L1454.9 420.3L1454.7 422.0L1455.3 423.3L1455.8 424.7L1457.3 425.7L1457.0 427.4L1457.8 428.7L1458.4 430.0L1458.7 431.5L1458.1 433.3L1460.1 434.1L1461.1 435.3L1461.4 436.7L1461.8 438.2L1462.5 439.5L1462.4 441.2L1463.4 442.4L1463.2 444.1L1464.4 445.2L1465.7 446.2L1465.4 448.0L1466.6 449.1L1466.4 450.8L1467.6 452.0L1468.4 453.3L1468.0 455.1L1469.2 456.2L1470.4 457.3L1470.3 459.0L1472.3 459.9L1471.8 461.7L1472.4 463.1L1473.0 464.5L1473.2 466.1L1474.4 467.2L1474.6 468.8L1475.1 470.3L1476.0 471.5L1476.6 472.9L1476.2 474.7L1477.3 475.9L1477.0 477.7L1479.0 478.5L1479.2 480.1L1479.9 481.4L1480.4 482.9L1480.8 484.3L1481.5 485.7L1481.8 487.2L1482.2 488.6L1482.8 490.0L1483.3 491.5L1483.9 492.9L1483.6 494.6L1485.7 495.5L1468.5 501.6L1468.5 500.0L1467.6 498.7L1467.1 497.3L1466.2 496.1L1466.7 494.3L1465.8 493.1L1465.5 491.6L1465.1 490.2L1464.5 488.8L1463.6 487.6L1463.7 485.9L1462.0 485.0L1462.2 483.3L1461.4 482.1L1461.3 480.5L1460.9 479.1L1460.7 477.6L1459.5 476.4L1459.3 474.9L1459.1 473.4L1457.2 472.6L1457.3 471.0L1456.9 469.6L1456.8 468.0L1455.6 466.9L1454.8 465.6L1454.7 464.0L1454.0 462.8L1452.5 461.8L1452.5 460.1L1452.2 458.7L1451.6 457.3L1450.4 456.2L1449.3 455.0L1450.6 452.8L1448.4 452.1L1448.4 450.5L1448.4 448.8L1447.4 447.6L1446.2 446.5L1446.3 444.8L1445.4 443.5L1444.3 442.3L1444.0 440.8L1443.5 439.4L1442.9 438.0L1442.2 436.6L1442.2 434.9L1441.1 433.7L1440.3 432.4L1439.6 431.0L1439.9 429.3L1439.3 427.9L1438.2 426.7L1438.4 425.0L1438.0 423.5L1436.7 422.4L1436.3 420.9L1436.5 419.2L1436.1 417.8L1435.1 416.5L1434.3 415.2L1435.1 413.3L1433.4 412.4L1433.1 410.9L1432.8 409.4L1432.0 408.1L1432.5 406.3L1430.9 405.3L1430.4 403.9L1429.6 402.6L1429.8 400.9L1428.9 399.6L1427.8 398.4L1427.9 396.8L1426.5 395.7L1426.8 394.0L1426.0 392.7L1425.6 391.3L1424.8 390.0L1424.5 388.5L1424.2 387.0L1423.0 385.8L1422.8 384.3L1422.7 382.7L1423.2 380.9L1422.0 379.8L1421.0 378.5L1419.9 377.3L1420.6 375.4L1420.6 373.8L1418.1 373.1L1417.8 371.6L1416.8 370.4L1417.1 368.7L1416.2 367.4L1416.6 365.7L1416.0 364.3L1415.7 362.8L1415.5 361.4L1414.1 360.3L1413.9 358.8L1413.4 357.4L1413.0 356.0L1412.7 354.5L1411.7 353.3L1411.7 351.7L1410.9 350.5L1410.5 349.0L1409.2 348.0L1408.9 346.6L1408.9 345.0L1408.2 343.7L1406.9 342.7L1406.7 341.2L1406.3 339.8L1406.2 338.2L1405.0 337.2L1404.9 335.6L1403.5 334.6L1403.6 333.0L1402.4 331.9L1402.1 330.5L1401.1 329.3L1399.9 328.3L1399.7 326.7L1399.4 325.2L1398.5 324.0L1397.5 322.9L1397.2 321.4L1396.2 320.2L1395.3 319.1L1394.3 317.9L1394.7 316.0L1393.2 315.1L1392.7 313.7L1392.6 312.1L1392.0 310.8L1390.5 309.9L1390.6 308.2L1389.5 307.1L1389.1 305.7L1388.6 304.3L1387.5 303.2L1386.9 301.8L1385.9 300.8L1385.1 299.5L1384.6 298.1L1384.4 296.5L1382.7 295.9L1383.0 293.9L1381.6 293.0L1380.4 292.0L1379.6 290.8L1379.0 289.4L1378.0 288.2L1378.0 286.5L1377.5 285.0L1376.1 284.1L1375.5 282.7L1374.4 281.6L1373.6 280.3L1372.8 279.0L1371.8 277.9L1371.4 276.4L1370.4 275.2L1369.4 274.0L1368.4 272.9L1367.7 271.6L1366.5 270.6L1366.4 268.9L1364.6 268.3L1364.3 266.7L1363.7 265.3L1362.7 264.2L1361.4 263.2L1360.8 261.8L1360.2 260.4L1359.1 259.4L1358.5 258.0L1357.3 257.1L1356.7 255.7L1355.7 254.7L1354.6 253.7L1353.9 252.3L1352.7 251.4L1352.0 250.2L1351.3 248.9L1350.5 247.7L1349.5 246.7L1349.1 245.1L1347.7 244.5L1346.7 243.5L1345.9 242.3L1344.8 241.5L1344.0 240.4L1342.9 239.4L1341.6 238.8L1341.0 237.5L1340.1 236.5L1339.1 235.5L1337.4 235.4L1336.5 234.4L1335.8 233.1L1334.2 232.8L1334.2 230.7L1332.4 230.6L1332.0 228.9L1330.3 228.6L1329.5 227.5L1328.7 226.1L1327.5 225.3L1326.3 224.4L1324.8 224.0L1324.2 222.4L1322.7 221.9L1321.2 221.6L1319.9 220.9L1318.9 219.7L1317.6 219.0L1316.4 218.2L1315.3 217.2L1314.6 215.6L1313.1 215.2L1312.2 214.0L1310.3 214.3L1309.2 213.3L1308.5 211.7L1306.9 211.4L1305.7 210.7L1304.3 210.4L1302.9 210.0L1302.2 208.3L1300.9 207.6L1299.2 208.1L1297.7 208.0L1296.8 206.8L1295.8 205.6L1294.5 205.4L1293.0 205.3L1291.6 205.1L1290.5 204.1L1289.2 203.7L1288.1 202.6L1286.4 203.1L1285.3 202.1L1283.9 201.6L1282.8 200.5L1281.3 200.3L1279.8 200.4L1278.3 200.3L1277.1 199.3L1275.7 198.8L1274.3 198.6L1272.9 198.1L1271.4 197.9L1270.0 197.5L1268.6 197.0L1267.0 197.0L1265.7 196.2L1264.3 195.8L1262.8 195.4L1261.5 194.8L1260.0 194.3L1258.5 194.3L1257.0 193.9L1255.6 193.5L1254.0 193.7L1252.5 193.4L1251.2 192.7L1249.9 191.6L1248.1 192.7L1246.9 191.3L1245.5 190.5L1243.9 191.1L1242.3 191.2L1241.1 189.9L1239.5 190.1L1238.1 189.6L1236.6 189.6L1235.3 188.6L1233.8 188.5L1232.1 189.2L1230.9 187.7L1229.4 187.5L1228.0 187.1L1226.5 186.7L1224.9 187.4L1223.5 186.9L1222.1 186.1L1220.6 185.9L1219.3 185.2L1218.0 184.2L1216.3 185.0L1214.9 184.6L1213.4 184.7L1211.9 184.5L1210.6 183.4L1209.1 183.4L1207.6 183.7L1206.1 183.7L1204.8 182.8L1203.4 182.2L1201.8 182.8L1200.4 182.2L1199.2 180.9L1197.5 181.9L1196.1 181.6L1194.6 181.9L1193.3 181.2L1191.8 181.4L1190.3 181.2L1188.8 180.8L1187.3 180.7L1185.9 180.3L1184.4 180.1L1183.0 179.7L1181.4 180.4L1180.0 179.9L1178.5 179.3L1177.0 179.2L1175.5 179.6L1174.0 180.0L1172.6 178.8L1171.1 179.1L1169.6 178.2L1168.1 178.2L1166.7 178.1L1165.1 178.8L1163.7 177.8L1162.2 178.1L1160.7 177.8L1159.2 177.9L1157.7 177.8L1156.2 178.1L1154.7 177.6L1153.3 177.1L1151.8 176.7L1150.3 177.5L1148.8 177.0L1147.4 176.5L1145.9 175.9L1144.3 176.7L1142.8 176.7L1141.3 177.7L1139.8 177.3L1138.4 176.5L1136.9 176.7L1135.5 175.5L1133.9 176.9L1132.4 176.2L1131.0 175.7L1129.5 176.0L1128.0 175.9L1126.5 176.8L1125.0 175.7L1123.5 175.9L1122.0 175.7L1120.6 175.7L1119.1 175.4L1117.6 174.7L1116.1 175.9L1114.7 174.6L1113.1 175.5L1111.6 175.6L1110.2 174.4L1108.7 174.7L1107.2 174.8L1105.7 174.4L1104.2 174.5L1102.7 174.7L1101.2 175.0L1099.7 174.5L1098.2 174.0L1096.7 174.6L1095.2 174.5L1093.7 174.4L1092.2 174.3L1090.7 175.1L1089.2 174.3L1087.7 174.1L1086.3 174.0L1084.7 174.4L1083.2 174.3L1081.8 173.3L1080.3 173.8L1078.8 173.7L1077.3 173.6L1075.8 173.2L1074.3 173.9L1072.8 174.7L1071.3 173.7L1069.8 173.7L1068.3 174.0L1066.8 173.9L1065.3 174.1L1063.8 173.8L1062.3 173.1L1060.8 172.7L1059.3 173.6L1057.8 173.8L1056.3 173.4L1054.8 173.4L1053.3 173.3L1051.8 173.7L1050.3 173.1L1048.8 173.6L1047.3 172.6L1045.8 173.3L1044.3 174.0L1042.8 172.7L1041.3 173.0L1039.9 172.8L1038.3 173.0L1036.9 172.3L1035.3 173.5L1033.9 173.1L1032.4 173.1L1030.9 173.1L1029.4 173.6L1027.9 172.5L1026.4 172.5L1024.9 173.0L1023.4 172.8L1021.9 172.1L1020.4 172.2L1018.9 172.9L1017.4 172.5L1015.9 172.6L1014.4 173.2L1012.9 172.3L1011.4 172.5L1009.9 173.0L1008.4 172.2L1006.9 173.0L1005.4 172.3L1003.9 172.7L1002.4 172.6L1000.9 172.6L999.4 172.4L997.9 172.1L996.4 172.0L994.9 172.3L993.4 172.3L991.9 172.9L990.4 172.4L988.9 173.0L987.4 171.8L985.9 172.6L984.4 170.5L982.9 171.9L981.4 171.9L979.9 172.5L978.4 172.4L976.9 172.4L975.4 172.6L973.9 172.2L972.4 171.8L970.9 171.7L969.4 172.3L967.9 172.1L966.4 172.4L964.9 172.7L963.4 172.1L961.9 172.7L960.4 172.6L958.9 172.1L957.4 172.4L955.9 172.5L954.4 172.0L952.9 172.0L951.5 172.1L950.0 171.9L948.5 171.7L947.0 172.7L945.5 172.0L944.0 172.2L942.5 171.6L941.0 171.4L939.5 172.3L938.0 172.0L936.5 171.7L935.0 172.6L933.5 172.2L932.0 172.3L930.5 171.5L929.0 173.0L927.5 172.2L926.0 172.2L924.5 171.5L923.0 172.5L921.5 172.8L920.0 171.8L918.5 172.1L917.0 171.8L915.5 172.2L914.0 171.7L912.5 172.0L911.0 172.3L909.5 172.6L908.0 171.4L906.5 172.2L905.0 172.8Z" fill="#0000f5"/></g><text x="8.0" y="29.6" font-size="30.5" text-anchor="start" font-weight="bold">A</text><text x="797.8" y="30.0" font-size="30.5" text-anchor="start" font-weight="bold">B</text><text transform="translate(41.6,148.6) rotate(-90)" font-size="31.5" letter-spacing="0.3">BR(H<tspan font-size="22.5" dy="-13.5">++</tspan><tspan dy="13.5" dx="-3">)</tspan></text><text transform="translate(820.2,155.4) rotate(-90)" font-size="31.5" letter-spacing="0.3">BR(H<tspan font-size="22.5" dy="-13.5">++</tspan><tspan dy="13.5" dx="-3">)</tspan></text><text x="93.9" y="46.4" font-size="31.5" text-anchor="start" >1</text><text x="65.2" y="246.4" font-size="31.5" text-anchor="start" >10</text><text x="111.2" y="216.9" font-size="24.5" text-anchor="start" >-1</text><text x="65.2" y="446.2" font-size="31.5" text-anchor="start" >10</text><text x="111.2" y="416.7" font-size="24.5" text-anchor="start" >-2</text><text x="65.2" y="645.9" font-size="31.5" text-anchor="start" >10</text><text x="111.2" y="616.4" font-size="24.5" text-anchor="start" >-3</text><text x="116.6" y="695.0" font-size="31.5" text-anchor="start" >10</text><text x="157.7" y="670.7" font-size="24.5" text-anchor="start" >-4</text><text x="307.2" y="695.0" font-size="31.5" text-anchor="start" >10</text><text x="349.4" y="670.7" font-size="24.5" text-anchor="start" >-3</text><text x="498.6" y="695.0" font-size="31.5" text-anchor="start" >10</text><text x="541.9" y="670.7" font-size="24.5" text-anchor="start" >-2</text><text x="690.0" y="695.0" font-size="31.5" text-anchor="start" >10</text><text x="734.2" y="670.7" font-size="24.5" text-anchor="start" >-1</text><text x="611.0" y="724.7" font-size="31.5" text-anchor="start" >m</text><text x="638.2" y="735.6" font-size="22.5" text-anchor="start" >1</text><text x="660.4" y="724.7" font-size="31.5" text-anchor="start" letter-spacing="-0.4">(eV)</text><text x="198.5" y="90.9" font-size="36.0" text-anchor="start" class="g" style="fill:#0000c8;stroke:#0000c8;stroke-width:0.7">μτ</text><text x="201.0" y="277.0" font-size="31.5" text-anchor="start" >e</text><text x="218.0" y="277.0" font-size="36.0" text-anchor="start" class="g">μ</text><text x="336.0" y="277.0" font-size="31.5" text-anchor="start" style="fill:#e00000">e</text><text x="351.5" y="277.0" font-size="36.0" text-anchor="start" class="g" style="fill:#e00000">τ</text><text x="661.0" y="90.9" font-size="31.5" text-anchor="start" >NH</text><text x="871.0" y="52.4" font-size="31.5" text-anchor="start" >1</text><text x="843.4" y="249.7" font-size="31.5" text-anchor="start" >10</text><text x="889.8" y="221.7" font-size="24.5" text-anchor="start" >-1</text><text x="843.4" y="447.2" font-size="31.5" text-anchor="start" >10</text><text x="889.8" y="419.2" font-size="24.5" text-anchor="start" >-2</text><text x="843.4" y="644.6" font-size="31.5" text-anchor="start" >10</text><text x="889.8" y="616.6" font-size="24.5" text-anchor="start" >-3</text><text x="893.3" y="695.1" font-size="31.5" text-anchor="start" >10</text><text x="936.2" y="671.0" font-size="24.5" text-anchor="start" >-4</text><text x="1082.8" y="695.1" font-size="31.5" text-anchor="start" >10</text><text x="1126.1" y="671.0" font-size="24.5" text-anchor="start" >-3</text><text x="1272.8" y="695.1" font-size="31.5" text-anchor="start" >10</text><text x="1316.6" y="671.0" font-size="24.5" text-anchor="start" >-2</text><text x="1462.6" y="695.1" font-size="31.5" text-anchor="start" >10</text><text x="1506.4" y="671.0" font-size="24.5" text-anchor="start" >-1</text><text x="1385.0" y="725.4" font-size="31.5" text-anchor="start" >m</text><text x="1411.6" y="735.4" font-size="22.5" text-anchor="start" >3</text><text x="1433.3" y="725.4" font-size="31.5" text-anchor="start" letter-spacing="-0.4">(eV)</text><text x="976.4" y="130.8" font-size="36.0" text-anchor="start" class="g" style="fill:#0000c8">μτ</text><text x="978.2" y="369.4" font-size="31.5" text-anchor="start" >e</text><text x="994.5" y="369.4" font-size="36.0" text-anchor="start" class="g">μ</text><text x="1111.4" y="369.4" font-size="31.5" text-anchor="start" style="fill:#e00000">e</text><text x="1127.5" y="369.4" font-size="36.0" text-anchor="start" class="g" style="fill:#e00000">τ</text><text x="1434.6" y="96.8" font-size="31.5" text-anchor="start" >IH</text></svg></body></html>
